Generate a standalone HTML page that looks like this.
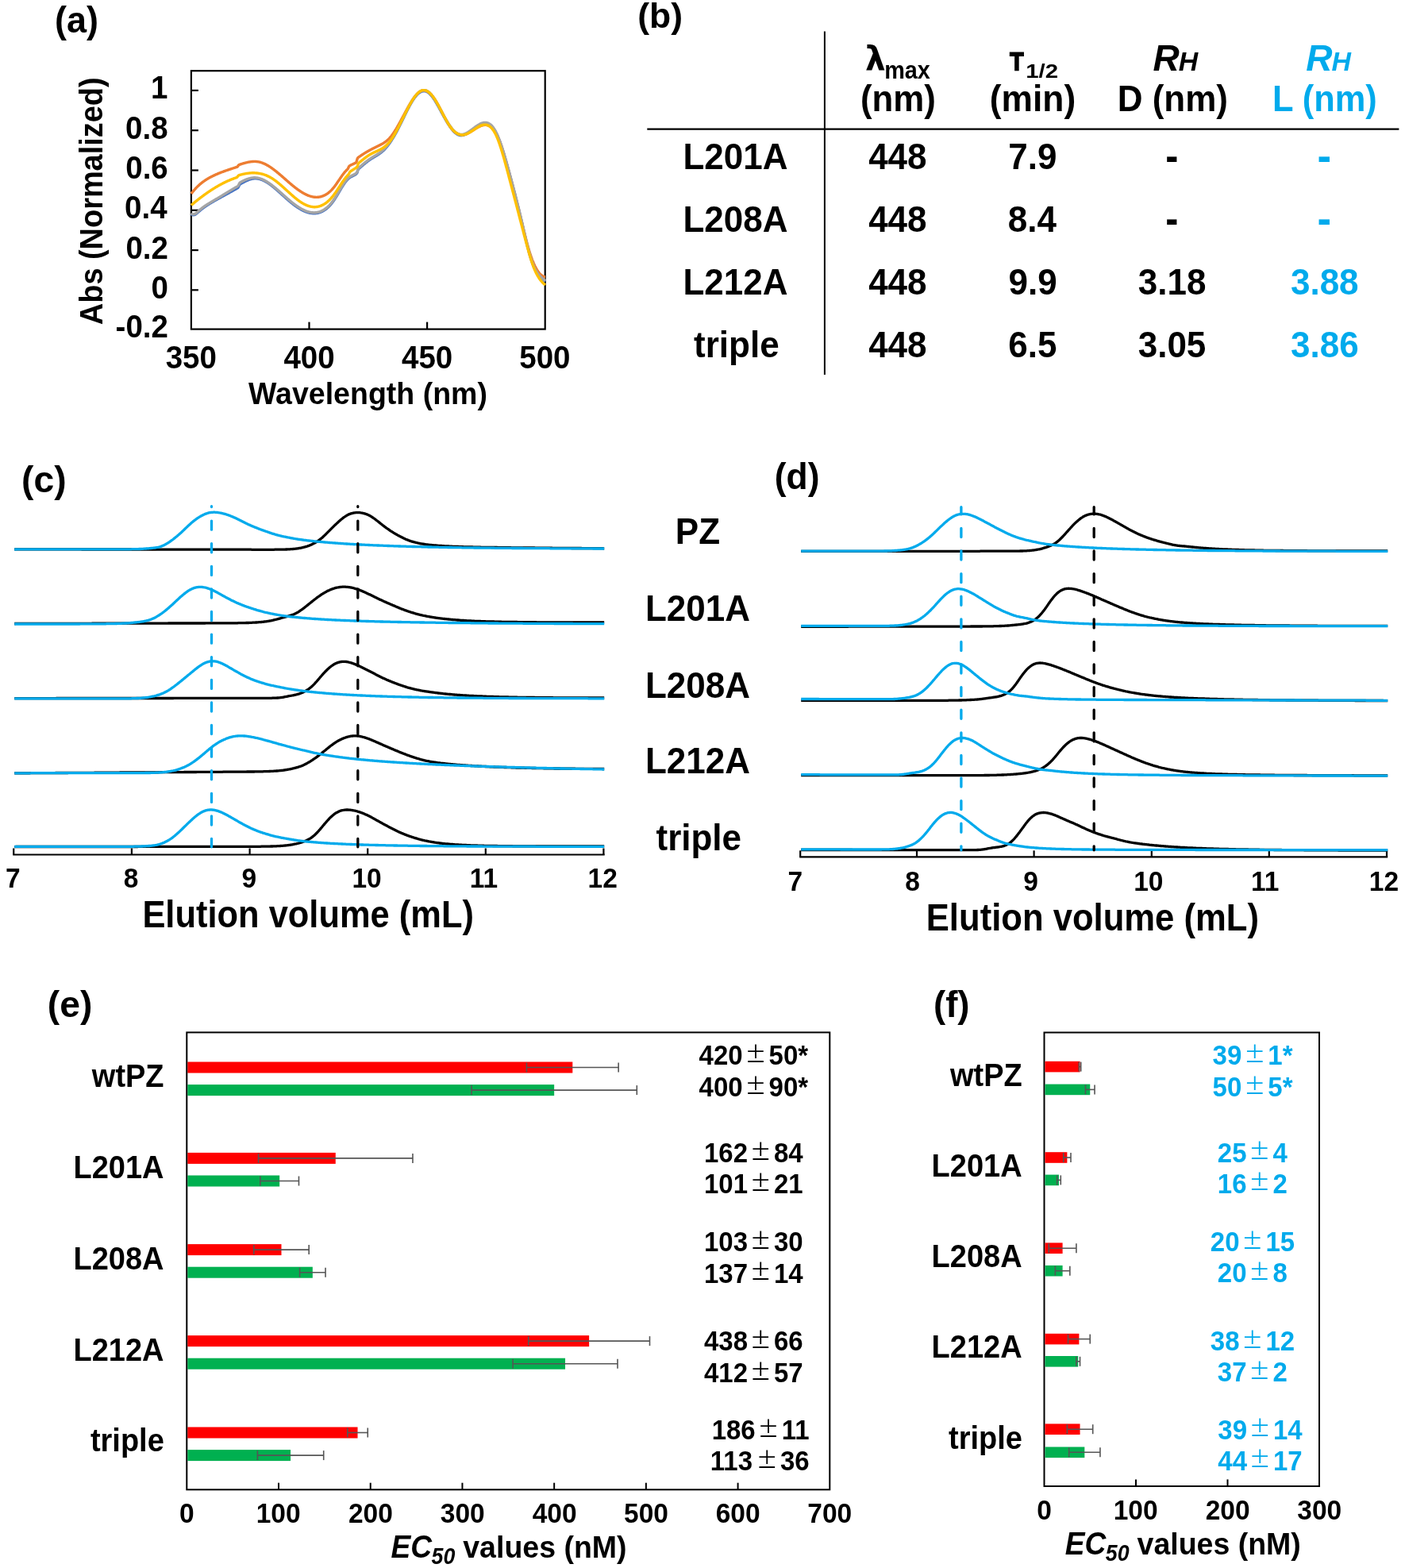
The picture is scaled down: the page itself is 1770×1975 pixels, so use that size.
<!DOCTYPE html>
<html><head><meta charset="utf-8"><title>Figure</title>
<style>html,body{margin:0;padding:0;background:#fff;}svg{display:block}text{font-family:'Liberation Sans', Arial, Helvetica, sans-serif;}</style></head>
<body><svg width="1770" height="1975" viewBox="0 0 1770 1975">
<rect width="1770" height="1975" fill="#fff"/>
<text x="0" y="0" transform="translate(68.96,41.00) scale(1.0129,1.0200)" font-size="44.5" font-weight="bold">(a)</text>
<rect x="240.9" y="89.2" width="445.8" height="325.4" fill="none" stroke="#000" stroke-width="2.2"/>
<line x1="240.90" y1="113.90" x2="249.90" y2="113.90" stroke="#000" stroke-width="2.2"/>
<line x1="240.90" y1="164.20" x2="249.90" y2="164.20" stroke="#000" stroke-width="2.2"/>
<line x1="240.90" y1="214.50" x2="249.90" y2="214.50" stroke="#000" stroke-width="2.2"/>
<line x1="240.90" y1="264.80" x2="249.90" y2="264.80" stroke="#000" stroke-width="2.2"/>
<line x1="240.90" y1="315.10" x2="249.90" y2="315.10" stroke="#000" stroke-width="2.2"/>
<line x1="240.90" y1="365.30" x2="249.90" y2="365.30" stroke="#000" stroke-width="2.2"/>
<line x1="389.50" y1="414.60" x2="389.50" y2="405.60" stroke="#000" stroke-width="2.2"/>
<line x1="538.10" y1="414.60" x2="538.10" y2="405.60" stroke="#000" stroke-width="2.2"/>
<text x="0" y="0" transform="translate(190.06,124.40) scale(1.0000,1.0500)" font-size="38.5" font-weight="bold">1</text>
<text x="0" y="0" transform="translate(158.06,174.70) scale(1.0000,1.0500)" font-size="38.5" font-weight="bold">0.8</text>
<text x="0" y="0" transform="translate(158.27,225.00) scale(1.0000,1.0500)" font-size="38.5" font-weight="bold">0.6</text>
<text x="0" y="0" transform="translate(157.09,275.30) scale(1.0000,1.0500)" font-size="38.5" font-weight="bold">0.4</text>
<text x="0" y="0" transform="translate(158.42,325.60) scale(1.0000,1.0500)" font-size="38.5" font-weight="bold">0.2</text>
<text x="0" y="0" transform="translate(190.57,375.80) scale(1.0000,1.0500)" font-size="38.5" font-weight="bold">0</text>
<text x="0" y="0" transform="translate(145.60,425.10) scale(1.0000,1.0500)" font-size="38.5" font-weight="bold">-0.2</text>
<text x="0" y="0" transform="translate(208.63,464.20) scale(1.0000,1.0500)" font-size="38.5" font-weight="bold">350</text>
<text x="0" y="0" transform="translate(357.38,464.20) scale(1.0000,1.0500)" font-size="38.5" font-weight="bold">400</text>
<text x="0" y="0" transform="translate(505.98,464.20) scale(1.0000,1.0500)" font-size="38.5" font-weight="bold">450</text>
<text x="0" y="0" transform="translate(654.28,464.20) scale(1.0000,1.0500)" font-size="38.5" font-weight="bold">500</text>
<text x="0" y="0" transform="translate(313.06,508.70) scale(1.0011,1.0500)" font-size="37.5" font-weight="bold">Wavelength (nm)</text>
<g transform="translate(129.4,408.2) rotate(-90)">
<text x="0" y="0" transform="scale(0.9979,1.05) translate(-0.95,0)" font-size="38" font-weight="bold">Abs (Normalized)</text>
</g>
<polyline points="240.9,269.5 241.4,270.0 241.9,270.3 242.4,270.6 242.9,270.7 243.4,270.8 243.9,270.8 244.4,270.7 244.9,270.6 245.4,270.4 245.9,270.2 246.4,269.9 246.9,269.5 247.4,269.1 247.9,268.7 248.4,268.3 248.9,267.9 249.4,267.4 249.9,267.0 250.4,266.5 250.9,266.1 251.4,265.7 251.9,265.3 252.4,264.8 252.9,264.4 253.4,264.0 253.9,263.6 254.4,263.2 254.9,262.8 255.4,262.5 255.9,262.1 256.4,261.7 256.9,261.3 257.4,261.0 257.9,260.6 258.4,260.3 258.9,259.9 259.4,259.6 259.9,259.3 260.4,258.9 260.9,258.6 261.4,258.3 261.9,257.9 262.4,257.6 262.9,257.3 263.4,257.0 263.9,256.7 264.4,256.4 264.9,256.1 265.4,255.8 265.9,255.5 266.4,255.2 266.9,254.9 267.4,254.6 267.9,254.3 268.4,254.0 268.9,253.7 269.4,253.4 269.9,253.1 270.4,252.9 270.9,252.6 271.4,252.3 271.9,252.0 272.4,251.7 272.9,251.5 273.4,251.2 273.9,250.9 274.4,250.6 274.9,250.3 275.4,250.1 275.9,249.8 276.4,249.5 276.9,249.2 277.4,249.0 277.9,248.7 278.4,248.4 278.9,248.1 279.4,247.9 279.9,247.6 280.4,247.3 280.9,247.0 281.4,246.8 281.9,246.5 282.4,246.2 282.9,245.9 283.4,245.7 283.9,245.4 284.4,245.1 284.9,244.8 285.4,244.6 285.9,244.3 286.4,244.0 286.9,243.8 287.4,243.5 287.9,243.2 288.4,242.9 288.9,242.7 289.4,242.4 289.9,242.1 290.4,241.8 290.9,241.5 291.4,241.3 291.9,241.0 292.4,240.7 292.9,240.4 293.4,240.2 293.9,239.9 294.4,239.6 294.9,239.3 295.4,239.0 295.9,238.7 296.4,238.5 296.9,238.2 297.4,237.9 297.9,237.6 298.4,237.3 298.9,237.0 299.4,236.7 299.9,236.3 300.4,235.6 300.9,234.6 301.4,233.4 301.9,232.6 302.4,232.1 302.9,231.7 303.4,231.4 303.9,231.1 304.4,230.9 304.9,230.6 305.4,230.3 305.9,230.0 306.4,229.8 306.9,229.5 307.4,229.2 307.9,229.0 308.4,228.7 308.9,228.5 309.4,228.2 309.9,228.0 310.4,227.7 310.9,227.5 311.4,227.3 311.9,227.1 312.4,226.9 312.9,226.7 313.4,226.5 313.9,226.3 314.4,226.2 314.9,226.0 315.4,225.8 315.9,225.7 316.4,225.6 316.9,225.4 317.4,225.3 317.9,225.2 318.4,225.1 318.9,225.1 319.4,225.0 319.9,224.9 320.4,224.9 320.9,224.9 321.4,224.9 321.9,224.9 322.4,224.9 322.9,224.9 323.4,224.9 323.9,225.0 324.4,225.0 324.9,225.1 325.4,225.2 325.9,225.3 326.4,225.4 326.9,225.5 327.4,225.7 327.9,225.8 328.4,226.0 328.9,226.1 329.4,226.3 329.9,226.5 330.4,226.7 330.9,226.9 331.4,227.1 331.9,227.4 332.4,227.6 332.9,227.8 333.4,228.1 333.9,228.4 334.4,228.6 334.9,228.9 335.4,229.2 335.9,229.5 336.4,229.8 336.9,230.1 337.4,230.4 337.9,230.8 338.4,231.1 338.9,231.4 339.4,231.8 339.9,232.1 340.4,232.5 340.9,232.9 341.4,233.2 341.9,233.6 342.4,234.0 342.9,234.4 343.4,234.8 343.9,235.2 344.4,235.6 344.9,236.0 345.4,236.4 345.9,236.8 346.4,237.2 346.9,237.7 347.4,238.1 347.9,238.5 348.4,239.0 348.9,239.4 349.4,239.8 349.9,240.3 350.4,240.7 350.9,241.2 351.4,241.6 351.9,242.1 352.4,242.5 352.9,243.0 353.4,243.4 353.9,243.9 354.4,244.3 354.9,244.8 355.4,245.2 355.9,245.7 356.4,246.1 356.9,246.6 357.4,247.0 357.9,247.5 358.4,247.9 358.9,248.4 359.4,248.8 359.9,249.3 360.4,249.7 360.9,250.2 361.4,250.6 361.9,251.1 362.4,251.5 362.9,251.9 363.4,252.4 363.9,252.8 364.4,253.2 364.9,253.6 365.4,254.1 365.9,254.5 366.4,254.9 366.9,255.3 367.4,255.7 367.9,256.1 368.4,256.5 368.9,256.9 369.4,257.3 369.9,257.7 370.4,258.1 370.9,258.4 371.4,258.8 371.9,259.2 372.4,259.5 372.9,259.9 373.4,260.2 373.9,260.6 374.4,260.9 374.9,261.3 375.4,261.6 375.9,261.9 376.4,262.2 376.9,262.5 377.4,262.8 377.9,263.1 378.4,263.4 378.9,263.7 379.4,264.0 379.9,264.3 380.4,264.5 380.9,264.8 381.4,265.0 381.9,265.3 382.4,265.5 382.9,265.8 383.4,266.0 383.9,266.2 384.4,266.4 384.9,266.6 385.4,266.8 385.9,267.0 386.4,267.2 386.9,267.3 387.4,267.5 387.9,267.6 388.4,267.8 388.9,267.9 389.4,268.0 389.9,268.1 390.4,268.3 390.9,268.3 391.4,268.4 391.9,268.5 392.4,268.6 392.9,268.6 393.4,268.7 393.9,268.7 394.4,268.8 394.9,268.8 395.4,268.8 395.9,268.8 396.4,268.8 396.9,268.7 397.4,268.7 397.9,268.7 398.4,268.6 398.9,268.5 399.4,268.5 399.9,268.4 400.4,268.3 400.9,268.1 401.4,268.0 401.9,267.9 402.4,267.7 402.9,267.6 403.4,267.4 403.9,267.2 404.4,267.0 404.9,266.8 405.4,266.6 405.9,266.3 406.4,266.1 406.9,265.8 407.4,265.5 407.9,265.2 408.4,264.9 408.9,264.6 409.4,264.3 409.9,263.9 410.4,263.6 410.9,263.2 411.4,262.8 411.9,262.4 412.4,261.9 412.9,261.5 413.4,261.0 413.9,260.6 414.4,260.1 414.9,259.5 415.4,259.0 415.9,258.5 416.4,257.9 416.9,257.3 417.4,256.7 417.9,256.1 418.4,255.5 418.9,254.8 419.4,254.1 419.9,253.5 420.4,252.7 420.9,252.0 421.4,251.3 421.9,250.5 422.4,249.7 422.9,248.9 423.4,248.1 423.9,247.3 424.4,246.5 424.9,245.7 425.4,244.8 425.9,244.0 426.4,243.1 426.9,242.3 427.4,241.4 427.9,240.6 428.4,239.8 428.9,238.9 429.4,238.1 429.9,237.2 430.4,236.4 430.9,235.6 431.4,234.8 431.9,234.0 432.4,233.2 432.9,232.5 433.4,231.7 433.9,231.0 434.4,230.3 434.9,229.6 435.4,228.9 435.9,228.3 436.4,227.7 436.9,227.1 437.4,226.5 437.9,226.0 438.4,225.5 438.9,225.0 439.4,224.6 439.9,224.2 440.4,223.8 440.9,223.4 441.4,223.1 441.9,222.8 442.4,222.6 442.9,222.3 443.4,222.1 443.9,221.8 444.4,221.6 444.9,221.4 445.4,221.1 445.9,220.9 446.4,220.6 446.9,220.3 447.4,220.0 447.9,219.7 448.4,219.3 448.9,218.9 449.4,218.4 449.9,217.6 450.4,216.1 450.9,214.3 451.4,213.2 451.9,212.6 452.4,212.1 452.9,211.7 453.4,211.2 453.9,210.8 454.4,210.4 454.9,210.0 455.4,209.5 455.9,209.1 456.4,208.7 456.9,208.2 457.4,207.8 457.9,207.4 458.4,207.0 458.9,206.6 459.4,206.2 459.9,205.7 460.4,205.3 460.9,204.9 461.4,204.5 461.9,204.2 462.4,203.8 462.9,203.4 463.4,203.0 463.9,202.6 464.4,202.3 464.9,201.9 465.4,201.6 465.9,201.2 466.4,200.9 466.9,200.6 467.4,200.2 467.9,199.9 468.4,199.6 468.9,199.3 469.4,199.0 469.9,198.7 470.4,198.4 470.9,198.1 471.4,197.8 471.9,197.5 472.4,197.2 472.9,196.9 473.4,196.6 473.9,196.3 474.4,196.0 474.9,195.7 475.4,195.4 475.9,195.1 476.4,194.7 476.9,194.4 477.4,194.1 477.9,193.7 478.4,193.4 478.9,193.0 479.4,192.6 479.9,192.2 480.4,191.8 480.9,191.4 481.4,191.0 481.9,190.6 482.4,190.1 482.9,189.7 483.4,189.2 483.9,188.7 484.4,188.2 484.9,187.7 485.4,187.1 485.9,186.6 486.4,186.0 486.9,185.4 487.4,184.8 487.9,184.2 488.4,183.6 488.9,182.9 489.4,182.3 489.9,181.6 490.4,180.9 490.9,180.2 491.4,179.5 491.9,178.8 492.4,178.0 492.9,177.3 493.4,176.5 493.9,175.7 494.4,174.9 494.9,174.1 495.4,173.3 495.9,172.5 496.4,171.6 496.9,170.8 497.4,169.9 497.9,169.0 498.4,168.2 498.9,167.3 499.4,166.3 499.9,165.4 500.4,164.5 500.9,163.5 501.4,162.6 501.9,161.6 502.4,160.6 502.9,159.6 503.4,158.6 503.9,157.6 504.4,156.6 504.9,155.6 505.4,154.6 505.9,153.6 506.4,152.5 506.9,151.5 507.4,150.5 507.9,149.4 508.4,148.4 508.9,147.4 509.4,146.3 509.9,145.3 510.4,144.3 510.9,143.3 511.4,142.2 511.9,141.2 512.4,140.2 512.9,139.2 513.4,138.3 513.9,137.3 514.4,136.3 514.9,135.4 515.4,134.4 515.9,133.5 516.4,132.6 516.9,131.7 517.4,130.8 517.9,129.9 518.4,129.1 518.9,128.2 519.4,127.4 519.9,126.6 520.4,125.8 520.9,125.1 521.4,124.4 521.9,123.6 522.4,123.0 522.9,122.3 523.4,121.7 523.9,121.1 524.4,120.5 524.9,119.9 525.4,119.4 525.9,118.9 526.4,118.4 526.9,117.9 527.4,117.5 527.9,117.1 528.4,116.8 528.9,116.4 529.4,116.1 529.9,115.8 530.4,115.6 530.9,115.3 531.4,115.2 531.9,115.0 532.4,114.9 532.9,114.8 533.4,114.7 533.9,114.7 534.4,114.7 534.9,114.7 535.4,114.7 535.9,114.8 536.4,115.0 536.9,115.1 537.4,115.3 537.9,115.6 538.4,115.8 538.9,116.1 539.4,116.5 539.9,116.8 540.4,117.2 540.9,117.7 541.4,118.1 541.9,118.7 542.4,119.2 542.9,119.7 543.4,120.3 543.9,121.0 544.4,121.6 544.9,122.3 545.4,122.9 545.9,123.7 546.4,124.4 546.9,125.1 547.4,125.9 547.9,126.7 548.4,127.5 548.9,128.3 549.4,129.2 549.9,130.0 550.4,130.9 550.9,131.8 551.4,132.6 551.9,133.5 552.4,134.4 552.9,135.3 553.4,136.3 553.9,137.2 554.4,138.1 554.9,139.0 555.4,139.9 555.9,140.9 556.4,141.8 556.9,142.7 557.4,143.6 557.9,144.6 558.4,145.5 558.9,146.4 559.4,147.3 559.9,148.2 560.4,149.0 560.9,149.9 561.4,150.8 561.9,151.6 562.4,152.5 562.9,153.3 563.4,154.2 563.9,155.0 564.4,155.8 564.9,156.6 565.4,157.3 565.9,158.1 566.4,158.8 566.9,159.6 567.4,160.3 567.9,160.9 568.4,161.6 568.9,162.3 569.4,162.9 569.9,163.5 570.4,164.1 570.9,164.7 571.4,165.2 571.9,165.8 572.4,166.3 572.9,166.7 573.4,167.2 573.9,167.6 574.4,168.0 574.9,168.4 575.4,168.7 575.9,169.0 576.4,169.3 576.9,169.6 577.4,169.8 577.9,170.0 578.4,170.2 578.9,170.3 579.4,170.4 579.9,170.5 580.4,170.5 580.9,170.5 581.4,170.5 581.9,170.5 582.4,170.4 582.9,170.4 583.4,170.3 583.9,170.1 584.4,170.0 584.9,169.8 585.4,169.7 585.9,169.5 586.4,169.2 586.9,169.0 587.4,168.8 587.9,168.5 588.4,168.2 588.9,167.9 589.4,167.6 589.9,167.3 590.4,167.0 590.9,166.7 591.4,166.3 591.9,166.0 592.4,165.6 592.9,165.3 593.4,164.9 593.9,164.5 594.4,164.2 594.9,163.8 595.4,163.4 595.9,163.1 596.4,162.7 596.9,162.3 597.4,161.9 597.9,161.6 598.4,161.2 598.9,160.8 599.4,160.5 599.9,160.1 600.4,159.8 600.9,159.4 601.4,159.1 601.9,158.8 602.4,158.5 602.9,158.2 603.4,157.9 603.9,157.6 604.4,157.3 604.9,157.1 605.4,156.8 605.9,156.6 606.4,156.4 606.9,156.2 607.4,156.0 607.9,155.9 608.4,155.7 608.9,155.6 609.4,155.5 609.9,155.5 610.4,155.4 610.9,155.4 611.4,155.4 611.9,155.4 612.4,155.5 612.9,155.5 613.4,155.6 613.9,155.8 614.4,155.9 614.9,156.1 615.4,156.3 615.9,156.6 616.4,156.9 616.9,157.2 617.4,157.5 617.9,157.9 618.4,158.3 618.9,158.8 619.4,159.3 619.9,159.8 620.4,160.4 620.9,161.0 621.4,161.7 621.9,162.3 622.4,163.1 622.9,163.9 623.4,164.7 623.9,165.5 624.4,166.4 624.9,167.4 625.4,168.4 625.9,169.4 626.4,170.5 626.9,171.7 627.4,172.8 627.9,174.1 628.4,175.3 628.9,176.6 629.4,177.9 629.9,179.3 630.4,180.7 630.9,182.1 631.4,183.6 631.9,185.1 632.4,186.6 632.9,188.2 633.4,189.7 633.9,191.3 634.4,193.0 634.9,194.6 635.4,196.3 635.9,198.0 636.4,199.7 636.9,201.4 637.4,203.1 637.9,204.9 638.4,206.7 638.9,208.5 639.4,210.3 639.9,212.1 640.4,213.9 640.9,215.7 641.4,217.5 641.9,219.4 642.4,221.2 642.9,223.0 643.4,224.9 643.9,226.7 644.4,228.6 644.9,230.5 645.4,232.4 645.9,234.2 646.4,236.1 646.9,238.0 647.4,240.0 647.9,241.9 648.4,243.8 648.9,245.7 649.4,247.7 649.9,249.6 650.4,251.6 650.9,253.6 651.4,255.6 651.9,257.6 652.4,259.6 652.9,261.6 653.4,263.6 653.9,265.7 654.4,267.7 654.9,269.8 655.4,271.9 655.9,274.0 656.4,276.1 656.9,278.2 657.4,280.4 657.9,282.5 658.4,284.7 658.9,286.9 659.4,289.1 659.9,291.3 660.4,293.4 660.9,295.6 661.4,297.7 661.9,299.9 662.4,302.0 662.9,304.0 663.4,306.1 663.9,308.1 664.4,310.1 664.9,312.0 665.4,313.9 665.9,315.8 666.4,317.7 666.9,319.5 667.4,321.2 667.9,322.9 668.4,324.6 668.9,326.2 669.4,327.8 669.9,329.3 670.4,330.8 670.9,332.2 671.4,333.5 671.9,334.8 672.4,336.0 672.9,337.2 673.4,338.3 673.9,339.3 674.4,340.3 674.9,341.3 675.4,342.2 675.9,343.0 676.4,343.8 676.9,344.6 677.4,345.3 677.9,346.0 678.4,346.6 678.9,347.2 679.4,347.8 679.9,348.3 680.4,348.9 680.9,349.4 681.4,349.9 681.9,350.3 682.4,350.8 682.9,351.2 683.4,351.6 683.9,352.0 684.4,352.4 684.9,352.9 685.4,353.3 685.9,353.7 686.4,354.1 686.9,354.5 687.0,354.6" fill="none" stroke="#4472C4" stroke-width="3.4" stroke-linejoin="round" stroke-linecap="butt" stroke-linecap="round"/>
<polyline points="240.9,244.0 241.4,243.4 241.9,242.7 242.4,242.1 242.9,241.5 243.4,240.9 243.9,240.3 244.4,239.7 244.9,239.1 245.4,238.6 245.9,238.0 246.4,237.5 246.9,236.9 247.4,236.4 247.9,235.9 248.4,235.4 248.9,234.9 249.4,234.4 249.9,234.0 250.4,233.5 250.9,233.0 251.4,232.6 251.9,232.1 252.4,231.7 252.9,231.3 253.4,230.9 253.9,230.5 254.4,230.1 254.9,229.7 255.4,229.3 255.9,228.9 256.4,228.6 256.9,228.2 257.4,227.9 257.9,227.5 258.4,227.2 258.9,226.8 259.4,226.5 259.9,226.2 260.4,225.9 260.9,225.6 261.4,225.3 261.9,225.0 262.4,224.7 262.9,224.4 263.4,224.1 263.9,223.8 264.4,223.6 264.9,223.3 265.4,223.0 265.9,222.8 266.4,222.5 266.9,222.3 267.4,222.0 267.9,221.8 268.4,221.5 268.9,221.3 269.4,221.1 269.9,220.8 270.4,220.6 270.9,220.4 271.4,220.1 271.9,219.9 272.4,219.7 272.9,219.5 273.4,219.3 273.9,219.1 274.4,218.8 274.9,218.6 275.4,218.4 275.9,218.2 276.4,218.0 276.9,217.8 277.4,217.6 277.9,217.4 278.4,217.2 278.9,217.0 279.4,216.8 279.9,216.7 280.4,216.5 280.9,216.3 281.4,216.1 281.9,215.9 282.4,215.7 282.9,215.6 283.4,215.4 283.9,215.2 284.4,215.0 284.9,214.8 285.4,214.7 285.9,214.5 286.4,214.3 286.9,214.1 287.4,214.0 287.9,213.8 288.4,213.6 288.9,213.5 289.4,213.3 289.9,213.1 290.4,213.0 290.9,212.8 291.4,212.6 291.9,212.5 292.4,212.3 292.9,212.2 293.4,212.0 293.9,211.8 294.4,211.7 294.9,211.5 295.4,211.3 295.9,211.2 296.4,211.0 296.9,210.9 297.4,210.7 297.9,210.5 298.4,210.3 298.9,210.1 299.4,209.7 299.9,209.0 300.4,208.3 300.9,207.8 301.4,207.5 301.9,207.3 302.4,207.1 302.9,206.9 303.4,206.8 303.9,206.6 304.4,206.5 304.9,206.3 305.4,206.2 305.9,206.0 306.4,205.9 306.9,205.7 307.4,205.6 307.9,205.4 308.4,205.3 308.9,205.2 309.4,205.0 309.9,204.9 310.4,204.8 310.9,204.7 311.4,204.5 311.9,204.4 312.4,204.3 312.9,204.2 313.4,204.1 313.9,204.0 314.4,204.0 314.9,203.9 315.4,203.8 315.9,203.7 316.4,203.7 316.9,203.6 317.4,203.6 317.9,203.5 318.4,203.5 318.9,203.5 319.4,203.4 319.9,203.4 320.4,203.4 320.9,203.4 321.4,203.4 321.9,203.4 322.4,203.5 322.9,203.5 323.4,203.6 323.9,203.6 324.4,203.7 324.9,203.7 325.4,203.8 325.9,203.9 326.4,204.0 326.9,204.1 327.4,204.2 327.9,204.4 328.4,204.5 328.9,204.7 329.4,204.8 329.9,205.0 330.4,205.2 330.9,205.4 331.4,205.6 331.9,205.8 332.4,206.0 332.9,206.2 333.4,206.4 333.9,206.7 334.4,206.9 334.9,207.2 335.4,207.4 335.9,207.7 336.4,208.0 336.9,208.3 337.4,208.5 337.9,208.8 338.4,209.1 338.9,209.5 339.4,209.8 339.9,210.1 340.4,210.4 340.9,210.7 341.4,211.1 341.9,211.4 342.4,211.8 342.9,212.1 343.4,212.5 343.9,212.9 344.4,213.2 344.9,213.6 345.4,214.0 345.9,214.4 346.4,214.8 346.9,215.1 347.4,215.5 347.9,215.9 348.4,216.3 348.9,216.7 349.4,217.2 349.9,217.6 350.4,218.0 350.9,218.4 351.4,218.8 351.9,219.2 352.4,219.7 352.9,220.1 353.4,220.5 353.9,220.9 354.4,221.4 354.9,221.8 355.4,222.2 355.9,222.7 356.4,223.1 356.9,223.6 357.4,224.0 357.9,224.4 358.4,224.9 358.9,225.3 359.4,225.7 359.9,226.2 360.4,226.6 360.9,227.1 361.4,227.5 361.9,227.9 362.4,228.4 362.9,228.8 363.4,229.2 363.9,229.7 364.4,230.1 364.9,230.5 365.4,231.0 365.9,231.4 366.4,231.8 366.9,232.2 367.4,232.7 367.9,233.1 368.4,233.5 368.9,233.9 369.4,234.3 369.9,234.7 370.4,235.1 370.9,235.5 371.4,235.9 371.9,236.3 372.4,236.7 372.9,237.1 373.4,237.4 373.9,237.8 374.4,238.2 374.9,238.6 375.4,238.9 375.9,239.3 376.4,239.6 376.9,240.0 377.4,240.3 377.9,240.6 378.4,241.0 378.9,241.3 379.4,241.6 379.9,241.9 380.4,242.2 380.9,242.6 381.4,242.8 381.9,243.1 382.4,243.4 382.9,243.7 383.4,244.0 383.9,244.2 384.4,244.5 384.9,244.7 385.4,245.0 385.9,245.2 386.4,245.5 386.9,245.7 387.4,245.9 387.9,246.1 388.4,246.3 388.9,246.5 389.4,246.7 389.9,246.8 390.4,247.0 390.9,247.2 391.4,247.3 391.9,247.4 392.4,247.6 392.9,247.7 393.4,247.8 393.9,247.9 394.4,248.0 394.9,248.1 395.4,248.2 395.9,248.2 396.4,248.3 396.9,248.3 397.4,248.3 397.9,248.4 398.4,248.4 398.9,248.4 399.4,248.4 399.9,248.3 400.4,248.3 400.9,248.3 401.4,248.2 401.9,248.2 402.4,248.1 402.9,248.0 403.4,247.9 403.9,247.8 404.4,247.6 404.9,247.5 405.4,247.4 405.9,247.2 406.4,247.0 406.9,246.8 407.4,246.6 407.9,246.4 408.4,246.2 408.9,246.0 409.4,245.7 409.9,245.4 410.4,245.2 410.9,244.9 411.4,244.5 411.9,244.2 412.4,243.9 412.9,243.5 413.4,243.2 413.9,242.8 414.4,242.4 414.9,241.9 415.4,241.5 415.9,241.1 416.4,240.6 416.9,240.1 417.4,239.6 417.9,239.1 418.4,238.5 418.9,238.0 419.4,237.4 419.9,236.8 420.4,236.2 420.9,235.6 421.4,234.9 421.9,234.3 422.4,233.6 422.9,232.9 423.4,232.2 423.9,231.5 424.4,230.8 424.9,230.0 425.4,229.3 425.9,228.6 426.4,227.8 426.9,227.1 427.4,226.4 427.9,225.6 428.4,224.9 428.9,224.1 429.4,223.4 429.9,222.7 430.4,222.0 430.9,221.3 431.4,220.6 431.9,219.9 432.4,219.2 432.9,218.6 433.4,217.9 433.9,217.3 434.4,216.7 434.9,216.1 435.4,215.6 435.9,215.0 436.4,214.5 436.9,214.0 437.4,213.5 437.9,213.1 438.4,212.4 438.9,211.3 439.4,210.0 439.9,209.3 440.4,208.9 440.9,208.5 441.4,208.3 441.9,208.0 442.4,207.7 442.9,207.5 443.4,207.3 443.9,207.0 444.4,206.8 444.9,206.6 445.4,206.4 445.9,206.1 446.4,205.9 446.9,205.7 447.4,205.4 447.9,205.2 448.4,204.8 448.9,204.2 449.4,202.9 449.9,200.9 450.4,199.4 450.9,198.7 451.4,198.2 451.9,197.9 452.4,197.5 452.9,197.2 453.4,196.9 453.9,196.5 454.4,196.2 454.9,195.8 455.4,195.5 455.9,195.2 456.4,194.8 456.9,194.5 457.4,194.2 457.9,193.9 458.4,193.5 458.9,193.2 459.4,192.9 459.9,192.6 460.4,192.3 460.9,192.0 461.4,191.7 461.9,191.4 462.4,191.1 462.9,190.8 463.4,190.6 463.9,190.3 464.4,190.0 464.9,189.7 465.4,189.4 465.9,189.2 466.4,188.9 466.9,188.6 467.4,188.4 467.9,188.1 468.4,187.8 468.9,187.6 469.4,187.3 469.9,187.0 470.4,186.8 470.9,186.5 471.4,186.3 471.9,186.0 472.4,185.8 472.9,185.5 473.4,185.3 473.9,185.0 474.4,184.8 474.9,184.5 475.4,184.3 475.9,184.0 476.4,183.8 476.9,183.6 477.4,183.3 477.9,183.1 478.4,182.8 478.9,182.6 479.4,182.3 479.9,182.1 480.4,181.8 480.9,181.5 481.4,181.3 481.9,181.0 482.4,180.7 482.9,180.4 483.4,180.1 483.9,179.8 484.4,179.4 484.9,179.1 485.4,178.7 485.9,178.4 486.4,178.0 486.9,177.6 487.4,177.2 487.9,176.8 488.4,176.3 488.9,175.9 489.4,175.4 489.9,174.9 490.4,174.4 490.9,173.8 491.4,173.3 491.9,172.7 492.4,172.1 492.9,171.5 493.4,170.8 493.9,170.2 494.4,169.5 494.9,168.8 495.4,168.1 495.9,167.3 496.4,166.6 496.9,165.8 497.4,165.0 497.9,164.2 498.4,163.4 498.9,162.6 499.4,161.8 499.9,160.9 500.4,160.1 500.9,159.2 501.4,158.3 501.9,157.5 502.4,156.6 502.9,155.7 503.4,154.8 503.9,153.9 504.4,152.9 504.9,152.0 505.4,151.1 505.9,150.2 506.4,149.2 506.9,148.3 507.4,147.4 507.9,146.4 508.4,145.5 508.9,144.6 509.4,143.6 509.9,142.7 510.4,141.8 510.9,140.8 511.4,139.9 511.9,139.0 512.4,138.1 512.9,137.2 513.4,136.3 513.9,135.4 514.4,134.5 514.9,133.6 515.4,132.7 515.9,131.9 516.4,131.0 516.9,130.2 517.4,129.4 517.9,128.6 518.4,127.8 518.9,127.0 519.4,126.2 519.9,125.5 520.4,124.7 520.9,124.0 521.4,123.3 521.9,122.6 522.4,122.0 522.9,121.3 523.4,120.7 523.9,120.1 524.4,119.5 524.9,119.0 525.4,118.5 525.9,118.0 526.4,117.5 526.9,117.0 527.4,116.6 527.9,116.2 528.4,115.8 528.9,115.5 529.4,115.2 529.9,114.9 530.4,114.6 530.9,114.4 531.4,114.2 531.9,114.1 532.4,114.0 532.9,113.9 533.4,113.8 533.9,113.8 534.4,113.8 534.9,113.9 535.4,113.9 535.9,114.1 536.4,114.2 536.9,114.4 537.4,114.6 537.9,114.8 538.4,115.1 538.9,115.4 539.4,115.7 539.9,116.0 540.4,116.4 540.9,116.8 541.4,117.3 541.9,117.7 542.4,118.2 542.9,118.7 543.4,119.3 543.9,119.8 544.4,120.4 544.9,121.0 545.4,121.7 545.9,122.4 546.4,123.1 546.9,123.8 547.4,124.5 547.9,125.3 548.4,126.1 548.9,126.9 549.4,127.7 549.9,128.5 550.4,129.4 550.9,130.3 551.4,131.2 551.9,132.1 552.4,133.0 552.9,133.9 553.4,134.8 553.9,135.8 554.4,136.7 554.9,137.7 555.4,138.7 555.9,139.6 556.4,140.6 556.9,141.6 557.4,142.5 557.9,143.5 558.4,144.5 558.9,145.4 559.4,146.4 559.9,147.3 560.4,148.3 560.9,149.2 561.4,150.1 561.9,151.0 562.4,151.9 562.9,152.8 563.4,153.7 563.9,154.6 564.4,155.4 564.9,156.2 565.4,157.0 565.9,157.8 566.4,158.6 566.9,159.3 567.4,160.0 567.9,160.7 568.4,161.3 568.9,162.0 569.4,162.6 569.9,163.2 570.4,163.7 570.9,164.2 571.4,164.7 571.9,165.2 572.4,165.7 572.9,166.1 573.4,166.5 573.9,166.9 574.4,167.2 574.9,167.6 575.4,167.9 575.9,168.2 576.4,168.4 576.9,168.7 577.4,168.9 577.9,169.1 578.4,169.3 578.9,169.4 579.4,169.5 579.9,169.6 580.4,169.7 580.9,169.8 581.4,169.8 581.9,169.8 582.4,169.8 582.9,169.8 583.4,169.8 583.9,169.7 584.4,169.6 584.9,169.5 585.4,169.4 585.9,169.3 586.4,169.1 586.9,169.0 587.4,168.8 587.9,168.6 588.4,168.4 588.9,168.2 589.4,167.9 589.9,167.7 590.4,167.4 590.9,167.2 591.4,166.9 591.9,166.6 592.4,166.3 592.9,166.0 593.4,165.7 593.9,165.4 594.4,165.1 594.9,164.8 595.4,164.5 595.9,164.2 596.4,163.8 596.9,163.5 597.4,163.2 597.9,162.9 598.4,162.6 598.9,162.2 599.4,161.9 599.9,161.6 600.4,161.3 600.9,161.0 601.4,160.7 601.9,160.5 602.4,160.2 602.9,159.9 603.4,159.7 603.9,159.4 604.4,159.2 604.9,158.9 605.4,158.7 605.9,158.5 606.4,158.3 606.9,158.2 607.4,158.0 607.9,157.9 608.4,157.7 608.9,157.6 609.4,157.5 609.9,157.5 610.4,157.4 610.9,157.4 611.4,157.4 611.9,157.4 612.4,157.4 612.9,157.5 613.4,157.6 613.9,157.7 614.4,157.8 614.9,158.0 615.4,158.2 615.9,158.4 616.4,158.6 616.9,158.9 617.4,159.2 617.9,159.5 618.4,159.9 618.9,160.3 619.4,160.7 619.9,161.2 620.4,161.7 620.9,162.2 621.4,162.8 621.9,163.4 622.4,164.1 622.9,164.8 623.4,165.5 623.9,166.3 624.4,167.1 624.9,167.9 625.4,168.8 625.9,169.7 626.4,170.7 626.9,171.7 627.4,172.8 627.9,173.9 628.4,175.1 628.9,176.3 629.4,177.6 629.9,178.9 630.4,180.2 630.9,181.6 631.4,183.1 631.9,184.6 632.4,186.1 632.9,187.7 633.4,189.3 633.9,190.9 634.4,192.6 634.9,194.2 635.4,196.0 635.9,197.7 636.4,199.4 636.9,201.2 637.4,203.0 637.9,204.8 638.4,206.5 638.9,208.4 639.4,210.2 639.9,212.0 640.4,213.8 640.9,215.6 641.4,217.5 641.9,219.3 642.4,221.2 642.9,223.1 643.4,224.9 643.9,226.8 644.4,228.7 644.9,230.6 645.4,232.5 645.9,234.4 646.4,236.3 646.9,238.2 647.4,240.1 647.9,242.1 648.4,244.0 648.9,246.0 649.4,247.9 649.9,249.9 650.4,251.8 650.9,253.8 651.4,255.8 651.9,257.8 652.4,259.7 652.9,261.7 653.4,263.7 653.9,265.7 654.4,267.8 654.9,269.8 655.4,271.8 655.9,273.8 656.4,275.9 656.9,277.9 657.4,280.0 657.9,282.0 658.4,284.1 658.9,286.1 659.4,288.2 659.9,290.3 660.4,292.3 660.9,294.3 661.4,296.4 661.9,298.3 662.4,300.3 662.9,302.3 663.4,304.2 663.9,306.1 664.4,308.0 664.9,309.8 665.4,311.6 665.9,313.3 666.4,315.0 666.9,316.7 667.4,318.3 667.9,319.8 668.4,321.3 668.9,322.8 669.4,324.2 669.9,325.6 670.4,327.0 670.9,328.3 671.4,329.5 671.9,330.7 672.4,331.9 672.9,333.0 673.4,334.1 673.9,335.2 674.4,336.2 674.9,337.1 675.4,338.0 675.9,338.9 676.4,339.8 676.9,340.6 677.4,341.3 677.9,342.1 678.4,342.7 678.9,343.4 679.4,344.0 679.9,344.6 680.4,345.1 680.9,345.6 681.4,346.1 681.9,346.5 682.4,346.9 682.9,347.3 683.4,347.6 683.9,347.9 684.4,348.2 684.9,348.4 685.4,348.6 685.9,348.7 686.4,348.9 686.9,349.0 687.0,349.0" fill="none" stroke="#ED7D31" stroke-width="3.4" stroke-linejoin="round" stroke-linecap="butt" stroke-linecap="round"/>
<polyline points="240.9,268.5 241.4,269.0 241.9,269.3 242.4,269.6 242.9,269.8 243.4,269.9 243.9,269.9 244.4,269.8 244.9,269.6 245.4,269.4 245.9,269.2 246.4,268.9 246.9,268.5 247.4,268.2 247.9,267.7 248.4,267.3 248.9,266.9 249.4,266.4 249.9,266.0 250.4,265.5 250.9,265.1 251.4,264.6 251.9,264.2 252.4,263.8 252.9,263.4 253.4,263.0 253.9,262.6 254.4,262.2 254.9,261.8 255.4,261.4 255.9,261.0 256.4,260.7 256.9,260.3 257.4,260.0 257.9,259.6 258.4,259.3 258.9,258.9 259.4,258.6 259.9,258.3 260.4,257.9 260.9,257.6 261.4,257.3 261.9,257.0 262.4,256.7 262.9,256.4 263.4,256.1 263.9,255.8 264.4,255.5 264.9,255.2 265.4,254.9 265.9,254.6 266.4,254.3 266.9,254.0 267.4,253.7 267.9,253.4 268.4,253.1 268.9,252.8 269.4,252.5 269.9,252.2 270.4,251.9 270.9,251.6 271.4,251.3 271.9,251.0 272.4,250.7 272.9,250.5 273.4,250.2 273.9,249.9 274.4,249.6 274.9,249.3 275.4,249.0 275.9,248.7 276.4,248.4 276.9,248.1 277.4,247.8 277.9,247.5 278.4,247.2 278.9,246.9 279.4,246.6 279.9,246.2 280.4,245.9 280.9,245.6 281.4,245.3 281.9,245.0 282.4,244.7 282.9,244.4 283.4,244.1 283.9,243.8 284.4,243.5 284.9,243.2 285.4,242.9 285.9,242.6 286.4,242.3 286.9,242.0 287.4,241.7 287.9,241.4 288.4,241.1 288.9,240.8 289.4,240.5 289.9,240.2 290.4,239.9 290.9,239.6 291.4,239.3 291.9,239.0 292.4,238.7 292.9,238.4 293.4,238.1 293.9,237.8 294.4,237.5 294.9,237.2 295.4,236.9 295.9,236.6 296.4,236.3 296.9,236.0 297.4,235.8 297.9,235.5 298.4,235.2 298.9,234.9 299.4,234.6 299.9,234.1 300.4,233.5 300.9,232.4 301.4,231.3 301.9,230.5 302.4,230.0 302.9,229.7 303.4,229.4 303.9,229.1 304.4,228.8 304.9,228.6 305.4,228.3 305.9,228.1 306.4,227.8 306.9,227.6 307.4,227.3 307.9,227.1 308.4,226.9 308.9,226.7 309.4,226.5 309.9,226.2 310.4,226.0 310.9,225.9 311.4,225.7 311.9,225.5 312.4,225.3 312.9,225.1 313.4,225.0 313.9,224.8 314.4,224.7 314.9,224.6 315.4,224.5 315.9,224.3 316.4,224.2 316.9,224.1 317.4,224.1 317.9,224.0 318.4,223.9 318.9,223.9 319.4,223.8 319.9,223.8 320.4,223.8 320.9,223.8 321.4,223.8 321.9,223.8 322.4,223.9 322.9,223.9 323.4,224.0 323.9,224.0 324.4,224.1 324.9,224.2 325.4,224.3 325.9,224.4 326.4,224.5 326.9,224.7 327.4,224.8 327.9,225.0 328.4,225.2 328.9,225.3 329.4,225.5 329.9,225.7 330.4,225.9 330.9,226.1 331.4,226.4 331.9,226.6 332.4,226.8 332.9,227.1 333.4,227.3 333.9,227.6 334.4,227.9 334.9,228.2 335.4,228.4 335.9,228.7 336.4,229.0 336.9,229.4 337.4,229.7 337.9,230.0 338.4,230.3 338.9,230.7 339.4,231.0 339.9,231.4 340.4,231.7 340.9,232.1 341.4,232.5 341.9,232.8 342.4,233.2 342.9,233.6 343.4,234.0 343.9,234.4 344.4,234.8 344.9,235.2 345.4,235.6 345.9,236.0 346.4,236.4 346.9,236.8 347.4,237.2 347.9,237.6 348.4,238.1 348.9,238.5 349.4,238.9 349.9,239.3 350.4,239.8 350.9,240.2 351.4,240.7 351.9,241.1 352.4,241.5 352.9,242.0 353.4,242.4 353.9,242.9 354.4,243.3 354.9,243.8 355.4,244.2 355.9,244.6 356.4,245.1 356.9,245.5 357.4,246.0 357.9,246.4 358.4,246.9 358.9,247.3 359.4,247.8 359.9,248.2 360.4,248.6 360.9,249.1 361.4,249.5 361.9,250.0 362.4,250.4 362.9,250.8 363.4,251.2 363.9,251.7 364.4,252.1 364.9,252.5 365.4,252.9 365.9,253.3 366.4,253.8 366.9,254.2 367.4,254.6 367.9,255.0 368.4,255.4 368.9,255.8 369.4,256.2 369.9,256.5 370.4,256.9 370.9,257.3 371.4,257.7 371.9,258.0 372.4,258.4 372.9,258.8 373.4,259.1 373.9,259.5 374.4,259.8 374.9,260.1 375.4,260.5 375.9,260.8 376.4,261.1 376.9,261.4 377.4,261.7 377.9,262.0 378.4,262.3 378.9,262.6 379.4,262.9 379.9,263.2 380.4,263.5 380.9,263.7 381.4,264.0 381.9,264.2 382.4,264.5 382.9,264.7 383.4,264.9 383.9,265.2 384.4,265.4 384.9,265.6 385.4,265.8 385.9,266.0 386.4,266.2 386.9,266.3 387.4,266.5 387.9,266.6 388.4,266.8 388.9,266.9 389.4,267.1 389.9,267.2 390.4,267.3 390.9,267.4 391.4,267.5 391.9,267.6 392.4,267.6 392.9,267.7 393.4,267.7 393.9,267.8 394.4,267.8 394.9,267.8 395.4,267.9 395.9,267.9 396.4,267.8 396.9,267.8 397.4,267.8 397.9,267.7 398.4,267.7 398.9,267.6 399.4,267.5 399.9,267.5 400.4,267.3 400.9,267.2 401.4,267.1 401.9,267.0 402.4,266.8 402.9,266.7 403.4,266.5 403.9,266.3 404.4,266.1 404.9,265.9 405.4,265.7 405.9,265.4 406.4,265.2 406.9,264.9 407.4,264.6 407.9,264.3 408.4,264.0 408.9,263.7 409.4,263.3 409.9,263.0 410.4,262.6 410.9,262.2 411.4,261.8 411.9,261.4 412.4,261.0 412.9,260.5 413.4,260.0 413.9,259.6 414.4,259.1 414.9,258.6 415.4,258.0 415.9,257.5 416.4,256.9 416.9,256.3 417.4,255.7 417.9,255.1 418.4,254.4 418.9,253.8 419.4,253.1 419.9,252.4 420.4,251.7 420.9,251.0 421.4,250.2 421.9,249.5 422.4,248.7 422.9,247.9 423.4,247.1 423.9,246.3 424.4,245.4 424.9,244.6 425.4,243.8 425.9,242.9 426.4,242.1 426.9,241.2 427.4,240.4 427.9,239.5 428.4,238.7 428.9,237.9 429.4,237.0 429.9,236.2 430.4,235.4 430.9,234.6 431.4,233.8 431.9,233.0 432.4,232.2 432.9,231.4 433.4,230.7 433.9,230.0 434.4,229.3 434.9,228.6 435.4,227.9 435.9,227.3 436.4,226.7 436.9,226.1 437.4,225.5 437.9,225.0 438.4,224.5 438.9,224.0 439.4,223.6 439.9,223.2 440.4,222.8 440.9,222.5 441.4,222.2 441.9,221.9 442.4,221.6 442.9,221.4 443.4,221.1 443.9,220.9 444.4,220.7 444.9,220.4 445.4,220.2 445.9,219.9 446.4,219.7 446.9,219.4 447.4,219.1 447.9,218.7 448.4,218.4 448.9,217.9 449.4,217.4 449.9,216.6 450.4,215.1 450.9,213.3 451.4,212.2 451.9,211.6 452.4,211.1 452.9,210.6 453.4,210.2 453.9,209.8 454.4,209.3 454.9,208.9 455.4,208.5 455.9,208.1 456.4,207.6 456.9,207.2 457.4,206.8 457.9,206.4 458.4,205.9 458.9,205.5 459.4,205.1 459.9,204.7 460.4,204.3 460.9,203.9 461.4,203.5 461.9,203.1 462.4,202.8 462.9,202.4 463.4,202.0 463.9,201.6 464.4,201.3 464.9,200.9 465.4,200.6 465.9,200.2 466.4,199.9 466.9,199.6 467.4,199.3 467.9,198.9 468.4,198.6 468.9,198.3 469.4,198.0 469.9,197.7 470.4,197.4 470.9,197.1 471.4,196.8 471.9,196.5 472.4,196.2 472.9,195.9 473.4,195.6 473.9,195.3 474.4,195.0 474.9,194.7 475.4,194.4 475.9,194.1 476.4,193.7 476.9,193.4 477.4,193.1 477.9,192.7 478.4,192.4 478.9,192.0 479.4,191.6 479.9,191.2 480.4,190.8 480.9,190.4 481.4,190.0 481.9,189.6 482.4,189.1 482.9,188.7 483.4,188.2 483.9,187.7 484.4,187.2 484.9,186.6 485.4,186.1 485.9,185.6 486.4,185.0 486.9,184.4 487.4,183.8 487.9,183.2 488.4,182.6 488.9,181.9 489.4,181.3 489.9,180.6 490.4,179.9 490.9,179.2 491.4,178.5 491.9,177.8 492.4,177.0 492.9,176.3 493.4,175.5 493.9,174.7 494.4,173.9 494.9,173.1 495.4,172.3 495.9,171.5 496.4,170.6 496.9,169.8 497.4,168.9 497.9,168.0 498.4,167.2 498.9,166.3 499.4,165.3 499.9,164.4 500.4,163.5 500.9,162.5 501.4,161.6 501.9,160.6 502.4,159.6 502.9,158.6 503.4,157.6 503.9,156.6 504.4,155.6 504.9,154.6 505.4,153.6 505.9,152.6 506.4,151.5 506.9,150.5 507.4,149.5 507.9,148.4 508.4,147.4 508.9,146.4 509.4,145.3 509.9,144.3 510.4,143.3 510.9,142.3 511.4,141.2 511.9,140.2 512.4,139.2 512.9,138.2 513.4,137.3 513.9,136.3 514.4,135.3 514.9,134.4 515.4,133.4 515.9,132.5 516.4,131.6 516.9,130.7 517.4,129.8 517.9,128.9 518.4,128.1 518.9,127.2 519.4,126.4 519.9,125.6 520.4,124.8 520.9,124.1 521.4,123.4 521.9,122.6 522.4,122.0 522.9,121.3 523.4,120.7 523.9,120.1 524.4,119.5 524.9,118.9 525.4,118.4 525.9,117.9 526.4,117.4 526.9,116.9 527.4,116.5 527.9,116.1 528.4,115.8 528.9,115.4 529.4,115.1 529.9,114.8 530.4,114.6 530.9,114.3 531.4,114.2 531.9,114.0 532.4,113.9 532.9,113.8 533.4,113.7 533.9,113.7 534.4,113.7 534.9,113.7 535.4,113.7 535.9,113.8 536.4,114.0 536.9,114.1 537.4,114.3 537.9,114.6 538.4,114.8 538.9,115.1 539.4,115.5 539.9,115.8 540.4,116.2 540.9,116.7 541.4,117.1 541.9,117.7 542.4,118.2 542.9,118.7 543.4,119.3 543.9,120.0 544.4,120.6 544.9,121.3 545.4,121.9 545.9,122.7 546.4,123.4 546.9,124.1 547.4,124.9 547.9,125.7 548.4,126.5 548.9,127.3 549.4,128.2 549.9,129.0 550.4,129.9 550.9,130.8 551.4,131.6 551.9,132.5 552.4,133.4 552.9,134.3 553.4,135.3 553.9,136.2 554.4,137.1 554.9,138.0 555.4,138.9 555.9,139.9 556.4,140.8 556.9,141.7 557.4,142.6 557.9,143.6 558.4,144.5 558.9,145.4 559.4,146.3 559.9,147.2 560.4,148.0 560.9,148.9 561.4,149.8 561.9,150.6 562.4,151.5 562.9,152.3 563.4,153.2 563.9,154.0 564.4,154.8 564.9,155.6 565.4,156.3 565.9,157.1 566.4,157.8 566.9,158.6 567.4,159.3 567.9,159.9 568.4,160.6 568.9,161.3 569.4,161.9 569.9,162.5 570.4,163.1 570.9,163.7 571.4,164.2 571.9,164.8 572.4,165.3 572.9,165.7 573.4,166.2 573.9,166.6 574.4,167.0 574.9,167.4 575.4,167.7 575.9,168.0 576.4,168.3 576.9,168.6 577.4,168.8 577.9,169.0 578.4,169.2 578.9,169.3 579.4,169.4 579.9,169.5 580.4,169.5 580.9,169.5 581.4,169.5 581.9,169.5 582.4,169.5 582.9,169.4 583.4,169.3 583.9,169.1 584.4,169.0 584.9,168.8 585.4,168.7 585.9,168.5 586.4,168.2 586.9,168.0 587.4,167.8 587.9,167.5 588.4,167.2 588.9,166.9 589.4,166.6 589.9,166.3 590.4,166.0 590.9,165.7 591.4,165.3 591.9,165.0 592.4,164.6 592.9,164.3 593.4,163.9 593.9,163.5 594.4,163.2 594.9,162.8 595.4,162.4 595.9,162.1 596.4,161.7 596.9,161.3 597.4,160.9 597.9,160.6 598.4,160.2 598.9,159.8 599.4,159.5 599.9,159.1 600.4,158.8 600.9,158.4 601.4,158.1 601.9,157.8 602.4,157.5 602.9,157.2 603.4,156.9 603.9,156.6 604.4,156.3 604.9,156.1 605.4,155.8 605.9,155.6 606.4,155.4 606.9,155.2 607.4,155.0 607.9,154.9 608.4,154.8 608.9,154.6 609.4,154.5 609.9,154.5 610.4,154.4 610.9,154.4 611.4,154.4 611.9,154.4 612.4,154.5 612.9,154.5 613.4,154.6 613.9,154.8 614.4,154.9 614.9,155.1 615.4,155.3 615.9,155.6 616.4,155.9 616.9,156.2 617.4,156.5 617.9,156.9 618.4,157.3 618.9,157.8 619.4,158.3 619.9,158.8 620.4,159.4 620.9,160.0 621.4,160.7 621.9,161.3 622.4,162.1 622.9,162.9 623.4,163.7 623.9,164.5 624.4,165.4 624.9,166.4 625.4,167.4 625.9,168.4 626.4,169.5 626.9,170.7 627.4,171.8 627.9,173.1 628.4,174.3 628.9,175.6 629.4,176.9 629.9,178.3 630.4,179.7 630.9,181.1 631.4,182.6 631.9,184.1 632.4,185.6 632.9,187.2 633.4,188.7 633.9,190.3 634.4,192.0 634.9,193.6 635.4,195.3 635.9,197.0 636.4,198.7 636.9,200.4 637.4,202.1 637.9,203.9 638.4,205.7 638.9,207.5 639.4,209.3 639.9,211.1 640.4,212.9 640.9,214.7 641.4,216.5 641.9,218.4 642.4,220.2 642.9,222.0 643.4,223.9 643.9,225.8 644.4,227.6 644.9,229.5 645.4,231.4 645.9,233.3 646.4,235.2 646.9,237.1 647.4,239.0 647.9,240.9 648.4,242.8 648.9,244.8 649.4,246.7 649.9,248.7 650.4,250.6 650.9,252.6 651.4,254.6 651.9,256.6 652.4,258.6 652.9,260.6 653.4,262.6 653.9,264.7 654.4,266.7 654.9,268.8 655.4,270.9 655.9,272.9 656.4,275.1 656.9,277.2 657.4,279.3 657.9,281.5 658.4,283.7 658.9,285.9 659.4,288.1 659.9,290.3 660.4,292.5 660.9,294.6 661.4,296.8 661.9,298.9 662.4,301.0 662.9,303.1 663.4,305.1 663.9,307.1 664.4,309.1 664.9,311.1 665.4,313.0 665.9,314.9 666.4,316.7 666.9,318.5 667.4,320.3 667.9,322.0 668.4,323.6 668.9,325.3 669.4,326.8 669.9,328.3 670.4,329.8 670.9,331.2 671.4,332.5 671.9,333.8 672.4,335.0 672.9,336.2 673.4,337.3 673.9,338.3 674.4,339.3 674.9,340.3 675.4,341.2 675.9,342.0 676.4,342.8 676.9,343.6 677.4,344.3 677.9,344.9 678.4,345.6 678.9,346.2 679.4,346.8 679.9,347.3 680.4,347.9 680.9,348.4 681.4,348.8 681.9,349.3 682.4,349.8 682.9,350.2 683.4,350.6 683.9,351.0 684.4,351.4 684.9,351.9 685.4,352.3 685.9,352.7 686.4,353.1 686.9,353.5 687.0,353.6" fill="none" stroke="#A5A5A5" stroke-width="3.4" stroke-linejoin="round" stroke-linecap="butt" stroke-linecap="round"/>
<polyline points="240.9,258.5 241.4,258.0 241.9,257.6 242.4,257.2 242.9,256.8 243.4,256.4 243.9,256.0 244.4,255.5 244.9,255.1 245.4,254.7 245.9,254.3 246.4,253.9 246.9,253.5 247.4,253.1 247.9,252.7 248.4,252.3 248.9,251.9 249.4,251.5 249.9,251.1 250.4,250.7 250.9,250.3 251.4,250.0 251.9,249.6 252.4,249.2 252.9,248.8 253.4,248.4 253.9,248.1 254.4,247.7 254.9,247.3 255.4,246.9 255.9,246.6 256.4,246.2 256.9,245.8 257.4,245.5 257.9,245.1 258.4,244.7 258.9,244.4 259.4,244.0 259.9,243.7 260.4,243.3 260.9,243.0 261.4,242.6 261.9,242.3 262.4,241.9 262.9,241.6 263.4,241.3 263.9,240.9 264.4,240.6 264.9,240.3 265.4,239.9 265.9,239.6 266.4,239.3 266.9,239.0 267.4,238.6 267.9,238.3 268.4,238.0 268.9,237.7 269.4,237.4 269.9,237.1 270.4,236.8 270.9,236.5 271.4,236.1 271.9,235.8 272.4,235.5 272.9,235.3 273.4,235.0 273.9,234.7 274.4,234.4 274.9,234.1 275.4,233.8 275.9,233.5 276.4,233.2 276.9,233.0 277.4,232.7 277.9,232.4 278.4,232.2 278.9,231.9 279.4,231.6 279.9,231.4 280.4,231.1 280.9,230.8 281.4,230.6 281.9,230.3 282.4,230.1 282.9,229.8 283.4,229.6 283.9,229.4 284.4,229.1 284.9,228.9 285.4,228.6 285.9,228.4 286.4,228.2 286.9,228.0 287.4,227.7 287.9,227.5 288.4,227.3 288.9,227.1 289.4,226.9 289.9,226.7 290.4,226.5 290.9,226.2 291.4,226.0 291.9,225.8 292.4,225.6 292.9,225.5 293.4,225.3 293.9,225.1 294.4,224.9 294.9,224.7 295.4,224.5 295.9,224.3 296.4,224.2 296.9,224.0 297.4,223.8 297.9,223.6 298.4,223.4 298.9,223.0 299.4,222.3 299.9,221.6 300.4,221.1 300.9,220.8 301.4,220.6 301.9,220.4 302.4,220.3 302.9,220.2 303.4,220.0 303.9,219.9 304.4,219.8 304.9,219.7 305.4,219.5 305.9,219.4 306.4,219.3 306.9,219.2 307.4,219.1 307.9,219.0 308.4,218.9 308.9,218.8 309.4,218.7 309.9,218.6 310.4,218.5 310.9,218.4 311.4,218.4 311.9,218.3 312.4,218.2 312.9,218.2 313.4,218.1 313.9,218.1 314.4,218.0 314.9,218.0 315.4,217.9 315.9,217.9 316.4,217.9 316.9,217.8 317.4,217.8 317.9,217.8 318.4,217.8 318.9,217.8 319.4,217.8 319.9,217.8 320.4,217.8 320.9,217.8 321.4,217.9 321.9,217.9 322.4,217.9 322.9,218.0 323.4,218.0 323.9,218.0 324.4,218.1 324.9,218.2 325.4,218.2 325.9,218.3 326.4,218.4 326.9,218.5 327.4,218.6 327.9,218.7 328.4,218.8 328.9,218.9 329.4,219.0 329.9,219.1 330.4,219.2 330.9,219.4 331.4,219.5 331.9,219.7 332.4,219.8 332.9,220.0 333.4,220.2 333.9,220.3 334.4,220.5 334.9,220.7 335.4,220.9 335.9,221.1 336.4,221.3 336.9,221.6 337.4,221.8 337.9,222.0 338.4,222.3 338.9,222.5 339.4,222.8 339.9,223.1 340.4,223.3 340.9,223.6 341.4,223.9 341.9,224.2 342.4,224.5 342.9,224.8 343.4,225.1 343.9,225.5 344.4,225.8 344.9,226.1 345.4,226.5 345.9,226.9 346.4,227.2 346.9,227.6 347.4,228.0 347.9,228.3 348.4,228.7 348.9,229.1 349.4,229.5 349.9,229.9 350.4,230.3 350.9,230.7 351.4,231.1 351.9,231.6 352.4,232.0 352.9,232.4 353.4,232.8 353.9,233.3 354.4,233.7 354.9,234.1 355.4,234.6 355.9,235.0 356.4,235.5 356.9,235.9 357.4,236.4 357.9,236.8 358.4,237.3 358.9,237.7 359.4,238.2 359.9,238.6 360.4,239.1 360.9,239.6 361.4,240.0 361.9,240.5 362.4,240.9 362.9,241.4 363.4,241.8 363.9,242.3 364.4,242.7 364.9,243.2 365.4,243.6 365.9,244.1 366.4,244.5 366.9,245.0 367.4,245.4 367.9,245.9 368.4,246.3 368.9,246.7 369.4,247.2 369.9,247.6 370.4,248.0 370.9,248.5 371.4,248.9 371.9,249.3 372.4,249.7 372.9,250.1 373.4,250.5 373.9,250.9 374.4,251.3 374.9,251.7 375.4,252.1 375.9,252.4 376.4,252.8 376.9,253.2 377.4,253.5 377.9,253.9 378.4,254.2 378.9,254.5 379.4,254.9 379.9,255.2 380.4,255.5 380.9,255.8 381.4,256.1 381.9,256.4 382.4,256.7 382.9,257.0 383.4,257.2 383.9,257.5 384.4,257.7 384.9,258.0 385.4,258.2 385.9,258.4 386.4,258.6 386.9,258.8 387.4,259.0 387.9,259.2 388.4,259.4 388.9,259.5 389.4,259.7 389.9,259.8 390.4,259.9 390.9,260.1 391.4,260.2 391.9,260.3 392.4,260.4 392.9,260.4 393.4,260.5 393.9,260.6 394.4,260.6 394.9,260.7 395.4,260.7 395.9,260.7 396.4,260.7 396.9,260.7 397.4,260.7 397.9,260.6 398.4,260.6 398.9,260.5 399.4,260.5 399.9,260.4 400.4,260.3 400.9,260.2 401.4,260.1 401.9,260.0 402.4,259.8 402.9,259.7 403.4,259.5 403.9,259.3 404.4,259.1 404.9,258.9 405.4,258.7 405.9,258.5 406.4,258.2 406.9,258.0 407.4,257.7 407.9,257.4 408.4,257.1 408.9,256.8 409.4,256.5 409.9,256.2 410.4,255.8 410.9,255.4 411.4,255.1 411.9,254.7 412.4,254.3 412.9,253.8 413.4,253.4 413.9,252.9 414.4,252.5 414.9,252.0 415.4,251.5 415.9,251.0 416.4,250.4 416.9,249.9 417.4,249.3 417.9,248.8 418.4,248.2 418.9,247.6 419.4,246.9 419.9,246.3 420.4,245.6 420.9,245.0 421.4,244.3 421.9,243.6 422.4,242.9 422.9,242.2 423.4,241.4 423.9,240.7 424.4,239.9 424.9,239.2 425.4,238.4 425.9,237.7 426.4,236.9 426.9,236.1 427.4,235.4 427.9,234.6 428.4,233.8 428.9,233.1 429.4,232.3 429.9,231.5 430.4,230.8 430.9,230.0 431.4,229.3 431.9,228.6 432.4,227.9 432.9,227.2 433.4,226.5 433.9,225.8 434.4,225.1 434.9,224.5 435.4,223.8 435.9,223.2 436.4,222.6 436.9,222.1 437.4,221.5 437.9,221.0 438.4,220.5 438.9,220.0 439.4,219.3 439.9,218.3 440.4,217.2 440.9,216.5 441.4,216.0 441.9,215.6 442.4,215.3 442.9,215.0 443.4,214.7 443.9,214.3 444.4,214.0 444.9,213.7 445.4,213.4 445.9,213.1 446.4,212.8 446.9,212.4 447.4,212.1 447.9,211.7 448.4,211.4 448.9,211.0 449.4,210.6 449.9,210.0 450.4,209.1 450.9,207.5 451.4,206.2 451.9,205.4 452.4,204.9 452.9,204.5 453.4,204.1 453.9,203.7 454.4,203.3 454.9,202.9 455.4,202.5 455.9,202.1 456.4,201.7 456.9,201.3 457.4,200.9 457.9,200.5 458.4,200.1 458.9,199.7 459.4,199.3 459.9,198.9 460.4,198.5 460.9,198.2 461.4,197.8 461.9,197.4 462.4,197.1 462.9,196.7 463.4,196.4 463.9,196.0 464.4,195.7 464.9,195.4 465.4,195.1 465.9,194.8 466.4,194.5 466.9,194.2 467.4,193.9 467.9,193.6 468.4,193.4 468.9,193.1 469.4,192.9 469.9,192.6 470.4,192.4 470.9,192.2 471.4,191.9 471.9,191.7 472.4,191.5 472.9,191.2 473.4,191.0 473.9,190.8 474.4,190.6 474.9,190.3 475.4,190.1 475.9,189.9 476.4,189.6 476.9,189.4 477.4,189.1 477.9,188.9 478.4,188.6 478.9,188.4 479.4,188.1 479.9,187.8 480.4,187.5 480.9,187.2 481.4,186.9 481.9,186.6 482.4,186.3 482.9,186.0 483.4,185.6 483.9,185.3 484.4,184.9 484.9,184.5 485.4,184.1 485.9,183.7 486.4,183.2 486.9,182.8 487.4,182.3 487.9,181.8 488.4,181.3 488.9,180.8 489.4,180.2 489.9,179.7 490.4,179.1 490.9,178.5 491.4,177.8 491.9,177.2 492.4,176.5 492.9,175.8 493.4,175.1 493.9,174.3 494.4,173.6 494.9,172.8 495.4,172.0 495.9,171.2 496.4,170.3 496.9,169.5 497.4,168.6 497.9,167.7 498.4,166.8 498.9,165.9 499.4,165.0 499.9,164.1 500.4,163.1 500.9,162.2 501.4,161.2 501.9,160.3 502.4,159.3 502.9,158.3 503.4,157.3 503.9,156.3 504.4,155.3 504.9,154.3 505.4,153.3 505.9,152.3 506.4,151.3 506.9,150.3 507.4,149.2 507.9,148.2 508.4,147.2 508.9,146.2 509.4,145.2 509.9,144.2 510.4,143.2 510.9,142.2 511.4,141.2 511.9,140.2 512.4,139.2 512.9,138.2 513.4,137.3 513.9,136.3 514.4,135.3 514.9,134.4 515.4,133.5 515.9,132.6 516.4,131.7 516.9,130.8 517.4,129.9 517.9,129.0 518.4,128.2 518.9,127.4 519.4,126.5 519.9,125.8 520.4,125.0 520.9,124.2 521.4,123.5 521.9,122.8 522.4,122.1 522.9,121.4 523.4,120.7 523.9,120.1 524.4,119.5 524.9,118.9 525.4,118.4 525.9,117.8 526.4,117.3 526.9,116.9 527.4,116.4 527.9,116.0 528.4,115.6 528.9,115.3 529.4,115.0 529.9,114.7 530.4,114.4 530.9,114.2 531.4,114.0 531.9,113.8 532.4,113.7 532.9,113.6 533.4,113.6 533.9,113.6 534.4,113.6 534.9,113.7 535.4,113.8 535.9,113.9 536.4,114.0 536.9,114.2 537.4,114.4 537.9,114.7 538.4,115.0 538.9,115.3 539.4,115.6 539.9,116.0 540.4,116.4 540.9,116.8 541.4,117.2 541.9,117.7 542.4,118.2 542.9,118.8 543.4,119.3 543.9,119.9 544.4,120.5 544.9,121.1 545.4,121.8 545.9,122.5 546.4,123.2 546.9,123.9 547.4,124.7 547.9,125.4 548.4,126.2 548.9,127.0 549.4,127.8 549.9,128.7 550.4,129.5 550.9,130.4 551.4,131.3 551.9,132.2 552.4,133.1 552.9,134.0 553.4,135.0 553.9,135.9 554.4,136.8 554.9,137.8 555.4,138.7 555.9,139.7 556.4,140.6 556.9,141.6 557.4,142.6 557.9,143.5 558.4,144.5 558.9,145.4 559.4,146.4 559.9,147.3 560.4,148.2 560.9,149.2 561.4,150.1 561.9,151.0 562.4,151.9 562.9,152.7 563.4,153.6 563.9,154.4 564.4,155.3 564.9,156.1 565.4,156.9 565.9,157.7 566.4,158.4 566.9,159.1 567.4,159.9 567.9,160.5 568.4,161.2 568.9,161.8 569.4,162.4 569.9,163.0 570.4,163.6 570.9,164.1 571.4,164.6 571.9,165.1 572.4,165.6 572.9,166.0 573.4,166.4 573.9,166.8 574.4,167.2 574.9,167.5 575.4,167.9 575.9,168.2 576.4,168.4 576.9,168.7 577.4,168.9 577.9,169.1 578.4,169.3 578.9,169.5 579.4,169.6 579.9,169.7 580.4,169.8 580.9,169.9 581.4,169.9 581.9,170.0 582.4,170.0 582.9,170.0 583.4,169.9 583.9,169.9 584.4,169.8 584.9,169.7 585.4,169.6 585.9,169.4 586.4,169.3 586.9,169.1 587.4,168.9 587.9,168.7 588.4,168.5 588.9,168.3 589.4,168.0 589.9,167.8 590.4,167.5 590.9,167.2 591.4,167.0 591.9,166.7 592.4,166.4 592.9,166.1 593.4,165.7 593.9,165.4 594.4,165.1 594.9,164.8 595.4,164.4 595.9,164.1 596.4,163.8 596.9,163.4 597.4,163.1 597.9,162.8 598.4,162.4 598.9,162.1 599.4,161.8 599.9,161.4 600.4,161.1 600.9,160.8 601.4,160.5 601.9,160.2 602.4,159.9 602.9,159.6 603.4,159.3 603.9,159.1 604.4,158.8 604.9,158.6 605.4,158.3 605.9,158.1 606.4,157.9 606.9,157.8 607.4,157.6 607.9,157.5 608.4,157.3 608.9,157.2 609.4,157.2 609.9,157.1 610.4,157.1 610.9,157.1 611.4,157.1 611.9,157.1 612.4,157.2 612.9,157.3 613.4,157.4 613.9,157.6 614.4,157.8 614.9,158.0 615.4,158.2 615.9,158.5 616.4,158.8 616.9,159.2 617.4,159.6 617.9,160.0 618.4,160.4 618.9,160.9 619.4,161.5 619.9,162.1 620.4,162.7 620.9,163.4 621.4,164.1 621.9,164.8 622.4,165.6 622.9,166.5 623.4,167.3 623.9,168.3 624.4,169.3 624.9,170.3 625.4,171.4 625.9,172.5 626.4,173.7 626.9,174.9 627.4,176.2 627.9,177.5 628.4,178.9 628.9,180.3 629.4,181.7 629.9,183.2 630.4,184.7 630.9,186.3 631.4,187.8 631.9,189.4 632.4,191.1 632.9,192.7 633.4,194.4 633.9,196.1 634.4,197.9 634.9,199.6 635.4,201.4 635.9,203.2 636.4,205.0 636.9,206.8 637.4,208.7 637.9,210.5 638.4,212.4 638.9,214.3 639.4,216.1 639.9,218.0 640.4,219.9 640.9,221.8 641.4,223.7 641.9,225.6 642.4,227.5 642.9,229.4 643.4,231.2 643.9,233.1 644.4,235.0 644.9,236.9 645.4,238.8 645.9,240.7 646.4,242.6 646.9,244.5 647.4,246.4 647.9,248.3 648.4,250.2 648.9,252.1 649.4,254.0 649.9,255.9 650.4,257.8 650.9,259.7 651.4,261.6 651.9,263.6 652.4,265.5 652.9,267.4 653.4,269.3 653.9,271.2 654.4,273.1 654.9,275.1 655.4,277.0 655.9,278.9 656.4,280.8 656.9,282.7 657.4,284.7 657.9,286.6 658.4,288.5 658.9,290.4 659.4,292.4 659.9,294.3 660.4,296.2 660.9,298.1 661.4,300.0 661.9,301.9 662.4,303.8 662.9,305.7 663.4,307.6 663.9,309.5 664.4,311.3 664.9,313.1 665.4,314.9 665.9,316.7 666.4,318.5 666.9,320.2 667.4,321.9 667.9,323.6 668.4,325.3 668.9,326.9 669.4,328.4 669.9,330.0 670.4,331.5 670.9,332.9 671.4,334.3 671.9,335.7 672.4,337.0 672.9,338.2 673.4,339.5 673.9,340.6 674.4,341.7 674.9,342.8 675.4,343.9 675.9,344.8 676.4,345.8 676.9,346.7 677.4,347.6 677.9,348.4 678.4,349.2 678.9,350.0 679.4,350.8 679.9,351.5 680.4,352.2 680.9,352.8 681.4,353.4 681.9,354.0 682.4,354.6 682.9,355.2 683.4,355.7 683.9,356.2 684.4,356.7 684.9,357.2 685.4,357.6 685.9,358.1 686.4,358.5 686.9,358.9 687.0,359.0" fill="none" stroke="#FFC000" stroke-width="3.4" stroke-linejoin="round" stroke-linecap="butt" stroke-linecap="round"/>
<text x="0" y="0" transform="translate(803.18,35.00) scale(1.0116,1.0200)" font-size="44" font-weight="bold">(b)</text>
<line x1="1038.90" y1="39.50" x2="1038.90" y2="472.00" stroke="#000" stroke-width="2"/>
<line x1="815.30" y1="162.60" x2="1762.40" y2="162.60" stroke="#000" stroke-width="2.2"/>
<text x="0" y="0" transform="translate(1090.0,88.8) scale(0.968,1)" font-size="41.84" font-weight="bold" style="font-family:'DejaVu Sans', 'Liberation Sans', sans-serif">λ</text>
<text x="0" y="0" transform="translate(1114.20,98.50) scale(0.9154,1.0000)" font-size="31.5" font-weight="bold">max</text>
<text x="0" y="0" transform="translate(1272.6,87.9) scale(0.856,1)" font-size="42.2" stroke="#000" stroke-width="2.6" stroke-linejoin="miter" style="font-family:'WenQuanYi Zen Hei', 'Liberation Sans', sans-serif">τ</text>
<text x="0" y="0" transform="translate(1292.15,98.30) scale(0.9499,0.7900)" font-size="31" font-weight="bold">1/2</text>
<text x="0" y="0" transform="translate(1452.49,88.80) scale(1.0456,1.0300)" font-size="44" font-style="italic" font-weight="bold">R</text>
<text x="0" y="0" transform="translate(1484.81,88.80) scale(0.9944,1.0000)" font-size="34" font-style="italic" font-weight="bold">H</text>
<text x="0" y="0" transform="translate(1645.29,88.80) scale(1.0456,1.0300)" font-size="44" font-style="italic" font-weight="bold" fill="#00AAEC">R</text>
<text x="0" y="0" transform="translate(1677.61,88.80) scale(0.9944,1.0000)" font-size="34" font-style="italic" font-weight="bold" fill="#00AAEC">H</text>
<text x="0" y="0" transform="translate(1083.91,140.40) scale(0.9976,1.0500)" font-size="44" font-weight="bold">(nm)</text>
<text x="0" y="0" transform="translate(1246.79,140.40) scale(1.0083,1.0500)" font-size="44" font-weight="bold">(min)</text>
<text x="0" y="0" transform="translate(1407.66,140.40) scale(1.0002,1.0500)" font-size="44" font-weight="bold">D (nm)</text>
<text x="0" y="0" transform="translate(1602.89,140.40) scale(0.9878,1.0500)" font-size="44" font-weight="bold" fill="#00AAEC">L (nm)</text>
<text x="0" y="0" transform="translate(860.48,212.90) scale(1.0000,1.0500)" font-size="44" font-weight="bold">L201A</text>
<text x="0" y="0" transform="translate(1094.14,212.90) scale(1.0000,1.0500)" font-size="44" font-weight="bold">448</text>
<text x="0" y="0" transform="translate(1270.29,212.90) scale(1.0000,1.0500)" font-size="44" font-weight="bold">7.9</text>
<text x="0" y="0" transform="translate(1468.16,215.10) scale(0.8651,1.0000)" font-size="56" font-weight="bold">-</text>
<text x="0" y="0" transform="translate(1659.54,215.10) scale(0.9424,1.0000)" font-size="56" font-weight="bold" fill="#00AAEC">-</text>
<text x="0" y="0" transform="translate(860.48,292.20) scale(1.0000,1.0500)" font-size="44" font-weight="bold">L208A</text>
<text x="0" y="0" transform="translate(1094.14,292.20) scale(1.0000,1.0500)" font-size="44" font-weight="bold">448</text>
<text x="0" y="0" transform="translate(1269.84,292.20) scale(1.0000,1.0500)" font-size="44" font-weight="bold">8.4</text>
<text x="0" y="0" transform="translate(1468.16,294.40) scale(0.8651,1.0000)" font-size="56" font-weight="bold">-</text>
<text x="0" y="0" transform="translate(1659.54,294.40) scale(0.9424,1.0000)" font-size="56" font-weight="bold" fill="#00AAEC">-</text>
<text x="0" y="0" transform="translate(860.48,370.60) scale(1.0000,1.0500)" font-size="44" font-weight="bold">L212A</text>
<text x="0" y="0" transform="translate(1094.14,370.60) scale(1.0000,1.0500)" font-size="44" font-weight="bold">448</text>
<text x="0" y="0" transform="translate(1270.47,370.60) scale(1.0000,1.0500)" font-size="44" font-weight="bold">9.9</text>
<text x="0" y="0" transform="translate(1433.75,370.60) scale(1.0000,1.0500)" font-size="44" font-weight="bold">3.18</text>
<text x="0" y="0" transform="translate(1625.95,370.60) scale(1.0000,1.0500)" font-size="44" font-weight="bold" fill="#00AAEC">3.88</text>
<text x="0" y="0" transform="translate(874.10,449.80) scale(1.0000,1.0500)" font-size="44" font-weight="bold">triple</text>
<text x="0" y="0" transform="translate(1094.14,449.80) scale(1.0000,1.0500)" font-size="44" font-weight="bold">448</text>
<text x="0" y="0" transform="translate(1270.22,449.80) scale(1.0000,1.0500)" font-size="44" font-weight="bold">6.5</text>
<text x="0" y="0" transform="translate(1433.69,449.80) scale(1.0000,1.0500)" font-size="44" font-weight="bold">3.05</text>
<text x="0" y="0" transform="translate(1626.07,449.80) scale(1.0000,1.0500)" font-size="44" font-weight="bold" fill="#00AAEC">3.86</text>
<text x="0" y="0" transform="translate(27.09,620.30) scale(1.0410,1.0200)" font-size="44.5" font-weight="bold">(c)</text>
<text x="0" y="0" transform="translate(975.79,616.00) scale(0.9983,1.0200)" font-size="44.5" font-weight="bold">(d)</text>
<line x1="16.20" y1="1076.50" x2="761.70" y2="1076.50" stroke="#000" stroke-width="2.2"/>
<line x1="17.20" y1="1076.50" x2="17.20" y2="1068.50" stroke="#000" stroke-width="2.2"/>
<line x1="165.90" y1="1076.50" x2="165.90" y2="1068.50" stroke="#000" stroke-width="2.2"/>
<line x1="314.60" y1="1076.50" x2="314.60" y2="1068.50" stroke="#000" stroke-width="2.2"/>
<line x1="463.20" y1="1076.50" x2="463.20" y2="1068.50" stroke="#000" stroke-width="2.2"/>
<line x1="611.80" y1="1076.50" x2="611.80" y2="1068.50" stroke="#000" stroke-width="2.2"/>
<line x1="760.40" y1="1076.50" x2="760.40" y2="1068.50" stroke="#000" stroke-width="2.2"/>
<text x="0" y="0" transform="translate(7.10,1117.80) scale(1.0000,1.0500)" font-size="33.5" font-weight="bold">7</text>
<text x="0" y="0" transform="translate(155.77,1117.80) scale(1.0000,1.0500)" font-size="33.5" font-weight="bold">8</text>
<text x="0" y="0" transform="translate(304.53,1117.80) scale(1.0000,1.0500)" font-size="33.5" font-weight="bold">9</text>
<text x="0" y="0" transform="translate(443.40,1117.80) scale(1.0000,1.0500)" font-size="33.5" font-weight="bold">10</text>
<text x="0" y="0" transform="translate(591.78,1117.80) scale(1.0000,1.0500)" font-size="33.5" font-weight="bold">11</text>
<text x="0" y="0" transform="translate(740.58,1117.80) scale(1.0000,1.0500)" font-size="33.5" font-weight="bold">12</text>
<text x="0" y="0" transform="translate(179.39,1167.90) scale(0.9551,1.0500)" font-size="45.5" font-weight="bold">Elution volume (mL)</text>
<polyline points="18.2,691.8 19.2,691.8 20.2,691.8 21.2,691.8 22.2,691.8 23.2,691.8 24.2,691.8 25.2,691.8 26.2,691.8 27.2,691.8 28.2,691.8 29.2,691.8 30.2,691.8 31.2,691.8 32.2,691.9 33.2,691.9 34.2,691.9 35.2,691.9 36.2,691.9 37.2,691.9 38.2,691.9 39.2,691.9 40.2,691.9 41.2,691.9 42.2,691.9 43.2,691.9 44.2,691.9 45.2,691.9 46.2,691.9 47.2,691.9 48.2,691.9 49.2,691.9 50.2,691.9 51.2,691.9 52.2,691.9 53.2,691.9 54.2,691.9 55.2,691.9 56.2,691.9 57.2,691.9 58.2,691.9 59.2,691.9 60.2,691.9 61.2,691.9 62.2,691.9 63.2,691.9 64.2,691.9 65.2,691.9 66.2,691.9 67.2,691.9 68.2,691.9 69.2,691.9 70.2,691.9 71.2,691.9 72.2,691.9 73.2,691.9 74.2,691.9 75.2,691.9 76.2,691.9 77.2,691.9 78.2,691.9 79.2,691.9 80.2,691.9 81.2,691.9 82.2,691.9 83.2,691.9 84.2,691.9 85.2,691.9 86.2,691.9 87.2,691.9 88.2,691.9 89.2,691.9 90.2,691.9 91.2,691.9 92.2,691.9 93.2,691.9 94.2,691.9 95.2,691.9 96.2,691.9 97.2,691.9 98.2,691.9 99.2,691.9 100.2,691.9 101.2,691.9 102.2,691.9 103.2,692.0 104.2,692.0 105.2,692.0 106.2,692.0 107.2,692.0 108.2,692.0 109.2,692.0 110.2,692.0 111.2,692.0 112.2,692.0 113.2,692.0 114.2,692.0 115.2,692.0 116.2,692.0 117.2,692.0 118.2,692.0 119.2,692.0 120.2,692.0 121.2,692.0 122.2,692.0 123.2,692.0 124.2,692.0 125.2,692.0 126.2,692.0 127.2,692.0 128.2,692.0 129.2,692.0 130.2,692.0 131.2,692.0 132.2,692.0 133.2,692.0 134.2,692.0 135.2,692.0 136.2,692.0 137.2,692.0 138.2,692.0 139.2,692.0 140.2,692.0 141.2,692.0 142.2,692.0 143.2,692.0 144.2,692.0 145.2,692.0 146.2,692.0 147.2,692.0 148.2,692.0 149.2,692.0 150.2,692.0 151.2,692.0 152.2,692.0 153.2,692.0 154.2,692.0 155.2,692.0 156.2,692.0 157.2,692.0 158.2,692.0 159.2,692.0 160.2,692.0 161.2,692.0 162.2,692.0 163.2,692.0 164.2,692.0 165.2,692.0 166.2,692.0 167.2,692.0 168.2,692.0 169.2,692.0 170.2,692.0 171.2,692.0 172.2,692.0 173.2,692.0 174.2,692.0 175.2,692.1 176.2,692.1 177.2,692.1 178.2,692.1 179.2,692.1 180.2,692.1 181.2,692.1 182.2,692.1 183.2,692.1 184.2,692.1 185.2,692.1 186.2,692.1 187.2,692.1 188.2,692.1 189.2,692.1 190.2,692.1 191.2,692.1 192.2,692.1 193.2,692.1 194.2,692.1 195.2,692.1 196.2,692.1 197.2,692.1 198.2,692.1 199.2,692.1 200.2,692.1 201.2,692.1 202.2,692.1 203.2,692.1 204.2,692.1 205.2,692.1 206.2,692.1 207.2,692.1 208.2,692.1 209.2,692.1 210.2,692.1 211.2,692.1 212.2,692.1 213.2,692.1 214.2,692.1 215.2,692.1 216.2,692.1 217.2,692.1 218.2,692.1 219.2,692.1 220.2,692.1 221.2,692.1 222.2,692.1 223.2,692.1 224.2,692.1 225.2,692.1 226.2,692.1 227.2,692.1 228.2,692.1 229.2,692.1 230.2,692.1 231.2,692.1 232.2,692.1 233.2,692.1 234.2,692.1 235.2,692.1 236.2,692.1 237.2,692.1 238.2,692.1 239.2,692.1 240.2,692.1 241.2,692.1 242.2,692.1 243.2,692.1 244.2,692.1 245.2,692.1 246.2,692.2 247.2,692.2 248.2,692.2 249.2,692.2 250.2,692.2 251.2,692.2 252.2,692.2 253.2,692.2 254.2,692.2 255.2,692.2 256.2,692.2 257.2,692.2 258.2,692.2 259.2,692.2 260.2,692.2 261.2,692.2 262.2,692.2 263.2,692.2 264.2,692.2 265.2,692.2 266.2,692.2 267.2,692.2 268.2,692.2 269.2,692.2 270.2,692.2 271.2,692.2 272.2,692.2 273.2,692.2 274.2,692.2 275.2,692.2 276.2,692.2 277.2,692.2 278.2,692.2 279.2,692.2 280.2,692.2 281.2,692.2 282.2,692.2 283.2,692.2 284.2,692.2 285.2,692.2 286.2,692.2 287.2,692.2 288.2,692.2 289.2,692.2 290.2,692.2 291.2,692.2 292.2,692.2 293.2,692.2 294.2,692.2 295.2,692.2 296.2,692.2 297.2,692.2 298.2,692.2 299.2,692.2 300.2,692.2 301.2,692.2 302.2,692.2 303.2,692.2 304.2,692.2 305.2,692.2 306.2,692.2 307.2,692.2 308.2,692.2 309.2,692.2 310.2,692.2 311.2,692.2 312.2,692.2 313.2,692.2 314.2,692.2 315.2,692.2 316.2,692.2 317.2,692.3 318.2,692.3 319.2,692.3 320.2,692.3 321.2,692.3 322.2,692.3 323.2,692.3 324.2,692.3 325.2,692.3 326.2,692.3 327.2,692.3 328.2,692.3 329.2,692.3 330.2,692.3 331.2,692.3 332.2,692.3 333.2,692.3 334.2,692.3 335.2,692.3 336.2,692.3 337.2,692.3 338.2,692.3 339.2,692.3 340.2,692.3 341.2,692.3 342.2,692.3 343.2,692.3 344.2,692.3 345.2,692.3 346.2,692.2 347.2,692.2 348.2,692.2 349.2,692.2 350.2,692.2 351.2,692.2 352.2,692.2 353.2,692.2 354.2,692.2 355.2,692.1 356.2,692.1 357.2,692.1 358.2,692.1 359.2,692.1 360.2,692.0 361.2,692.0 362.2,691.9 363.2,691.9 364.2,691.9 365.2,691.8 366.2,691.7 367.2,691.7 368.2,691.6 369.2,691.5 370.2,691.4 371.2,691.3 372.2,691.2 373.2,691.1 374.2,690.9 375.2,690.8 376.2,690.6 377.2,690.4 378.2,690.3 379.2,690.1 380.2,689.9 381.2,689.6 382.2,689.4 383.2,689.1 384.2,688.9 385.2,688.6 386.2,688.3 387.2,688.0 388.2,687.6 389.2,687.3 390.2,686.9 391.2,686.5 392.2,686.0 393.2,685.6 394.2,685.1 395.2,684.6 396.2,684.1 397.2,683.5 398.2,682.9 399.2,682.3 400.2,681.6 401.2,680.9 402.2,680.2 403.2,679.4 404.2,678.6 405.2,677.8 406.2,676.9 407.2,676.0 408.2,675.1 409.2,674.1 410.2,673.2 411.2,672.2 412.2,671.2 413.2,670.2 414.2,669.2 415.2,668.2 416.2,667.2 417.2,666.2 418.2,665.2 419.2,664.2 420.2,663.2 421.2,662.2 422.2,661.2 423.2,660.3 424.2,659.3 425.2,658.4 426.2,657.5 427.2,656.6 428.2,655.7 429.2,654.8 430.2,654.0 431.2,653.2 432.2,652.4 433.2,651.7 434.2,651.0 435.2,650.3 436.2,649.7 437.2,649.1 438.2,648.6 439.2,648.1 440.2,647.6 441.2,647.2 442.2,646.9 443.2,646.6 444.2,646.3 445.2,646.1 446.2,645.9 447.2,645.8 448.2,645.7 449.2,645.6 450.2,645.6 451.2,645.6 452.2,645.7 453.2,645.7 454.2,645.8 455.2,646.0 456.2,646.2 457.2,646.4 458.2,646.6 459.2,646.9 460.2,647.2 461.2,647.5 462.2,647.9 463.2,648.3 464.2,648.7 465.2,649.2 466.2,649.8 467.2,650.3 468.2,651.0 469.2,651.6 470.2,652.3 471.2,653.0 472.2,653.7 473.2,654.5 474.2,655.3 475.2,656.0 476.2,656.8 477.2,657.6 478.2,658.4 479.2,659.2 480.2,660.0 481.2,660.8 482.2,661.6 483.2,662.3 484.2,663.1 485.2,663.8 486.2,664.6 487.2,665.3 488.2,666.0 489.2,666.7 490.2,667.4 491.2,668.1 492.2,668.8 493.2,669.4 494.2,670.0 495.2,670.7 496.2,671.3 497.2,671.9 498.2,672.5 499.2,673.0 500.2,673.6 501.2,674.2 502.2,674.7 503.2,675.2 504.2,675.8 505.2,676.3 506.2,676.8 507.2,677.3 508.2,677.8 509.2,678.3 510.2,678.7 511.2,679.2 512.2,679.6 513.2,680.0 514.2,680.4 515.2,680.8 516.2,681.1 517.2,681.5 518.2,681.8 519.2,682.1 520.2,682.4 521.2,682.7 522.2,683.0 523.2,683.2 524.2,683.5 525.2,683.7 526.2,684.0 527.2,684.2 528.2,684.4 529.2,684.6 530.2,684.8 531.2,684.9 532.2,685.1 533.2,685.2 534.2,685.4 535.2,685.5 536.2,685.7 537.2,685.8 538.2,685.9 539.2,686.1 540.2,686.2 541.2,686.3 542.2,686.4 543.2,686.5 544.2,686.6 545.2,686.7 546.2,686.8 547.2,686.9 548.2,687.0 549.2,687.0 550.2,687.1 551.2,687.2 552.2,687.3 553.2,687.3 554.2,687.4 555.2,687.5 556.2,687.5 557.2,687.6 558.2,687.7 559.2,687.7 560.2,687.8 561.2,687.8 562.2,687.9 563.2,687.9 564.2,688.0 565.2,688.0 566.2,688.1 567.2,688.1 568.2,688.2 569.2,688.2 570.2,688.3 571.2,688.3 572.2,688.3 573.2,688.4 574.2,688.4 575.2,688.5 576.2,688.5 577.2,688.5 578.2,688.6 579.2,688.6 580.2,688.6 581.2,688.7 582.2,688.7 583.2,688.7 584.2,688.8 585.2,688.8 586.2,688.8 587.2,688.8 588.2,688.9 589.2,688.9 590.2,688.9 591.2,688.9 592.2,689.0 593.2,689.0 594.2,689.0 595.2,689.0 596.2,689.1 597.2,689.1 598.2,689.1 599.2,689.1 600.2,689.1 601.2,689.2 602.2,689.2 603.2,689.2 604.2,689.2 605.2,689.2 606.2,689.3 607.2,689.3 608.2,689.3 609.2,689.3 610.2,689.3 611.2,689.3 612.2,689.3 613.2,689.4 614.2,689.4 615.2,689.4 616.2,689.4 617.2,689.4 618.2,689.4 619.2,689.5 620.2,689.5 621.2,689.5 622.2,689.5 623.2,689.5 624.2,689.5 625.2,689.5 626.2,689.5 627.2,689.6 628.2,689.6 629.2,689.6 630.2,689.6 631.2,689.6 632.2,689.6 633.2,689.6 634.2,689.6 635.2,689.7 636.2,689.7 637.2,689.7 638.2,689.7 639.2,689.7 640.2,689.7 641.2,689.7 642.2,689.7 643.2,689.7 644.2,689.8 645.2,689.8 646.2,689.8 647.2,689.8 648.2,689.8 649.2,689.8 650.2,689.8 651.2,689.8 652.2,689.8 653.2,689.9 654.2,689.9 655.2,689.9 656.2,689.9 657.2,689.9 658.2,689.9 659.2,689.9 660.2,689.9 661.2,689.9 662.2,689.9 663.2,690.0 664.2,690.0 665.2,690.0 666.2,690.0 667.2,690.0 668.2,690.0 669.2,690.0 670.2,690.0 671.2,690.0 672.2,690.0 673.2,690.0 674.2,690.1 675.2,690.1 676.2,690.1 677.2,690.1 678.2,690.1 679.2,690.1 680.2,690.1 681.2,690.1 682.2,690.1 683.2,690.1 684.2,690.1 685.2,690.2 686.2,690.2 687.2,690.2 688.2,690.2 689.2,690.2 690.2,690.2 691.2,690.2 692.2,690.2 693.2,690.2 694.2,690.2 695.2,690.2 696.2,690.3 697.2,690.3 698.2,690.3 699.2,690.3 700.2,690.3 701.2,690.3 702.2,690.3 703.2,690.3 704.2,690.3 705.2,690.3 706.2,690.3 707.2,690.3 708.2,690.4 709.2,690.4 710.2,690.4 711.2,690.4 712.2,690.4 713.2,690.4 714.2,690.4 715.2,690.4 716.2,690.4 717.2,690.4 718.2,690.4 719.2,690.4 720.2,690.5 721.2,690.5 722.2,690.5 723.2,690.5 724.2,690.5 725.2,690.5 726.2,690.5 727.2,690.5 728.2,690.5 729.2,690.5 730.2,690.5 731.2,690.5 732.2,690.5 733.2,690.6 734.2,690.6 735.2,690.6 736.2,690.6 737.2,690.6 738.2,690.6 739.2,690.6 740.2,690.6 741.2,690.6 742.2,690.6 743.2,690.6 744.2,690.6 745.2,690.6 746.2,690.7 747.2,690.7 748.2,690.7 749.2,690.7 750.2,690.7 751.2,690.7 752.2,690.7 753.2,690.7 754.2,690.7 755.2,690.7 756.2,690.7 757.2,690.7 758.2,690.7 759.2,690.7 760.2,690.8 761.2,690.8" fill="none" stroke="#000" stroke-width="3.3" stroke-linejoin="round" stroke-linecap="butt"/>
<polyline points="18.2,692.0 19.2,692.0 20.2,692.0 21.2,691.9 22.2,691.9 23.2,691.9 24.2,691.9 25.2,691.9 26.2,691.9 27.2,691.9 28.2,691.9 29.2,691.9 30.2,691.9 31.2,691.9 32.2,691.9 33.2,691.9 34.2,691.9 35.2,691.9 36.2,691.9 37.2,691.9 38.2,691.9 39.2,691.9 40.2,691.9 41.2,691.9 42.2,691.9 43.2,691.9 44.2,691.9 45.2,691.9 46.2,691.9 47.2,691.9 48.2,691.9 49.2,691.9 50.2,691.9 51.2,691.9 52.2,691.9 53.2,691.9 54.2,691.9 55.2,691.9 56.2,691.9 57.2,691.9 58.2,691.9 59.2,691.9 60.2,691.9 61.2,691.9 62.2,691.9 63.2,691.9 64.2,691.9 65.2,691.9 66.2,691.9 67.2,691.9 68.2,691.9 69.2,691.9 70.2,691.9 71.2,691.9 72.2,691.9 73.2,691.9 74.2,691.9 75.2,691.9 76.2,691.9 77.2,691.9 78.2,691.9 79.2,691.9 80.2,691.9 81.2,691.9 82.2,691.9 83.2,691.9 84.2,691.9 85.2,691.9 86.2,691.9 87.2,691.9 88.2,691.9 89.2,691.9 90.2,691.9 91.2,691.9 92.2,691.9 93.2,691.9 94.2,691.9 95.2,691.9 96.2,691.9 97.2,691.9 98.2,691.9 99.2,691.9 100.2,691.9 101.2,691.9 102.2,691.9 103.2,691.9 104.2,691.9 105.2,691.9 106.2,691.9 107.2,691.9 108.2,691.9 109.2,691.9 110.2,691.9 111.2,691.9 112.2,691.9 113.2,691.9 114.2,691.9 115.2,691.9 116.2,691.9 117.2,691.9 118.2,691.9 119.2,691.9 120.2,691.9 121.2,691.9 122.2,691.9 123.2,691.9 124.2,691.9 125.2,691.9 126.2,691.9 127.2,691.9 128.2,691.9 129.2,691.9 130.2,691.9 131.2,691.9 132.2,691.9 133.2,691.9 134.2,691.9 135.2,691.9 136.2,691.9 137.2,691.9 138.2,691.8 139.2,691.8 140.2,691.8 141.2,691.8 142.2,691.8 143.2,691.8 144.2,691.8 145.2,691.8 146.2,691.8 147.2,691.8 148.2,691.8 149.2,691.8 150.2,691.8 151.2,691.8 152.2,691.8 153.2,691.8 154.2,691.8 155.2,691.8 156.2,691.8 157.2,691.8 158.2,691.8 159.2,691.8 160.2,691.8 161.2,691.8 162.2,691.8 163.2,691.8 164.2,691.8 165.2,691.8 166.2,691.7 167.2,691.7 168.2,691.7 169.2,691.7 170.2,691.7 171.2,691.7 172.2,691.6 173.2,691.6 174.2,691.6 175.2,691.5 176.2,691.5 177.2,691.5 178.2,691.4 179.2,691.4 180.2,691.3 181.2,691.2 182.2,691.2 183.2,691.1 184.2,691.0 185.2,690.9 186.2,690.8 187.2,690.8 188.2,690.7 189.2,690.6 190.2,690.5 191.2,690.4 192.2,690.3 193.2,690.2 194.2,690.1 195.2,690.0 196.2,689.9 197.2,689.7 198.2,689.5 199.2,689.3 200.2,689.1 201.2,688.8 202.2,688.5 203.2,688.1 204.2,687.7 205.2,687.3 206.2,686.9 207.2,686.4 208.2,685.8 209.2,685.3 210.2,684.7 211.2,684.1 212.2,683.5 213.2,682.8 214.2,682.1 215.2,681.4 216.2,680.7 217.2,680.0 218.2,679.2 219.2,678.4 220.2,677.6 221.2,676.8 222.2,676.0 223.2,675.2 224.2,674.3 225.2,673.5 226.2,672.6 227.2,671.7 228.2,670.8 229.2,669.8 230.2,668.9 231.2,667.9 232.2,667.0 233.2,666.0 234.2,665.1 235.2,664.1 236.2,663.2 237.2,662.2 238.2,661.3 239.2,660.4 240.2,659.5 241.2,658.6 242.2,657.7 243.2,656.9 244.2,656.1 245.2,655.3 246.2,654.6 247.2,653.8 248.2,653.1 249.2,652.4 250.2,651.8 251.2,651.2 252.2,650.6 253.2,650.0 254.2,649.4 255.2,648.9 256.2,648.4 257.2,648.0 258.2,647.5 259.2,647.1 260.2,646.8 261.2,646.5 262.2,646.2 263.2,645.9 264.2,645.7 265.2,645.6 266.2,645.4 267.2,645.3 268.2,645.3 269.2,645.2 270.2,645.2 271.2,645.3 272.2,645.3 273.2,645.4 274.2,645.5 275.2,645.7 276.2,645.8 277.2,646.0 278.2,646.2 279.2,646.4 280.2,646.6 281.2,646.9 282.2,647.1 283.2,647.4 284.2,647.7 285.2,648.0 286.2,648.3 287.2,648.7 288.2,649.0 289.2,649.4 290.2,649.8 291.2,650.2 292.2,650.6 293.2,651.0 294.2,651.4 295.2,651.9 296.2,652.3 297.2,652.8 298.2,653.3 299.2,653.8 300.2,654.3 301.2,654.8 302.2,655.3 303.2,655.8 304.2,656.3 305.2,656.8 306.2,657.3 307.2,657.8 308.2,658.3 309.2,658.8 310.2,659.3 311.2,659.7 312.2,660.2 313.2,660.7 314.2,661.1 315.2,661.6 316.2,662.0 317.2,662.5 318.2,662.9 319.2,663.3 320.2,663.7 321.2,664.1 322.2,664.5 323.2,664.9 324.2,665.3 325.2,665.7 326.2,666.1 327.2,666.5 328.2,666.8 329.2,667.2 330.2,667.6 331.2,667.9 332.2,668.3 333.2,668.6 334.2,669.0 335.2,669.3 336.2,669.7 337.2,670.0 338.2,670.4 339.2,670.7 340.2,671.1 341.2,671.4 342.2,671.8 343.2,672.1 344.2,672.4 345.2,672.7 346.2,673.0 347.2,673.3 348.2,673.6 349.2,673.9 350.2,674.2 351.2,674.4 352.2,674.7 353.2,674.9 354.2,675.1 355.2,675.4 356.2,675.6 357.2,675.8 358.2,676.0 359.2,676.2 360.2,676.4 361.2,676.6 362.2,676.8 363.2,677.0 364.2,677.2 365.2,677.4 366.2,677.6 367.2,677.8 368.2,677.9 369.2,678.1 370.2,678.3 371.2,678.5 372.2,678.7 373.2,678.8 374.2,679.0 375.2,679.1 376.2,679.3 377.2,679.4 378.2,679.6 379.2,679.7 380.2,679.9 381.2,680.0 382.2,680.1 383.2,680.3 384.2,680.4 385.2,680.5 386.2,680.6 387.2,680.8 388.2,680.9 389.2,681.0 390.2,681.1 391.2,681.2 392.2,681.3 393.2,681.4 394.2,681.5 395.2,681.7 396.2,681.8 397.2,681.9 398.2,682.0 399.2,682.1 400.2,682.2 401.2,682.3 402.2,682.3 403.2,682.4 404.2,682.5 405.2,682.6 406.2,682.7 407.2,682.8 408.2,682.9 409.2,683.0 410.2,683.1 411.2,683.2 412.2,683.2 413.2,683.3 414.2,683.4 415.2,683.5 416.2,683.6 417.2,683.6 418.2,683.7 419.2,683.8 420.2,683.9 421.2,683.9 422.2,684.0 423.2,684.1 424.2,684.2 425.2,684.2 426.2,684.3 427.2,684.4 428.2,684.4 429.2,684.5 430.2,684.6 431.2,684.6 432.2,684.7 433.2,684.8 434.2,684.8 435.2,684.9 436.2,685.0 437.2,685.0 438.2,685.1 439.2,685.2 440.2,685.2 441.2,685.3 442.2,685.3 443.2,685.4 444.2,685.4 445.2,685.5 446.2,685.6 447.2,685.6 448.2,685.7 449.2,685.7 450.2,685.8 451.2,685.8 452.2,685.9 453.2,685.9 454.2,686.0 455.2,686.0 456.2,686.1 457.2,686.1 458.2,686.2 459.2,686.2 460.2,686.3 461.2,686.3 462.2,686.4 463.2,686.4 464.2,686.5 465.2,686.5 466.2,686.6 467.2,686.6 468.2,686.7 469.2,686.7 470.2,686.8 471.2,686.8 472.2,686.8 473.2,686.9 474.2,686.9 475.2,687.0 476.2,687.0 477.2,687.0 478.2,687.1 479.2,687.1 480.2,687.2 481.2,687.2 482.2,687.2 483.2,687.3 484.2,687.3 485.2,687.4 486.2,687.4 487.2,687.4 488.2,687.5 489.2,687.5 490.2,687.5 491.2,687.6 492.2,687.6 493.2,687.7 494.2,687.7 495.2,687.7 496.2,687.8 497.2,687.8 498.2,687.8 499.2,687.9 500.2,687.9 501.2,687.9 502.2,688.0 503.2,688.0 504.2,688.0 505.2,688.1 506.2,688.1 507.2,688.1 508.2,688.1 509.2,688.2 510.2,688.2 511.2,688.2 512.2,688.3 513.2,688.3 514.2,688.3 515.2,688.3 516.2,688.4 517.2,688.4 518.2,688.4 519.2,688.5 520.2,688.5 521.2,688.5 522.2,688.5 523.2,688.6 524.2,688.6 525.2,688.6 526.2,688.6 527.2,688.7 528.2,688.7 529.2,688.7 530.2,688.7 531.2,688.8 532.2,688.8 533.2,688.8 534.2,688.8 535.2,688.9 536.2,688.9 537.2,688.9 538.2,688.9 539.2,689.0 540.2,689.0 541.2,689.0 542.2,689.0 543.2,689.0 544.2,689.1 545.2,689.1 546.2,689.1 547.2,689.1 548.2,689.2 549.2,689.2 550.2,689.2 551.2,689.2 552.2,689.2 553.2,689.3 554.2,689.3 555.2,689.3 556.2,689.3 557.2,689.3 558.2,689.3 559.2,689.4 560.2,689.4 561.2,689.4 562.2,689.4 563.2,689.4 564.2,689.5 565.2,689.5 566.2,689.5 567.2,689.5 568.2,689.5 569.2,689.5 570.2,689.6 571.2,689.6 572.2,689.6 573.2,689.6 574.2,689.6 575.2,689.6 576.2,689.7 577.2,689.7 578.2,689.7 579.2,689.7 580.2,689.7 581.2,689.7 582.2,689.8 583.2,689.8 584.2,689.8 585.2,689.8 586.2,689.8 587.2,689.8 588.2,689.8 589.2,689.9 590.2,689.9 591.2,689.9 592.2,689.9 593.2,689.9 594.2,689.9 595.2,689.9 596.2,689.9 597.2,690.0 598.2,690.0 599.2,690.0 600.2,690.0 601.2,690.0 602.2,690.0 603.2,690.0 604.2,690.0 605.2,690.1 606.2,690.1 607.2,690.1 608.2,690.1 609.2,690.1 610.2,690.1 611.2,690.1 612.2,690.1 613.2,690.1 614.2,690.2 615.2,690.2 616.2,690.2 617.2,690.2 618.2,690.2 619.2,690.2 620.2,690.2 621.2,690.2 622.2,690.2 623.2,690.3 624.2,690.3 625.2,690.3 626.2,690.3 627.2,690.3 628.2,690.3 629.2,690.3 630.2,690.3 631.2,690.3 632.2,690.3 633.2,690.3 634.2,690.4 635.2,690.4 636.2,690.4 637.2,690.4 638.2,690.4 639.2,690.4 640.2,690.4 641.2,690.4 642.2,690.4 643.2,690.4 644.2,690.4 645.2,690.5 646.2,690.5 647.2,690.5 648.2,690.5 649.2,690.5 650.2,690.5 651.2,690.5 652.2,690.5 653.2,690.5 654.2,690.5 655.2,690.5 656.2,690.5 657.2,690.5 658.2,690.5 659.2,690.6 660.2,690.6 661.2,690.6 662.2,690.6 663.2,690.6 664.2,690.6 665.2,690.6 666.2,690.6 667.2,690.6 668.2,690.6 669.2,690.6 670.2,690.6 671.2,690.6 672.2,690.6 673.2,690.6 674.2,690.7 675.2,690.7 676.2,690.7 677.2,690.7 678.2,690.7 679.2,690.7 680.2,690.7 681.2,690.7 682.2,690.7 683.2,690.7 684.2,690.7 685.2,690.7 686.2,690.7 687.2,690.7 688.2,690.7 689.2,690.7 690.2,690.7 691.2,690.7 692.2,690.7 693.2,690.8 694.2,690.8 695.2,690.8 696.2,690.8 697.2,690.8 698.2,690.8 699.2,690.8 700.2,690.8 701.2,690.8 702.2,690.8 703.2,690.8 704.2,690.8 705.2,690.8 706.2,690.8 707.2,690.8 708.2,690.8 709.2,690.8 710.2,690.8 711.2,690.8 712.2,690.8 713.2,690.8 714.2,690.8 715.2,690.8 716.2,690.9 717.2,690.9 718.2,690.9 719.2,690.9 720.2,690.9 721.2,690.9 722.2,690.9 723.2,690.9 724.2,690.9 725.2,690.9 726.2,690.9 727.2,690.9 728.2,690.9 729.2,690.9 730.2,690.9 731.2,690.9 732.2,690.9 733.2,690.9 734.2,690.9 735.2,690.9 736.2,690.9 737.2,690.9 738.2,690.9 739.2,690.9 740.2,690.9 741.2,690.9 742.2,690.9 743.2,690.9 744.2,690.9 745.2,690.9 746.2,690.9 747.2,691.0 748.2,691.0 749.2,691.0 750.2,691.0 751.2,691.0 752.2,691.0 753.2,691.0 754.2,691.0 755.2,691.0 756.2,691.0 757.2,691.0 758.2,691.0 759.2,691.0 760.2,691.0 761.2,691.0" fill="none" stroke="#00AAEC" stroke-width="3.3" stroke-linejoin="round" stroke-linecap="butt"/>
<polyline points="18.2,785.5 19.2,785.5 20.2,785.4 21.2,785.4 22.2,785.4 23.2,785.4 24.2,785.4 25.2,785.4 26.2,785.4 27.2,785.4 28.2,785.4 29.2,785.4 30.2,785.4 31.2,785.4 32.2,785.4 33.2,785.4 34.2,785.4 35.2,785.4 36.2,785.4 37.2,785.4 38.2,785.4 39.2,785.4 40.2,785.4 41.2,785.4 42.2,785.4 43.2,785.4 44.2,785.4 45.2,785.4 46.2,785.4 47.2,785.4 48.2,785.4 49.2,785.4 50.2,785.4 51.2,785.4 52.2,785.4 53.2,785.4 54.2,785.4 55.2,785.4 56.2,785.4 57.2,785.4 58.2,785.4 59.2,785.4 60.2,785.4 61.2,785.4 62.2,785.4 63.2,785.4 64.2,785.4 65.2,785.4 66.2,785.4 67.2,785.4 68.2,785.3 69.2,785.3 70.2,785.3 71.2,785.3 72.2,785.3 73.2,785.3 74.2,785.3 75.2,785.3 76.2,785.3 77.2,785.3 78.2,785.3 79.2,785.3 80.2,785.3 81.2,785.3 82.2,785.3 83.2,785.3 84.2,785.3 85.2,785.3 86.2,785.3 87.2,785.3 88.2,785.3 89.2,785.3 90.2,785.3 91.2,785.3 92.2,785.3 93.2,785.3 94.2,785.3 95.2,785.3 96.2,785.3 97.2,785.3 98.2,785.3 99.2,785.3 100.2,785.3 101.2,785.3 102.2,785.3 103.2,785.3 104.2,785.3 105.2,785.3 106.2,785.3 107.2,785.3 108.2,785.3 109.2,785.3 110.2,785.3 111.2,785.3 112.2,785.3 113.2,785.3 114.2,785.3 115.2,785.3 116.2,785.2 117.2,785.2 118.2,785.2 119.2,785.2 120.2,785.2 121.2,785.2 122.2,785.2 123.2,785.2 124.2,785.2 125.2,785.2 126.2,785.2 127.2,785.2 128.2,785.2 129.2,785.2 130.2,785.2 131.2,785.2 132.2,785.2 133.2,785.2 134.2,785.2 135.2,785.2 136.2,785.2 137.2,785.2 138.2,785.2 139.2,785.2 140.2,785.2 141.2,785.2 142.2,785.2 143.2,785.2 144.2,785.2 145.2,785.2 146.2,785.2 147.2,785.2 148.2,785.2 149.2,785.2 150.2,785.2 151.2,785.2 152.2,785.2 153.2,785.2 154.2,785.2 155.2,785.2 156.2,785.2 157.2,785.2 158.2,785.2 159.2,785.2 160.2,785.2 161.2,785.2 162.2,785.2 163.2,785.2 164.2,785.1 165.2,785.1 166.2,785.1 167.2,785.1 168.2,785.1 169.2,785.1 170.2,785.1 171.2,785.1 172.2,785.1 173.2,785.1 174.2,785.1 175.2,785.1 176.2,785.1 177.2,785.1 178.2,785.1 179.2,785.1 180.2,785.1 181.2,785.1 182.2,785.1 183.2,785.1 184.2,785.1 185.2,785.1 186.2,785.1 187.2,785.1 188.2,785.1 189.2,785.1 190.2,785.1 191.2,785.1 192.2,785.1 193.2,785.1 194.2,785.1 195.2,785.1 196.2,785.1 197.2,785.1 198.2,785.1 199.2,785.1 200.2,785.1 201.2,785.1 202.2,785.1 203.2,785.1 204.2,785.1 205.2,785.1 206.2,785.1 207.2,785.1 208.2,785.1 209.2,785.1 210.2,785.1 211.2,785.1 212.2,785.0 213.2,785.0 214.2,785.0 215.2,785.0 216.2,785.0 217.2,785.0 218.2,785.0 219.2,785.0 220.2,785.0 221.2,785.0 222.2,785.0 223.2,785.0 224.2,785.0 225.2,785.0 226.2,785.0 227.2,785.0 228.2,785.0 229.2,785.0 230.2,785.0 231.2,785.0 232.2,785.0 233.2,785.0 234.2,785.0 235.2,785.0 236.2,785.0 237.2,785.0 238.2,785.0 239.2,785.0 240.2,785.0 241.2,785.0 242.2,785.0 243.2,785.0 244.2,785.0 245.2,785.0 246.2,785.0 247.2,785.0 248.2,785.0 249.2,785.0 250.2,785.0 251.2,785.0 252.2,785.0 253.2,785.0 254.2,785.0 255.2,785.0 256.2,785.0 257.2,785.0 258.2,785.0 259.2,784.9 260.2,784.9 261.2,784.9 262.2,784.9 263.2,784.9 264.2,784.9 265.2,784.9 266.2,784.9 267.2,784.9 268.2,784.9 269.2,784.9 270.2,784.9 271.2,784.9 272.2,784.9 273.2,784.9 274.2,784.9 275.2,784.9 276.2,784.9 277.2,784.9 278.2,784.9 279.2,784.9 280.2,784.9 281.2,784.9 282.2,784.9 283.2,784.9 284.2,784.9 285.2,784.9 286.2,784.9 287.2,784.9 288.2,784.9 289.2,784.8 290.2,784.8 291.2,784.8 292.2,784.8 293.2,784.8 294.2,784.8 295.2,784.8 296.2,784.8 297.2,784.8 298.2,784.8 299.2,784.8 300.2,784.7 301.2,784.7 302.2,784.7 303.2,784.7 304.2,784.7 305.2,784.7 306.2,784.6 307.2,784.6 308.2,784.6 309.2,784.6 310.2,784.5 311.2,784.5 312.2,784.5 313.2,784.5 314.2,784.4 315.2,784.4 316.2,784.3 317.2,784.3 318.2,784.2 319.2,784.2 320.2,784.1 321.2,784.1 322.2,784.0 323.2,784.0 324.2,783.9 325.2,783.8 326.2,783.7 327.2,783.7 328.2,783.6 329.2,783.5 330.2,783.4 331.2,783.3 332.2,783.1 333.2,783.0 334.2,782.9 335.2,782.8 336.2,782.6 337.2,782.5 338.2,782.3 339.2,782.1 340.2,782.0 341.2,781.8 342.2,781.6 343.2,781.4 344.2,781.2 345.2,780.9 346.2,780.7 347.2,780.5 348.2,780.2 349.2,780.0 350.2,779.7 351.2,779.4 352.2,779.1 353.2,778.8 354.2,778.5 355.2,778.2 356.2,778.0 357.2,777.7 358.2,777.4 359.2,777.1 360.2,776.8 361.2,776.6 362.2,776.3 363.2,776.0 364.2,775.7 365.2,775.4 366.2,775.1 367.2,774.8 368.2,774.4 369.2,774.1 370.2,773.7 371.2,773.2 372.2,772.8 373.2,772.3 374.2,771.7 375.2,771.2 376.2,770.6 377.2,769.9 378.2,769.2 379.2,768.5 380.2,767.8 381.2,767.1 382.2,766.3 383.2,765.6 384.2,764.8 385.2,764.0 386.2,763.2 387.2,762.4 388.2,761.6 389.2,760.8 390.2,760.0 391.2,759.2 392.2,758.4 393.2,757.6 394.2,756.8 395.2,756.0 396.2,755.2 397.2,754.5 398.2,753.7 399.2,752.9 400.2,752.2 401.2,751.5 402.2,750.8 403.2,750.1 404.2,749.4 405.2,748.7 406.2,748.1 407.2,747.5 408.2,746.9 409.2,746.3 410.2,745.7 411.2,745.2 412.2,744.6 413.2,744.1 414.2,743.7 415.2,743.2 416.2,742.8 417.2,742.4 418.2,742.0 419.2,741.6 420.2,741.3 421.2,741.0 422.2,740.7 423.2,740.4 424.2,740.2 425.2,740.0 426.2,739.8 427.2,739.6 428.2,739.5 429.2,739.4 430.2,739.3 431.2,739.2 432.2,739.2 433.2,739.2 434.2,739.2 435.2,739.2 436.2,739.3 437.2,739.3 438.2,739.4 439.2,739.6 440.2,739.7 441.2,739.9 442.2,740.0 443.2,740.2 444.2,740.5 445.2,740.7 446.2,741.0 447.2,741.3 448.2,741.6 449.2,741.9 450.2,742.2 451.2,742.5 452.2,742.9 453.2,743.3 454.2,743.7 455.2,744.1 456.2,744.5 457.2,744.9 458.2,745.4 459.2,745.8 460.2,746.3 461.2,746.7 462.2,747.2 463.2,747.7 464.2,748.2 465.2,748.6 466.2,749.1 467.2,749.6 468.2,750.1 469.2,750.6 470.2,751.1 471.2,751.6 472.2,752.0 473.2,752.5 474.2,753.0 475.2,753.5 476.2,754.0 477.2,754.4 478.2,754.9 479.2,755.4 480.2,755.8 481.2,756.3 482.2,756.8 483.2,757.2 484.2,757.7 485.2,758.1 486.2,758.6 487.2,759.0 488.2,759.5 489.2,759.9 490.2,760.3 491.2,760.8 492.2,761.2 493.2,761.6 494.2,762.1 495.2,762.5 496.2,762.9 497.2,763.3 498.2,763.8 499.2,764.2 500.2,764.6 501.2,765.0 502.2,765.4 503.2,765.9 504.2,766.3 505.2,766.7 506.2,767.1 507.2,767.4 508.2,767.8 509.2,768.2 510.2,768.6 511.2,768.9 512.2,769.3 513.2,769.7 514.2,770.0 515.2,770.3 516.2,770.7 517.2,771.0 518.2,771.3 519.2,771.6 520.2,771.9 521.2,772.2 522.2,772.5 523.2,772.8 524.2,773.1 525.2,773.3 526.2,773.6 527.2,773.9 528.2,774.1 529.2,774.4 530.2,774.6 531.2,774.8 532.2,775.0 533.2,775.3 534.2,775.5 535.2,775.7 536.2,775.9 537.2,776.1 538.2,776.3 539.2,776.5 540.2,776.7 541.2,776.9 542.2,777.0 543.2,777.2 544.2,777.4 545.2,777.5 546.2,777.7 547.2,777.9 548.2,778.0 549.2,778.1 550.2,778.3 551.2,778.4 552.2,778.6 553.2,778.7 554.2,778.8 555.2,778.9 556.2,779.1 557.2,779.2 558.2,779.3 559.2,779.4 560.2,779.5 561.2,779.6 562.2,779.7 563.2,779.8 564.2,779.9 565.2,780.0 566.2,780.1 567.2,780.2 568.2,780.3 569.2,780.4 570.2,780.5 571.2,780.6 572.2,780.7 573.2,780.7 574.2,780.8 575.2,780.9 576.2,781.0 577.2,781.0 578.2,781.1 579.2,781.2 580.2,781.3 581.2,781.3 582.2,781.4 583.2,781.5 584.2,781.5 585.2,781.6 586.2,781.6 587.2,781.7 588.2,781.8 589.2,781.8 590.2,781.9 591.2,781.9 592.2,782.0 593.2,782.0 594.2,782.1 595.2,782.1 596.2,782.2 597.2,782.2 598.2,782.3 599.2,782.3 600.2,782.3 601.2,782.4 602.2,782.4 603.2,782.5 604.2,782.5 605.2,782.5 606.2,782.6 607.2,782.6 608.2,782.6 609.2,782.7 610.2,782.7 611.2,782.7 612.2,782.8 613.2,782.8 614.2,782.8 615.2,782.9 616.2,782.9 617.2,782.9 618.2,782.9 619.2,783.0 620.2,783.0 621.2,783.0 622.2,783.0 623.2,783.1 624.2,783.1 625.2,783.1 626.2,783.1 627.2,783.2 628.2,783.2 629.2,783.2 630.2,783.2 631.2,783.2 632.2,783.3 633.2,783.3 634.2,783.3 635.2,783.3 636.2,783.3 637.2,783.4 638.2,783.4 639.2,783.4 640.2,783.4 641.2,783.4 642.2,783.4 643.2,783.4 644.2,783.5 645.2,783.5 646.2,783.5 647.2,783.5 648.2,783.5 649.2,783.5 650.2,783.5 651.2,783.5 652.2,783.6 653.2,783.6 654.2,783.6 655.2,783.6 656.2,783.6 657.2,783.6 658.2,783.6 659.2,783.6 660.2,783.6 661.2,783.6 662.2,783.7 663.2,783.7 664.2,783.7 665.2,783.7 666.2,783.7 667.2,783.7 668.2,783.7 669.2,783.7 670.2,783.7 671.2,783.7 672.2,783.7 673.2,783.7 674.2,783.7 675.2,783.7 676.2,783.8 677.2,783.8 678.2,783.8 679.2,783.8 680.2,783.8 681.2,783.8 682.2,783.8 683.2,783.8 684.2,783.8 685.2,783.8 686.2,783.8 687.2,783.8 688.2,783.8 689.2,783.8 690.2,783.8 691.2,783.8 692.2,783.8 693.2,783.8 694.2,783.8 695.2,783.8 696.2,783.8 697.2,783.8 698.2,783.8 699.2,783.8 700.2,783.8 701.2,783.8 702.2,783.8 703.2,783.9 704.2,783.9 705.2,783.9 706.2,783.9 707.2,783.9 708.2,783.9 709.2,783.9 710.2,783.9 711.2,783.9 712.2,783.9 713.2,783.9 714.2,783.9 715.2,783.9 716.2,783.9 717.2,783.9 718.2,783.9 719.2,783.9 720.2,783.9 721.2,783.9 722.2,783.9 723.2,783.9 724.2,783.9 725.2,783.9 726.2,783.9 727.2,783.9 728.2,783.9 729.2,783.9 730.2,783.9 731.2,783.9 732.2,783.9 733.2,783.9 734.2,783.9 735.2,783.9 736.2,783.9 737.2,783.9 738.2,783.9 739.2,783.9 740.2,783.9 741.2,783.9 742.2,783.9 743.2,783.9 744.2,783.9 745.2,783.9 746.2,783.9 747.2,783.9 748.2,783.9 749.2,783.9 750.2,783.9 751.2,783.9 752.2,783.9 753.2,783.9 754.2,783.9 755.2,783.9 756.2,783.9 757.2,783.9 758.2,783.9 759.2,783.9 760.2,783.9 761.2,783.9" fill="none" stroke="#000" stroke-width="3.3" stroke-linejoin="round" stroke-linecap="butt"/>
<polyline points="18.2,786.0 19.2,786.0 20.2,786.0 21.2,786.0 22.2,786.0 23.2,786.0 24.2,786.0 25.2,786.0 26.2,786.0 27.2,786.0 28.2,786.0 29.2,786.0 30.2,786.0 31.2,786.0 32.2,786.0 33.2,786.0 34.2,786.0 35.2,786.0 36.2,786.0 37.2,786.0 38.2,786.0 39.2,786.0 40.2,786.0 41.2,786.0 42.2,786.0 43.2,786.0 44.2,786.0 45.2,786.0 46.2,786.0 47.2,786.0 48.2,786.0 49.2,786.0 50.2,786.0 51.2,786.0 52.2,786.0 53.2,786.0 54.2,786.0 55.2,786.0 56.2,786.0 57.2,786.0 58.2,786.0 59.2,786.0 60.2,786.0 61.2,786.0 62.2,786.0 63.2,786.0 64.2,786.0 65.2,786.0 66.2,786.0 67.2,786.0 68.2,786.0 69.2,786.0 70.2,786.0 71.2,786.0 72.2,786.0 73.2,786.0 74.2,786.0 75.2,786.0 76.2,786.0 77.2,786.0 78.2,786.0 79.2,786.0 80.2,786.0 81.2,786.0 82.2,786.0 83.2,786.0 84.2,786.0 85.2,786.0 86.2,786.0 87.2,786.0 88.2,786.0 89.2,786.0 90.2,786.0 91.2,786.0 92.2,786.0 93.2,786.0 94.2,786.0 95.2,786.0 96.2,786.0 97.2,786.0 98.2,786.0 99.2,786.0 100.2,786.0 101.2,785.9 102.2,785.9 103.2,785.9 104.2,785.9 105.2,785.9 106.2,785.9 107.2,785.9 108.2,785.9 109.2,785.9 110.2,785.9 111.2,785.9 112.2,785.9 113.2,785.9 114.2,785.9 115.2,785.9 116.2,785.9 117.2,785.9 118.2,785.9 119.2,785.9 120.2,785.9 121.2,785.9 122.2,785.9 123.2,785.9 124.2,785.9 125.2,785.8 126.2,785.8 127.2,785.8 128.2,785.8 129.2,785.8 130.2,785.8 131.2,785.8 132.2,785.8 133.2,785.8 134.2,785.7 135.2,785.7 136.2,785.7 137.2,785.7 138.2,785.7 139.2,785.7 140.2,785.6 141.2,785.6 142.2,785.6 143.2,785.6 144.2,785.6 145.2,785.5 146.2,785.5 147.2,785.5 148.2,785.4 149.2,785.4 150.2,785.4 151.2,785.3 152.2,785.3 153.2,785.3 154.2,785.2 155.2,785.2 156.2,785.1 157.2,785.1 158.2,785.0 159.2,785.0 160.2,784.9 161.2,784.8 162.2,784.8 163.2,784.7 164.2,784.6 165.2,784.5 166.2,784.4 167.2,784.3 168.2,784.2 169.2,784.1 170.2,784.0 171.2,783.9 172.2,783.8 173.2,783.7 174.2,783.6 175.2,783.5 176.2,783.3 177.2,783.2 178.2,783.1 179.2,782.9 180.2,782.8 181.2,782.6 182.2,782.4 183.2,782.2 184.2,782.0 185.2,781.7 186.2,781.5 187.2,781.2 188.2,780.9 189.2,780.5 190.2,780.2 191.2,779.8 192.2,779.3 193.2,778.9 194.2,778.4 195.2,777.9 196.2,777.4 197.2,776.8 198.2,776.2 199.2,775.6 200.2,775.0 201.2,774.4 202.2,773.7 203.2,773.0 204.2,772.3 205.2,771.5 206.2,770.8 207.2,770.0 208.2,769.2 209.2,768.4 210.2,767.6 211.2,766.7 212.2,765.9 213.2,765.0 214.2,764.1 215.2,763.2 216.2,762.3 217.2,761.4 218.2,760.5 219.2,759.6 220.2,758.6 221.2,757.7 222.2,756.7 223.2,755.8 224.2,754.9 225.2,753.9 226.2,753.0 227.2,752.1 228.2,751.2 229.2,750.4 230.2,749.5 231.2,748.7 232.2,747.9 233.2,747.1 234.2,746.3 235.2,745.6 236.2,744.9 237.2,744.2 238.2,743.6 239.2,743.0 240.2,742.5 241.2,742.0 242.2,741.5 243.2,741.1 244.2,740.7 245.2,740.4 246.2,740.1 247.2,739.9 248.2,739.7 249.2,739.6 250.2,739.4 251.2,739.4 252.2,739.4 253.2,739.4 254.2,739.4 255.2,739.5 256.2,739.7 257.2,739.8 258.2,740.0 259.2,740.2 260.2,740.5 261.2,740.8 262.2,741.1 263.2,741.5 264.2,741.8 265.2,742.2 266.2,742.6 267.2,743.1 268.2,743.5 269.2,744.0 270.2,744.5 271.2,745.0 272.2,745.6 273.2,746.1 274.2,746.6 275.2,747.2 276.2,747.7 277.2,748.3 278.2,748.8 279.2,749.4 280.2,750.0 281.2,750.5 282.2,751.1 283.2,751.6 284.2,752.2 285.2,752.7 286.2,753.2 287.2,753.8 288.2,754.3 289.2,754.8 290.2,755.3 291.2,755.9 292.2,756.4 293.2,756.8 294.2,757.3 295.2,757.8 296.2,758.3 297.2,758.7 298.2,759.2 299.2,759.6 300.2,760.1 301.2,760.5 302.2,760.9 303.2,761.3 304.2,761.7 305.2,762.1 306.2,762.5 307.2,762.9 308.2,763.3 309.2,763.6 310.2,764.0 311.2,764.3 312.2,764.7 313.2,765.0 314.2,765.4 315.2,765.7 316.2,766.0 317.2,766.4 318.2,766.7 319.2,767.0 320.2,767.3 321.2,767.6 322.2,767.9 323.2,768.3 324.2,768.6 325.2,768.8 326.2,769.1 327.2,769.4 328.2,769.7 329.2,770.0 330.2,770.2 331.2,770.5 332.2,770.8 333.2,771.0 334.2,771.3 335.2,771.5 336.2,771.7 337.2,772.0 338.2,772.2 339.2,772.4 340.2,772.6 341.2,772.8 342.2,773.0 343.2,773.2 344.2,773.4 345.2,773.6 346.2,773.8 347.2,774.0 348.2,774.1 349.2,774.3 350.2,774.5 351.2,774.7 352.2,774.8 353.2,775.0 354.2,775.2 355.2,775.3 356.2,775.5 357.2,775.6 358.2,775.8 359.2,775.9 360.2,776.0 361.2,776.2 362.2,776.3 363.2,776.4 364.2,776.5 365.2,776.6 366.2,776.8 367.2,776.9 368.2,777.0 369.2,777.1 370.2,777.2 371.2,777.3 372.2,777.4 373.2,777.5 374.2,777.6 375.2,777.7 376.2,777.8 377.2,777.9 378.2,778.0 379.2,778.1 380.2,778.2 381.2,778.3 382.2,778.4 383.2,778.5 384.2,778.5 385.2,778.6 386.2,778.7 387.2,778.8 388.2,778.9 389.2,778.9 390.2,779.0 391.2,779.1 392.2,779.2 393.2,779.3 394.2,779.3 395.2,779.4 396.2,779.5 397.2,779.5 398.2,779.6 399.2,779.7 400.2,779.7 401.2,779.8 402.2,779.9 403.2,779.9 404.2,780.0 405.2,780.1 406.2,780.1 407.2,780.2 408.2,780.2 409.2,780.3 410.2,780.3 411.2,780.4 412.2,780.5 413.2,780.5 414.2,780.6 415.2,780.6 416.2,780.7 417.2,780.7 418.2,780.8 419.2,780.8 420.2,780.9 421.2,780.9 422.2,781.0 423.2,781.0 424.2,781.1 425.2,781.1 426.2,781.2 427.2,781.2 428.2,781.2 429.2,781.3 430.2,781.3 431.2,781.4 432.2,781.4 433.2,781.5 434.2,781.5 435.2,781.5 436.2,781.6 437.2,781.6 438.2,781.7 439.2,781.7 440.2,781.7 441.2,781.8 442.2,781.8 443.2,781.9 444.2,781.9 445.2,781.9 446.2,782.0 447.2,782.0 448.2,782.0 449.2,782.1 450.2,782.1 451.2,782.1 452.2,782.2 453.2,782.2 454.2,782.2 455.2,782.3 456.2,782.3 457.2,782.3 458.2,782.4 459.2,782.4 460.2,782.4 461.2,782.5 462.2,782.5 463.2,782.5 464.2,782.5 465.2,782.6 466.2,782.6 467.2,782.6 468.2,782.7 469.2,782.7 470.2,782.7 471.2,782.7 472.2,782.8 473.2,782.8 474.2,782.8 475.2,782.9 476.2,782.9 477.2,782.9 478.2,782.9 479.2,783.0 480.2,783.0 481.2,783.0 482.2,783.0 483.2,783.1 484.2,783.1 485.2,783.1 486.2,783.1 487.2,783.1 488.2,783.2 489.2,783.2 490.2,783.2 491.2,783.2 492.2,783.3 493.2,783.3 494.2,783.3 495.2,783.3 496.2,783.3 497.2,783.4 498.2,783.4 499.2,783.4 500.2,783.4 501.2,783.5 502.2,783.5 503.2,783.5 504.2,783.5 505.2,783.5 506.2,783.6 507.2,783.6 508.2,783.6 509.2,783.6 510.2,783.6 511.2,783.6 512.2,783.7 513.2,783.7 514.2,783.7 515.2,783.7 516.2,783.7 517.2,783.8 518.2,783.8 519.2,783.8 520.2,783.8 521.2,783.8 522.2,783.8 523.2,783.9 524.2,783.9 525.2,783.9 526.2,783.9 527.2,783.9 528.2,783.9 529.2,784.0 530.2,784.0 531.2,784.0 532.2,784.0 533.2,784.0 534.2,784.0 535.2,784.1 536.2,784.1 537.2,784.1 538.2,784.1 539.2,784.1 540.2,784.1 541.2,784.1 542.2,784.2 543.2,784.2 544.2,784.2 545.2,784.2 546.2,784.2 547.2,784.2 548.2,784.2 549.2,784.3 550.2,784.3 551.2,784.3 552.2,784.3 553.2,784.3 554.2,784.3 555.2,784.3 556.2,784.3 557.2,784.4 558.2,784.4 559.2,784.4 560.2,784.4 561.2,784.4 562.2,784.4 563.2,784.4 564.2,784.4 565.2,784.5 566.2,784.5 567.2,784.5 568.2,784.5 569.2,784.5 570.2,784.5 571.2,784.5 572.2,784.5 573.2,784.5 574.2,784.6 575.2,784.6 576.2,784.6 577.2,784.6 578.2,784.6 579.2,784.6 580.2,784.6 581.2,784.6 582.2,784.6 583.2,784.7 584.2,784.7 585.2,784.7 586.2,784.7 587.2,784.7 588.2,784.7 589.2,784.7 590.2,784.7 591.2,784.7 592.2,784.7 593.2,784.8 594.2,784.8 595.2,784.8 596.2,784.8 597.2,784.8 598.2,784.8 599.2,784.8 600.2,784.8 601.2,784.8 602.2,784.8 603.2,784.8 604.2,784.9 605.2,784.9 606.2,784.9 607.2,784.9 608.2,784.9 609.2,784.9 610.2,784.9 611.2,784.9 612.2,784.9 613.2,784.9 614.2,784.9 615.2,785.0 616.2,785.0 617.2,785.0 618.2,785.0 619.2,785.0 620.2,785.0 621.2,785.0 622.2,785.0 623.2,785.0 624.2,785.0 625.2,785.0 626.2,785.0 627.2,785.0 628.2,785.1 629.2,785.1 630.2,785.1 631.2,785.1 632.2,785.1 633.2,785.1 634.2,785.1 635.2,785.1 636.2,785.1 637.2,785.1 638.2,785.1 639.2,785.1 640.2,785.1 641.2,785.1 642.2,785.1 643.2,785.2 644.2,785.2 645.2,785.2 646.2,785.2 647.2,785.2 648.2,785.2 649.2,785.2 650.2,785.2 651.2,785.2 652.2,785.2 653.2,785.2 654.2,785.2 655.2,785.2 656.2,785.2 657.2,785.2 658.2,785.2 659.2,785.3 660.2,785.3 661.2,785.3 662.2,785.3 663.2,785.3 664.2,785.3 665.2,785.3 666.2,785.3 667.2,785.3 668.2,785.3 669.2,785.3 670.2,785.3 671.2,785.3 672.2,785.3 673.2,785.3 674.2,785.3 675.2,785.3 676.2,785.3 677.2,785.4 678.2,785.4 679.2,785.4 680.2,785.4 681.2,785.4 682.2,785.4 683.2,785.4 684.2,785.4 685.2,785.4 686.2,785.4 687.2,785.4 688.2,785.4 689.2,785.4 690.2,785.4 691.2,785.4 692.2,785.4 693.2,785.4 694.2,785.4 695.2,785.4 696.2,785.4 697.2,785.4 698.2,785.5 699.2,785.5 700.2,785.5 701.2,785.5 702.2,785.5 703.2,785.5 704.2,785.5 705.2,785.5 706.2,785.5 707.2,785.5 708.2,785.5 709.2,785.5 710.2,785.5 711.2,785.5 712.2,785.5 713.2,785.5 714.2,785.5 715.2,785.5 716.2,785.5 717.2,785.5 718.2,785.5 719.2,785.5 720.2,785.5 721.2,785.5 722.2,785.6 723.2,785.6 724.2,785.6 725.2,785.6 726.2,785.6 727.2,785.6 728.2,785.6 729.2,785.6 730.2,785.6 731.2,785.6 732.2,785.6 733.2,785.6 734.2,785.6 735.2,785.6 736.2,785.6 737.2,785.6 738.2,785.6 739.2,785.6 740.2,785.6 741.2,785.6 742.2,785.6 743.2,785.6 744.2,785.6 745.2,785.6 746.2,785.6 747.2,785.6 748.2,785.6 749.2,785.6 750.2,785.6 751.2,785.6 752.2,785.6 753.2,785.7 754.2,785.7 755.2,785.7 756.2,785.7 757.2,785.7 758.2,785.7 759.2,785.7 760.2,785.7 761.2,785.7" fill="none" stroke="#00AAEC" stroke-width="3.3" stroke-linejoin="round" stroke-linecap="butt"/>
<polyline points="18.2,879.6 19.2,879.6 20.2,879.6 21.2,879.6 22.2,879.6 23.2,879.6 24.2,879.6 25.2,879.6 26.2,879.6 27.2,879.6 28.2,879.6 29.2,879.6 30.2,879.6 31.2,879.6 32.2,879.6 33.2,879.6 34.2,879.6 35.2,879.6 36.2,879.6 37.2,879.6 38.2,879.6 39.2,879.6 40.2,879.6 41.2,879.6 42.2,879.6 43.2,879.6 44.2,879.6 45.2,879.6 46.2,879.6 47.2,879.6 48.2,879.6 49.2,879.6 50.2,879.6 51.2,879.6 52.2,879.6 53.2,879.6 54.2,879.6 55.2,879.6 56.2,879.6 57.2,879.6 58.2,879.6 59.2,879.6 60.2,879.6 61.2,879.6 62.2,879.6 63.2,879.6 64.2,879.6 65.2,879.6 66.2,879.6 67.2,879.6 68.2,879.6 69.2,879.6 70.2,879.6 71.2,879.5 72.2,879.5 73.2,879.5 74.2,879.5 75.2,879.5 76.2,879.5 77.2,879.5 78.2,879.5 79.2,879.5 80.2,879.5 81.2,879.5 82.2,879.5 83.2,879.5 84.2,879.5 85.2,879.5 86.2,879.5 87.2,879.5 88.2,879.5 89.2,879.5 90.2,879.5 91.2,879.5 92.2,879.5 93.2,879.5 94.2,879.5 95.2,879.5 96.2,879.5 97.2,879.5 98.2,879.5 99.2,879.5 100.2,879.5 101.2,879.5 102.2,879.5 103.2,879.5 104.2,879.5 105.2,879.5 106.2,879.5 107.2,879.5 108.2,879.5 109.2,879.5 110.2,879.5 111.2,879.5 112.2,879.5 113.2,879.5 114.2,879.5 115.2,879.5 116.2,879.5 117.2,879.5 118.2,879.5 119.2,879.5 120.2,879.5 121.2,879.5 122.2,879.5 123.2,879.5 124.2,879.5 125.2,879.5 126.2,879.5 127.2,879.5 128.2,879.5 129.2,879.5 130.2,879.5 131.2,879.5 132.2,879.5 133.2,879.5 134.2,879.5 135.2,879.5 136.2,879.5 137.2,879.5 138.2,879.5 139.2,879.5 140.2,879.5 141.2,879.5 142.2,879.5 143.2,879.5 144.2,879.5 145.2,879.5 146.2,879.5 147.2,879.5 148.2,879.5 149.2,879.5 150.2,879.5 151.2,879.5 152.2,879.5 153.2,879.5 154.2,879.5 155.2,879.5 156.2,879.5 157.2,879.5 158.2,879.5 159.2,879.5 160.2,879.5 161.2,879.5 162.2,879.5 163.2,879.5 164.2,879.5 165.2,879.5 166.2,879.5 167.2,879.5 168.2,879.5 169.2,879.5 170.2,879.5 171.2,879.5 172.2,879.5 173.2,879.5 174.2,879.5 175.2,879.5 176.2,879.5 177.2,879.5 178.2,879.5 179.2,879.5 180.2,879.5 181.2,879.5 182.2,879.5 183.2,879.5 184.2,879.5 185.2,879.5 186.2,879.5 187.2,879.5 188.2,879.5 189.2,879.5 190.2,879.5 191.2,879.5 192.2,879.5 193.2,879.5 194.2,879.5 195.2,879.5 196.2,879.5 197.2,879.5 198.2,879.5 199.2,879.5 200.2,879.5 201.2,879.5 202.2,879.5 203.2,879.5 204.2,879.5 205.2,879.5 206.2,879.5 207.2,879.5 208.2,879.5 209.2,879.5 210.2,879.5 211.2,879.5 212.2,879.5 213.2,879.5 214.2,879.5 215.2,879.5 216.2,879.5 217.2,879.5 218.2,879.5 219.2,879.4 220.2,879.4 221.2,879.4 222.2,879.4 223.2,879.4 224.2,879.4 225.2,879.4 226.2,879.4 227.2,879.4 228.2,879.4 229.2,879.4 230.2,879.4 231.2,879.4 232.2,879.4 233.2,879.4 234.2,879.4 235.2,879.4 236.2,879.4 237.2,879.4 238.2,879.4 239.2,879.4 240.2,879.4 241.2,879.4 242.2,879.4 243.2,879.4 244.2,879.4 245.2,879.4 246.2,879.4 247.2,879.4 248.2,879.4 249.2,879.4 250.2,879.4 251.2,879.4 252.2,879.4 253.2,879.4 254.2,879.4 255.2,879.4 256.2,879.4 257.2,879.4 258.2,879.4 259.2,879.4 260.2,879.4 261.2,879.4 262.2,879.4 263.2,879.4 264.2,879.4 265.2,879.4 266.2,879.4 267.2,879.4 268.2,879.4 269.2,879.4 270.2,879.4 271.2,879.4 272.2,879.4 273.2,879.4 274.2,879.4 275.2,879.4 276.2,879.4 277.2,879.4 278.2,879.4 279.2,879.4 280.2,879.4 281.2,879.4 282.2,879.4 283.2,879.4 284.2,879.4 285.2,879.4 286.2,879.4 287.2,879.4 288.2,879.4 289.2,879.4 290.2,879.4 291.2,879.4 292.2,879.4 293.2,879.4 294.2,879.4 295.2,879.4 296.2,879.4 297.2,879.4 298.2,879.4 299.2,879.4 300.2,879.4 301.2,879.4 302.2,879.4 303.2,879.4 304.2,879.4 305.2,879.4 306.2,879.4 307.2,879.4 308.2,879.4 309.2,879.4 310.2,879.4 311.2,879.4 312.2,879.4 313.2,879.4 314.2,879.4 315.2,879.4 316.2,879.4 317.2,879.4 318.2,879.4 319.2,879.4 320.2,879.4 321.2,879.4 322.2,879.4 323.2,879.4 324.2,879.4 325.2,879.4 326.2,879.4 327.2,879.4 328.2,879.4 329.2,879.4 330.2,879.4 331.2,879.4 332.2,879.3 333.2,879.3 334.2,879.3 335.2,879.3 336.2,879.3 337.2,879.3 338.2,879.3 339.2,879.3 340.2,879.3 341.2,879.3 342.2,879.3 343.2,879.2 344.2,879.2 345.2,879.2 346.2,879.2 347.2,879.1 348.2,879.1 349.2,879.0 350.2,879.0 351.2,878.9 352.2,878.8 353.2,878.7 354.2,878.6 355.2,878.4 356.2,878.3 357.2,878.1 358.2,877.9 359.2,877.7 360.2,877.5 361.2,877.3 362.2,877.1 363.2,876.9 364.2,876.7 365.2,876.5 366.2,876.3 367.2,876.2 368.2,876.0 369.2,875.8 370.2,875.6 371.2,875.4 372.2,875.2 373.2,875.0 374.2,874.7 375.2,874.4 376.2,874.1 377.2,873.8 378.2,873.4 379.2,873.0 380.2,872.6 381.2,872.2 382.2,871.7 383.2,871.2 384.2,870.7 385.2,870.1 386.2,869.5 387.2,868.9 388.2,868.3 389.2,867.6 390.2,866.8 391.2,866.0 392.2,865.2 393.2,864.3 394.2,863.3 395.2,862.3 396.2,861.3 397.2,860.2 398.2,859.1 399.2,858.0 400.2,856.8 401.2,855.7 402.2,854.5 403.2,853.3 404.2,852.1 405.2,851.0 406.2,849.8 407.2,848.7 408.2,847.6 409.2,846.5 410.2,845.5 411.2,844.5 412.2,843.5 413.2,842.6 414.2,841.7 415.2,840.8 416.2,840.0 417.2,839.2 418.2,838.5 419.2,837.8 420.2,837.1 421.2,836.5 422.2,836.0 423.2,835.5 424.2,835.1 425.2,834.7 426.2,834.4 427.2,834.1 428.2,833.8 429.2,833.6 430.2,833.5 431.2,833.4 432.2,833.3 433.2,833.3 434.2,833.3 435.2,833.4 436.2,833.5 437.2,833.6 438.2,833.8 439.2,834.0 440.2,834.3 441.2,834.5 442.2,834.8 443.2,835.1 444.2,835.5 445.2,835.9 446.2,836.2 447.2,836.6 448.2,837.1 449.2,837.5 450.2,837.9 451.2,838.4 452.2,838.8 453.2,839.3 454.2,839.7 455.2,840.2 456.2,840.7 457.2,841.2 458.2,841.7 459.2,842.2 460.2,842.7 461.2,843.2 462.2,843.7 463.2,844.2 464.2,844.7 465.2,845.2 466.2,845.7 467.2,846.2 468.2,846.7 469.2,847.3 470.2,847.8 471.2,848.3 472.2,848.8 473.2,849.4 474.2,849.9 475.2,850.4 476.2,850.9 477.2,851.4 478.2,851.9 479.2,852.4 480.2,852.9 481.2,853.4 482.2,853.9 483.2,854.4 484.2,854.8 485.2,855.3 486.2,855.7 487.2,856.2 488.2,856.6 489.2,857.1 490.2,857.5 491.2,857.9 492.2,858.3 493.2,858.7 494.2,859.1 495.2,859.5 496.2,859.9 497.2,860.3 498.2,860.7 499.2,861.0 500.2,861.4 501.2,861.8 502.2,862.1 503.2,862.5 504.2,862.8 505.2,863.2 506.2,863.5 507.2,863.9 508.2,864.2 509.2,864.5 510.2,864.8 511.2,865.1 512.2,865.5 513.2,865.8 514.2,866.1 515.2,866.3 516.2,866.6 517.2,866.9 518.2,867.2 519.2,867.4 520.2,867.7 521.2,867.9 522.2,868.2 523.2,868.4 524.2,868.6 525.2,868.8 526.2,869.0 527.2,869.2 528.2,869.4 529.2,869.6 530.2,869.8 531.2,870.0 532.2,870.2 533.2,870.3 534.2,870.5 535.2,870.6 536.2,870.8 537.2,870.9 538.2,871.1 539.2,871.2 540.2,871.4 541.2,871.5 542.2,871.7 543.2,871.8 544.2,871.9 545.2,872.1 546.2,872.2 547.2,872.3 548.2,872.5 549.2,872.6 550.2,872.7 551.2,872.9 552.2,873.0 553.2,873.1 554.2,873.2 555.2,873.3 556.2,873.4 557.2,873.5 558.2,873.7 559.2,873.8 560.2,873.9 561.2,874.0 562.2,874.1 563.2,874.2 564.2,874.3 565.2,874.4 566.2,874.5 567.2,874.5 568.2,874.6 569.2,874.7 570.2,874.8 571.2,874.9 572.2,875.0 573.2,875.1 574.2,875.1 575.2,875.2 576.2,875.3 577.2,875.4 578.2,875.4 579.2,875.5 580.2,875.6 581.2,875.6 582.2,875.7 583.2,875.8 584.2,875.8 585.2,875.9 586.2,876.0 587.2,876.0 588.2,876.1 589.2,876.2 590.2,876.2 591.2,876.3 592.2,876.3 593.2,876.4 594.2,876.4 595.2,876.5 596.2,876.5 597.2,876.6 598.2,876.6 599.2,876.7 600.2,876.7 601.2,876.8 602.2,876.8 603.2,876.9 604.2,876.9 605.2,877.0 606.2,877.0 607.2,877.0 608.2,877.1 609.2,877.1 610.2,877.2 611.2,877.2 612.2,877.2 613.2,877.3 614.2,877.3 615.2,877.3 616.2,877.4 617.2,877.4 618.2,877.4 619.2,877.5 620.2,877.5 621.2,877.5 622.2,877.6 623.2,877.6 624.2,877.6 625.2,877.7 626.2,877.7 627.2,877.7 628.2,877.7 629.2,877.8 630.2,877.8 631.2,877.8 632.2,877.8 633.2,877.9 634.2,877.9 635.2,877.9 636.2,877.9 637.2,878.0 638.2,878.0 639.2,878.0 640.2,878.0 641.2,878.1 642.2,878.1 643.2,878.1 644.2,878.1 645.2,878.1 646.2,878.2 647.2,878.2 648.2,878.2 649.2,878.2 650.2,878.2 651.2,878.2 652.2,878.3 653.2,878.3 654.2,878.3 655.2,878.3 656.2,878.3 657.2,878.3 658.2,878.4 659.2,878.4 660.2,878.4 661.2,878.4 662.2,878.4 663.2,878.4 664.2,878.4 665.2,878.5 666.2,878.5 667.2,878.5 668.2,878.5 669.2,878.5 670.2,878.5 671.2,878.5 672.2,878.5 673.2,878.5 674.2,878.6 675.2,878.6 676.2,878.6 677.2,878.6 678.2,878.6 679.2,878.6 680.2,878.6 681.2,878.6 682.2,878.6 683.2,878.6 684.2,878.7 685.2,878.7 686.2,878.7 687.2,878.7 688.2,878.7 689.2,878.7 690.2,878.7 691.2,878.7 692.2,878.7 693.2,878.7 694.2,878.7 695.2,878.7 696.2,878.7 697.2,878.8 698.2,878.8 699.2,878.8 700.2,878.8 701.2,878.8 702.2,878.8 703.2,878.8 704.2,878.8 705.2,878.8 706.2,878.8 707.2,878.8 708.2,878.8 709.2,878.8 710.2,878.8 711.2,878.8 712.2,878.8 713.2,878.8 714.2,878.8 715.2,878.9 716.2,878.9 717.2,878.9 718.2,878.9 719.2,878.9 720.2,878.9 721.2,878.9 722.2,878.9 723.2,878.9 724.2,878.9 725.2,878.9 726.2,878.9 727.2,878.9 728.2,878.9 729.2,878.9 730.2,878.9 731.2,878.9 732.2,878.9 733.2,878.9 734.2,878.9 735.2,878.9 736.2,878.9 737.2,878.9 738.2,878.9 739.2,878.9 740.2,878.9 741.2,878.9 742.2,878.9 743.2,878.9 744.2,878.9 745.2,878.9 746.2,879.0 747.2,879.0 748.2,879.0 749.2,879.0 750.2,879.0 751.2,879.0 752.2,879.0 753.2,879.0 754.2,879.0 755.2,879.0 756.2,879.0 757.2,879.0 758.2,879.0 759.2,879.0 760.2,879.0 761.2,879.0" fill="none" stroke="#000" stroke-width="3.3" stroke-linejoin="round" stroke-linecap="butt"/>
<polyline points="18.2,879.9 19.2,879.9 20.2,879.9 21.2,879.9 22.2,879.9 23.2,879.9 24.2,879.9 25.2,879.9 26.2,879.9 27.2,879.9 28.2,879.9 29.2,879.9 30.2,879.9 31.2,879.9 32.2,879.9 33.2,879.9 34.2,879.9 35.2,879.9 36.2,879.9 37.2,879.9 38.2,879.9 39.2,879.9 40.2,879.9 41.2,879.9 42.2,879.9 43.2,879.9 44.2,879.9 45.2,879.9 46.2,879.9 47.2,879.9 48.2,879.9 49.2,879.9 50.2,879.9 51.2,879.9 52.2,879.9 53.2,879.9 54.2,879.9 55.2,879.9 56.2,879.9 57.2,879.9 58.2,879.9 59.2,879.9 60.2,879.9 61.2,879.9 62.2,879.9 63.2,879.9 64.2,879.9 65.2,879.9 66.2,879.9 67.2,879.9 68.2,879.9 69.2,879.9 70.2,879.9 71.2,879.9 72.2,879.9 73.2,879.9 74.2,879.9 75.2,879.9 76.2,879.9 77.2,879.9 78.2,879.9 79.2,879.9 80.2,879.9 81.2,879.9 82.2,879.9 83.2,879.9 84.2,879.9 85.2,879.9 86.2,879.9 87.2,879.9 88.2,879.9 89.2,879.9 90.2,879.9 91.2,879.9 92.2,879.9 93.2,879.9 94.2,879.9 95.2,879.9 96.2,879.9 97.2,879.9 98.2,879.9 99.2,879.9 100.2,879.9 101.2,879.9 102.2,879.9 103.2,879.9 104.2,879.9 105.2,879.9 106.2,879.9 107.2,879.9 108.2,879.9 109.2,879.9 110.2,879.9 111.2,879.9 112.2,879.9 113.2,879.9 114.2,879.9 115.2,879.9 116.2,879.9 117.2,879.9 118.2,879.9 119.2,879.9 120.2,879.9 121.2,879.9 122.2,879.9 123.2,879.9 124.2,879.9 125.2,879.9 126.2,879.9 127.2,879.9 128.2,879.9 129.2,879.9 130.2,879.9 131.2,879.9 132.2,879.9 133.2,879.9 134.2,879.9 135.2,879.9 136.2,879.9 137.2,879.9 138.2,879.9 139.2,879.9 140.2,879.9 141.2,879.9 142.2,879.9 143.2,879.9 144.2,879.9 145.2,879.9 146.2,879.9 147.2,879.9 148.2,879.9 149.2,879.9 150.2,879.9 151.2,879.9 152.2,879.9 153.2,879.9 154.2,879.9 155.2,879.9 156.2,879.9 157.2,879.9 158.2,879.8 159.2,879.8 160.2,879.8 161.2,879.8 162.2,879.8 163.2,879.8 164.2,879.8 165.2,879.8 166.2,879.7 167.2,879.7 168.2,879.7 169.2,879.7 170.2,879.6 171.2,879.6 172.2,879.5 173.2,879.5 174.2,879.5 175.2,879.4 176.2,879.3 177.2,879.3 178.2,879.2 179.2,879.1 180.2,879.0 181.2,878.9 182.2,878.8 183.2,878.7 184.2,878.6 185.2,878.5 186.2,878.3 187.2,878.2 188.2,878.0 189.2,877.8 190.2,877.6 191.2,877.4 192.2,877.2 193.2,877.0 194.2,876.8 195.2,876.5 196.2,876.3 197.2,876.0 198.2,875.7 199.2,875.4 200.2,875.1 201.2,874.8 202.2,874.4 203.2,874.0 204.2,873.6 205.2,873.2 206.2,872.8 207.2,872.3 208.2,871.8 209.2,871.3 210.2,870.7 211.2,870.2 212.2,869.6 213.2,868.9 214.2,868.3 215.2,867.6 216.2,866.9 217.2,866.2 218.2,865.5 219.2,864.8 220.2,864.0 221.2,863.2 222.2,862.5 223.2,861.7 224.2,860.9 225.2,860.1 226.2,859.3 227.2,858.5 228.2,857.7 229.2,856.9 230.2,856.1 231.2,855.2 232.2,854.4 233.2,853.6 234.2,852.8 235.2,852.0 236.2,851.1 237.2,850.3 238.2,849.5 239.2,848.7 240.2,847.8 241.2,847.0 242.2,846.2 243.2,845.4 244.2,844.6 245.2,843.7 246.2,842.9 247.2,842.2 248.2,841.4 249.2,840.6 250.2,839.9 251.2,839.2 252.2,838.5 253.2,837.9 254.2,837.2 255.2,836.6 256.2,836.1 257.2,835.6 258.2,835.1 259.2,834.6 260.2,834.2 261.2,833.9 262.2,833.6 263.2,833.3 264.2,833.1 265.2,832.9 266.2,832.8 267.2,832.8 268.2,832.8 269.2,832.8 270.2,832.9 271.2,833.0 272.2,833.2 273.2,833.4 274.2,833.7 275.2,834.0 276.2,834.3 277.2,834.7 278.2,835.1 279.2,835.5 280.2,836.0 281.2,836.5 282.2,837.0 283.2,837.5 284.2,838.0 285.2,838.6 286.2,839.1 287.2,839.7 288.2,840.3 289.2,840.9 290.2,841.4 291.2,842.0 292.2,842.6 293.2,843.2 294.2,843.8 295.2,844.4 296.2,844.9 297.2,845.5 298.2,846.1 299.2,846.6 300.2,847.2 301.2,847.8 302.2,848.3 303.2,848.9 304.2,849.4 305.2,849.9 306.2,850.4 307.2,851.0 308.2,851.5 309.2,852.0 310.2,852.4 311.2,852.9 312.2,853.4 313.2,853.8 314.2,854.3 315.2,854.7 316.2,855.2 317.2,855.6 318.2,856.0 319.2,856.4 320.2,856.8 321.2,857.1 322.2,857.5 323.2,857.9 324.2,858.2 325.2,858.5 326.2,858.9 327.2,859.2 328.2,859.5 329.2,859.8 330.2,860.1 331.2,860.4 332.2,860.7 333.2,861.0 334.2,861.3 335.2,861.6 336.2,861.8 337.2,862.1 338.2,862.3 339.2,862.6 340.2,862.8 341.2,863.1 342.2,863.3 343.2,863.5 344.2,863.7 345.2,864.0 346.2,864.2 347.2,864.4 348.2,864.6 349.2,864.8 350.2,865.0 351.2,865.2 352.2,865.4 353.2,865.6 354.2,865.8 355.2,866.0 356.2,866.2 357.2,866.4 358.2,866.6 359.2,866.8 360.2,867.0 361.2,867.2 362.2,867.3 363.2,867.5 364.2,867.7 365.2,867.8 366.2,868.0 367.2,868.1 368.2,868.3 369.2,868.4 370.2,868.6 371.2,868.8 372.2,868.9 373.2,869.1 374.2,869.2 375.2,869.4 376.2,869.5 377.2,869.7 378.2,869.8 379.2,869.9 380.2,870.1 381.2,870.2 382.2,870.3 383.2,870.5 384.2,870.6 385.2,870.7 386.2,870.8 387.2,870.9 388.2,871.0 389.2,871.2 390.2,871.3 391.2,871.4 392.2,871.5 393.2,871.6 394.2,871.7 395.2,871.8 396.2,871.9 397.2,872.0 398.2,872.1 399.2,872.2 400.2,872.3 401.2,872.4 402.2,872.5 403.2,872.6 404.2,872.7 405.2,872.7 406.2,872.8 407.2,872.9 408.2,873.0 409.2,873.1 410.2,873.2 411.2,873.3 412.2,873.3 413.2,873.4 414.2,873.5 415.2,873.6 416.2,873.7 417.2,873.7 418.2,873.8 419.2,873.9 420.2,874.0 421.2,874.0 422.2,874.1 423.2,874.2 424.2,874.2 425.2,874.3 426.2,874.4 427.2,874.4 428.2,874.5 429.2,874.6 430.2,874.6 431.2,874.7 432.2,874.8 433.2,874.8 434.2,874.9 435.2,874.9 436.2,875.0 437.2,875.1 438.2,875.1 439.2,875.2 440.2,875.2 441.2,875.3 442.2,875.3 443.2,875.4 444.2,875.5 445.2,875.5 446.2,875.6 447.2,875.6 448.2,875.7 449.2,875.7 450.2,875.8 451.2,875.8 452.2,875.9 453.2,875.9 454.2,876.0 455.2,876.0 456.2,876.0 457.2,876.1 458.2,876.1 459.2,876.2 460.2,876.2 461.2,876.3 462.2,876.3 463.2,876.4 464.2,876.4 465.2,876.4 466.2,876.5 467.2,876.5 468.2,876.6 469.2,876.6 470.2,876.6 471.2,876.7 472.2,876.7 473.2,876.8 474.2,876.8 475.2,876.8 476.2,876.9 477.2,876.9 478.2,876.9 479.2,877.0 480.2,877.0 481.2,877.0 482.2,877.1 483.2,877.1 484.2,877.1 485.2,877.2 486.2,877.2 487.2,877.2 488.2,877.3 489.2,877.3 490.2,877.3 491.2,877.4 492.2,877.4 493.2,877.4 494.2,877.4 495.2,877.5 496.2,877.5 497.2,877.5 498.2,877.6 499.2,877.6 500.2,877.6 501.2,877.6 502.2,877.7 503.2,877.7 504.2,877.7 505.2,877.7 506.2,877.8 507.2,877.8 508.2,877.8 509.2,877.8 510.2,877.9 511.2,877.9 512.2,877.9 513.2,877.9 514.2,878.0 515.2,878.0 516.2,878.0 517.2,878.0 518.2,878.0 519.2,878.1 520.2,878.1 521.2,878.1 522.2,878.1 523.2,878.2 524.2,878.2 525.2,878.2 526.2,878.2 527.2,878.2 528.2,878.3 529.2,878.3 530.2,878.3 531.2,878.3 532.2,878.3 533.2,878.3 534.2,878.4 535.2,878.4 536.2,878.4 537.2,878.4 538.2,878.4 539.2,878.5 540.2,878.5 541.2,878.5 542.2,878.5 543.2,878.5 544.2,878.5 545.2,878.5 546.2,878.6 547.2,878.6 548.2,878.6 549.2,878.6 550.2,878.6 551.2,878.6 552.2,878.7 553.2,878.7 554.2,878.7 555.2,878.7 556.2,878.7 557.2,878.7 558.2,878.7 559.2,878.8 560.2,878.8 561.2,878.8 562.2,878.8 563.2,878.8 564.2,878.8 565.2,878.8 566.2,878.8 567.2,878.9 568.2,878.9 569.2,878.9 570.2,878.9 571.2,878.9 572.2,878.9 573.2,878.9 574.2,878.9 575.2,878.9 576.2,879.0 577.2,879.0 578.2,879.0 579.2,879.0 580.2,879.0 581.2,879.0 582.2,879.0 583.2,879.0 584.2,879.0 585.2,879.1 586.2,879.1 587.2,879.1 588.2,879.1 589.2,879.1 590.2,879.1 591.2,879.1 592.2,879.1 593.2,879.1 594.2,879.1 595.2,879.1 596.2,879.2 597.2,879.2 598.2,879.2 599.2,879.2 600.2,879.2 601.2,879.2 602.2,879.2 603.2,879.2 604.2,879.2 605.2,879.2 606.2,879.2 607.2,879.2 608.2,879.2 609.2,879.3 610.2,879.3 611.2,879.3 612.2,879.3 613.2,879.3 614.2,879.3 615.2,879.3 616.2,879.3 617.2,879.3 618.2,879.3 619.2,879.3 620.2,879.3 621.2,879.3 622.2,879.3 623.2,879.4 624.2,879.4 625.2,879.4 626.2,879.4 627.2,879.4 628.2,879.4 629.2,879.4 630.2,879.4 631.2,879.4 632.2,879.4 633.2,879.4 634.2,879.4 635.2,879.4 636.2,879.4 637.2,879.4 638.2,879.4 639.2,879.4 640.2,879.4 641.2,879.5 642.2,879.5 643.2,879.5 644.2,879.5 645.2,879.5 646.2,879.5 647.2,879.5 648.2,879.5 649.2,879.5 650.2,879.5 651.2,879.5 652.2,879.5 653.2,879.5 654.2,879.5 655.2,879.5 656.2,879.5 657.2,879.5 658.2,879.5 659.2,879.5 660.2,879.5 661.2,879.5 662.2,879.5 663.2,879.6 664.2,879.6 665.2,879.6 666.2,879.6 667.2,879.6 668.2,879.6 669.2,879.6 670.2,879.6 671.2,879.6 672.2,879.6 673.2,879.6 674.2,879.6 675.2,879.6 676.2,879.6 677.2,879.6 678.2,879.6 679.2,879.6 680.2,879.6 681.2,879.6 682.2,879.6 683.2,879.6 684.2,879.6 685.2,879.6 686.2,879.6 687.2,879.6 688.2,879.6 689.2,879.6 690.2,879.6 691.2,879.6 692.2,879.6 693.2,879.7 694.2,879.7 695.2,879.7 696.2,879.7 697.2,879.7 698.2,879.7 699.2,879.7 700.2,879.7 701.2,879.7 702.2,879.7 703.2,879.7 704.2,879.7 705.2,879.7 706.2,879.7 707.2,879.7 708.2,879.7 709.2,879.7 710.2,879.7 711.2,879.7 712.2,879.7 713.2,879.7 714.2,879.7 715.2,879.7 716.2,879.7 717.2,879.7 718.2,879.7 719.2,879.7 720.2,879.7 721.2,879.7 722.2,879.7 723.2,879.7 724.2,879.7 725.2,879.7 726.2,879.7 727.2,879.7 728.2,879.7 729.2,879.7 730.2,879.7 731.2,879.7 732.2,879.7 733.2,879.7 734.2,879.7 735.2,879.7 736.2,879.7 737.2,879.7 738.2,879.7 739.2,879.7 740.2,879.7 741.2,879.8 742.2,879.8 743.2,879.8 744.2,879.8 745.2,879.8 746.2,879.8 747.2,879.8 748.2,879.8 749.2,879.8 750.2,879.8 751.2,879.8 752.2,879.8 753.2,879.8 754.2,879.8 755.2,879.8 756.2,879.8 757.2,879.8 758.2,879.8 759.2,879.8 760.2,879.8 761.2,879.8" fill="none" stroke="#00AAEC" stroke-width="3.3" stroke-linejoin="round" stroke-linecap="butt"/>
<polyline points="18.2,973.9 19.2,973.9 20.2,973.9 21.2,973.8 22.2,973.8 23.2,973.8 24.2,973.8 25.2,973.8 26.2,973.8 27.2,973.8 28.2,973.8 29.2,973.8 30.2,973.8 31.2,973.8 32.2,973.8 33.2,973.8 34.2,973.8 35.2,973.8 36.2,973.8 37.2,973.8 38.2,973.7 39.2,973.7 40.2,973.7 41.2,973.7 42.2,973.7 43.2,973.7 44.2,973.7 45.2,973.7 46.2,973.7 47.2,973.7 48.2,973.7 49.2,973.7 50.2,973.7 51.2,973.7 52.2,973.7 53.2,973.7 54.2,973.6 55.2,973.6 56.2,973.6 57.2,973.6 58.2,973.6 59.2,973.6 60.2,973.6 61.2,973.6 62.2,973.6 63.2,973.6 64.2,973.6 65.2,973.6 66.2,973.6 67.2,973.6 68.2,973.6 69.2,973.6 70.2,973.5 71.2,973.5 72.2,973.5 73.2,973.5 74.2,973.5 75.2,973.5 76.2,973.5 77.2,973.5 78.2,973.5 79.2,973.5 80.2,973.5 81.2,973.5 82.2,973.5 83.2,973.5 84.2,973.5 85.2,973.5 86.2,973.4 87.2,973.4 88.2,973.4 89.2,973.4 90.2,973.4 91.2,973.4 92.2,973.4 93.2,973.4 94.2,973.4 95.2,973.4 96.2,973.4 97.2,973.4 98.2,973.4 99.2,973.4 100.2,973.4 101.2,973.4 102.2,973.3 103.2,973.3 104.2,973.3 105.2,973.3 106.2,973.3 107.2,973.3 108.2,973.3 109.2,973.3 110.2,973.3 111.2,973.3 112.2,973.3 113.2,973.3 114.2,973.3 115.2,973.3 116.2,973.3 117.2,973.3 118.2,973.3 119.2,973.2 120.2,973.2 121.2,973.2 122.2,973.2 123.2,973.2 124.2,973.2 125.2,973.2 126.2,973.2 127.2,973.2 128.2,973.2 129.2,973.2 130.2,973.2 131.2,973.2 132.2,973.2 133.2,973.2 134.2,973.2 135.2,973.1 136.2,973.1 137.2,973.1 138.2,973.1 139.2,973.1 140.2,973.1 141.2,973.1 142.2,973.1 143.2,973.1 144.2,973.1 145.2,973.1 146.2,973.1 147.2,973.1 148.2,973.1 149.2,973.1 150.2,973.1 151.2,973.0 152.2,973.0 153.2,973.0 154.2,973.0 155.2,973.0 156.2,973.0 157.2,973.0 158.2,973.0 159.2,973.0 160.2,973.0 161.2,973.0 162.2,973.0 163.2,973.0 164.2,973.0 165.2,973.0 166.2,973.0 167.2,972.9 168.2,972.9 169.2,972.9 170.2,972.9 171.2,972.9 172.2,972.9 173.2,972.9 174.2,972.9 175.2,972.9 176.2,972.9 177.2,972.9 178.2,972.9 179.2,972.9 180.2,972.9 181.2,972.9 182.2,972.9 183.2,972.8 184.2,972.8 185.2,972.8 186.2,972.8 187.2,972.8 188.2,972.8 189.2,972.8 190.2,972.8 191.2,972.8 192.2,972.8 193.2,972.8 194.2,972.8 195.2,972.8 196.2,972.8 197.2,972.8 198.2,972.8 199.2,972.8 200.2,972.7 201.2,972.7 202.2,972.7 203.2,972.7 204.2,972.7 205.2,972.7 206.2,972.7 207.2,972.7 208.2,972.7 209.2,972.7 210.2,972.7 211.2,972.7 212.2,972.7 213.2,972.7 214.2,972.7 215.2,972.7 216.2,972.6 217.2,972.6 218.2,972.6 219.2,972.6 220.2,972.6 221.2,972.6 222.2,972.6 223.2,972.6 224.2,972.6 225.2,972.6 226.2,972.6 227.2,972.6 228.2,972.6 229.2,972.6 230.2,972.6 231.2,972.6 232.2,972.5 233.2,972.5 234.2,972.5 235.2,972.5 236.2,972.5 237.2,972.5 238.2,972.5 239.2,972.5 240.2,972.5 241.2,972.5 242.2,972.5 243.2,972.5 244.2,972.5 245.2,972.5 246.2,972.5 247.2,972.5 248.2,972.4 249.2,972.4 250.2,972.4 251.2,972.4 252.2,972.4 253.2,972.4 254.2,972.4 255.2,972.4 256.2,972.4 257.2,972.4 258.2,972.4 259.2,972.4 260.2,972.4 261.2,972.4 262.2,972.4 263.2,972.4 264.2,972.4 265.2,972.3 266.2,972.3 267.2,972.3 268.2,972.3 269.2,972.3 270.2,972.3 271.2,972.3 272.2,972.3 273.2,972.3 274.2,972.3 275.2,972.3 276.2,972.3 277.2,972.3 278.2,972.3 279.2,972.3 280.2,972.3 281.2,972.2 282.2,972.2 283.2,972.2 284.2,972.2 285.2,972.2 286.2,972.2 287.2,972.2 288.2,972.2 289.2,972.2 290.2,972.2 291.2,972.2 292.2,972.2 293.2,972.2 294.2,972.2 295.2,972.2 296.2,972.2 297.2,972.1 298.2,972.1 299.2,972.1 300.2,972.1 301.2,972.1 302.2,972.1 303.2,972.1 304.2,972.1 305.2,972.1 306.2,972.1 307.2,972.1 308.2,972.1 309.2,972.1 310.2,972.1 311.2,972.0 312.2,972.0 313.2,972.0 314.2,972.0 315.2,972.0 316.2,972.0 317.2,972.0 318.2,972.0 319.2,972.0 320.2,972.0 321.2,971.9 322.2,971.9 323.2,971.9 324.2,971.9 325.2,971.9 326.2,971.9 327.2,971.9 328.2,971.8 329.2,971.8 330.2,971.8 331.2,971.8 332.2,971.7 333.2,971.7 334.2,971.7 335.2,971.7 336.2,971.6 337.2,971.6 338.2,971.6 339.2,971.5 340.2,971.5 341.2,971.4 342.2,971.4 343.2,971.3 344.2,971.3 345.2,971.2 346.2,971.2 347.2,971.1 348.2,971.0 349.2,971.0 350.2,970.9 351.2,970.8 352.2,970.7 353.2,970.6 354.2,970.5 355.2,970.4 356.2,970.3 357.2,970.1 358.2,970.0 359.2,969.9 360.2,969.7 361.2,969.5 362.2,969.4 363.2,969.2 364.2,969.0 365.2,968.8 366.2,968.6 367.2,968.4 368.2,968.2 369.2,967.9 370.2,967.7 371.2,967.4 372.2,967.2 373.2,966.9 374.2,966.6 375.2,966.3 376.2,966.0 377.2,965.7 378.2,965.3 379.2,965.0 380.2,964.6 381.2,964.2 382.2,963.7 383.2,963.3 384.2,962.8 385.2,962.3 386.2,961.8 387.2,961.2 388.2,960.6 389.2,960.1 390.2,959.5 391.2,958.8 392.2,958.2 393.2,957.6 394.2,956.9 395.2,956.2 396.2,955.5 397.2,954.8 398.2,954.1 399.2,953.4 400.2,952.6 401.2,951.8 402.2,951.1 403.2,950.3 404.2,949.5 405.2,948.7 406.2,947.9 407.2,947.1 408.2,946.3 409.2,945.5 410.2,944.7 411.2,943.8 412.2,943.0 413.2,942.2 414.2,941.4 415.2,940.6 416.2,939.8 417.2,939.0 418.2,938.3 419.2,937.6 420.2,936.8 421.2,936.1 422.2,935.5 423.2,934.8 424.2,934.2 425.2,933.6 426.2,933.0 427.2,932.5 428.2,932.0 429.2,931.5 430.2,931.0 431.2,930.5 432.2,930.1 433.2,929.7 434.2,929.3 435.2,929.0 436.2,928.6 437.2,928.3 438.2,928.0 439.2,927.8 440.2,927.6 441.2,927.4 442.2,927.2 443.2,927.1 444.2,927.0 445.2,926.9 446.2,926.9 447.2,926.8 448.2,926.9 449.2,926.9 450.2,927.0 451.2,927.1 452.2,927.2 453.2,927.4 454.2,927.6 455.2,927.8 456.2,928.0 457.2,928.3 458.2,928.5 459.2,928.8 460.2,929.1 461.2,929.5 462.2,929.8 463.2,930.2 464.2,930.5 465.2,930.9 466.2,931.3 467.2,931.7 468.2,932.1 469.2,932.5 470.2,933.0 471.2,933.4 472.2,933.8 473.2,934.2 474.2,934.7 475.2,935.1 476.2,935.6 477.2,936.0 478.2,936.4 479.2,936.9 480.2,937.3 481.2,937.8 482.2,938.2 483.2,938.7 484.2,939.1 485.2,939.5 486.2,940.0 487.2,940.4 488.2,940.8 489.2,941.3 490.2,941.7 491.2,942.1 492.2,942.6 493.2,943.0 494.2,943.4 495.2,943.8 496.2,944.3 497.2,944.7 498.2,945.1 499.2,945.5 500.2,945.9 501.2,946.3 502.2,946.8 503.2,947.2 504.2,947.6 505.2,948.0 506.2,948.4 507.2,948.8 508.2,949.2 509.2,949.5 510.2,949.9 511.2,950.3 512.2,950.7 513.2,951.1 514.2,951.4 515.2,951.8 516.2,952.2 517.2,952.5 518.2,952.9 519.2,953.2 520.2,953.5 521.2,953.9 522.2,954.2 523.2,954.5 524.2,954.8 525.2,955.2 526.2,955.5 527.2,955.7 528.2,956.0 529.2,956.3 530.2,956.6 531.2,956.8 532.2,957.1 533.2,957.3 534.2,957.6 535.2,957.8 536.2,958.1 537.2,958.3 538.2,958.5 539.2,958.7 540.2,958.9 541.2,959.1 542.2,959.3 543.2,959.5 544.2,959.6 545.2,959.8 546.2,959.9 547.2,960.1 548.2,960.2 549.2,960.4 550.2,960.5 551.2,960.7 552.2,960.8 553.2,960.9 554.2,961.0 555.2,961.2 556.2,961.3 557.2,961.4 558.2,961.5 559.2,961.6 560.2,961.7 561.2,961.8 562.2,962.0 563.2,962.1 564.2,962.2 565.2,962.3 566.2,962.4 567.2,962.5 568.2,962.6 569.2,962.6 570.2,962.7 571.2,962.8 572.2,962.9 573.2,963.0 574.2,963.1 575.2,963.2 576.2,963.3 577.2,963.3 578.2,963.4 579.2,963.5 580.2,963.6 581.2,963.6 582.2,963.7 583.2,963.8 584.2,963.9 585.2,963.9 586.2,964.0 587.2,964.1 588.2,964.1 589.2,964.2 590.2,964.3 591.2,964.3 592.2,964.4 593.2,964.5 594.2,964.5 595.2,964.6 596.2,964.7 597.2,964.7 598.2,964.8 599.2,964.8 600.2,964.9 601.2,964.9 602.2,965.0 603.2,965.1 604.2,965.1 605.2,965.2 606.2,965.2 607.2,965.3 608.2,965.3 609.2,965.4 610.2,965.4 611.2,965.5 612.2,965.5 613.2,965.6 614.2,965.6 615.2,965.7 616.2,965.7 617.2,965.8 618.2,965.8 619.2,965.8 620.2,965.9 621.2,965.9 622.2,966.0 623.2,966.0 624.2,966.1 625.2,966.1 626.2,966.1 627.2,966.2 628.2,966.2 629.2,966.3 630.2,966.3 631.2,966.3 632.2,966.4 633.2,966.4 634.2,966.4 635.2,966.5 636.2,966.5 637.2,966.5 638.2,966.6 639.2,966.6 640.2,966.7 641.2,966.7 642.2,966.7 643.2,966.7 644.2,966.8 645.2,966.8 646.2,966.8 647.2,966.9 648.2,966.9 649.2,966.9 650.2,967.0 651.2,967.0 652.2,967.0 653.2,967.0 654.2,967.1 655.2,967.1 656.2,967.1 657.2,967.2 658.2,967.2 659.2,967.2 660.2,967.2 661.2,967.3 662.2,967.3 663.2,967.3 664.2,967.3 665.2,967.4 666.2,967.4 667.2,967.4 668.2,967.4 669.2,967.4 670.2,967.5 671.2,967.5 672.2,967.5 673.2,967.5 674.2,967.5 675.2,967.6 676.2,967.6 677.2,967.6 678.2,967.6 679.2,967.6 680.2,967.7 681.2,967.7 682.2,967.7 683.2,967.7 684.2,967.7 685.2,967.8 686.2,967.8 687.2,967.8 688.2,967.8 689.2,967.8 690.2,967.8 691.2,967.9 692.2,967.9 693.2,967.9 694.2,967.9 695.2,967.9 696.2,967.9 697.2,967.9 698.2,968.0 699.2,968.0 700.2,968.0 701.2,968.0 702.2,968.0 703.2,968.0 704.2,968.0 705.2,968.0 706.2,968.1 707.2,968.1 708.2,968.1 709.2,968.1 710.2,968.1 711.2,968.1 712.2,968.1 713.2,968.1 714.2,968.1 715.2,968.2 716.2,968.2 717.2,968.2 718.2,968.2 719.2,968.2 720.2,968.2 721.2,968.2 722.2,968.2 723.2,968.2 724.2,968.2 725.2,968.3 726.2,968.3 727.2,968.3 728.2,968.3 729.2,968.3 730.2,968.3 731.2,968.3 732.2,968.3 733.2,968.3 734.2,968.3 735.2,968.3 736.2,968.3 737.2,968.3 738.2,968.3 739.2,968.4 740.2,968.4 741.2,968.4 742.2,968.4 743.2,968.4 744.2,968.4 745.2,968.4 746.2,968.4 747.2,968.4 748.2,968.4 749.2,968.4 750.2,968.4 751.2,968.4 752.2,968.4 753.2,968.4 754.2,968.4 755.2,968.4 756.2,968.4 757.2,968.4 758.2,968.4 759.2,968.5 760.2,968.5 761.2,968.5" fill="none" stroke="#000" stroke-width="3.3" stroke-linejoin="round" stroke-linecap="butt"/>
<polyline points="18.2,973.8 19.2,973.8 20.2,973.8 21.2,973.8 22.2,973.8 23.2,973.8 24.2,973.8 25.2,973.8 26.2,973.8 27.2,973.8 28.2,973.8 29.2,973.8 30.2,973.8 31.2,973.8 32.2,973.8 33.2,973.8 34.2,973.8 35.2,973.8 36.2,973.8 37.2,973.8 38.2,973.8 39.2,973.7 40.2,973.7 41.2,973.7 42.2,973.7 43.2,973.7 44.2,973.7 45.2,973.7 46.2,973.7 47.2,973.7 48.2,973.7 49.2,973.7 50.2,973.7 51.2,973.7 52.2,973.7 53.2,973.7 54.2,973.7 55.2,973.7 56.2,973.7 57.2,973.7 58.2,973.7 59.2,973.7 60.2,973.7 61.2,973.7 62.2,973.7 63.2,973.7 64.2,973.7 65.2,973.7 66.2,973.7 67.2,973.7 68.2,973.7 69.2,973.7 70.2,973.7 71.2,973.7 72.2,973.7 73.2,973.7 74.2,973.7 75.2,973.7 76.2,973.7 77.2,973.7 78.2,973.7 79.2,973.7 80.2,973.7 81.2,973.7 82.2,973.7 83.2,973.7 84.2,973.7 85.2,973.7 86.2,973.7 87.2,973.7 88.2,973.7 89.2,973.7 90.2,973.7 91.2,973.7 92.2,973.7 93.2,973.7 94.2,973.7 95.2,973.7 96.2,973.7 97.2,973.7 98.2,973.7 99.2,973.7 100.2,973.7 101.2,973.7 102.2,973.7 103.2,973.7 104.2,973.7 105.2,973.7 106.2,973.7 107.2,973.7 108.2,973.7 109.2,973.7 110.2,973.7 111.2,973.7 112.2,973.7 113.2,973.7 114.2,973.7 115.2,973.7 116.2,973.7 117.2,973.7 118.2,973.7 119.2,973.7 120.2,973.7 121.2,973.7 122.2,973.7 123.2,973.7 124.2,973.7 125.2,973.7 126.2,973.7 127.2,973.7 128.2,973.7 129.2,973.7 130.2,973.7 131.2,973.7 132.2,973.7 133.2,973.7 134.2,973.7 135.2,973.7 136.2,973.7 137.2,973.7 138.2,973.7 139.2,973.7 140.2,973.7 141.2,973.7 142.2,973.7 143.2,973.7 144.2,973.7 145.2,973.7 146.2,973.7 147.2,973.7 148.2,973.7 149.2,973.7 150.2,973.7 151.2,973.7 152.2,973.7 153.2,973.7 154.2,973.7 155.2,973.7 156.2,973.7 157.2,973.7 158.2,973.7 159.2,973.7 160.2,973.6 161.2,973.6 162.2,973.6 163.2,973.6 164.2,973.6 165.2,973.6 166.2,973.6 167.2,973.6 168.2,973.6 169.2,973.6 170.2,973.6 171.2,973.6 172.2,973.6 173.2,973.6 174.2,973.6 175.2,973.6 176.2,973.6 177.2,973.6 178.2,973.6 179.2,973.6 180.2,973.6 181.2,973.6 182.2,973.6 183.2,973.5 184.2,973.5 185.2,973.5 186.2,973.5 187.2,973.5 188.2,973.5 189.2,973.5 190.2,973.4 191.2,973.4 192.2,973.4 193.2,973.3 194.2,973.3 195.2,973.3 196.2,973.2 197.2,973.2 198.2,973.2 199.2,973.1 200.2,973.0 201.2,973.0 202.2,972.9 203.2,972.8 204.2,972.8 205.2,972.7 206.2,972.6 207.2,972.5 208.2,972.4 209.2,972.3 210.2,972.1 211.2,972.0 212.2,971.9 213.2,971.7 214.2,971.6 215.2,971.4 216.2,971.2 217.2,971.0 218.2,970.8 219.2,970.5 220.2,970.3 221.2,970.1 222.2,969.8 223.2,969.5 224.2,969.2 225.2,968.9 226.2,968.5 227.2,968.2 228.2,967.8 229.2,967.4 230.2,967.0 231.2,966.6 232.2,966.2 233.2,965.7 234.2,965.3 235.2,964.8 236.2,964.2 237.2,963.7 238.2,963.2 239.2,962.6 240.2,962.0 241.2,961.3 242.2,960.7 243.2,960.0 244.2,959.3 245.2,958.6 246.2,957.9 247.2,957.2 248.2,956.4 249.2,955.6 250.2,954.8 251.2,954.1 252.2,953.2 253.2,952.4 254.2,951.6 255.2,950.7 256.2,949.9 257.2,949.1 258.2,948.2 259.2,947.3 260.2,946.5 261.2,945.6 262.2,944.8 263.2,943.9 264.2,943.1 265.2,942.3 266.2,941.5 267.2,940.7 268.2,939.9 269.2,939.2 270.2,938.5 271.2,937.8 272.2,937.1 273.2,936.5 274.2,935.8 275.2,935.2 276.2,934.6 277.2,934.1 278.2,933.6 279.2,933.0 280.2,932.5 281.2,932.1 282.2,931.6 283.2,931.2 284.2,930.7 285.2,930.3 286.2,929.9 287.2,929.6 288.2,929.2 289.2,928.9 290.2,928.6 291.2,928.3 292.2,928.1 293.2,927.9 294.2,927.7 295.2,927.5 296.2,927.3 297.2,927.2 298.2,927.1 299.2,927.0 300.2,926.9 301.2,926.9 302.2,926.8 303.2,926.8 304.2,926.8 305.2,926.9 306.2,926.9 307.2,927.0 308.2,927.0 309.2,927.1 310.2,927.2 311.2,927.3 312.2,927.5 313.2,927.6 314.2,927.8 315.2,927.9 316.2,928.1 317.2,928.3 318.2,928.5 319.2,928.7 320.2,928.9 321.2,929.1 322.2,929.3 323.2,929.5 324.2,929.7 325.2,930.0 326.2,930.2 327.2,930.5 328.2,930.7 329.2,931.0 330.2,931.2 331.2,931.5 332.2,931.8 333.2,932.0 334.2,932.3 335.2,932.6 336.2,932.8 337.2,933.1 338.2,933.4 339.2,933.7 340.2,934.0 341.2,934.2 342.2,934.5 343.2,934.8 344.2,935.1 345.2,935.4 346.2,935.7 347.2,935.9 348.2,936.2 349.2,936.5 350.2,936.8 351.2,937.1 352.2,937.4 353.2,937.6 354.2,937.9 355.2,938.2 356.2,938.5 357.2,938.7 358.2,939.0 359.2,939.2 360.2,939.5 361.2,939.8 362.2,940.0 363.2,940.3 364.2,940.5 365.2,940.8 366.2,941.1 367.2,941.3 368.2,941.6 369.2,941.8 370.2,942.1 371.2,942.3 372.2,942.6 373.2,942.8 374.2,943.0 375.2,943.3 376.2,943.5 377.2,943.8 378.2,944.0 379.2,944.3 380.2,944.5 381.2,944.8 382.2,945.0 383.2,945.2 384.2,945.5 385.2,945.7 386.2,946.0 387.2,946.2 388.2,946.4 389.2,946.7 390.2,946.9 391.2,947.1 392.2,947.4 393.2,947.6 394.2,947.8 395.2,948.1 396.2,948.3 397.2,948.5 398.2,948.7 399.2,948.9 400.2,949.1 401.2,949.3 402.2,949.5 403.2,949.7 404.2,949.9 405.2,950.1 406.2,950.3 407.2,950.5 408.2,950.6 409.2,950.8 410.2,951.0 411.2,951.1 412.2,951.3 413.2,951.4 414.2,951.6 415.2,951.8 416.2,951.9 417.2,952.1 418.2,952.2 419.2,952.4 420.2,952.5 421.2,952.7 422.2,952.8 423.2,953.0 424.2,953.1 425.2,953.2 426.2,953.4 427.2,953.5 428.2,953.7 429.2,953.8 430.2,953.9 431.2,954.0 432.2,954.2 433.2,954.3 434.2,954.4 435.2,954.6 436.2,954.7 437.2,954.8 438.2,954.9 439.2,955.0 440.2,955.2 441.2,955.3 442.2,955.4 443.2,955.5 444.2,955.6 445.2,955.7 446.2,955.8 447.2,955.9 448.2,956.0 449.2,956.1 450.2,956.3 451.2,956.4 452.2,956.5 453.2,956.6 454.2,956.7 455.2,956.8 456.2,956.9 457.2,956.9 458.2,957.0 459.2,957.1 460.2,957.2 461.2,957.3 462.2,957.4 463.2,957.5 464.2,957.6 465.2,957.7 466.2,957.8 467.2,957.9 468.2,957.9 469.2,958.0 470.2,958.1 471.2,958.2 472.2,958.3 473.2,958.4 474.2,958.4 475.2,958.5 476.2,958.6 477.2,958.7 478.2,958.8 479.2,958.8 480.2,958.9 481.2,959.0 482.2,959.1 483.2,959.1 484.2,959.2 485.2,959.3 486.2,959.4 487.2,959.4 488.2,959.5 489.2,959.6 490.2,959.6 491.2,959.7 492.2,959.8 493.2,959.8 494.2,959.9 495.2,960.0 496.2,960.0 497.2,960.1 498.2,960.2 499.2,960.2 500.2,960.3 501.2,960.4 502.2,960.4 503.2,960.5 504.2,960.6 505.2,960.6 506.2,960.7 507.2,960.7 508.2,960.8 509.2,960.9 510.2,960.9 511.2,961.0 512.2,961.0 513.2,961.1 514.2,961.2 515.2,961.2 516.2,961.3 517.2,961.3 518.2,961.4 519.2,961.4 520.2,961.5 521.2,961.6 522.2,961.6 523.2,961.7 524.2,961.7 525.2,961.8 526.2,961.8 527.2,961.9 528.2,961.9 529.2,962.0 530.2,962.0 531.2,962.1 532.2,962.1 533.2,962.2 534.2,962.2 535.2,962.3 536.2,962.3 537.2,962.4 538.2,962.4 539.2,962.5 540.2,962.5 541.2,962.6 542.2,962.6 543.2,962.7 544.2,962.7 545.2,962.8 546.2,962.8 547.2,962.9 548.2,962.9 549.2,963.0 550.2,963.0 551.2,963.1 552.2,963.1 553.2,963.2 554.2,963.2 555.2,963.2 556.2,963.3 557.2,963.3 558.2,963.4 559.2,963.4 560.2,963.5 561.2,963.5 562.2,963.6 563.2,963.6 564.2,963.6 565.2,963.7 566.2,963.7 567.2,963.8 568.2,963.8 569.2,963.8 570.2,963.9 571.2,963.9 572.2,964.0 573.2,964.0 574.2,964.0 575.2,964.1 576.2,964.1 577.2,964.2 578.2,964.2 579.2,964.2 580.2,964.3 581.2,964.3 582.2,964.4 583.2,964.4 584.2,964.4 585.2,964.5 586.2,964.5 587.2,964.6 588.2,964.6 589.2,964.6 590.2,964.7 591.2,964.7 592.2,964.7 593.2,964.8 594.2,964.8 595.2,964.8 596.2,964.9 597.2,964.9 598.2,965.0 599.2,965.0 600.2,965.0 601.2,965.1 602.2,965.1 603.2,965.1 604.2,965.2 605.2,965.2 606.2,965.2 607.2,965.3 608.2,965.3 609.2,965.3 610.2,965.4 611.2,965.4 612.2,965.4 613.2,965.5 614.2,965.5 615.2,965.5 616.2,965.6 617.2,965.6 618.2,965.6 619.2,965.7 620.2,965.7 621.2,965.7 622.2,965.8 623.2,965.8 624.2,965.8 625.2,965.8 626.2,965.9 627.2,965.9 628.2,965.9 629.2,966.0 630.2,966.0 631.2,966.0 632.2,966.1 633.2,966.1 634.2,966.1 635.2,966.2 636.2,966.2 637.2,966.2 638.2,966.2 639.2,966.3 640.2,966.3 641.2,966.3 642.2,966.4 643.2,966.4 644.2,966.4 645.2,966.4 646.2,966.5 647.2,966.5 648.2,966.5 649.2,966.6 650.2,966.6 651.2,966.6 652.2,966.6 653.2,966.7 654.2,966.7 655.2,966.7 656.2,966.7 657.2,966.8 658.2,966.8 659.2,966.8 660.2,966.9 661.2,966.9 662.2,966.9 663.2,966.9 664.2,967.0 665.2,967.0 666.2,967.0 667.2,967.0 668.2,967.1 669.2,967.1 670.2,967.1 671.2,967.1 672.2,967.2 673.2,967.2 674.2,967.2 675.2,967.2 676.2,967.3 677.2,967.3 678.2,967.3 679.2,967.3 680.2,967.4 681.2,967.4 682.2,967.4 683.2,967.4 684.2,967.5 685.2,967.5 686.2,967.5 687.2,967.5 688.2,967.5 689.2,967.6 690.2,967.6 691.2,967.6 692.2,967.6 693.2,967.7 694.2,967.7 695.2,967.7 696.2,967.7 697.2,967.8 698.2,967.8 699.2,967.8 700.2,967.8 701.2,967.8 702.2,967.9 703.2,967.9 704.2,967.9 705.2,967.9 706.2,968.0 707.2,968.0 708.2,968.0 709.2,968.0 710.2,968.0 711.2,968.1 712.2,968.1 713.2,968.1 714.2,968.1 715.2,968.1 716.2,968.2 717.2,968.2 718.2,968.2 719.2,968.2 720.2,968.2 721.2,968.3 722.2,968.3 723.2,968.3 724.2,968.3 725.2,968.3 726.2,968.4 727.2,968.4 728.2,968.4 729.2,968.4 730.2,968.4 731.2,968.5 732.2,968.5 733.2,968.5 734.2,968.5 735.2,968.5 736.2,968.6 737.2,968.6 738.2,968.6 739.2,968.6 740.2,968.6 741.2,968.6 742.2,968.7 743.2,968.7 744.2,968.7 745.2,968.7 746.2,968.7 747.2,968.8 748.2,968.8 749.2,968.8 750.2,968.8 751.2,968.8 752.2,968.8 753.2,968.9 754.2,968.9 755.2,968.9 756.2,968.9 757.2,968.9 758.2,968.9 759.2,969.0 760.2,969.0 761.2,969.0" fill="none" stroke="#00AAEC" stroke-width="3.3" stroke-linejoin="round" stroke-linecap="butt"/>
<polyline points="18.2,1066.6 19.2,1066.6 20.2,1066.5 21.2,1066.5 22.2,1066.5 23.2,1066.5 24.2,1066.5 25.2,1066.5 26.2,1066.5 27.2,1066.5 28.2,1066.5 29.2,1066.5 30.2,1066.5 31.2,1066.5 32.2,1066.5 33.2,1066.5 34.2,1066.5 35.2,1066.5 36.2,1066.5 37.2,1066.5 38.2,1066.5 39.2,1066.5 40.2,1066.5 41.2,1066.5 42.2,1066.5 43.2,1066.5 44.2,1066.5 45.2,1066.5 46.2,1066.5 47.2,1066.5 48.2,1066.5 49.2,1066.5 50.2,1066.5 51.2,1066.5 52.2,1066.5 53.2,1066.5 54.2,1066.5 55.2,1066.5 56.2,1066.5 57.2,1066.5 58.2,1066.5 59.2,1066.5 60.2,1066.5 61.2,1066.5 62.2,1066.5 63.2,1066.5 64.2,1066.5 65.2,1066.5 66.2,1066.5 67.2,1066.5 68.2,1066.5 69.2,1066.5 70.2,1066.5 71.2,1066.5 72.2,1066.5 73.2,1066.5 74.2,1066.5 75.2,1066.5 76.2,1066.5 77.2,1066.5 78.2,1066.5 79.2,1066.5 80.2,1066.5 81.2,1066.5 82.2,1066.5 83.2,1066.5 84.2,1066.5 85.2,1066.5 86.2,1066.5 87.2,1066.5 88.2,1066.5 89.2,1066.5 90.2,1066.5 91.2,1066.5 92.2,1066.5 93.2,1066.5 94.2,1066.5 95.2,1066.5 96.2,1066.5 97.2,1066.5 98.2,1066.5 99.2,1066.5 100.2,1066.5 101.2,1066.5 102.2,1066.5 103.2,1066.5 104.2,1066.5 105.2,1066.5 106.2,1066.5 107.2,1066.5 108.2,1066.5 109.2,1066.5 110.2,1066.5 111.2,1066.5 112.2,1066.5 113.2,1066.5 114.2,1066.5 115.2,1066.5 116.2,1066.5 117.2,1066.5 118.2,1066.5 119.2,1066.5 120.2,1066.5 121.2,1066.5 122.2,1066.5 123.2,1066.5 124.2,1066.5 125.2,1066.5 126.2,1066.5 127.2,1066.5 128.2,1066.5 129.2,1066.5 130.2,1066.5 131.2,1066.5 132.2,1066.5 133.2,1066.5 134.2,1066.5 135.2,1066.5 136.2,1066.5 137.2,1066.5 138.2,1066.5 139.2,1066.5 140.2,1066.5 141.2,1066.5 142.2,1066.5 143.2,1066.5 144.2,1066.5 145.2,1066.5 146.2,1066.5 147.2,1066.5 148.2,1066.5 149.2,1066.5 150.2,1066.5 151.2,1066.5 152.2,1066.5 153.2,1066.5 154.2,1066.5 155.2,1066.5 156.2,1066.5 157.2,1066.5 158.2,1066.5 159.2,1066.5 160.2,1066.5 161.2,1066.5 162.2,1066.5 163.2,1066.5 164.2,1066.5 165.2,1066.5 166.2,1066.5 167.2,1066.5 168.2,1066.5 169.2,1066.5 170.2,1066.5 171.2,1066.5 172.2,1066.5 173.2,1066.5 174.2,1066.4 175.2,1066.4 176.2,1066.4 177.2,1066.4 178.2,1066.4 179.2,1066.4 180.2,1066.4 181.2,1066.4 182.2,1066.4 183.2,1066.4 184.2,1066.4 185.2,1066.4 186.2,1066.4 187.2,1066.4 188.2,1066.4 189.2,1066.4 190.2,1066.4 191.2,1066.4 192.2,1066.4 193.2,1066.4 194.2,1066.4 195.2,1066.4 196.2,1066.4 197.2,1066.4 198.2,1066.4 199.2,1066.4 200.2,1066.4 201.2,1066.4 202.2,1066.4 203.2,1066.4 204.2,1066.4 205.2,1066.4 206.2,1066.4 207.2,1066.4 208.2,1066.4 209.2,1066.4 210.2,1066.4 211.2,1066.4 212.2,1066.4 213.2,1066.4 214.2,1066.4 215.2,1066.4 216.2,1066.4 217.2,1066.4 218.2,1066.4 219.2,1066.4 220.2,1066.4 221.2,1066.4 222.2,1066.4 223.2,1066.4 224.2,1066.4 225.2,1066.4 226.2,1066.4 227.2,1066.4 228.2,1066.4 229.2,1066.4 230.2,1066.4 231.2,1066.4 232.2,1066.4 233.2,1066.4 234.2,1066.4 235.2,1066.4 236.2,1066.4 237.2,1066.4 238.2,1066.4 239.2,1066.4 240.2,1066.4 241.2,1066.4 242.2,1066.4 243.2,1066.4 244.2,1066.4 245.2,1066.4 246.2,1066.4 247.2,1066.4 248.2,1066.4 249.2,1066.4 250.2,1066.4 251.2,1066.4 252.2,1066.4 253.2,1066.4 254.2,1066.4 255.2,1066.4 256.2,1066.4 257.2,1066.4 258.2,1066.4 259.2,1066.4 260.2,1066.4 261.2,1066.4 262.2,1066.4 263.2,1066.4 264.2,1066.4 265.2,1066.4 266.2,1066.4 267.2,1066.4 268.2,1066.4 269.2,1066.4 270.2,1066.4 271.2,1066.4 272.2,1066.4 273.2,1066.4 274.2,1066.4 275.2,1066.4 276.2,1066.4 277.2,1066.4 278.2,1066.4 279.2,1066.4 280.2,1066.4 281.2,1066.4 282.2,1066.4 283.2,1066.4 284.2,1066.4 285.2,1066.4 286.2,1066.4 287.2,1066.4 288.2,1066.4 289.2,1066.4 290.2,1066.4 291.2,1066.4 292.2,1066.4 293.2,1066.4 294.2,1066.4 295.2,1066.4 296.2,1066.4 297.2,1066.4 298.2,1066.4 299.2,1066.4 300.2,1066.4 301.2,1066.4 302.2,1066.4 303.2,1066.4 304.2,1066.4 305.2,1066.4 306.2,1066.4 307.2,1066.4 308.2,1066.4 309.2,1066.3 310.2,1066.3 311.2,1066.3 312.2,1066.3 313.2,1066.3 314.2,1066.3 315.2,1066.3 316.2,1066.3 317.2,1066.3 318.2,1066.3 319.2,1066.3 320.2,1066.3 321.2,1066.3 322.2,1066.3 323.2,1066.3 324.2,1066.3 325.2,1066.3 326.2,1066.3 327.2,1066.3 328.2,1066.3 329.2,1066.2 330.2,1066.2 331.2,1066.2 332.2,1066.2 333.2,1066.2 334.2,1066.2 335.2,1066.2 336.2,1066.1 337.2,1066.1 338.2,1066.1 339.2,1066.1 340.2,1066.1 341.2,1066.0 342.2,1066.0 343.2,1066.0 344.2,1065.9 345.2,1065.9 346.2,1065.9 347.2,1065.8 348.2,1065.8 349.2,1065.7 350.2,1065.7 351.2,1065.6 352.2,1065.6 353.2,1065.5 354.2,1065.4 355.2,1065.4 356.2,1065.3 357.2,1065.2 358.2,1065.1 359.2,1065.0 360.2,1064.9 361.2,1064.8 362.2,1064.7 363.2,1064.6 364.2,1064.4 365.2,1064.3 366.2,1064.1 367.2,1064.0 368.2,1063.8 369.2,1063.6 370.2,1063.4 371.2,1063.2 372.2,1063.0 373.2,1062.8 374.2,1062.5 375.2,1062.3 376.2,1062.0 377.2,1061.8 378.2,1061.5 379.2,1061.2 380.2,1060.9 381.2,1060.5 382.2,1060.2 383.2,1059.8 384.2,1059.4 385.2,1059.0 386.2,1058.5 387.2,1058.0 388.2,1057.5 389.2,1057.0 390.2,1056.4 391.2,1055.8 392.2,1055.1 393.2,1054.4 394.2,1053.6 395.2,1052.8 396.2,1051.9 397.2,1051.0 398.2,1050.0 399.2,1049.0 400.2,1048.0 401.2,1046.9 402.2,1045.7 403.2,1044.6 404.2,1043.4 405.2,1042.2 406.2,1041.0 407.2,1039.8 408.2,1038.6 409.2,1037.4 410.2,1036.3 411.2,1035.1 412.2,1034.0 413.2,1032.9 414.2,1031.8 415.2,1030.7 416.2,1029.7 417.2,1028.8 418.2,1027.9 419.2,1027.0 420.2,1026.2 421.2,1025.4 422.2,1024.7 423.2,1024.0 424.2,1023.4 425.2,1022.9 426.2,1022.4 427.2,1021.9 428.2,1021.5 429.2,1021.2 430.2,1020.9 431.2,1020.7 432.2,1020.5 433.2,1020.3 434.2,1020.2 435.2,1020.1 436.2,1020.0 437.2,1020.0 438.2,1020.0 439.2,1020.1 440.2,1020.1 441.2,1020.2 442.2,1020.3 443.2,1020.5 444.2,1020.6 445.2,1020.8 446.2,1021.0 447.2,1021.2 448.2,1021.5 449.2,1021.7 450.2,1022.0 451.2,1022.3 452.2,1022.6 453.2,1022.9 454.2,1023.3 455.2,1023.6 456.2,1024.0 457.2,1024.4 458.2,1024.8 459.2,1025.2 460.2,1025.7 461.2,1026.1 462.2,1026.6 463.2,1027.1 464.2,1027.6 465.2,1028.1 466.2,1028.6 467.2,1029.1 468.2,1029.6 469.2,1030.2 470.2,1030.7 471.2,1031.3 472.2,1031.8 473.2,1032.4 474.2,1033.0 475.2,1033.5 476.2,1034.1 477.2,1034.6 478.2,1035.2 479.2,1035.7 480.2,1036.3 481.2,1036.8 482.2,1037.4 483.2,1037.9 484.2,1038.5 485.2,1039.0 486.2,1039.6 487.2,1040.1 488.2,1040.6 489.2,1041.2 490.2,1041.7 491.2,1042.2 492.2,1042.8 493.2,1043.3 494.2,1043.8 495.2,1044.3 496.2,1044.8 497.2,1045.3 498.2,1045.8 499.2,1046.3 500.2,1046.8 501.2,1047.2 502.2,1047.7 503.2,1048.2 504.2,1048.6 505.2,1049.1 506.2,1049.5 507.2,1049.9 508.2,1050.3 509.2,1050.7 510.2,1051.1 511.2,1051.5 512.2,1051.9 513.2,1052.3 514.2,1052.6 515.2,1053.0 516.2,1053.4 517.2,1053.7 518.2,1054.0 519.2,1054.4 520.2,1054.7 521.2,1055.0 522.2,1055.3 523.2,1055.6 524.2,1055.9 525.2,1056.2 526.2,1056.5 527.2,1056.8 528.2,1057.0 529.2,1057.3 530.2,1057.6 531.2,1057.8 532.2,1058.1 533.2,1058.3 534.2,1058.5 535.2,1058.8 536.2,1059.0 537.2,1059.2 538.2,1059.4 539.2,1059.6 540.2,1059.8 541.2,1060.0 542.2,1060.2 543.2,1060.4 544.2,1060.5 545.2,1060.7 546.2,1060.9 547.2,1061.0 548.2,1061.2 549.2,1061.3 550.2,1061.5 551.2,1061.6 552.2,1061.7 553.2,1061.9 554.2,1062.0 555.2,1062.1 556.2,1062.2 557.2,1062.3 558.2,1062.5 559.2,1062.6 560.2,1062.7 561.2,1062.8 562.2,1062.9 563.2,1063.0 564.2,1063.0 565.2,1063.1 566.2,1063.2 567.2,1063.3 568.2,1063.4 569.2,1063.5 570.2,1063.5 571.2,1063.6 572.2,1063.7 573.2,1063.8 574.2,1063.8 575.2,1063.9 576.2,1063.9 577.2,1064.0 578.2,1064.1 579.2,1064.1 580.2,1064.2 581.2,1064.2 582.2,1064.3 583.2,1064.3 584.2,1064.4 585.2,1064.4 586.2,1064.5 587.2,1064.5 588.2,1064.6 589.2,1064.6 590.2,1064.6 591.2,1064.7 592.2,1064.7 593.2,1064.8 594.2,1064.8 595.2,1064.8 596.2,1064.9 597.2,1064.9 598.2,1064.9 599.2,1065.0 600.2,1065.0 601.2,1065.0 602.2,1065.1 603.2,1065.1 604.2,1065.1 605.2,1065.1 606.2,1065.2 607.2,1065.2 608.2,1065.2 609.2,1065.2 610.2,1065.3 611.2,1065.3 612.2,1065.3 613.2,1065.3 614.2,1065.3 615.2,1065.4 616.2,1065.4 617.2,1065.4 618.2,1065.4 619.2,1065.4 620.2,1065.4 621.2,1065.5 622.2,1065.5 623.2,1065.5 624.2,1065.5 625.2,1065.5 626.2,1065.5 627.2,1065.6 628.2,1065.6 629.2,1065.6 630.2,1065.6 631.2,1065.6 632.2,1065.6 633.2,1065.6 634.2,1065.6 635.2,1065.7 636.2,1065.7 637.2,1065.7 638.2,1065.7 639.2,1065.7 640.2,1065.7 641.2,1065.7 642.2,1065.7 643.2,1065.7 644.2,1065.7 645.2,1065.7 646.2,1065.8 647.2,1065.8 648.2,1065.8 649.2,1065.8 650.2,1065.8 651.2,1065.8 652.2,1065.8 653.2,1065.8 654.2,1065.8 655.2,1065.8 656.2,1065.8 657.2,1065.8 658.2,1065.8 659.2,1065.8 660.2,1065.9 661.2,1065.9 662.2,1065.9 663.2,1065.9 664.2,1065.9 665.2,1065.9 666.2,1065.9 667.2,1065.9 668.2,1065.9 669.2,1065.9 670.2,1065.9 671.2,1065.9 672.2,1065.9 673.2,1065.9 674.2,1065.9 675.2,1065.9 676.2,1065.9 677.2,1065.9 678.2,1065.9 679.2,1065.9 680.2,1065.9 681.2,1065.9 682.2,1065.9 683.2,1065.9 684.2,1065.9 685.2,1066.0 686.2,1066.0 687.2,1066.0 688.2,1066.0 689.2,1066.0 690.2,1066.0 691.2,1066.0 692.2,1066.0 693.2,1066.0 694.2,1066.0 695.2,1066.0 696.2,1066.0 697.2,1066.0 698.2,1066.0 699.2,1066.0 700.2,1066.0 701.2,1066.0 702.2,1066.0 703.2,1066.0 704.2,1066.0 705.2,1066.0 706.2,1066.0 707.2,1066.0 708.2,1066.0 709.2,1066.0 710.2,1066.0 711.2,1066.0 712.2,1066.0 713.2,1066.0 714.2,1066.0 715.2,1066.0 716.2,1066.0 717.2,1066.0 718.2,1066.0 719.2,1066.0 720.2,1066.0 721.2,1066.0 722.2,1066.0 723.2,1066.0 724.2,1066.0 725.2,1066.0 726.2,1066.0 727.2,1066.0 728.2,1066.0 729.2,1066.0 730.2,1066.0 731.2,1066.0 732.2,1066.0 733.2,1066.0 734.2,1066.0 735.2,1066.0 736.2,1066.0 737.2,1066.0 738.2,1066.0 739.2,1066.0 740.2,1066.0 741.2,1066.0 742.2,1066.0 743.2,1066.0 744.2,1066.0 745.2,1066.0 746.2,1066.0 747.2,1066.0 748.2,1066.0 749.2,1066.0 750.2,1066.0 751.2,1066.0 752.2,1066.0 753.2,1066.0 754.2,1066.0 755.2,1066.0 756.2,1066.0 757.2,1066.0 758.2,1066.0 759.2,1066.0 760.2,1066.0 761.2,1066.0" fill="none" stroke="#000" stroke-width="3.3" stroke-linejoin="round" stroke-linecap="butt"/>
<polyline points="18.2,1066.3 19.2,1066.3 20.2,1066.3 21.2,1066.3 22.2,1066.3 23.2,1066.3 24.2,1066.3 25.2,1066.3 26.2,1066.3 27.2,1066.3 28.2,1066.3 29.2,1066.3 30.2,1066.3 31.2,1066.3 32.2,1066.3 33.2,1066.3 34.2,1066.3 35.2,1066.3 36.2,1066.3 37.2,1066.3 38.2,1066.3 39.2,1066.3 40.2,1066.3 41.2,1066.3 42.2,1066.3 43.2,1066.3 44.2,1066.3 45.2,1066.3 46.2,1066.3 47.2,1066.3 48.2,1066.3 49.2,1066.3 50.2,1066.3 51.2,1066.3 52.2,1066.3 53.2,1066.3 54.2,1066.3 55.2,1066.3 56.2,1066.3 57.2,1066.3 58.2,1066.3 59.2,1066.3 60.2,1066.3 61.2,1066.3 62.2,1066.3 63.2,1066.3 64.2,1066.3 65.2,1066.3 66.2,1066.3 67.2,1066.3 68.2,1066.3 69.2,1066.3 70.2,1066.3 71.2,1066.3 72.2,1066.3 73.2,1066.3 74.2,1066.3 75.2,1066.3 76.2,1066.3 77.2,1066.3 78.2,1066.3 79.2,1066.3 80.2,1066.3 81.2,1066.3 82.2,1066.3 83.2,1066.3 84.2,1066.3 85.2,1066.3 86.2,1066.3 87.2,1066.3 88.2,1066.3 89.2,1066.3 90.2,1066.3 91.2,1066.3 92.2,1066.3 93.2,1066.3 94.2,1066.3 95.2,1066.3 96.2,1066.3 97.2,1066.3 98.2,1066.3 99.2,1066.3 100.2,1066.3 101.2,1066.3 102.2,1066.3 103.2,1066.3 104.2,1066.3 105.2,1066.3 106.2,1066.3 107.2,1066.3 108.2,1066.3 109.2,1066.3 110.2,1066.3 111.2,1066.3 112.2,1066.3 113.2,1066.3 114.2,1066.3 115.2,1066.3 116.2,1066.3 117.2,1066.3 118.2,1066.3 119.2,1066.3 120.2,1066.3 121.2,1066.3 122.2,1066.3 123.2,1066.3 124.2,1066.3 125.2,1066.3 126.2,1066.3 127.2,1066.3 128.2,1066.3 129.2,1066.3 130.2,1066.3 131.2,1066.3 132.2,1066.3 133.2,1066.3 134.2,1066.3 135.2,1066.3 136.2,1066.3 137.2,1066.3 138.2,1066.3 139.2,1066.3 140.2,1066.3 141.2,1066.3 142.2,1066.3 143.2,1066.3 144.2,1066.3 145.2,1066.3 146.2,1066.3 147.2,1066.3 148.2,1066.3 149.2,1066.3 150.2,1066.3 151.2,1066.3 152.2,1066.3 153.2,1066.3 154.2,1066.3 155.2,1066.3 156.2,1066.3 157.2,1066.3 158.2,1066.3 159.2,1066.3 160.2,1066.3 161.2,1066.3 162.2,1066.3 163.2,1066.3 164.2,1066.3 165.2,1066.3 166.2,1066.3 167.2,1066.3 168.2,1066.3 169.2,1066.2 170.2,1066.2 171.2,1066.2 172.2,1066.2 173.2,1066.2 174.2,1066.1 175.2,1066.1 176.2,1066.1 177.2,1066.1 178.2,1066.0 179.2,1066.0 180.2,1065.9 181.2,1065.9 182.2,1065.8 183.2,1065.8 184.2,1065.7 185.2,1065.7 186.2,1065.6 187.2,1065.5 188.2,1065.5 189.2,1065.4 190.2,1065.3 191.2,1065.2 192.2,1065.1 193.2,1064.9 194.2,1064.8 195.2,1064.7 196.2,1064.5 197.2,1064.3 198.2,1064.1 199.2,1063.8 200.2,1063.6 201.2,1063.3 202.2,1063.0 203.2,1062.7 204.2,1062.3 205.2,1061.9 206.2,1061.5 207.2,1061.1 208.2,1060.6 209.2,1060.1 210.2,1059.6 211.2,1059.0 212.2,1058.4 213.2,1057.8 214.2,1057.2 215.2,1056.5 216.2,1055.8 217.2,1055.1 218.2,1054.3 219.2,1053.5 220.2,1052.7 221.2,1051.8 222.2,1051.0 223.2,1050.1 224.2,1049.2 225.2,1048.3 226.2,1047.3 227.2,1046.4 228.2,1045.4 229.2,1044.5 230.2,1043.5 231.2,1042.5 232.2,1041.5 233.2,1040.6 234.2,1039.6 235.2,1038.6 236.2,1037.6 237.2,1036.7 238.2,1035.7 239.2,1034.8 240.2,1033.8 241.2,1032.9 242.2,1032.0 243.2,1031.1 244.2,1030.2 245.2,1029.3 246.2,1028.5 247.2,1027.7 248.2,1026.9 249.2,1026.2 250.2,1025.4 251.2,1024.8 252.2,1024.1 253.2,1023.5 254.2,1023.0 255.2,1022.4 256.2,1022.0 257.2,1021.6 258.2,1021.2 259.2,1020.9 260.2,1020.6 261.2,1020.4 262.2,1020.2 263.2,1020.1 264.2,1020.0 265.2,1019.9 266.2,1019.9 267.2,1020.0 268.2,1020.1 269.2,1020.2 270.2,1020.4 271.2,1020.6 272.2,1020.8 273.2,1021.1 274.2,1021.4 275.2,1021.7 276.2,1022.1 277.2,1022.5 278.2,1022.9 279.2,1023.3 280.2,1023.7 281.2,1024.2 282.2,1024.7 283.2,1025.2 284.2,1025.7 285.2,1026.2 286.2,1026.8 287.2,1027.3 288.2,1027.9 289.2,1028.4 290.2,1029.0 291.2,1029.6 292.2,1030.2 293.2,1030.7 294.2,1031.3 295.2,1031.9 296.2,1032.5 297.2,1033.1 298.2,1033.6 299.2,1034.2 300.2,1034.8 301.2,1035.4 302.2,1035.9 303.2,1036.5 304.2,1037.1 305.2,1037.6 306.2,1038.2 307.2,1038.7 308.2,1039.2 309.2,1039.8 310.2,1040.3 311.2,1040.8 312.2,1041.3 313.2,1041.8 314.2,1042.3 315.2,1042.8 316.2,1043.2 317.2,1043.7 318.2,1044.1 319.2,1044.6 320.2,1045.0 321.2,1045.4 322.2,1045.8 323.2,1046.2 324.2,1046.6 325.2,1047.0 326.2,1047.3 327.2,1047.7 328.2,1048.1 329.2,1048.4 330.2,1048.7 331.2,1049.1 332.2,1049.4 333.2,1049.7 334.2,1050.0 335.2,1050.3 336.2,1050.6 337.2,1050.9 338.2,1051.2 339.2,1051.5 340.2,1051.8 341.2,1052.1 342.2,1052.3 343.2,1052.6 344.2,1052.8 345.2,1053.1 346.2,1053.3 347.2,1053.6 348.2,1053.8 349.2,1054.0 350.2,1054.2 351.2,1054.5 352.2,1054.7 353.2,1054.9 354.2,1055.1 355.2,1055.3 356.2,1055.4 357.2,1055.6 358.2,1055.8 359.2,1056.0 360.2,1056.2 361.2,1056.4 362.2,1056.5 363.2,1056.7 364.2,1056.9 365.2,1057.1 366.2,1057.2 367.2,1057.4 368.2,1057.6 369.2,1057.7 370.2,1057.9 371.2,1058.1 372.2,1058.2 373.2,1058.4 374.2,1058.5 375.2,1058.7 376.2,1058.8 377.2,1058.9 378.2,1059.1 379.2,1059.2 380.2,1059.3 381.2,1059.4 382.2,1059.5 383.2,1059.7 384.2,1059.8 385.2,1059.9 386.2,1060.0 387.2,1060.1 388.2,1060.2 389.2,1060.3 390.2,1060.3 391.2,1060.4 392.2,1060.5 393.2,1060.6 394.2,1060.7 395.2,1060.8 396.2,1060.9 397.2,1060.9 398.2,1061.0 399.2,1061.1 400.2,1061.2 401.2,1061.3 402.2,1061.3 403.2,1061.4 404.2,1061.5 405.2,1061.6 406.2,1061.6 407.2,1061.7 408.2,1061.8 409.2,1061.8 410.2,1061.9 411.2,1062.0 412.2,1062.0 413.2,1062.1 414.2,1062.1 415.2,1062.2 416.2,1062.3 417.2,1062.3 418.2,1062.4 419.2,1062.4 420.2,1062.5 421.2,1062.5 422.2,1062.6 423.2,1062.6 424.2,1062.7 425.2,1062.7 426.2,1062.8 427.2,1062.8 428.2,1062.9 429.2,1062.9 430.2,1063.0 431.2,1063.0 432.2,1063.1 433.2,1063.1 434.2,1063.2 435.2,1063.2 436.2,1063.3 437.2,1063.3 438.2,1063.3 439.2,1063.4 440.2,1063.4 441.2,1063.5 442.2,1063.5 443.2,1063.5 444.2,1063.6 445.2,1063.6 446.2,1063.7 447.2,1063.7 448.2,1063.7 449.2,1063.8 450.2,1063.8 451.2,1063.8 452.2,1063.9 453.2,1063.9 454.2,1063.9 455.2,1064.0 456.2,1064.0 457.2,1064.0 458.2,1064.1 459.2,1064.1 460.2,1064.1 461.2,1064.1 462.2,1064.2 463.2,1064.2 464.2,1064.2 465.2,1064.3 466.2,1064.3 467.2,1064.3 468.2,1064.3 469.2,1064.4 470.2,1064.4 471.2,1064.4 472.2,1064.4 473.2,1064.5 474.2,1064.5 475.2,1064.5 476.2,1064.5 477.2,1064.6 478.2,1064.6 479.2,1064.6 480.2,1064.6 481.2,1064.7 482.2,1064.7 483.2,1064.7 484.2,1064.7 485.2,1064.7 486.2,1064.8 487.2,1064.8 488.2,1064.8 489.2,1064.8 490.2,1064.9 491.2,1064.9 492.2,1064.9 493.2,1064.9 494.2,1064.9 495.2,1064.9 496.2,1065.0 497.2,1065.0 498.2,1065.0 499.2,1065.0 500.2,1065.0 501.2,1065.1 502.2,1065.1 503.2,1065.1 504.2,1065.1 505.2,1065.1 506.2,1065.1 507.2,1065.2 508.2,1065.2 509.2,1065.2 510.2,1065.2 511.2,1065.2 512.2,1065.2 513.2,1065.2 514.2,1065.3 515.2,1065.3 516.2,1065.3 517.2,1065.3 518.2,1065.3 519.2,1065.3 520.2,1065.3 521.2,1065.4 522.2,1065.4 523.2,1065.4 524.2,1065.4 525.2,1065.4 526.2,1065.4 527.2,1065.4 528.2,1065.4 529.2,1065.5 530.2,1065.5 531.2,1065.5 532.2,1065.5 533.2,1065.5 534.2,1065.5 535.2,1065.5 536.2,1065.5 537.2,1065.5 538.2,1065.6 539.2,1065.6 540.2,1065.6 541.2,1065.6 542.2,1065.6 543.2,1065.6 544.2,1065.6 545.2,1065.6 546.2,1065.6 547.2,1065.6 548.2,1065.7 549.2,1065.7 550.2,1065.7 551.2,1065.7 552.2,1065.7 553.2,1065.7 554.2,1065.7 555.2,1065.7 556.2,1065.7 557.2,1065.7 558.2,1065.7 559.2,1065.8 560.2,1065.8 561.2,1065.8 562.2,1065.8 563.2,1065.8 564.2,1065.8 565.2,1065.8 566.2,1065.8 567.2,1065.8 568.2,1065.8 569.2,1065.8 570.2,1065.8 571.2,1065.8 572.2,1065.9 573.2,1065.9 574.2,1065.9 575.2,1065.9 576.2,1065.9 577.2,1065.9 578.2,1065.9 579.2,1065.9 580.2,1065.9 581.2,1065.9 582.2,1065.9 583.2,1065.9 584.2,1065.9 585.2,1065.9 586.2,1065.9 587.2,1065.9 588.2,1066.0 589.2,1066.0 590.2,1066.0 591.2,1066.0 592.2,1066.0 593.2,1066.0 594.2,1066.0 595.2,1066.0 596.2,1066.0 597.2,1066.0 598.2,1066.0 599.2,1066.0 600.2,1066.0 601.2,1066.0 602.2,1066.0 603.2,1066.0 604.2,1066.0 605.2,1066.0 606.2,1066.0 607.2,1066.0 608.2,1066.1 609.2,1066.1 610.2,1066.1 611.2,1066.1 612.2,1066.1 613.2,1066.1 614.2,1066.1 615.2,1066.1 616.2,1066.1 617.2,1066.1 618.2,1066.1 619.2,1066.1 620.2,1066.1 621.2,1066.1 622.2,1066.1 623.2,1066.1 624.2,1066.1 625.2,1066.1 626.2,1066.1 627.2,1066.1 628.2,1066.1 629.2,1066.1 630.2,1066.1 631.2,1066.1 632.2,1066.1 633.2,1066.1 634.2,1066.1 635.2,1066.2 636.2,1066.2 637.2,1066.2 638.2,1066.2 639.2,1066.2 640.2,1066.2 641.2,1066.2 642.2,1066.2 643.2,1066.2 644.2,1066.2 645.2,1066.2 646.2,1066.2 647.2,1066.2 648.2,1066.2 649.2,1066.2 650.2,1066.2 651.2,1066.2 652.2,1066.2 653.2,1066.2 654.2,1066.2 655.2,1066.2 656.2,1066.2 657.2,1066.2 658.2,1066.2 659.2,1066.2 660.2,1066.2 661.2,1066.2 662.2,1066.2 663.2,1066.2 664.2,1066.2 665.2,1066.2 666.2,1066.2 667.2,1066.2 668.2,1066.2 669.2,1066.2 670.2,1066.2 671.2,1066.2 672.2,1066.2 673.2,1066.2 674.2,1066.2 675.2,1066.3 676.2,1066.3 677.2,1066.3 678.2,1066.3 679.2,1066.3 680.2,1066.3 681.2,1066.3 682.2,1066.3 683.2,1066.3 684.2,1066.3 685.2,1066.3 686.2,1066.3 687.2,1066.3 688.2,1066.3 689.2,1066.3 690.2,1066.3 691.2,1066.3 692.2,1066.3 693.2,1066.3 694.2,1066.3 695.2,1066.3 696.2,1066.3 697.2,1066.3 698.2,1066.3 699.2,1066.3 700.2,1066.3 701.2,1066.3 702.2,1066.3 703.2,1066.3 704.2,1066.3 705.2,1066.3 706.2,1066.3 707.2,1066.3 708.2,1066.3 709.2,1066.3 710.2,1066.3 711.2,1066.3 712.2,1066.3 713.2,1066.3 714.2,1066.3 715.2,1066.3 716.2,1066.3 717.2,1066.3 718.2,1066.3 719.2,1066.3 720.2,1066.3 721.2,1066.3 722.2,1066.3 723.2,1066.3 724.2,1066.3 725.2,1066.3 726.2,1066.3 727.2,1066.3 728.2,1066.3 729.2,1066.3 730.2,1066.3 731.2,1066.3 732.2,1066.3 733.2,1066.3 734.2,1066.3 735.2,1066.3 736.2,1066.3 737.2,1066.3 738.2,1066.3 739.2,1066.3 740.2,1066.3 741.2,1066.3 742.2,1066.3 743.2,1066.3 744.2,1066.3 745.2,1066.3 746.2,1066.3 747.2,1066.3 748.2,1066.3 749.2,1066.3 750.2,1066.3 751.2,1066.3 752.2,1066.3 753.2,1066.4 754.2,1066.4 755.2,1066.4 756.2,1066.4 757.2,1066.4 758.2,1066.4 759.2,1066.4 760.2,1066.4 761.2,1066.4" fill="none" stroke="#00AAEC" stroke-width="3.3" stroke-linejoin="round" stroke-linecap="butt"/>
<line x1="266.50" y1="637.70" x2="266.50" y2="1066.80" stroke="#00AAEC" stroke-width="3.3" stroke-dasharray="11.1 17.5" stroke-dashoffset="10.2" stroke-linecap="round"/>
<line x1="450.80" y1="637.70" x2="450.80" y2="1066.80" stroke="#000" stroke-width="3.3" stroke-dasharray="11.1 17.5" stroke-dashoffset="10.2" stroke-linecap="round"/>
<line x1="1007.20" y1="1079.30" x2="1748.20" y2="1079.30" stroke="#000" stroke-width="2.2"/>
<line x1="1008.20" y1="1079.30" x2="1008.20" y2="1071.30" stroke="#000" stroke-width="2.2"/>
<line x1="1155.00" y1="1079.30" x2="1155.00" y2="1071.30" stroke="#000" stroke-width="2.2"/>
<line x1="1302.60" y1="1079.30" x2="1302.60" y2="1071.30" stroke="#000" stroke-width="2.2"/>
<line x1="1450.80" y1="1079.30" x2="1450.80" y2="1071.30" stroke="#000" stroke-width="2.2"/>
<line x1="1598.80" y1="1079.30" x2="1598.80" y2="1071.30" stroke="#000" stroke-width="2.2"/>
<line x1="1747.00" y1="1079.30" x2="1747.00" y2="1071.30" stroke="#000" stroke-width="2.2"/>
<text x="0" y="0" transform="translate(992.60,1122.30) scale(1.0000,1.0500)" font-size="33.5" font-weight="bold">7</text>
<text x="0" y="0" transform="translate(1140.37,1122.30) scale(1.0000,1.0500)" font-size="33.5" font-weight="bold">8</text>
<text x="0" y="0" transform="translate(1289.33,1122.30) scale(1.0000,1.0500)" font-size="33.5" font-weight="bold">9</text>
<text x="0" y="0" transform="translate(1428.20,1122.30) scale(1.0000,1.0500)" font-size="33.5" font-weight="bold">10</text>
<text x="0" y="0" transform="translate(1575.98,1122.30) scale(1.0000,1.0500)" font-size="33.5" font-weight="bold">11</text>
<text x="0" y="0" transform="translate(1724.78,1122.30) scale(1.0000,1.0500)" font-size="33.5" font-weight="bold">12</text>
<text x="0" y="0" transform="translate(1166.78,1171.60) scale(0.9588,1.0500)" font-size="45.5" font-weight="bold">Elution volume (mL)</text>
<polyline points="1009.2,694.4 1010.2,694.4 1011.2,694.4 1012.2,694.4 1013.2,694.4 1014.2,694.4 1015.2,694.4 1016.2,694.4 1017.2,694.4 1018.2,694.4 1019.2,694.4 1020.2,694.4 1021.2,694.4 1022.2,694.4 1023.2,694.4 1024.2,694.4 1025.2,694.4 1026.2,694.4 1027.2,694.4 1028.2,694.4 1029.2,694.4 1030.2,694.4 1031.2,694.4 1032.2,694.4 1033.2,694.4 1034.2,694.4 1035.2,694.4 1036.2,694.4 1037.2,694.4 1038.2,694.4 1039.2,694.4 1040.2,694.4 1041.2,694.4 1042.2,694.4 1043.2,694.4 1044.2,694.4 1045.2,694.4 1046.2,694.4 1047.2,694.4 1048.2,694.4 1049.2,694.4 1050.2,694.4 1051.2,694.4 1052.2,694.4 1053.2,694.4 1054.2,694.4 1055.2,694.4 1056.2,694.4 1057.2,694.4 1058.2,694.4 1059.2,694.4 1060.2,694.4 1061.2,694.4 1062.2,694.4 1063.2,694.4 1064.2,694.4 1065.2,694.4 1066.2,694.4 1067.2,694.4 1068.2,694.4 1069.2,694.4 1070.2,694.4 1071.2,694.4 1072.2,694.4 1073.2,694.3 1074.2,694.3 1075.2,694.3 1076.2,694.3 1077.2,694.3 1078.2,694.3 1079.2,694.3 1080.2,694.3 1081.2,694.3 1082.2,694.3 1083.2,694.3 1084.2,694.3 1085.2,694.3 1086.2,694.3 1087.2,694.3 1088.2,694.3 1089.2,694.3 1090.2,694.3 1091.2,694.3 1092.2,694.3 1093.2,694.3 1094.2,694.3 1095.2,694.3 1096.2,694.3 1097.2,694.3 1098.2,694.3 1099.2,694.3 1100.2,694.3 1101.2,694.3 1102.2,694.3 1103.2,694.3 1104.2,694.3 1105.2,694.3 1106.2,694.3 1107.2,694.3 1108.2,694.3 1109.2,694.3 1110.2,694.3 1111.2,694.3 1112.2,694.3 1113.2,694.3 1114.2,694.3 1115.2,694.3 1116.2,694.3 1117.2,694.3 1118.2,694.3 1119.2,694.3 1120.2,694.3 1121.2,694.3 1122.2,694.3 1123.2,694.3 1124.2,694.3 1125.2,694.3 1126.2,694.3 1127.2,694.3 1128.2,694.3 1129.2,694.3 1130.2,694.3 1131.2,694.3 1132.2,694.3 1133.2,694.3 1134.2,694.3 1135.2,694.3 1136.2,694.3 1137.2,694.3 1138.2,694.3 1139.2,694.3 1140.2,694.3 1141.2,694.3 1142.2,694.3 1143.2,694.3 1144.2,694.3 1145.2,694.3 1146.2,694.3 1147.2,694.3 1148.2,694.3 1149.2,694.3 1150.2,694.3 1151.2,694.3 1152.2,694.3 1153.2,694.3 1154.2,694.3 1155.2,694.3 1156.2,694.3 1157.2,694.3 1158.2,694.3 1159.2,694.3 1160.2,694.3 1161.2,694.3 1162.2,694.3 1163.2,694.3 1164.2,694.3 1165.2,694.3 1166.2,694.3 1167.2,694.3 1168.2,694.3 1169.2,694.3 1170.2,694.3 1171.2,694.3 1172.2,694.3 1173.2,694.3 1174.2,694.3 1175.2,694.3 1176.2,694.3 1177.2,694.3 1178.2,694.3 1179.2,694.3 1180.2,694.3 1181.2,694.3 1182.2,694.3 1183.2,694.3 1184.2,694.3 1185.2,694.3 1186.2,694.3 1187.2,694.3 1188.2,694.3 1189.2,694.3 1190.2,694.3 1191.2,694.3 1192.2,694.3 1193.2,694.3 1194.2,694.3 1195.2,694.3 1196.2,694.3 1197.2,694.3 1198.2,694.3 1199.2,694.3 1200.2,694.3 1201.2,694.3 1202.2,694.3 1203.2,694.3 1204.2,694.3 1205.2,694.3 1206.2,694.3 1207.2,694.3 1208.2,694.3 1209.2,694.3 1210.2,694.3 1211.2,694.3 1212.2,694.3 1213.2,694.3 1214.2,694.3 1215.2,694.3 1216.2,694.3 1217.2,694.3 1218.2,694.3 1219.2,694.3 1220.2,694.3 1221.2,694.3 1222.2,694.3 1223.2,694.3 1224.2,694.3 1225.2,694.3 1226.2,694.3 1227.2,694.3 1228.2,694.3 1229.2,694.3 1230.2,694.3 1231.2,694.3 1232.2,694.3 1233.2,694.3 1234.2,694.3 1235.2,694.2 1236.2,694.2 1237.2,694.2 1238.2,694.2 1239.2,694.2 1240.2,694.2 1241.2,694.2 1242.2,694.2 1243.2,694.2 1244.2,694.2 1245.2,694.2 1246.2,694.2 1247.2,694.2 1248.2,694.2 1249.2,694.2 1250.2,694.2 1251.2,694.2 1252.2,694.2 1253.2,694.2 1254.2,694.2 1255.2,694.2 1256.2,694.2 1257.2,694.2 1258.2,694.2 1259.2,694.2 1260.2,694.2 1261.2,694.2 1262.2,694.2 1263.2,694.2 1264.2,694.2 1265.2,694.2 1266.2,694.2 1267.2,694.2 1268.2,694.2 1269.2,694.2 1270.2,694.2 1271.2,694.2 1272.2,694.2 1273.2,694.2 1274.2,694.2 1275.2,694.2 1276.2,694.2 1277.2,694.2 1278.2,694.2 1279.2,694.1 1280.2,694.1 1281.2,694.1 1282.2,694.1 1283.2,694.1 1284.2,694.1 1285.2,694.0 1286.2,694.0 1287.2,694.0 1288.2,694.0 1289.2,693.9 1290.2,693.9 1291.2,693.9 1292.2,693.8 1293.2,693.8 1294.2,693.7 1295.2,693.6 1296.2,693.6 1297.2,693.5 1298.2,693.4 1299.2,693.3 1300.2,693.2 1301.2,693.1 1302.2,693.0 1303.2,692.8 1304.2,692.7 1305.2,692.5 1306.2,692.4 1307.2,692.2 1308.2,692.0 1309.2,691.8 1310.2,691.6 1311.2,691.3 1312.2,691.1 1313.2,690.8 1314.2,690.5 1315.2,690.2 1316.2,689.9 1317.2,689.6 1318.2,689.3 1319.2,688.9 1320.2,688.6 1321.2,688.2 1322.2,687.8 1323.2,687.4 1324.2,687.0 1325.2,686.5 1326.2,686.0 1327.2,685.5 1328.2,684.9 1329.2,684.3 1330.2,683.6 1331.2,682.9 1332.2,682.1 1333.2,681.3 1334.2,680.4 1335.2,679.5 1336.2,678.5 1337.2,677.5 1338.2,676.5 1339.2,675.5 1340.2,674.4 1341.2,673.3 1342.2,672.2 1343.2,671.0 1344.2,669.9 1345.2,668.8 1346.2,667.7 1347.2,666.6 1348.2,665.5 1349.2,664.4 1350.2,663.3 1351.2,662.2 1352.2,661.2 1353.2,660.2 1354.2,659.2 1355.2,658.2 1356.2,657.3 1357.2,656.4 1358.2,655.5 1359.2,654.7 1360.2,653.9 1361.2,653.1 1362.2,652.4 1363.2,651.8 1364.2,651.1 1365.2,650.6 1366.2,650.0 1367.2,649.5 1368.2,649.1 1369.2,648.7 1370.2,648.4 1371.2,648.0 1372.2,647.8 1373.2,647.6 1374.2,647.4 1375.2,647.3 1376.2,647.2 1377.2,647.1 1378.2,647.1 1379.2,647.1 1380.2,647.2 1381.2,647.3 1382.2,647.4 1383.2,647.6 1384.2,647.8 1385.2,648.0 1386.2,648.2 1387.2,648.5 1388.2,648.9 1389.2,649.2 1390.2,649.6 1391.2,650.0 1392.2,650.4 1393.2,650.8 1394.2,651.3 1395.2,651.7 1396.2,652.2 1397.2,652.7 1398.2,653.2 1399.2,653.7 1400.2,654.2 1401.2,654.8 1402.2,655.3 1403.2,655.9 1404.2,656.4 1405.2,657.0 1406.2,657.5 1407.2,658.1 1408.2,658.7 1409.2,659.2 1410.2,659.8 1411.2,660.4 1412.2,661.0 1413.2,661.5 1414.2,662.1 1415.2,662.7 1416.2,663.3 1417.2,663.8 1418.2,664.4 1419.2,665.0 1420.2,665.5 1421.2,666.1 1422.2,666.7 1423.2,667.2 1424.2,667.7 1425.2,668.3 1426.2,668.8 1427.2,669.3 1428.2,669.8 1429.2,670.3 1430.2,670.8 1431.2,671.3 1432.2,671.8 1433.2,672.2 1434.2,672.7 1435.2,673.1 1436.2,673.6 1437.2,674.0 1438.2,674.4 1439.2,674.8 1440.2,675.2 1441.2,675.6 1442.2,676.0 1443.2,676.4 1444.2,676.8 1445.2,677.1 1446.2,677.5 1447.2,677.9 1448.2,678.2 1449.2,678.5 1450.2,678.9 1451.2,679.2 1452.2,679.5 1453.2,679.8 1454.2,680.1 1455.2,680.4 1456.2,680.7 1457.2,681.0 1458.2,681.3 1459.2,681.6 1460.2,681.9 1461.2,682.2 1462.2,682.4 1463.2,682.7 1464.2,683.0 1465.2,683.2 1466.2,683.5 1467.2,683.7 1468.2,684.0 1469.2,684.2 1470.2,684.5 1471.2,684.7 1472.2,685.0 1473.2,685.2 1474.2,685.4 1475.2,685.6 1476.2,685.8 1477.2,686.1 1478.2,686.3 1479.2,686.5 1480.2,686.6 1481.2,686.8 1482.2,687.0 1483.2,687.1 1484.2,687.3 1485.2,687.4 1486.2,687.5 1487.2,687.6 1488.2,687.7 1489.2,687.8 1490.2,687.8 1491.2,687.9 1492.2,688.0 1493.2,688.1 1494.2,688.2 1495.2,688.3 1496.2,688.4 1497.2,688.5 1498.2,688.6 1499.2,688.7 1500.2,688.8 1501.2,688.9 1502.2,689.0 1503.2,689.1 1504.2,689.2 1505.2,689.3 1506.2,689.4 1507.2,689.5 1508.2,689.6 1509.2,689.7 1510.2,689.8 1511.2,689.9 1512.2,690.0 1513.2,690.1 1514.2,690.1 1515.2,690.2 1516.2,690.3 1517.2,690.4 1518.2,690.5 1519.2,690.5 1520.2,690.6 1521.2,690.7 1522.2,690.7 1523.2,690.8 1524.2,690.9 1525.2,690.9 1526.2,691.0 1527.2,691.1 1528.2,691.1 1529.2,691.2 1530.2,691.2 1531.2,691.3 1532.2,691.4 1533.2,691.4 1534.2,691.5 1535.2,691.5 1536.2,691.6 1537.2,691.6 1538.2,691.7 1539.2,691.7 1540.2,691.8 1541.2,691.8 1542.2,691.9 1543.2,691.9 1544.2,692.0 1545.2,692.0 1546.2,692.0 1547.2,692.1 1548.2,692.1 1549.2,692.2 1550.2,692.2 1551.2,692.2 1552.2,692.3 1553.2,692.3 1554.2,692.3 1555.2,692.4 1556.2,692.4 1557.2,692.4 1558.2,692.5 1559.2,692.5 1560.2,692.5 1561.2,692.6 1562.2,692.6 1563.2,692.6 1564.2,692.7 1565.2,692.7 1566.2,692.7 1567.2,692.7 1568.2,692.8 1569.2,692.8 1570.2,692.8 1571.2,692.8 1572.2,692.9 1573.2,692.9 1574.2,692.9 1575.2,692.9 1576.2,693.0 1577.2,693.0 1578.2,693.0 1579.2,693.0 1580.2,693.0 1581.2,693.1 1582.2,693.1 1583.2,693.1 1584.2,693.1 1585.2,693.1 1586.2,693.2 1587.2,693.2 1588.2,693.2 1589.2,693.2 1590.2,693.2 1591.2,693.2 1592.2,693.3 1593.2,693.3 1594.2,693.3 1595.2,693.3 1596.2,693.3 1597.2,693.3 1598.2,693.3 1599.2,693.4 1600.2,693.4 1601.2,693.4 1602.2,693.4 1603.2,693.4 1604.2,693.4 1605.2,693.4 1606.2,693.4 1607.2,693.5 1608.2,693.5 1609.2,693.5 1610.2,693.5 1611.2,693.5 1612.2,693.5 1613.2,693.5 1614.2,693.5 1615.2,693.5 1616.2,693.5 1617.2,693.6 1618.2,693.6 1619.2,693.6 1620.2,693.6 1621.2,693.6 1622.2,693.6 1623.2,693.6 1624.2,693.6 1625.2,693.6 1626.2,693.6 1627.2,693.6 1628.2,693.6 1629.2,693.7 1630.2,693.7 1631.2,693.7 1632.2,693.7 1633.2,693.7 1634.2,693.7 1635.2,693.7 1636.2,693.7 1637.2,693.7 1638.2,693.7 1639.2,693.7 1640.2,693.7 1641.2,693.7 1642.2,693.7 1643.2,693.7 1644.2,693.7 1645.2,693.7 1646.2,693.7 1647.2,693.8 1648.2,693.8 1649.2,693.8 1650.2,693.8 1651.2,693.8 1652.2,693.8 1653.2,693.8 1654.2,693.8 1655.2,693.8 1656.2,693.8 1657.2,693.8 1658.2,693.8 1659.2,693.8 1660.2,693.8 1661.2,693.8 1662.2,693.8 1663.2,693.8 1664.2,693.8 1665.2,693.8 1666.2,693.8 1667.2,693.8 1668.2,693.8 1669.2,693.8 1670.2,693.8 1671.2,693.8 1672.2,693.8 1673.2,693.8 1674.2,693.8 1675.2,693.8 1676.2,693.8 1677.2,693.8 1678.2,693.8 1679.2,693.9 1680.2,693.9 1681.2,693.9 1682.2,693.9 1683.2,693.9 1684.2,693.9 1685.2,693.9 1686.2,693.9 1687.2,693.9 1688.2,693.9 1689.2,693.9 1690.2,693.9 1691.2,693.9 1692.2,693.9 1693.2,693.9 1694.2,693.9 1695.2,693.9 1696.2,693.9 1697.2,693.9 1698.2,693.9 1699.2,693.9 1700.2,693.9 1701.2,693.9 1702.2,693.9 1703.2,693.9 1704.2,693.9 1705.2,693.9 1706.2,693.9 1707.2,693.9 1708.2,693.9 1709.2,693.9 1710.2,693.9 1711.2,693.9 1712.2,693.9 1713.2,693.9 1714.2,693.9 1715.2,693.9 1716.2,693.9 1717.2,693.9 1718.2,693.9 1719.2,693.9 1720.2,693.9 1721.2,693.9 1722.2,693.9 1723.2,693.9 1724.2,693.9 1725.2,693.9 1726.2,693.9 1727.2,693.9 1728.2,693.9 1729.2,693.9 1730.2,693.9 1731.2,693.9 1732.2,693.9 1733.2,693.9 1734.2,693.9 1735.2,693.9 1736.2,693.9 1737.2,693.9 1738.2,693.9 1739.2,693.9 1740.2,693.9 1741.2,693.9 1742.2,693.9 1743.2,693.9 1744.2,693.9 1745.2,693.9 1746.2,693.9 1747.2,693.9 1748.2,693.9" fill="none" stroke="#000" stroke-width="3.3" stroke-linejoin="round" stroke-linecap="butt"/>
<polyline points="1009.2,694.1 1010.2,694.1 1011.2,694.1 1012.2,694.1 1013.2,694.1 1014.2,694.1 1015.2,694.1 1016.2,694.1 1017.2,694.1 1018.2,694.1 1019.2,694.1 1020.2,694.1 1021.2,694.1 1022.2,694.1 1023.2,694.1 1024.2,694.1 1025.2,694.1 1026.2,694.1 1027.2,694.1 1028.2,694.1 1029.2,694.1 1030.2,694.1 1031.2,694.1 1032.2,694.1 1033.2,694.1 1034.2,694.1 1035.2,694.1 1036.2,694.1 1037.2,694.1 1038.2,694.1 1039.2,694.1 1040.2,694.1 1041.2,694.1 1042.2,694.1 1043.2,694.1 1044.2,694.1 1045.2,694.1 1046.2,694.1 1047.2,694.2 1048.2,694.2 1049.2,694.2 1050.2,694.2 1051.2,694.2 1052.2,694.2 1053.2,694.2 1054.2,694.2 1055.2,694.2 1056.2,694.2 1057.2,694.2 1058.2,694.2 1059.2,694.2 1060.2,694.2 1061.2,694.2 1062.2,694.2 1063.2,694.2 1064.2,694.2 1065.2,694.2 1066.2,694.2 1067.2,694.2 1068.2,694.2 1069.2,694.2 1070.2,694.2 1071.2,694.2 1072.2,694.2 1073.2,694.2 1074.2,694.2 1075.2,694.2 1076.2,694.2 1077.2,694.2 1078.2,694.2 1079.2,694.2 1080.2,694.2 1081.2,694.2 1082.2,694.2 1083.2,694.2 1084.2,694.2 1085.2,694.2 1086.2,694.2 1087.2,694.2 1088.2,694.2 1089.2,694.2 1090.2,694.2 1091.2,694.2 1092.2,694.2 1093.2,694.2 1094.2,694.2 1095.2,694.2 1096.2,694.2 1097.2,694.2 1098.2,694.2 1099.2,694.2 1100.2,694.2 1101.2,694.1 1102.2,694.1 1103.2,694.1 1104.2,694.1 1105.2,694.1 1106.2,694.1 1107.2,694.1 1108.2,694.1 1109.2,694.1 1110.2,694.1 1111.2,694.1 1112.2,694.1 1113.2,694.1 1114.2,694.0 1115.2,694.0 1116.2,694.0 1117.2,694.0 1118.2,693.9 1119.2,693.9 1120.2,693.9 1121.2,693.9 1122.2,693.8 1123.2,693.8 1124.2,693.7 1125.2,693.7 1126.2,693.6 1127.2,693.5 1128.2,693.5 1129.2,693.4 1130.2,693.3 1131.2,693.2 1132.2,693.2 1133.2,693.1 1134.2,693.0 1135.2,692.9 1136.2,692.8 1137.2,692.6 1138.2,692.5 1139.2,692.4 1140.2,692.2 1141.2,692.0 1142.2,691.8 1143.2,691.6 1144.2,691.4 1145.2,691.1 1146.2,690.9 1147.2,690.5 1148.2,690.2 1149.2,689.9 1150.2,689.5 1151.2,689.1 1152.2,688.6 1153.2,688.2 1154.2,687.7 1155.2,687.2 1156.2,686.7 1157.2,686.2 1158.2,685.6 1159.2,685.1 1160.2,684.5 1161.2,683.8 1162.2,683.2 1163.2,682.5 1164.2,681.9 1165.2,681.2 1166.2,680.4 1167.2,679.7 1168.2,678.9 1169.2,678.1 1170.2,677.3 1171.2,676.4 1172.2,675.6 1173.2,674.7 1174.2,673.8 1175.2,672.9 1176.2,671.9 1177.2,671.0 1178.2,670.0 1179.2,669.1 1180.2,668.1 1181.2,667.1 1182.2,666.1 1183.2,665.2 1184.2,664.2 1185.2,663.2 1186.2,662.3 1187.2,661.4 1188.2,660.4 1189.2,659.5 1190.2,658.6 1191.2,657.7 1192.2,656.9 1193.2,656.1 1194.2,655.2 1195.2,654.5 1196.2,653.7 1197.2,653.0 1198.2,652.3 1199.2,651.6 1200.2,651.0 1201.2,650.5 1202.2,649.9 1203.2,649.5 1204.2,649.0 1205.2,648.6 1206.2,648.3 1207.2,648.0 1208.2,647.8 1209.2,647.6 1210.2,647.4 1211.2,647.3 1212.2,647.3 1213.2,647.3 1214.2,647.3 1215.2,647.3 1216.2,647.4 1217.2,647.6 1218.2,647.7 1219.2,647.9 1220.2,648.1 1221.2,648.4 1222.2,648.7 1223.2,649.0 1224.2,649.3 1225.2,649.7 1226.2,650.1 1227.2,650.5 1228.2,650.9 1229.2,651.3 1230.2,651.8 1231.2,652.3 1232.2,652.8 1233.2,653.2 1234.2,653.7 1235.2,654.3 1236.2,654.8 1237.2,655.3 1238.2,655.8 1239.2,656.3 1240.2,656.9 1241.2,657.4 1242.2,657.9 1243.2,658.5 1244.2,659.0 1245.2,659.5 1246.2,660.1 1247.2,660.6 1248.2,661.2 1249.2,661.7 1250.2,662.3 1251.2,662.8 1252.2,663.3 1253.2,663.9 1254.2,664.4 1255.2,665.0 1256.2,665.5 1257.2,666.0 1258.2,666.5 1259.2,667.0 1260.2,667.6 1261.2,668.1 1262.2,668.6 1263.2,669.1 1264.2,669.6 1265.2,670.1 1266.2,670.6 1267.2,671.0 1268.2,671.5 1269.2,672.0 1270.2,672.4 1271.2,672.9 1272.2,673.3 1273.2,673.7 1274.2,674.2 1275.2,674.6 1276.2,675.0 1277.2,675.4 1278.2,675.7 1279.2,676.1 1280.2,676.5 1281.2,676.8 1282.2,677.1 1283.2,677.5 1284.2,677.8 1285.2,678.1 1286.2,678.4 1287.2,678.7 1288.2,679.0 1289.2,679.2 1290.2,679.5 1291.2,679.8 1292.2,680.0 1293.2,680.3 1294.2,680.5 1295.2,680.7 1296.2,681.0 1297.2,681.2 1298.2,681.4 1299.2,681.6 1300.2,681.9 1301.2,682.1 1302.2,682.3 1303.2,682.5 1304.2,682.7 1305.2,682.9 1306.2,683.2 1307.2,683.4 1308.2,683.6 1309.2,683.8 1310.2,684.0 1311.2,684.2 1312.2,684.3 1313.2,684.5 1314.2,684.7 1315.2,684.9 1316.2,685.0 1317.2,685.2 1318.2,685.3 1319.2,685.5 1320.2,685.6 1321.2,685.7 1322.2,685.9 1323.2,686.0 1324.2,686.1 1325.2,686.2 1326.2,686.3 1327.2,686.4 1328.2,686.6 1329.2,686.7 1330.2,686.8 1331.2,686.9 1332.2,687.0 1333.2,687.0 1334.2,687.1 1335.2,687.2 1336.2,687.3 1337.2,687.4 1338.2,687.5 1339.2,687.6 1340.2,687.7 1341.2,687.8 1342.2,687.8 1343.2,687.9 1344.2,688.0 1345.2,688.1 1346.2,688.1 1347.2,688.2 1348.2,688.3 1349.2,688.4 1350.2,688.4 1351.2,688.5 1352.2,688.6 1353.2,688.6 1354.2,688.7 1355.2,688.8 1356.2,688.8 1357.2,688.9 1358.2,689.0 1359.2,689.0 1360.2,689.1 1361.2,689.2 1362.2,689.2 1363.2,689.3 1364.2,689.3 1365.2,689.4 1366.2,689.4 1367.2,689.5 1368.2,689.6 1369.2,689.6 1370.2,689.7 1371.2,689.7 1372.2,689.8 1373.2,689.8 1374.2,689.9 1375.2,689.9 1376.2,690.0 1377.2,690.0 1378.2,690.1 1379.2,690.1 1380.2,690.2 1381.2,690.2 1382.2,690.3 1383.2,690.3 1384.2,690.3 1385.2,690.4 1386.2,690.4 1387.2,690.5 1388.2,690.5 1389.2,690.6 1390.2,690.6 1391.2,690.6 1392.2,690.7 1393.2,690.7 1394.2,690.8 1395.2,690.8 1396.2,690.8 1397.2,690.9 1398.2,690.9 1399.2,691.0 1400.2,691.0 1401.2,691.0 1402.2,691.1 1403.2,691.1 1404.2,691.1 1405.2,691.2 1406.2,691.2 1407.2,691.2 1408.2,691.3 1409.2,691.3 1410.2,691.3 1411.2,691.4 1412.2,691.4 1413.2,691.4 1414.2,691.5 1415.2,691.5 1416.2,691.5 1417.2,691.6 1418.2,691.6 1419.2,691.6 1420.2,691.7 1421.2,691.7 1422.2,691.7 1423.2,691.7 1424.2,691.8 1425.2,691.8 1426.2,691.8 1427.2,691.8 1428.2,691.9 1429.2,691.9 1430.2,691.9 1431.2,692.0 1432.2,692.0 1433.2,692.0 1434.2,692.0 1435.2,692.1 1436.2,692.1 1437.2,692.1 1438.2,692.1 1439.2,692.2 1440.2,692.2 1441.2,692.2 1442.2,692.2 1443.2,692.2 1444.2,692.3 1445.2,692.3 1446.2,692.3 1447.2,692.3 1448.2,692.4 1449.2,692.4 1450.2,692.4 1451.2,692.4 1452.2,692.4 1453.2,692.5 1454.2,692.5 1455.2,692.5 1456.2,692.5 1457.2,692.5 1458.2,692.6 1459.2,692.6 1460.2,692.6 1461.2,692.6 1462.2,692.6 1463.2,692.7 1464.2,692.7 1465.2,692.7 1466.2,692.7 1467.2,692.7 1468.2,692.7 1469.2,692.8 1470.2,692.8 1471.2,692.8 1472.2,692.8 1473.2,692.8 1474.2,692.9 1475.2,692.9 1476.2,692.9 1477.2,692.9 1478.2,692.9 1479.2,692.9 1480.2,692.9 1481.2,693.0 1482.2,693.0 1483.2,693.0 1484.2,693.0 1485.2,693.0 1486.2,693.0 1487.2,693.1 1488.2,693.1 1489.2,693.1 1490.2,693.1 1491.2,693.1 1492.2,693.1 1493.2,693.1 1494.2,693.1 1495.2,693.2 1496.2,693.2 1497.2,693.2 1498.2,693.2 1499.2,693.2 1500.2,693.2 1501.2,693.2 1502.2,693.2 1503.2,693.3 1504.2,693.3 1505.2,693.3 1506.2,693.3 1507.2,693.3 1508.2,693.3 1509.2,693.3 1510.2,693.3 1511.2,693.4 1512.2,693.4 1513.2,693.4 1514.2,693.4 1515.2,693.4 1516.2,693.4 1517.2,693.4 1518.2,693.4 1519.2,693.4 1520.2,693.4 1521.2,693.5 1522.2,693.5 1523.2,693.5 1524.2,693.5 1525.2,693.5 1526.2,693.5 1527.2,693.5 1528.2,693.5 1529.2,693.5 1530.2,693.5 1531.2,693.6 1532.2,693.6 1533.2,693.6 1534.2,693.6 1535.2,693.6 1536.2,693.6 1537.2,693.6 1538.2,693.6 1539.2,693.6 1540.2,693.6 1541.2,693.6 1542.2,693.6 1543.2,693.7 1544.2,693.7 1545.2,693.7 1546.2,693.7 1547.2,693.7 1548.2,693.7 1549.2,693.7 1550.2,693.7 1551.2,693.7 1552.2,693.7 1553.2,693.7 1554.2,693.7 1555.2,693.7 1556.2,693.8 1557.2,693.8 1558.2,693.8 1559.2,693.8 1560.2,693.8 1561.2,693.8 1562.2,693.8 1563.2,693.8 1564.2,693.8 1565.2,693.8 1566.2,693.8 1567.2,693.8 1568.2,693.8 1569.2,693.8 1570.2,693.8 1571.2,693.8 1572.2,693.9 1573.2,693.9 1574.2,693.9 1575.2,693.9 1576.2,693.9 1577.2,693.9 1578.2,693.9 1579.2,693.9 1580.2,693.9 1581.2,693.9 1582.2,693.9 1583.2,693.9 1584.2,693.9 1585.2,693.9 1586.2,693.9 1587.2,693.9 1588.2,693.9 1589.2,693.9 1590.2,693.9 1591.2,694.0 1592.2,694.0 1593.2,694.0 1594.2,694.0 1595.2,694.0 1596.2,694.0 1597.2,694.0 1598.2,694.0 1599.2,694.0 1600.2,694.0 1601.2,694.0 1602.2,694.0 1603.2,694.0 1604.2,694.0 1605.2,694.0 1606.2,694.0 1607.2,694.0 1608.2,694.0 1609.2,694.0 1610.2,694.0 1611.2,694.0 1612.2,694.0 1613.2,694.1 1614.2,694.1 1615.2,694.1 1616.2,694.1 1617.2,694.1 1618.2,694.1 1619.2,694.1 1620.2,694.1 1621.2,694.1 1622.2,694.1 1623.2,694.1 1624.2,694.1 1625.2,694.1 1626.2,694.1 1627.2,694.1 1628.2,694.1 1629.2,694.1 1630.2,694.1 1631.2,694.1 1632.2,694.1 1633.2,694.1 1634.2,694.1 1635.2,694.1 1636.2,694.1 1637.2,694.1 1638.2,694.1 1639.2,694.1 1640.2,694.1 1641.2,694.1 1642.2,694.2 1643.2,694.2 1644.2,694.2 1645.2,694.2 1646.2,694.2 1647.2,694.2 1648.2,694.2 1649.2,694.2 1650.2,694.2 1651.2,694.2 1652.2,694.2 1653.2,694.2 1654.2,694.2 1655.2,694.2 1656.2,694.2 1657.2,694.2 1658.2,694.2 1659.2,694.2 1660.2,694.2 1661.2,694.2 1662.2,694.2 1663.2,694.2 1664.2,694.2 1665.2,694.2 1666.2,694.2 1667.2,694.2 1668.2,694.2 1669.2,694.2 1670.2,694.2 1671.2,694.2 1672.2,694.2 1673.2,694.2 1674.2,694.2 1675.2,694.2 1676.2,694.2 1677.2,694.2 1678.2,694.2 1679.2,694.2 1680.2,694.2 1681.2,694.2 1682.2,694.2 1683.2,694.3 1684.2,694.3 1685.2,694.3 1686.2,694.3 1687.2,694.3 1688.2,694.3 1689.2,694.3 1690.2,694.3 1691.2,694.3 1692.2,694.3 1693.2,694.3 1694.2,694.3 1695.2,694.3 1696.2,694.3 1697.2,694.3 1698.2,694.3 1699.2,694.3 1700.2,694.3 1701.2,694.3 1702.2,694.3 1703.2,694.3 1704.2,694.3 1705.2,694.3 1706.2,694.3 1707.2,694.3 1708.2,694.3 1709.2,694.3 1710.2,694.3 1711.2,694.3 1712.2,694.3 1713.2,694.3 1714.2,694.3 1715.2,694.3 1716.2,694.3 1717.2,694.3 1718.2,694.3 1719.2,694.3 1720.2,694.3 1721.2,694.3 1722.2,694.3 1723.2,694.3 1724.2,694.3 1725.2,694.3 1726.2,694.3 1727.2,694.3 1728.2,694.3 1729.2,694.3 1730.2,694.3 1731.2,694.3 1732.2,694.3 1733.2,694.3 1734.2,694.3 1735.2,694.3 1736.2,694.3 1737.2,694.3 1738.2,694.3 1739.2,694.3 1740.2,694.3 1741.2,694.3 1742.2,694.3 1743.2,694.3 1744.2,694.3 1745.2,694.4 1746.2,694.4 1747.2,694.4 1748.2,694.4" fill="none" stroke="#00AAEC" stroke-width="3.3" stroke-linejoin="round" stroke-linecap="butt"/>
<polyline points="1009.2,789.3 1010.2,789.3 1011.2,789.3 1012.2,789.3 1013.2,789.3 1014.2,789.3 1015.2,789.3 1016.2,789.3 1017.2,789.3 1018.2,789.3 1019.2,789.3 1020.2,789.3 1021.2,789.3 1022.2,789.3 1023.2,789.3 1024.2,789.3 1025.2,789.3 1026.2,789.3 1027.2,789.3 1028.2,789.3 1029.2,789.3 1030.2,789.3 1031.2,789.3 1032.2,789.3 1033.2,789.3 1034.2,789.3 1035.2,789.3 1036.2,789.3 1037.2,789.3 1038.2,789.3 1039.2,789.3 1040.2,789.3 1041.2,789.3 1042.2,789.3 1043.2,789.3 1044.2,789.3 1045.2,789.3 1046.2,789.3 1047.2,789.3 1048.2,789.3 1049.2,789.3 1050.2,789.3 1051.2,789.3 1052.2,789.3 1053.2,789.3 1054.2,789.3 1055.2,789.3 1056.2,789.3 1057.2,789.3 1058.2,789.3 1059.2,789.3 1060.2,789.3 1061.2,789.3 1062.2,789.3 1063.2,789.3 1064.2,789.3 1065.2,789.3 1066.2,789.3 1067.2,789.3 1068.2,789.3 1069.2,789.2 1070.2,789.2 1071.2,789.2 1072.2,789.2 1073.2,789.2 1074.2,789.2 1075.2,789.2 1076.2,789.2 1077.2,789.2 1078.2,789.2 1079.2,789.2 1080.2,789.2 1081.2,789.2 1082.2,789.2 1083.2,789.2 1084.2,789.2 1085.2,789.2 1086.2,789.2 1087.2,789.2 1088.2,789.2 1089.2,789.2 1090.2,789.2 1091.2,789.2 1092.2,789.2 1093.2,789.2 1094.2,789.2 1095.2,789.2 1096.2,789.2 1097.2,789.2 1098.2,789.2 1099.2,789.2 1100.2,789.2 1101.2,789.2 1102.2,789.2 1103.2,789.2 1104.2,789.2 1105.2,789.2 1106.2,789.2 1107.2,789.2 1108.2,789.2 1109.2,789.2 1110.2,789.2 1111.2,789.2 1112.2,789.2 1113.2,789.2 1114.2,789.2 1115.2,789.2 1116.2,789.2 1117.2,789.2 1118.2,789.2 1119.2,789.2 1120.2,789.2 1121.2,789.2 1122.2,789.2 1123.2,789.2 1124.2,789.2 1125.2,789.2 1126.2,789.2 1127.2,789.2 1128.2,789.2 1129.2,789.2 1130.2,789.2 1131.2,789.2 1132.2,789.2 1133.2,789.2 1134.2,789.2 1135.2,789.2 1136.2,789.2 1137.2,789.2 1138.2,789.2 1139.2,789.2 1140.2,789.2 1141.2,789.2 1142.2,789.2 1143.2,789.2 1144.2,789.2 1145.2,789.2 1146.2,789.2 1147.2,789.2 1148.2,789.2 1149.2,789.2 1150.2,789.2 1151.2,789.2 1152.2,789.2 1153.2,789.2 1154.2,789.2 1155.2,789.2 1156.2,789.2 1157.2,789.2 1158.2,789.2 1159.2,789.2 1160.2,789.2 1161.2,789.1 1162.2,789.1 1163.2,789.1 1164.2,789.1 1165.2,789.1 1166.2,789.1 1167.2,789.1 1168.2,789.1 1169.2,789.1 1170.2,789.1 1171.2,789.1 1172.2,789.1 1173.2,789.1 1174.2,789.1 1175.2,789.1 1176.2,789.1 1177.2,789.1 1178.2,789.1 1179.2,789.1 1180.2,789.1 1181.2,789.1 1182.2,789.1 1183.2,789.1 1184.2,789.1 1185.2,789.1 1186.2,789.1 1187.2,789.1 1188.2,789.1 1189.2,789.1 1190.2,789.1 1191.2,789.1 1192.2,789.1 1193.2,789.1 1194.2,789.1 1195.2,789.1 1196.2,789.1 1197.2,789.1 1198.2,789.1 1199.2,789.1 1200.2,789.1 1201.2,789.1 1202.2,789.1 1203.2,789.1 1204.2,789.1 1205.2,789.1 1206.2,789.1 1207.2,789.1 1208.2,789.1 1209.2,789.1 1210.2,789.1 1211.2,789.1 1212.2,789.1 1213.2,789.1 1214.2,789.1 1215.2,789.1 1216.2,789.1 1217.2,789.1 1218.2,789.1 1219.2,789.1 1220.2,789.1 1221.2,789.1 1222.2,789.1 1223.2,789.0 1224.2,789.0 1225.2,789.0 1226.2,789.0 1227.2,789.0 1228.2,789.0 1229.2,789.0 1230.2,789.0 1231.2,789.0 1232.2,789.0 1233.2,789.0 1234.2,789.0 1235.2,789.0 1236.2,789.0 1237.2,789.0 1238.2,788.9 1239.2,788.9 1240.2,788.9 1241.2,788.9 1242.2,788.9 1243.2,788.9 1244.2,788.9 1245.2,788.9 1246.2,788.8 1247.2,788.8 1248.2,788.8 1249.2,788.8 1250.2,788.8 1251.2,788.8 1252.2,788.7 1253.2,788.7 1254.2,788.7 1255.2,788.7 1256.2,788.6 1257.2,788.6 1258.2,788.6 1259.2,788.5 1260.2,788.5 1261.2,788.5 1262.2,788.4 1263.2,788.4 1264.2,788.3 1265.2,788.3 1266.2,788.2 1267.2,788.2 1268.2,788.1 1269.2,788.0 1270.2,788.0 1271.2,787.9 1272.2,787.8 1273.2,787.7 1274.2,787.6 1275.2,787.5 1276.2,787.4 1277.2,787.3 1278.2,787.2 1279.2,787.1 1280.2,787.0 1281.2,786.9 1282.2,786.8 1283.2,786.7 1284.2,786.6 1285.2,786.5 1286.2,786.4 1287.2,786.2 1288.2,786.1 1289.2,785.9 1290.2,785.7 1291.2,785.5 1292.2,785.3 1293.2,785.1 1294.2,784.8 1295.2,784.5 1296.2,784.2 1297.2,783.8 1298.2,783.4 1299.2,783.0 1300.2,782.5 1301.2,781.9 1302.2,781.4 1303.2,780.7 1304.2,780.0 1305.2,779.3 1306.2,778.5 1307.2,777.7 1308.2,776.8 1309.2,775.8 1310.2,774.7 1311.2,773.7 1312.2,772.5 1313.2,771.3 1314.2,770.0 1315.2,768.7 1316.2,767.4 1317.2,766.0 1318.2,764.6 1319.2,763.1 1320.2,761.7 1321.2,760.2 1322.2,758.8 1323.2,757.4 1324.2,756.0 1325.2,754.7 1326.2,753.4 1327.2,752.1 1328.2,751.0 1329.2,749.8 1330.2,748.8 1331.2,747.8 1332.2,746.9 1333.2,746.1 1334.2,745.3 1335.2,744.7 1336.2,744.0 1337.2,743.5 1338.2,743.0 1339.2,742.6 1340.2,742.2 1341.2,741.9 1342.2,741.7 1343.2,741.5 1344.2,741.4 1345.2,741.3 1346.2,741.2 1347.2,741.3 1348.2,741.3 1349.2,741.4 1350.2,741.5 1351.2,741.7 1352.2,741.8 1353.2,742.0 1354.2,742.2 1355.2,742.5 1356.2,742.7 1357.2,743.0 1358.2,743.3 1359.2,743.6 1360.2,743.9 1361.2,744.2 1362.2,744.6 1363.2,744.9 1364.2,745.3 1365.2,745.6 1366.2,746.0 1367.2,746.3 1368.2,746.7 1369.2,747.1 1370.2,747.5 1371.2,747.9 1372.2,748.3 1373.2,748.7 1374.2,749.1 1375.2,749.5 1376.2,749.9 1377.2,750.3 1378.2,750.8 1379.2,751.2 1380.2,751.6 1381.2,752.1 1382.2,752.5 1383.2,752.9 1384.2,753.4 1385.2,753.8 1386.2,754.3 1387.2,754.7 1388.2,755.2 1389.2,755.6 1390.2,756.0 1391.2,756.5 1392.2,756.9 1393.2,757.3 1394.2,757.8 1395.2,758.2 1396.2,758.6 1397.2,759.1 1398.2,759.5 1399.2,759.9 1400.2,760.4 1401.2,760.8 1402.2,761.2 1403.2,761.7 1404.2,762.1 1405.2,762.5 1406.2,763.0 1407.2,763.4 1408.2,763.8 1409.2,764.2 1410.2,764.7 1411.2,765.1 1412.2,765.5 1413.2,765.9 1414.2,766.3 1415.2,766.8 1416.2,767.2 1417.2,767.6 1418.2,768.0 1419.2,768.4 1420.2,768.8 1421.2,769.2 1422.2,769.6 1423.2,770.0 1424.2,770.3 1425.2,770.7 1426.2,771.1 1427.2,771.4 1428.2,771.8 1429.2,772.2 1430.2,772.5 1431.2,772.9 1432.2,773.2 1433.2,773.5 1434.2,773.9 1435.2,774.2 1436.2,774.5 1437.2,774.8 1438.2,775.1 1439.2,775.4 1440.2,775.7 1441.2,776.0 1442.2,776.3 1443.2,776.5 1444.2,776.8 1445.2,777.0 1446.2,777.3 1447.2,777.5 1448.2,777.8 1449.2,778.0 1450.2,778.2 1451.2,778.5 1452.2,778.7 1453.2,778.9 1454.2,779.1 1455.2,779.3 1456.2,779.5 1457.2,779.7 1458.2,779.9 1459.2,780.1 1460.2,780.3 1461.2,780.5 1462.2,780.6 1463.2,780.8 1464.2,781.0 1465.2,781.1 1466.2,781.3 1467.2,781.5 1468.2,781.6 1469.2,781.8 1470.2,781.9 1471.2,782.1 1472.2,782.2 1473.2,782.3 1474.2,782.5 1475.2,782.6 1476.2,782.7 1477.2,782.8 1478.2,782.9 1479.2,783.1 1480.2,783.2 1481.2,783.3 1482.2,783.4 1483.2,783.5 1484.2,783.6 1485.2,783.7 1486.2,783.8 1487.2,783.9 1488.2,784.0 1489.2,784.0 1490.2,784.1 1491.2,784.2 1492.2,784.3 1493.2,784.4 1494.2,784.5 1495.2,784.5 1496.2,784.6 1497.2,784.7 1498.2,784.7 1499.2,784.8 1500.2,784.9 1501.2,784.9 1502.2,785.0 1503.2,785.1 1504.2,785.1 1505.2,785.2 1506.2,785.2 1507.2,785.3 1508.2,785.4 1509.2,785.4 1510.2,785.5 1511.2,785.5 1512.2,785.6 1513.2,785.6 1514.2,785.7 1515.2,785.7 1516.2,785.8 1517.2,785.8 1518.2,785.9 1519.2,785.9 1520.2,785.9 1521.2,786.0 1522.2,786.0 1523.2,786.1 1524.2,786.1 1525.2,786.1 1526.2,786.2 1527.2,786.2 1528.2,786.3 1529.2,786.3 1530.2,786.3 1531.2,786.4 1532.2,786.4 1533.2,786.4 1534.2,786.5 1535.2,786.5 1536.2,786.5 1537.2,786.6 1538.2,786.6 1539.2,786.6 1540.2,786.7 1541.2,786.7 1542.2,786.7 1543.2,786.7 1544.2,786.8 1545.2,786.8 1546.2,786.8 1547.2,786.9 1548.2,786.9 1549.2,786.9 1550.2,786.9 1551.2,787.0 1552.2,787.0 1553.2,787.0 1554.2,787.0 1555.2,787.1 1556.2,787.1 1557.2,787.1 1558.2,787.1 1559.2,787.1 1560.2,787.2 1561.2,787.2 1562.2,787.2 1563.2,787.2 1564.2,787.3 1565.2,787.3 1566.2,787.3 1567.2,787.3 1568.2,787.3 1569.2,787.4 1570.2,787.4 1571.2,787.4 1572.2,787.4 1573.2,787.4 1574.2,787.4 1575.2,787.5 1576.2,787.5 1577.2,787.5 1578.2,787.5 1579.2,787.5 1580.2,787.5 1581.2,787.6 1582.2,787.6 1583.2,787.6 1584.2,787.6 1585.2,787.6 1586.2,787.6 1587.2,787.6 1588.2,787.7 1589.2,787.7 1590.2,787.7 1591.2,787.7 1592.2,787.7 1593.2,787.7 1594.2,787.7 1595.2,787.8 1596.2,787.8 1597.2,787.8 1598.2,787.8 1599.2,787.8 1600.2,787.8 1601.2,787.8 1602.2,787.8 1603.2,787.8 1604.2,787.9 1605.2,787.9 1606.2,787.9 1607.2,787.9 1608.2,787.9 1609.2,787.9 1610.2,787.9 1611.2,787.9 1612.2,787.9 1613.2,787.9 1614.2,788.0 1615.2,788.0 1616.2,788.0 1617.2,788.0 1618.2,788.0 1619.2,788.0 1620.2,788.0 1621.2,788.0 1622.2,788.0 1623.2,788.0 1624.2,788.0 1625.2,788.1 1626.2,788.1 1627.2,788.1 1628.2,788.1 1629.2,788.1 1630.2,788.1 1631.2,788.1 1632.2,788.1 1633.2,788.1 1634.2,788.1 1635.2,788.1 1636.2,788.1 1637.2,788.1 1638.2,788.1 1639.2,788.1 1640.2,788.2 1641.2,788.2 1642.2,788.2 1643.2,788.2 1644.2,788.2 1645.2,788.2 1646.2,788.2 1647.2,788.2 1648.2,788.2 1649.2,788.2 1650.2,788.2 1651.2,788.2 1652.2,788.2 1653.2,788.2 1654.2,788.2 1655.2,788.2 1656.2,788.2 1657.2,788.2 1658.2,788.2 1659.2,788.2 1660.2,788.3 1661.2,788.3 1662.2,788.3 1663.2,788.3 1664.2,788.3 1665.2,788.3 1666.2,788.3 1667.2,788.3 1668.2,788.3 1669.2,788.3 1670.2,788.3 1671.2,788.3 1672.2,788.3 1673.2,788.3 1674.2,788.3 1675.2,788.3 1676.2,788.3 1677.2,788.3 1678.2,788.3 1679.2,788.3 1680.2,788.3 1681.2,788.3 1682.2,788.3 1683.2,788.3 1684.2,788.3 1685.2,788.3 1686.2,788.3 1687.2,788.3 1688.2,788.3 1689.2,788.3 1690.2,788.3 1691.2,788.4 1692.2,788.4 1693.2,788.4 1694.2,788.4 1695.2,788.4 1696.2,788.4 1697.2,788.4 1698.2,788.4 1699.2,788.4 1700.2,788.4 1701.2,788.4 1702.2,788.4 1703.2,788.4 1704.2,788.4 1705.2,788.4 1706.2,788.4 1707.2,788.4 1708.2,788.4 1709.2,788.4 1710.2,788.4 1711.2,788.4 1712.2,788.4 1713.2,788.4 1714.2,788.4 1715.2,788.4 1716.2,788.4 1717.2,788.4 1718.2,788.4 1719.2,788.4 1720.2,788.4 1721.2,788.4 1722.2,788.4 1723.2,788.4 1724.2,788.4 1725.2,788.4 1726.2,788.4 1727.2,788.4 1728.2,788.4 1729.2,788.4 1730.2,788.4 1731.2,788.4 1732.2,788.4 1733.2,788.4 1734.2,788.4 1735.2,788.4 1736.2,788.4 1737.2,788.4 1738.2,788.4 1739.2,788.4 1740.2,788.4 1741.2,788.4 1742.2,788.4 1743.2,788.4 1744.2,788.4 1745.2,788.4 1746.2,788.4 1747.2,788.4 1748.2,788.4" fill="none" stroke="#000" stroke-width="3.3" stroke-linejoin="round" stroke-linecap="butt"/>
<polyline points="1009.2,788.4 1010.2,788.4 1011.2,788.4 1012.2,788.4 1013.2,788.4 1014.2,788.4 1015.2,788.4 1016.2,788.4 1017.2,788.4 1018.2,788.4 1019.2,788.4 1020.2,788.4 1021.2,788.4 1022.2,788.4 1023.2,788.4 1024.2,788.4 1025.2,788.4 1026.2,788.4 1027.2,788.4 1028.2,788.4 1029.2,788.4 1030.2,788.4 1031.2,788.4 1032.2,788.4 1033.2,788.4 1034.2,788.4 1035.2,788.4 1036.2,788.4 1037.2,788.4 1038.2,788.4 1039.2,788.4 1040.2,788.4 1041.2,788.4 1042.2,788.4 1043.2,788.4 1044.2,788.4 1045.2,788.4 1046.2,788.4 1047.2,788.4 1048.2,788.4 1049.2,788.4 1050.2,788.4 1051.2,788.4 1052.2,788.4 1053.2,788.4 1054.2,788.4 1055.2,788.4 1056.2,788.4 1057.2,788.4 1058.2,788.4 1059.2,788.4 1060.2,788.4 1061.2,788.4 1062.2,788.4 1063.2,788.4 1064.2,788.4 1065.2,788.4 1066.2,788.4 1067.2,788.4 1068.2,788.4 1069.2,788.4 1070.2,788.4 1071.2,788.4 1072.2,788.4 1073.2,788.4 1074.2,788.4 1075.2,788.4 1076.2,788.4 1077.2,788.4 1078.2,788.4 1079.2,788.4 1080.2,788.4 1081.2,788.4 1082.2,788.4 1083.2,788.4 1084.2,788.4 1085.2,788.4 1086.2,788.4 1087.2,788.4 1088.2,788.4 1089.2,788.4 1090.2,788.4 1091.2,788.4 1092.2,788.4 1093.2,788.4 1094.2,788.4 1095.2,788.4 1096.2,788.4 1097.2,788.4 1098.2,788.4 1099.2,788.4 1100.2,788.4 1101.2,788.4 1102.2,788.4 1103.2,788.4 1104.2,788.4 1105.2,788.4 1106.2,788.4 1107.2,788.4 1108.2,788.4 1109.2,788.4 1110.2,788.4 1111.2,788.4 1112.2,788.4 1113.2,788.4 1114.2,788.4 1115.2,788.4 1116.2,788.3 1117.2,788.3 1118.2,788.3 1119.2,788.3 1120.2,788.3 1121.2,788.2 1122.2,788.2 1123.2,788.2 1124.2,788.1 1125.2,788.1 1126.2,788.1 1127.2,788.0 1128.2,788.0 1129.2,787.9 1130.2,787.8 1131.2,787.8 1132.2,787.7 1133.2,787.6 1134.2,787.5 1135.2,787.4 1136.2,787.3 1137.2,787.1 1138.2,787.0 1139.2,786.8 1140.2,786.7 1141.2,786.5 1142.2,786.3 1143.2,786.1 1144.2,785.9 1145.2,785.6 1146.2,785.4 1147.2,785.1 1148.2,784.8 1149.2,784.4 1150.2,784.1 1151.2,783.7 1152.2,783.3 1153.2,782.8 1154.2,782.4 1155.2,781.9 1156.2,781.3 1157.2,780.8 1158.2,780.2 1159.2,779.6 1160.2,778.9 1161.2,778.2 1162.2,777.5 1163.2,776.7 1164.2,776.0 1165.2,775.2 1166.2,774.3 1167.2,773.5 1168.2,772.6 1169.2,771.7 1170.2,770.7 1171.2,769.7 1172.2,768.8 1173.2,767.7 1174.2,766.7 1175.2,765.6 1176.2,764.6 1177.2,763.5 1178.2,762.4 1179.2,761.2 1180.2,760.1 1181.2,759.0 1182.2,757.9 1183.2,756.8 1184.2,755.7 1185.2,754.6 1186.2,753.6 1187.2,752.6 1188.2,751.6 1189.2,750.6 1190.2,749.7 1191.2,748.8 1192.2,748.0 1193.2,747.2 1194.2,746.5 1195.2,745.8 1196.2,745.1 1197.2,744.5 1198.2,744.0 1199.2,743.5 1200.2,743.1 1201.2,742.7 1202.2,742.4 1203.2,742.2 1204.2,742.0 1205.2,741.8 1206.2,741.7 1207.2,741.7 1208.2,741.7 1209.2,741.8 1210.2,741.9 1211.2,742.1 1212.2,742.2 1213.2,742.5 1214.2,742.7 1215.2,743.0 1216.2,743.4 1217.2,743.7 1218.2,744.1 1219.2,744.5 1220.2,745.0 1221.2,745.4 1222.2,745.9 1223.2,746.4 1224.2,747.0 1225.2,747.5 1226.2,748.1 1227.2,748.6 1228.2,749.2 1229.2,749.8 1230.2,750.4 1231.2,751.0 1232.2,751.6 1233.2,752.3 1234.2,752.9 1235.2,753.5 1236.2,754.1 1237.2,754.7 1238.2,755.4 1239.2,756.0 1240.2,756.6 1241.2,757.2 1242.2,757.8 1243.2,758.5 1244.2,759.1 1245.2,759.7 1246.2,760.3 1247.2,760.9 1248.2,761.5 1249.2,762.1 1250.2,762.7 1251.2,763.3 1252.2,763.9 1253.2,764.4 1254.2,765.0 1255.2,765.5 1256.2,766.1 1257.2,766.6 1258.2,767.1 1259.2,767.6 1260.2,768.1 1261.2,768.6 1262.2,769.0 1263.2,769.5 1264.2,769.9 1265.2,770.4 1266.2,770.8 1267.2,771.2 1268.2,771.6 1269.2,772.0 1270.2,772.4 1271.2,772.8 1272.2,773.2 1273.2,773.6 1274.2,774.0 1275.2,774.4 1276.2,774.7 1277.2,775.1 1278.2,775.4 1279.2,775.7 1280.2,776.0 1281.2,776.3 1282.2,776.5 1283.2,776.7 1284.2,777.0 1285.2,777.1 1286.2,777.3 1287.2,777.5 1288.2,777.7 1289.2,777.9 1290.2,778.1 1291.2,778.3 1292.2,778.5 1293.2,778.7 1294.2,778.9 1295.2,779.2 1296.2,779.4 1297.2,779.6 1298.2,779.9 1299.2,780.1 1300.2,780.3 1301.2,780.5 1302.2,780.7 1303.2,780.9 1304.2,781.1 1305.2,781.3 1306.2,781.4 1307.2,781.6 1308.2,781.7 1309.2,781.9 1310.2,782.0 1311.2,782.1 1312.2,782.2 1313.2,782.3 1314.2,782.4 1315.2,782.5 1316.2,782.6 1317.2,782.7 1318.2,782.7 1319.2,782.8 1320.2,782.9 1321.2,783.0 1322.2,783.1 1323.2,783.2 1324.2,783.2 1325.2,783.3 1326.2,783.4 1327.2,783.5 1328.2,783.5 1329.2,783.6 1330.2,783.7 1331.2,783.8 1332.2,783.8 1333.2,783.9 1334.2,784.0 1335.2,784.0 1336.2,784.1 1337.2,784.1 1338.2,784.2 1339.2,784.3 1340.2,784.3 1341.2,784.4 1342.2,784.4 1343.2,784.5 1344.2,784.6 1345.2,784.6 1346.2,784.7 1347.2,784.7 1348.2,784.8 1349.2,784.8 1350.2,784.9 1351.2,784.9 1352.2,785.0 1353.2,785.0 1354.2,785.1 1355.2,785.1 1356.2,785.1 1357.2,785.2 1358.2,785.2 1359.2,785.3 1360.2,785.3 1361.2,785.4 1362.2,785.4 1363.2,785.4 1364.2,785.5 1365.2,785.5 1366.2,785.6 1367.2,785.6 1368.2,785.6 1369.2,785.7 1370.2,785.7 1371.2,785.7 1372.2,785.8 1373.2,785.8 1374.2,785.9 1375.2,785.9 1376.2,785.9 1377.2,786.0 1378.2,786.0 1379.2,786.0 1380.2,786.1 1381.2,786.1 1382.2,786.1 1383.2,786.1 1384.2,786.2 1385.2,786.2 1386.2,786.2 1387.2,786.3 1388.2,786.3 1389.2,786.3 1390.2,786.3 1391.2,786.4 1392.2,786.4 1393.2,786.4 1394.2,786.5 1395.2,786.5 1396.2,786.5 1397.2,786.5 1398.2,786.6 1399.2,786.6 1400.2,786.6 1401.2,786.6 1402.2,786.7 1403.2,786.7 1404.2,786.7 1405.2,786.7 1406.2,786.8 1407.2,786.8 1408.2,786.8 1409.2,786.8 1410.2,786.8 1411.2,786.9 1412.2,786.9 1413.2,786.9 1414.2,786.9 1415.2,786.9 1416.2,787.0 1417.2,787.0 1418.2,787.0 1419.2,787.0 1420.2,787.0 1421.2,787.1 1422.2,787.1 1423.2,787.1 1424.2,787.1 1425.2,787.1 1426.2,787.2 1427.2,787.2 1428.2,787.2 1429.2,787.2 1430.2,787.2 1431.2,787.2 1432.2,787.3 1433.2,787.3 1434.2,787.3 1435.2,787.3 1436.2,787.3 1437.2,787.3 1438.2,787.4 1439.2,787.4 1440.2,787.4 1441.2,787.4 1442.2,787.4 1443.2,787.4 1444.2,787.4 1445.2,787.5 1446.2,787.5 1447.2,787.5 1448.2,787.5 1449.2,787.5 1450.2,787.5 1451.2,787.5 1452.2,787.6 1453.2,787.6 1454.2,787.6 1455.2,787.6 1456.2,787.6 1457.2,787.6 1458.2,787.6 1459.2,787.6 1460.2,787.7 1461.2,787.7 1462.2,787.7 1463.2,787.7 1464.2,787.7 1465.2,787.7 1466.2,787.7 1467.2,787.7 1468.2,787.7 1469.2,787.8 1470.2,787.8 1471.2,787.8 1472.2,787.8 1473.2,787.8 1474.2,787.8 1475.2,787.8 1476.2,787.8 1477.2,787.8 1478.2,787.8 1479.2,787.9 1480.2,787.9 1481.2,787.9 1482.2,787.9 1483.2,787.9 1484.2,787.9 1485.2,787.9 1486.2,787.9 1487.2,787.9 1488.2,787.9 1489.2,787.9 1490.2,788.0 1491.2,788.0 1492.2,788.0 1493.2,788.0 1494.2,788.0 1495.2,788.0 1496.2,788.0 1497.2,788.0 1498.2,788.0 1499.2,788.0 1500.2,788.0 1501.2,788.0 1502.2,788.0 1503.2,788.1 1504.2,788.1 1505.2,788.1 1506.2,788.1 1507.2,788.1 1508.2,788.1 1509.2,788.1 1510.2,788.1 1511.2,788.1 1512.2,788.1 1513.2,788.1 1514.2,788.1 1515.2,788.1 1516.2,788.1 1517.2,788.1 1518.2,788.2 1519.2,788.2 1520.2,788.2 1521.2,788.2 1522.2,788.2 1523.2,788.2 1524.2,788.2 1525.2,788.2 1526.2,788.2 1527.2,788.2 1528.2,788.2 1529.2,788.2 1530.2,788.2 1531.2,788.2 1532.2,788.2 1533.2,788.2 1534.2,788.2 1535.2,788.3 1536.2,788.3 1537.2,788.3 1538.2,788.3 1539.2,788.3 1540.2,788.3 1541.2,788.3 1542.2,788.3 1543.2,788.3 1544.2,788.3 1545.2,788.3 1546.2,788.3 1547.2,788.3 1548.2,788.3 1549.2,788.3 1550.2,788.3 1551.2,788.3 1552.2,788.3 1553.2,788.3 1554.2,788.3 1555.2,788.3 1556.2,788.3 1557.2,788.4 1558.2,788.4 1559.2,788.4 1560.2,788.4 1561.2,788.4 1562.2,788.4 1563.2,788.4 1564.2,788.4 1565.2,788.4 1566.2,788.4 1567.2,788.4 1568.2,788.4 1569.2,788.4 1570.2,788.4 1571.2,788.4 1572.2,788.4 1573.2,788.4 1574.2,788.4 1575.2,788.4 1576.2,788.4 1577.2,788.4 1578.2,788.4 1579.2,788.4 1580.2,788.4 1581.2,788.4 1582.2,788.4 1583.2,788.4 1584.2,788.4 1585.2,788.4 1586.2,788.5 1587.2,788.5 1588.2,788.5 1589.2,788.5 1590.2,788.5 1591.2,788.5 1592.2,788.5 1593.2,788.5 1594.2,788.5 1595.2,788.5 1596.2,788.5 1597.2,788.5 1598.2,788.5 1599.2,788.5 1600.2,788.5 1601.2,788.5 1602.2,788.5 1603.2,788.5 1604.2,788.5 1605.2,788.5 1606.2,788.5 1607.2,788.5 1608.2,788.5 1609.2,788.5 1610.2,788.5 1611.2,788.5 1612.2,788.5 1613.2,788.5 1614.2,788.5 1615.2,788.5 1616.2,788.5 1617.2,788.5 1618.2,788.5 1619.2,788.5 1620.2,788.5 1621.2,788.5 1622.2,788.5 1623.2,788.5 1624.2,788.5 1625.2,788.5 1626.2,788.5 1627.2,788.6 1628.2,788.6 1629.2,788.6 1630.2,788.6 1631.2,788.6 1632.2,788.6 1633.2,788.6 1634.2,788.6 1635.2,788.6 1636.2,788.6 1637.2,788.6 1638.2,788.6 1639.2,788.6 1640.2,788.6 1641.2,788.6 1642.2,788.6 1643.2,788.6 1644.2,788.6 1645.2,788.6 1646.2,788.6 1647.2,788.6 1648.2,788.6 1649.2,788.6 1650.2,788.6 1651.2,788.6 1652.2,788.6 1653.2,788.6 1654.2,788.6 1655.2,788.6 1656.2,788.6 1657.2,788.6 1658.2,788.6 1659.2,788.6 1660.2,788.6 1661.2,788.6 1662.2,788.6 1663.2,788.6 1664.2,788.6 1665.2,788.6 1666.2,788.6 1667.2,788.6 1668.2,788.6 1669.2,788.6 1670.2,788.6 1671.2,788.6 1672.2,788.6 1673.2,788.6 1674.2,788.6 1675.2,788.6 1676.2,788.6 1677.2,788.6 1678.2,788.6 1679.2,788.6 1680.2,788.6 1681.2,788.6 1682.2,788.6 1683.2,788.6 1684.2,788.6 1685.2,788.6 1686.2,788.6 1687.2,788.6 1688.2,788.6 1689.2,788.6 1690.2,788.6 1691.2,788.6 1692.2,788.6 1693.2,788.7 1694.2,788.7 1695.2,788.7 1696.2,788.7 1697.2,788.7 1698.2,788.7 1699.2,788.7 1700.2,788.7 1701.2,788.7 1702.2,788.7 1703.2,788.7 1704.2,788.7 1705.2,788.7 1706.2,788.7 1707.2,788.7 1708.2,788.7 1709.2,788.7 1710.2,788.7 1711.2,788.7 1712.2,788.7 1713.2,788.7 1714.2,788.7 1715.2,788.7 1716.2,788.7 1717.2,788.7 1718.2,788.7 1719.2,788.7 1720.2,788.7 1721.2,788.7 1722.2,788.7 1723.2,788.7 1724.2,788.7 1725.2,788.7 1726.2,788.7 1727.2,788.7 1728.2,788.7 1729.2,788.7 1730.2,788.7 1731.2,788.7 1732.2,788.7 1733.2,788.7 1734.2,788.7 1735.2,788.7 1736.2,788.7 1737.2,788.7 1738.2,788.7 1739.2,788.7 1740.2,788.7 1741.2,788.7 1742.2,788.7 1743.2,788.7 1744.2,788.7 1745.2,788.7 1746.2,788.7 1747.2,788.7 1748.2,788.7" fill="none" stroke="#00AAEC" stroke-width="3.3" stroke-linejoin="round" stroke-linecap="butt"/>
<polyline points="1009.2,882.3 1010.2,882.3 1011.2,882.3 1012.2,882.3 1013.2,882.3 1014.2,882.3 1015.2,882.3 1016.2,882.3 1017.2,882.3 1018.2,882.3 1019.2,882.3 1020.2,882.3 1021.2,882.3 1022.2,882.3 1023.2,882.3 1024.2,882.3 1025.2,882.3 1026.2,882.3 1027.2,882.3 1028.2,882.3 1029.2,882.3 1030.2,882.3 1031.2,882.3 1032.2,882.3 1033.2,882.3 1034.2,882.3 1035.2,882.3 1036.2,882.3 1037.2,882.3 1038.2,882.3 1039.2,882.3 1040.2,882.3 1041.2,882.3 1042.2,882.3 1043.2,882.3 1044.2,882.3 1045.2,882.3 1046.2,882.3 1047.2,882.3 1048.2,882.3 1049.2,882.3 1050.2,882.3 1051.2,882.3 1052.2,882.3 1053.2,882.3 1054.2,882.3 1055.2,882.3 1056.2,882.3 1057.2,882.3 1058.2,882.3 1059.2,882.3 1060.2,882.3 1061.2,882.3 1062.2,882.3 1063.2,882.3 1064.2,882.3 1065.2,882.3 1066.2,882.3 1067.2,882.3 1068.2,882.3 1069.2,882.3 1070.2,882.4 1071.2,882.4 1072.2,882.4 1073.2,882.4 1074.2,882.4 1075.2,882.4 1076.2,882.4 1077.2,882.4 1078.2,882.4 1079.2,882.4 1080.2,882.4 1081.2,882.4 1082.2,882.4 1083.2,882.4 1084.2,882.4 1085.2,882.4 1086.2,882.4 1087.2,882.4 1088.2,882.4 1089.2,882.4 1090.2,882.4 1091.2,882.4 1092.2,882.4 1093.2,882.4 1094.2,882.4 1095.2,882.4 1096.2,882.4 1097.2,882.4 1098.2,882.4 1099.2,882.4 1100.2,882.4 1101.2,882.4 1102.2,882.4 1103.2,882.4 1104.2,882.4 1105.2,882.4 1106.2,882.4 1107.2,882.4 1108.2,882.4 1109.2,882.4 1110.2,882.4 1111.2,882.4 1112.2,882.4 1113.2,882.4 1114.2,882.4 1115.2,882.4 1116.2,882.4 1117.2,882.4 1118.2,882.4 1119.2,882.4 1120.2,882.4 1121.2,882.4 1122.2,882.4 1123.2,882.4 1124.2,882.4 1125.2,882.4 1126.2,882.4 1127.2,882.4 1128.2,882.4 1129.2,882.4 1130.2,882.4 1131.2,882.4 1132.2,882.4 1133.2,882.4 1134.2,882.4 1135.2,882.4 1136.2,882.4 1137.2,882.4 1138.2,882.4 1139.2,882.4 1140.2,882.4 1141.2,882.4 1142.2,882.4 1143.2,882.4 1144.2,882.4 1145.2,882.4 1146.2,882.4 1147.2,882.4 1148.2,882.4 1149.2,882.4 1150.2,882.4 1151.2,882.4 1152.2,882.4 1153.2,882.4 1154.2,882.4 1155.2,882.4 1156.2,882.4 1157.2,882.4 1158.2,882.4 1159.2,882.4 1160.2,882.4 1161.2,882.4 1162.2,882.4 1163.2,882.4 1164.2,882.4 1165.2,882.4 1166.2,882.4 1167.2,882.4 1168.2,882.4 1169.2,882.4 1170.2,882.4 1171.2,882.4 1172.2,882.4 1173.2,882.4 1174.2,882.4 1175.2,882.4 1176.2,882.4 1177.2,882.4 1178.2,882.4 1179.2,882.4 1180.2,882.4 1181.2,882.3 1182.2,882.3 1183.2,882.3 1184.2,882.3 1185.2,882.3 1186.2,882.3 1187.2,882.3 1188.2,882.3 1189.2,882.3 1190.2,882.3 1191.2,882.3 1192.2,882.3 1193.2,882.3 1194.2,882.3 1195.2,882.2 1196.2,882.2 1197.2,882.2 1198.2,882.2 1199.2,882.2 1200.2,882.2 1201.2,882.2 1202.2,882.2 1203.2,882.1 1204.2,882.1 1205.2,882.1 1206.2,882.1 1207.2,882.1 1208.2,882.0 1209.2,882.0 1210.2,882.0 1211.2,882.0 1212.2,881.9 1213.2,881.9 1214.2,881.9 1215.2,881.8 1216.2,881.8 1217.2,881.8 1218.2,881.7 1219.2,881.7 1220.2,881.6 1221.2,881.6 1222.2,881.5 1223.2,881.5 1224.2,881.4 1225.2,881.4 1226.2,881.3 1227.2,881.3 1228.2,881.2 1229.2,881.1 1230.2,881.1 1231.2,881.0 1232.2,880.9 1233.2,880.8 1234.2,880.7 1235.2,880.6 1236.2,880.5 1237.2,880.3 1238.2,880.2 1239.2,880.1 1240.2,879.9 1241.2,879.8 1242.2,879.6 1243.2,879.5 1244.2,879.3 1245.2,879.2 1246.2,879.1 1247.2,878.9 1248.2,878.8 1249.2,878.7 1250.2,878.5 1251.2,878.4 1252.2,878.2 1253.2,878.1 1254.2,877.9 1255.2,877.8 1256.2,877.6 1257.2,877.4 1258.2,877.2 1259.2,876.9 1260.2,876.6 1261.2,876.4 1262.2,876.0 1263.2,875.7 1264.2,875.3 1265.2,874.8 1266.2,874.4 1267.2,873.8 1268.2,873.3 1269.2,872.6 1270.2,871.9 1271.2,871.1 1272.2,870.3 1273.2,869.4 1274.2,868.4 1275.2,867.4 1276.2,866.2 1277.2,865.1 1278.2,863.8 1279.2,862.5 1280.2,861.1 1281.2,859.7 1282.2,858.3 1283.2,856.8 1284.2,855.4 1285.2,853.9 1286.2,852.5 1287.2,851.1 1288.2,849.7 1289.2,848.4 1290.2,847.2 1291.2,845.9 1292.2,844.8 1293.2,843.7 1294.2,842.7 1295.2,841.7 1296.2,840.8 1297.2,840.0 1298.2,839.2 1299.2,838.5 1300.2,837.8 1301.2,837.3 1302.2,836.8 1303.2,836.3 1304.2,836.0 1305.2,835.7 1306.2,835.4 1307.2,835.3 1308.2,835.1 1309.2,835.1 1310.2,835.0 1311.2,835.1 1312.2,835.1 1313.2,835.2 1314.2,835.3 1315.2,835.5 1316.2,835.7 1317.2,835.9 1318.2,836.1 1319.2,836.3 1320.2,836.6 1321.2,836.9 1322.2,837.1 1323.2,837.4 1324.2,837.7 1325.2,838.1 1326.2,838.4 1327.2,838.7 1328.2,839.1 1329.2,839.4 1330.2,839.8 1331.2,840.1 1332.2,840.5 1333.2,840.8 1334.2,841.2 1335.2,841.6 1336.2,842.0 1337.2,842.4 1338.2,842.8 1339.2,843.2 1340.2,843.6 1341.2,844.0 1342.2,844.4 1343.2,844.8 1344.2,845.2 1345.2,845.6 1346.2,846.0 1347.2,846.4 1348.2,846.8 1349.2,847.3 1350.2,847.7 1351.2,848.1 1352.2,848.5 1353.2,848.9 1354.2,849.4 1355.2,849.8 1356.2,850.2 1357.2,850.6 1358.2,851.0 1359.2,851.5 1360.2,851.9 1361.2,852.3 1362.2,852.7 1363.2,853.1 1364.2,853.5 1365.2,853.9 1366.2,854.3 1367.2,854.8 1368.2,855.2 1369.2,855.6 1370.2,856.0 1371.2,856.4 1372.2,856.8 1373.2,857.2 1374.2,857.6 1375.2,858.0 1376.2,858.4 1377.2,858.8 1378.2,859.1 1379.2,859.5 1380.2,859.9 1381.2,860.3 1382.2,860.6 1383.2,861.0 1384.2,861.3 1385.2,861.7 1386.2,862.0 1387.2,862.4 1388.2,862.7 1389.2,863.1 1390.2,863.4 1391.2,863.7 1392.2,864.0 1393.2,864.3 1394.2,864.6 1395.2,864.9 1396.2,865.2 1397.2,865.5 1398.2,865.8 1399.2,866.1 1400.2,866.4 1401.2,866.7 1402.2,866.9 1403.2,867.2 1404.2,867.5 1405.2,867.7 1406.2,868.0 1407.2,868.2 1408.2,868.5 1409.2,868.7 1410.2,869.0 1411.2,869.2 1412.2,869.4 1413.2,869.7 1414.2,869.9 1415.2,870.1 1416.2,870.3 1417.2,870.5 1418.2,870.8 1419.2,871.0 1420.2,871.2 1421.2,871.4 1422.2,871.6 1423.2,871.8 1424.2,872.0 1425.2,872.2 1426.2,872.3 1427.2,872.5 1428.2,872.7 1429.2,872.9 1430.2,873.0 1431.2,873.2 1432.2,873.4 1433.2,873.5 1434.2,873.7 1435.2,873.9 1436.2,874.0 1437.2,874.2 1438.2,874.3 1439.2,874.5 1440.2,874.6 1441.2,874.7 1442.2,874.9 1443.2,875.0 1444.2,875.1 1445.2,875.2 1446.2,875.4 1447.2,875.5 1448.2,875.6 1449.2,875.7 1450.2,875.8 1451.2,875.9 1452.2,876.1 1453.2,876.2 1454.2,876.3 1455.2,876.4 1456.2,876.5 1457.2,876.6 1458.2,876.7 1459.2,876.8 1460.2,876.8 1461.2,876.9 1462.2,877.0 1463.2,877.1 1464.2,877.2 1465.2,877.3 1466.2,877.4 1467.2,877.4 1468.2,877.5 1469.2,877.6 1470.2,877.7 1471.2,877.7 1472.2,877.8 1473.2,877.9 1474.2,878.0 1475.2,878.0 1476.2,878.1 1477.2,878.2 1478.2,878.2 1479.2,878.3 1480.2,878.3 1481.2,878.4 1482.2,878.5 1483.2,878.5 1484.2,878.6 1485.2,878.6 1486.2,878.7 1487.2,878.7 1488.2,878.8 1489.2,878.9 1490.2,878.9 1491.2,879.0 1492.2,879.0 1493.2,879.1 1494.2,879.1 1495.2,879.2 1496.2,879.2 1497.2,879.3 1498.2,879.3 1499.2,879.3 1500.2,879.4 1501.2,879.4 1502.2,879.5 1503.2,879.5 1504.2,879.6 1505.2,879.6 1506.2,879.6 1507.2,879.7 1508.2,879.7 1509.2,879.8 1510.2,879.8 1511.2,879.8 1512.2,879.9 1513.2,879.9 1514.2,879.9 1515.2,880.0 1516.2,880.0 1517.2,880.0 1518.2,880.1 1519.2,880.1 1520.2,880.1 1521.2,880.2 1522.2,880.2 1523.2,880.2 1524.2,880.3 1525.2,880.3 1526.2,880.3 1527.2,880.4 1528.2,880.4 1529.2,880.4 1530.2,880.5 1531.2,880.5 1532.2,880.5 1533.2,880.5 1534.2,880.6 1535.2,880.6 1536.2,880.6 1537.2,880.6 1538.2,880.7 1539.2,880.7 1540.2,880.7 1541.2,880.7 1542.2,880.8 1543.2,880.8 1544.2,880.8 1545.2,880.8 1546.2,880.9 1547.2,880.9 1548.2,880.9 1549.2,880.9 1550.2,881.0 1551.2,881.0 1552.2,881.0 1553.2,881.0 1554.2,881.0 1555.2,881.1 1556.2,881.1 1557.2,881.1 1558.2,881.1 1559.2,881.1 1560.2,881.2 1561.2,881.2 1562.2,881.2 1563.2,881.2 1564.2,881.2 1565.2,881.2 1566.2,881.3 1567.2,881.3 1568.2,881.3 1569.2,881.3 1570.2,881.3 1571.2,881.3 1572.2,881.4 1573.2,881.4 1574.2,881.4 1575.2,881.4 1576.2,881.4 1577.2,881.4 1578.2,881.5 1579.2,881.5 1580.2,881.5 1581.2,881.5 1582.2,881.5 1583.2,881.5 1584.2,881.5 1585.2,881.6 1586.2,881.6 1587.2,881.6 1588.2,881.6 1589.2,881.6 1590.2,881.6 1591.2,881.6 1592.2,881.7 1593.2,881.7 1594.2,881.7 1595.2,881.7 1596.2,881.7 1597.2,881.7 1598.2,881.7 1599.2,881.7 1600.2,881.8 1601.2,881.8 1602.2,881.8 1603.2,881.8 1604.2,881.8 1605.2,881.8 1606.2,881.8 1607.2,881.8 1608.2,881.8 1609.2,881.9 1610.2,881.9 1611.2,881.9 1612.2,881.9 1613.2,881.9 1614.2,881.9 1615.2,881.9 1616.2,881.9 1617.2,881.9 1618.2,881.9 1619.2,881.9 1620.2,882.0 1621.2,882.0 1622.2,882.0 1623.2,882.0 1624.2,882.0 1625.2,882.0 1626.2,882.0 1627.2,882.0 1628.2,882.0 1629.2,882.0 1630.2,882.0 1631.2,882.1 1632.2,882.1 1633.2,882.1 1634.2,882.1 1635.2,882.1 1636.2,882.1 1637.2,882.1 1638.2,882.1 1639.2,882.1 1640.2,882.1 1641.2,882.1 1642.2,882.1 1643.2,882.1 1644.2,882.1 1645.2,882.2 1646.2,882.2 1647.2,882.2 1648.2,882.2 1649.2,882.2 1650.2,882.2 1651.2,882.2 1652.2,882.2 1653.2,882.2 1654.2,882.2 1655.2,882.2 1656.2,882.2 1657.2,882.2 1658.2,882.2 1659.2,882.2 1660.2,882.2 1661.2,882.3 1662.2,882.3 1663.2,882.3 1664.2,882.3 1665.2,882.3 1666.2,882.3 1667.2,882.3 1668.2,882.3 1669.2,882.3 1670.2,882.3 1671.2,882.3 1672.2,882.3 1673.2,882.3 1674.2,882.3 1675.2,882.3 1676.2,882.3 1677.2,882.3 1678.2,882.3 1679.2,882.3 1680.2,882.3 1681.2,882.4 1682.2,882.4 1683.2,882.4 1684.2,882.4 1685.2,882.4 1686.2,882.4 1687.2,882.4 1688.2,882.4 1689.2,882.4 1690.2,882.4 1691.2,882.4 1692.2,882.4 1693.2,882.4 1694.2,882.4 1695.2,882.4 1696.2,882.4 1697.2,882.4 1698.2,882.4 1699.2,882.4 1700.2,882.4 1701.2,882.4 1702.2,882.4 1703.2,882.4 1704.2,882.4 1705.2,882.4 1706.2,882.4 1707.2,882.5 1708.2,882.5 1709.2,882.5 1710.2,882.5 1711.2,882.5 1712.2,882.5 1713.2,882.5 1714.2,882.5 1715.2,882.5 1716.2,882.5 1717.2,882.5 1718.2,882.5 1719.2,882.5 1720.2,882.5 1721.2,882.5 1722.2,882.5 1723.2,882.5 1724.2,882.5 1725.2,882.5 1726.2,882.5 1727.2,882.5 1728.2,882.5 1729.2,882.5 1730.2,882.5 1731.2,882.5 1732.2,882.5 1733.2,882.5 1734.2,882.5 1735.2,882.5 1736.2,882.5 1737.2,882.5 1738.2,882.5 1739.2,882.5 1740.2,882.5 1741.2,882.5 1742.2,882.5 1743.2,882.6 1744.2,882.6 1745.2,882.6 1746.2,882.6 1747.2,882.6 1748.2,882.6" fill="none" stroke="#000" stroke-width="3.3" stroke-linejoin="round" stroke-linecap="butt"/>
<polyline points="1009.2,880.5 1010.2,880.5 1011.2,880.5 1012.2,880.5 1013.2,880.5 1014.2,880.5 1015.2,880.5 1016.2,880.5 1017.2,880.5 1018.2,880.5 1019.2,880.5 1020.2,880.5 1021.2,880.5 1022.2,880.5 1023.2,880.5 1024.2,880.5 1025.2,880.5 1026.2,880.5 1027.2,880.5 1028.2,880.5 1029.2,880.5 1030.2,880.5 1031.2,880.5 1032.2,880.6 1033.2,880.6 1034.2,880.6 1035.2,880.6 1036.2,880.6 1037.2,880.6 1038.2,880.6 1039.2,880.6 1040.2,880.6 1041.2,880.6 1042.2,880.6 1043.2,880.6 1044.2,880.6 1045.2,880.6 1046.2,880.6 1047.2,880.6 1048.2,880.6 1049.2,880.6 1050.2,880.6 1051.2,880.6 1052.2,880.6 1053.2,880.6 1054.2,880.6 1055.2,880.6 1056.2,880.6 1057.2,880.6 1058.2,880.6 1059.2,880.6 1060.2,880.6 1061.2,880.6 1062.2,880.6 1063.2,880.6 1064.2,880.6 1065.2,880.6 1066.2,880.6 1067.2,880.6 1068.2,880.6 1069.2,880.6 1070.2,880.6 1071.2,880.6 1072.2,880.6 1073.2,880.7 1074.2,880.7 1075.2,880.7 1076.2,880.7 1077.2,880.7 1078.2,880.7 1079.2,880.7 1080.2,880.7 1081.2,880.7 1082.2,880.7 1083.2,880.7 1084.2,880.7 1085.2,880.7 1086.2,880.7 1087.2,880.7 1088.2,880.7 1089.2,880.7 1090.2,880.7 1091.2,880.7 1092.2,880.7 1093.2,880.7 1094.2,880.7 1095.2,880.7 1096.2,880.7 1097.2,880.7 1098.2,880.7 1099.2,880.7 1100.2,880.7 1101.2,880.7 1102.2,880.7 1103.2,880.7 1104.2,880.7 1105.2,880.7 1106.2,880.7 1107.2,880.7 1108.2,880.7 1109.2,880.7 1110.2,880.7 1111.2,880.7 1112.2,880.7 1113.2,880.7 1114.2,880.7 1115.2,880.7 1116.2,880.7 1117.2,880.7 1118.2,880.7 1119.2,880.7 1120.2,880.7 1121.2,880.7 1122.2,880.7 1123.2,880.6 1124.2,880.6 1125.2,880.6 1126.2,880.5 1127.2,880.5 1128.2,880.4 1129.2,880.4 1130.2,880.3 1131.2,880.2 1132.2,880.1 1133.2,880.0 1134.2,879.9 1135.2,879.8 1136.2,879.7 1137.2,879.6 1138.2,879.5 1139.2,879.3 1140.2,879.2 1141.2,879.0 1142.2,878.9 1143.2,878.7 1144.2,878.5 1145.2,878.3 1146.2,878.2 1147.2,877.9 1148.2,877.7 1149.2,877.4 1150.2,877.2 1151.2,876.8 1152.2,876.5 1153.2,876.1 1154.2,875.7 1155.2,875.2 1156.2,874.7 1157.2,874.2 1158.2,873.6 1159.2,873.0 1160.2,872.3 1161.2,871.6 1162.2,870.9 1163.2,870.1 1164.2,869.2 1165.2,868.4 1166.2,867.4 1167.2,866.5 1168.2,865.5 1169.2,864.5 1170.2,863.4 1171.2,862.4 1172.2,861.3 1173.2,860.1 1174.2,859.0 1175.2,857.8 1176.2,856.6 1177.2,855.5 1178.2,854.3 1179.2,853.1 1180.2,851.9 1181.2,850.7 1182.2,849.6 1183.2,848.5 1184.2,847.3 1185.2,846.3 1186.2,845.2 1187.2,844.2 1188.2,843.2 1189.2,842.3 1190.2,841.4 1191.2,840.6 1192.2,839.8 1193.2,839.0 1194.2,838.3 1195.2,837.7 1196.2,837.2 1197.2,836.7 1198.2,836.3 1199.2,835.9 1200.2,835.7 1201.2,835.5 1202.2,835.3 1203.2,835.3 1204.2,835.3 1205.2,835.4 1206.2,835.5 1207.2,835.7 1208.2,836.0 1209.2,836.3 1210.2,836.7 1211.2,837.1 1212.2,837.6 1213.2,838.1 1214.2,838.7 1215.2,839.3 1216.2,840.0 1217.2,840.6 1218.2,841.3 1219.2,842.1 1220.2,842.8 1221.2,843.6 1222.2,844.4 1223.2,845.2 1224.2,846.0 1225.2,846.9 1226.2,847.7 1227.2,848.5 1228.2,849.4 1229.2,850.2 1230.2,851.0 1231.2,851.8 1232.2,852.6 1233.2,853.5 1234.2,854.3 1235.2,855.1 1236.2,855.9 1237.2,856.7 1238.2,857.4 1239.2,858.2 1240.2,858.9 1241.2,859.7 1242.2,860.4 1243.2,861.1 1244.2,861.8 1245.2,862.5 1246.2,863.1 1247.2,863.7 1248.2,864.3 1249.2,864.9 1250.2,865.5 1251.2,866.0 1252.2,866.6 1253.2,867.1 1254.2,867.6 1255.2,868.0 1256.2,868.5 1257.2,868.9 1258.2,869.3 1259.2,869.7 1260.2,870.1 1261.2,870.5 1262.2,870.8 1263.2,871.2 1264.2,871.5 1265.2,871.8 1266.2,872.1 1267.2,872.4 1268.2,872.7 1269.2,873.0 1270.2,873.3 1271.2,873.5 1272.2,873.8 1273.2,874.0 1274.2,874.3 1275.2,874.5 1276.2,874.7 1277.2,874.9 1278.2,875.2 1279.2,875.3 1280.2,875.5 1281.2,875.7 1282.2,875.9 1283.2,876.0 1284.2,876.2 1285.2,876.3 1286.2,876.4 1287.2,876.5 1288.2,876.6 1289.2,876.7 1290.2,876.8 1291.2,876.9 1292.2,877.0 1293.2,877.1 1294.2,877.2 1295.2,877.4 1296.2,877.5 1297.2,877.6 1298.2,877.8 1299.2,877.9 1300.2,878.0 1301.2,878.2 1302.2,878.3 1303.2,878.4 1304.2,878.6 1305.2,878.7 1306.2,878.8 1307.2,878.9 1308.2,879.0 1309.2,879.1 1310.2,879.2 1311.2,879.3 1312.2,879.4 1313.2,879.5 1314.2,879.6 1315.2,879.6 1316.2,879.7 1317.2,879.8 1318.2,879.8 1319.2,879.9 1320.2,879.9 1321.2,880.0 1322.2,880.0 1323.2,880.1 1324.2,880.1 1325.2,880.2 1326.2,880.2 1327.2,880.2 1328.2,880.3 1329.2,880.3 1330.2,880.3 1331.2,880.4 1332.2,880.4 1333.2,880.4 1334.2,880.5 1335.2,880.5 1336.2,880.5 1337.2,880.6 1338.2,880.6 1339.2,880.6 1340.2,880.6 1341.2,880.7 1342.2,880.7 1343.2,880.7 1344.2,880.7 1345.2,880.8 1346.2,880.8 1347.2,880.8 1348.2,880.8 1349.2,880.8 1350.2,880.9 1351.2,880.9 1352.2,880.9 1353.2,880.9 1354.2,880.9 1355.2,881.0 1356.2,881.0 1357.2,881.0 1358.2,881.0 1359.2,881.0 1360.2,881.0 1361.2,881.0 1362.2,881.1 1363.2,881.1 1364.2,881.1 1365.2,881.1 1366.2,881.1 1367.2,881.1 1368.2,881.1 1369.2,881.1 1370.2,881.2 1371.2,881.2 1372.2,881.2 1373.2,881.2 1374.2,881.2 1375.2,881.2 1376.2,881.2 1377.2,881.2 1378.2,881.2 1379.2,881.2 1380.2,881.2 1381.2,881.3 1382.2,881.3 1383.2,881.3 1384.2,881.3 1385.2,881.3 1386.2,881.3 1387.2,881.3 1388.2,881.3 1389.2,881.3 1390.2,881.3 1391.2,881.3 1392.2,881.3 1393.2,881.3 1394.2,881.3 1395.2,881.3 1396.2,881.4 1397.2,881.4 1398.2,881.4 1399.2,881.4 1400.2,881.4 1401.2,881.4 1402.2,881.4 1403.2,881.4 1404.2,881.4 1405.2,881.4 1406.2,881.4 1407.2,881.4 1408.2,881.4 1409.2,881.4 1410.2,881.4 1411.2,881.4 1412.2,881.4 1413.2,881.4 1414.2,881.4 1415.2,881.4 1416.2,881.5 1417.2,881.5 1418.2,881.5 1419.2,881.5 1420.2,881.5 1421.2,881.5 1422.2,881.5 1423.2,881.5 1424.2,881.5 1425.2,881.5 1426.2,881.5 1427.2,881.5 1428.2,881.5 1429.2,881.5 1430.2,881.5 1431.2,881.5 1432.2,881.5 1433.2,881.5 1434.2,881.5 1435.2,881.5 1436.2,881.5 1437.2,881.5 1438.2,881.5 1439.2,881.5 1440.2,881.5 1441.2,881.5 1442.2,881.5 1443.2,881.5 1444.2,881.5 1445.2,881.6 1446.2,881.6 1447.2,881.6 1448.2,881.6 1449.2,881.6 1450.2,881.6 1451.2,881.6 1452.2,881.6 1453.2,881.6 1454.2,881.6 1455.2,881.6 1456.2,881.6 1457.2,881.6 1458.2,881.6 1459.2,881.6 1460.2,881.6 1461.2,881.6 1462.2,881.6 1463.2,881.6 1464.2,881.6 1465.2,881.6 1466.2,881.6 1467.2,881.6 1468.2,881.6 1469.2,881.6 1470.2,881.6 1471.2,881.6 1472.2,881.6 1473.2,881.6 1474.2,881.6 1475.2,881.6 1476.2,881.6 1477.2,881.6 1478.2,881.6 1479.2,881.6 1480.2,881.7 1481.2,881.7 1482.2,881.7 1483.2,881.7 1484.2,881.7 1485.2,881.7 1486.2,881.7 1487.2,881.7 1488.2,881.7 1489.2,881.7 1490.2,881.7 1491.2,881.7 1492.2,881.7 1493.2,881.7 1494.2,881.7 1495.2,881.7 1496.2,881.7 1497.2,881.7 1498.2,881.7 1499.2,881.7 1500.2,881.7 1501.2,881.7 1502.2,881.7 1503.2,881.7 1504.2,881.7 1505.2,881.7 1506.2,881.7 1507.2,881.7 1508.2,881.7 1509.2,881.7 1510.2,881.7 1511.2,881.7 1512.2,881.7 1513.2,881.7 1514.2,881.7 1515.2,881.7 1516.2,881.7 1517.2,881.7 1518.2,881.7 1519.2,881.8 1520.2,881.8 1521.2,881.8 1522.2,881.8 1523.2,881.8 1524.2,881.8 1525.2,881.8 1526.2,881.8 1527.2,881.8 1528.2,881.8 1529.2,881.8 1530.2,881.8 1531.2,881.8 1532.2,881.8 1533.2,881.8 1534.2,881.8 1535.2,881.8 1536.2,881.8 1537.2,881.8 1538.2,881.8 1539.2,881.8 1540.2,881.8 1541.2,881.8 1542.2,881.8 1543.2,881.8 1544.2,881.8 1545.2,881.8 1546.2,881.8 1547.2,881.8 1548.2,881.8 1549.2,881.8 1550.2,881.8 1551.2,881.8 1552.2,881.8 1553.2,881.8 1554.2,881.8 1555.2,881.8 1556.2,881.8 1557.2,881.8 1558.2,881.8 1559.2,881.9 1560.2,881.9 1561.2,881.9 1562.2,881.9 1563.2,881.9 1564.2,881.9 1565.2,881.9 1566.2,881.9 1567.2,881.9 1568.2,881.9 1569.2,881.9 1570.2,881.9 1571.2,881.9 1572.2,881.9 1573.2,881.9 1574.2,881.9 1575.2,881.9 1576.2,881.9 1577.2,881.9 1578.2,881.9 1579.2,881.9 1580.2,881.9 1581.2,881.9 1582.2,881.9 1583.2,881.9 1584.2,881.9 1585.2,881.9 1586.2,881.9 1587.2,881.9 1588.2,881.9 1589.2,881.9 1590.2,881.9 1591.2,881.9 1592.2,881.9 1593.2,881.9 1594.2,881.9 1595.2,881.9 1596.2,881.9 1597.2,881.9 1598.2,881.9 1599.2,882.0 1600.2,882.0 1601.2,882.0 1602.2,882.0 1603.2,882.0 1604.2,882.0 1605.2,882.0 1606.2,882.0 1607.2,882.0 1608.2,882.0 1609.2,882.0 1610.2,882.0 1611.2,882.0 1612.2,882.0 1613.2,882.0 1614.2,882.0 1615.2,882.0 1616.2,882.0 1617.2,882.0 1618.2,882.0 1619.2,882.0 1620.2,882.0 1621.2,882.0 1622.2,882.0 1623.2,882.0 1624.2,882.0 1625.2,882.0 1626.2,882.0 1627.2,882.0 1628.2,882.0 1629.2,882.0 1630.2,882.0 1631.2,882.0 1632.2,882.0 1633.2,882.0 1634.2,882.0 1635.2,882.0 1636.2,882.0 1637.2,882.0 1638.2,882.0 1639.2,882.0 1640.2,882.1 1641.2,882.1 1642.2,882.1 1643.2,882.1 1644.2,882.1 1645.2,882.1 1646.2,882.1 1647.2,882.1 1648.2,882.1 1649.2,882.1 1650.2,882.1 1651.2,882.1 1652.2,882.1 1653.2,882.1 1654.2,882.1 1655.2,882.1 1656.2,882.1 1657.2,882.1 1658.2,882.1 1659.2,882.1 1660.2,882.1 1661.2,882.1 1662.2,882.1 1663.2,882.1 1664.2,882.1 1665.2,882.1 1666.2,882.1 1667.2,882.1 1668.2,882.1 1669.2,882.1 1670.2,882.1 1671.2,882.1 1672.2,882.1 1673.2,882.1 1674.2,882.1 1675.2,882.1 1676.2,882.1 1677.2,882.1 1678.2,882.1 1679.2,882.1 1680.2,882.2 1681.2,882.2 1682.2,882.2 1683.2,882.2 1684.2,882.2 1685.2,882.2 1686.2,882.2 1687.2,882.2 1688.2,882.2 1689.2,882.2 1690.2,882.2 1691.2,882.2 1692.2,882.2 1693.2,882.2 1694.2,882.2 1695.2,882.2 1696.2,882.2 1697.2,882.2 1698.2,882.2 1699.2,882.2 1700.2,882.2 1701.2,882.2 1702.2,882.2 1703.2,882.2 1704.2,882.2 1705.2,882.2 1706.2,882.2 1707.2,882.2 1708.2,882.2 1709.2,882.2 1710.2,882.2 1711.2,882.2 1712.2,882.2 1713.2,882.2 1714.2,882.2 1715.2,882.2 1716.2,882.2 1717.2,882.2 1718.2,882.2 1719.2,882.2 1720.2,882.2 1721.2,882.3 1722.2,882.3 1723.2,882.3 1724.2,882.3 1725.2,882.3 1726.2,882.3 1727.2,882.3 1728.2,882.3 1729.2,882.3 1730.2,882.3 1731.2,882.3 1732.2,882.3 1733.2,882.3 1734.2,882.3 1735.2,882.3 1736.2,882.3 1737.2,882.3 1738.2,882.3 1739.2,882.3 1740.2,882.3 1741.2,882.3 1742.2,882.3 1743.2,882.3 1744.2,882.3 1745.2,882.3 1746.2,882.3 1747.2,882.3 1748.2,882.3" fill="none" stroke="#00AAEC" stroke-width="3.3" stroke-linejoin="round" stroke-linecap="butt"/>
<polyline points="1009.2,976.6 1010.2,976.6 1011.2,976.6 1012.2,976.6 1013.2,976.6 1014.2,976.6 1015.2,976.6 1016.2,976.6 1017.2,976.6 1018.2,976.6 1019.2,976.6 1020.2,976.6 1021.2,976.6 1022.2,976.6 1023.2,976.6 1024.2,976.6 1025.2,976.6 1026.2,976.6 1027.2,976.6 1028.2,976.6 1029.2,976.6 1030.2,976.6 1031.2,976.6 1032.2,976.7 1033.2,976.7 1034.2,976.7 1035.2,976.7 1036.2,976.7 1037.2,976.7 1038.2,976.7 1039.2,976.7 1040.2,976.7 1041.2,976.7 1042.2,976.7 1043.2,976.7 1044.2,976.7 1045.2,976.7 1046.2,976.7 1047.2,976.7 1048.2,976.7 1049.2,976.7 1050.2,976.7 1051.2,976.7 1052.2,976.7 1053.2,976.7 1054.2,976.7 1055.2,976.7 1056.2,976.7 1057.2,976.7 1058.2,976.7 1059.2,976.7 1060.2,976.7 1061.2,976.7 1062.2,976.7 1063.2,976.7 1064.2,976.7 1065.2,976.7 1066.2,976.7 1067.2,976.7 1068.2,976.7 1069.2,976.7 1070.2,976.7 1071.2,976.7 1072.2,976.7 1073.2,976.7 1074.2,976.7 1075.2,976.7 1076.2,976.7 1077.2,976.7 1078.2,976.7 1079.2,976.7 1080.2,976.7 1081.2,976.7 1082.2,976.7 1083.2,976.7 1084.2,976.7 1085.2,976.7 1086.2,976.7 1087.2,976.7 1088.2,976.7 1089.2,976.7 1090.2,976.7 1091.2,976.7 1092.2,976.7 1093.2,976.7 1094.2,976.7 1095.2,976.7 1096.2,976.7 1097.2,976.7 1098.2,976.7 1099.2,976.7 1100.2,976.7 1101.2,976.7 1102.2,976.7 1103.2,976.7 1104.2,976.7 1105.2,976.7 1106.2,976.7 1107.2,976.7 1108.2,976.7 1109.2,976.7 1110.2,976.7 1111.2,976.7 1112.2,976.7 1113.2,976.7 1114.2,976.7 1115.2,976.7 1116.2,976.7 1117.2,976.7 1118.2,976.7 1119.2,976.7 1120.2,976.7 1121.2,976.7 1122.2,976.7 1123.2,976.7 1124.2,976.7 1125.2,976.7 1126.2,976.7 1127.2,976.7 1128.2,976.7 1129.2,976.7 1130.2,976.7 1131.2,976.7 1132.2,976.7 1133.2,976.7 1134.2,976.7 1135.2,976.7 1136.2,976.7 1137.2,976.7 1138.2,976.7 1139.2,976.7 1140.2,976.7 1141.2,976.7 1142.2,976.7 1143.2,976.7 1144.2,976.7 1145.2,976.7 1146.2,976.7 1147.2,976.7 1148.2,976.7 1149.2,976.7 1150.2,976.7 1151.2,976.7 1152.2,976.7 1153.2,976.7 1154.2,976.7 1155.2,976.7 1156.2,976.7 1157.2,976.7 1158.2,976.7 1159.2,976.7 1160.2,976.7 1161.2,976.7 1162.2,976.7 1163.2,976.7 1164.2,976.7 1165.2,976.7 1166.2,976.7 1167.2,976.7 1168.2,976.7 1169.2,976.7 1170.2,976.7 1171.2,976.7 1172.2,976.7 1173.2,976.7 1174.2,976.7 1175.2,976.7 1176.2,976.7 1177.2,976.7 1178.2,976.7 1179.2,976.7 1180.2,976.7 1181.2,976.7 1182.2,976.7 1183.2,976.7 1184.2,976.7 1185.2,976.7 1186.2,976.7 1187.2,976.7 1188.2,976.7 1189.2,976.7 1190.2,976.7 1191.2,976.7 1192.2,976.7 1193.2,976.7 1194.2,976.7 1195.2,976.7 1196.2,976.7 1197.2,976.7 1198.2,976.7 1199.2,976.7 1200.2,976.7 1201.2,976.7 1202.2,976.7 1203.2,976.7 1204.2,976.7 1205.2,976.7 1206.2,976.7 1207.2,976.7 1208.2,976.7 1209.2,976.7 1210.2,976.7 1211.2,976.7 1212.2,976.7 1213.2,976.7 1214.2,976.7 1215.2,976.7 1216.2,976.7 1217.2,976.7 1218.2,976.7 1219.2,976.7 1220.2,976.7 1221.2,976.7 1222.2,976.7 1223.2,976.7 1224.2,976.7 1225.2,976.7 1226.2,976.6 1227.2,976.6 1228.2,976.6 1229.2,976.6 1230.2,976.6 1231.2,976.6 1232.2,976.6 1233.2,976.6 1234.2,976.6 1235.2,976.6 1236.2,976.6 1237.2,976.6 1238.2,976.6 1239.2,976.6 1240.2,976.5 1241.2,976.5 1242.2,976.5 1243.2,976.5 1244.2,976.5 1245.2,976.5 1246.2,976.5 1247.2,976.4 1248.2,976.4 1249.2,976.4 1250.2,976.4 1251.2,976.4 1252.2,976.3 1253.2,976.3 1254.2,976.3 1255.2,976.3 1256.2,976.2 1257.2,976.2 1258.2,976.2 1259.2,976.2 1260.2,976.1 1261.2,976.1 1262.2,976.0 1263.2,976.0 1264.2,976.0 1265.2,975.9 1266.2,975.9 1267.2,975.8 1268.2,975.8 1269.2,975.7 1270.2,975.7 1271.2,975.6 1272.2,975.6 1273.2,975.5 1274.2,975.4 1275.2,975.4 1276.2,975.3 1277.2,975.2 1278.2,975.1 1279.2,975.1 1280.2,975.0 1281.2,974.9 1282.2,974.8 1283.2,974.7 1284.2,974.6 1285.2,974.5 1286.2,974.4 1287.2,974.3 1288.2,974.2 1289.2,974.1 1290.2,973.9 1291.2,973.8 1292.2,973.6 1293.2,973.5 1294.2,973.3 1295.2,973.2 1296.2,973.0 1297.2,972.8 1298.2,972.6 1299.2,972.4 1300.2,972.1 1301.2,971.9 1302.2,971.6 1303.2,971.4 1304.2,971.1 1305.2,970.8 1306.2,970.4 1307.2,970.1 1308.2,969.7 1309.2,969.3 1310.2,968.9 1311.2,968.4 1312.2,967.9 1313.2,967.4 1314.2,966.8 1315.2,966.2 1316.2,965.6 1317.2,964.9 1318.2,964.1 1319.2,963.4 1320.2,962.6 1321.2,961.7 1322.2,960.8 1323.2,959.9 1324.2,958.9 1325.2,957.8 1326.2,956.8 1327.2,955.7 1328.2,954.5 1329.2,953.4 1330.2,952.2 1331.2,951.0 1332.2,949.8 1333.2,948.5 1334.2,947.3 1335.2,946.1 1336.2,944.9 1337.2,943.8 1338.2,942.6 1339.2,941.5 1340.2,940.5 1341.2,939.5 1342.2,938.5 1343.2,937.6 1344.2,936.7 1345.2,935.8 1346.2,935.1 1347.2,934.3 1348.2,933.7 1349.2,933.0 1350.2,932.5 1351.2,931.9 1352.2,931.5 1353.2,931.1 1354.2,930.7 1355.2,930.4 1356.2,930.1 1357.2,929.9 1358.2,929.7 1359.2,929.6 1360.2,929.5 1361.2,929.5 1362.2,929.5 1363.2,929.5 1364.2,929.6 1365.2,929.7 1366.2,929.8 1367.2,930.0 1368.2,930.1 1369.2,930.3 1370.2,930.6 1371.2,930.8 1372.2,931.1 1373.2,931.4 1374.2,931.7 1375.2,932.0 1376.2,932.3 1377.2,932.6 1378.2,933.0 1379.2,933.4 1380.2,933.7 1381.2,934.1 1382.2,934.5 1383.2,934.9 1384.2,935.3 1385.2,935.7 1386.2,936.2 1387.2,936.6 1388.2,937.0 1389.2,937.4 1390.2,937.9 1391.2,938.3 1392.2,938.8 1393.2,939.2 1394.2,939.7 1395.2,940.1 1396.2,940.6 1397.2,941.0 1398.2,941.5 1399.2,941.9 1400.2,942.4 1401.2,942.9 1402.2,943.3 1403.2,943.8 1404.2,944.2 1405.2,944.7 1406.2,945.1 1407.2,945.6 1408.2,946.0 1409.2,946.5 1410.2,947.0 1411.2,947.4 1412.2,947.9 1413.2,948.3 1414.2,948.8 1415.2,949.2 1416.2,949.7 1417.2,950.1 1418.2,950.6 1419.2,951.1 1420.2,951.5 1421.2,952.0 1422.2,952.4 1423.2,952.8 1424.2,953.3 1425.2,953.7 1426.2,954.2 1427.2,954.6 1428.2,955.0 1429.2,955.4 1430.2,955.9 1431.2,956.3 1432.2,956.7 1433.2,957.1 1434.2,957.5 1435.2,957.9 1436.2,958.3 1437.2,958.7 1438.2,959.1 1439.2,959.5 1440.2,959.9 1441.2,960.2 1442.2,960.6 1443.2,961.0 1444.2,961.3 1445.2,961.7 1446.2,962.0 1447.2,962.3 1448.2,962.7 1449.2,963.0 1450.2,963.3 1451.2,963.6 1452.2,964.0 1453.2,964.3 1454.2,964.6 1455.2,964.9 1456.2,965.1 1457.2,965.4 1458.2,965.7 1459.2,966.0 1460.2,966.3 1461.2,966.5 1462.2,966.8 1463.2,967.0 1464.2,967.3 1465.2,967.5 1466.2,967.7 1467.2,968.0 1468.2,968.2 1469.2,968.4 1470.2,968.6 1471.2,968.8 1472.2,969.0 1473.2,969.2 1474.2,969.4 1475.2,969.6 1476.2,969.8 1477.2,969.9 1478.2,970.1 1479.2,970.3 1480.2,970.4 1481.2,970.6 1482.2,970.8 1483.2,970.9 1484.2,971.1 1485.2,971.2 1486.2,971.3 1487.2,971.5 1488.2,971.6 1489.2,971.7 1490.2,971.8 1491.2,972.0 1492.2,972.1 1493.2,972.2 1494.2,972.3 1495.2,972.4 1496.2,972.5 1497.2,972.6 1498.2,972.7 1499.2,972.8 1500.2,972.9 1501.2,973.0 1502.2,973.1 1503.2,973.2 1504.2,973.2 1505.2,973.3 1506.2,973.4 1507.2,973.5 1508.2,973.5 1509.2,973.6 1510.2,973.7 1511.2,973.7 1512.2,973.8 1513.2,973.9 1514.2,973.9 1515.2,974.0 1516.2,974.0 1517.2,974.1 1518.2,974.2 1519.2,974.2 1520.2,974.3 1521.2,974.3 1522.2,974.4 1523.2,974.4 1524.2,974.5 1525.2,974.5 1526.2,974.5 1527.2,974.6 1528.2,974.6 1529.2,974.7 1530.2,974.7 1531.2,974.8 1532.2,974.8 1533.2,974.8 1534.2,974.9 1535.2,974.9 1536.2,974.9 1537.2,975.0 1538.2,975.0 1539.2,975.0 1540.2,975.1 1541.2,975.1 1542.2,975.1 1543.2,975.2 1544.2,975.2 1545.2,975.2 1546.2,975.2 1547.2,975.3 1548.2,975.3 1549.2,975.3 1550.2,975.4 1551.2,975.4 1552.2,975.4 1553.2,975.4 1554.2,975.5 1555.2,975.5 1556.2,975.5 1557.2,975.5 1558.2,975.5 1559.2,975.6 1560.2,975.6 1561.2,975.6 1562.2,975.6 1563.2,975.6 1564.2,975.7 1565.2,975.7 1566.2,975.7 1567.2,975.7 1568.2,975.7 1569.2,975.8 1570.2,975.8 1571.2,975.8 1572.2,975.8 1573.2,975.8 1574.2,975.8 1575.2,975.9 1576.2,975.9 1577.2,975.9 1578.2,975.9 1579.2,975.9 1580.2,975.9 1581.2,976.0 1582.2,976.0 1583.2,976.0 1584.2,976.0 1585.2,976.0 1586.2,976.0 1587.2,976.0 1588.2,976.1 1589.2,976.1 1590.2,976.1 1591.2,976.1 1592.2,976.1 1593.2,976.1 1594.2,976.1 1595.2,976.1 1596.2,976.2 1597.2,976.2 1598.2,976.2 1599.2,976.2 1600.2,976.2 1601.2,976.2 1602.2,976.2 1603.2,976.2 1604.2,976.2 1605.2,976.2 1606.2,976.3 1607.2,976.3 1608.2,976.3 1609.2,976.3 1610.2,976.3 1611.2,976.3 1612.2,976.3 1613.2,976.3 1614.2,976.3 1615.2,976.3 1616.2,976.3 1617.2,976.4 1618.2,976.4 1619.2,976.4 1620.2,976.4 1621.2,976.4 1622.2,976.4 1623.2,976.4 1624.2,976.4 1625.2,976.4 1626.2,976.4 1627.2,976.4 1628.2,976.4 1629.2,976.4 1630.2,976.5 1631.2,976.5 1632.2,976.5 1633.2,976.5 1634.2,976.5 1635.2,976.5 1636.2,976.5 1637.2,976.5 1638.2,976.5 1639.2,976.5 1640.2,976.5 1641.2,976.5 1642.2,976.5 1643.2,976.5 1644.2,976.5 1645.2,976.5 1646.2,976.5 1647.2,976.6 1648.2,976.6 1649.2,976.6 1650.2,976.6 1651.2,976.6 1652.2,976.6 1653.2,976.6 1654.2,976.6 1655.2,976.6 1656.2,976.6 1657.2,976.6 1658.2,976.6 1659.2,976.6 1660.2,976.6 1661.2,976.6 1662.2,976.6 1663.2,976.6 1664.2,976.6 1665.2,976.6 1666.2,976.6 1667.2,976.6 1668.2,976.6 1669.2,976.6 1670.2,976.7 1671.2,976.7 1672.2,976.7 1673.2,976.7 1674.2,976.7 1675.2,976.7 1676.2,976.7 1677.2,976.7 1678.2,976.7 1679.2,976.7 1680.2,976.7 1681.2,976.7 1682.2,976.7 1683.2,976.7 1684.2,976.7 1685.2,976.7 1686.2,976.7 1687.2,976.7 1688.2,976.7 1689.2,976.7 1690.2,976.7 1691.2,976.7 1692.2,976.7 1693.2,976.7 1694.2,976.7 1695.2,976.7 1696.2,976.7 1697.2,976.7 1698.2,976.7 1699.2,976.7 1700.2,976.7 1701.2,976.7 1702.2,976.7 1703.2,976.7 1704.2,976.7 1705.2,976.7 1706.2,976.8 1707.2,976.8 1708.2,976.8 1709.2,976.8 1710.2,976.8 1711.2,976.8 1712.2,976.8 1713.2,976.8 1714.2,976.8 1715.2,976.8 1716.2,976.8 1717.2,976.8 1718.2,976.8 1719.2,976.8 1720.2,976.8 1721.2,976.8 1722.2,976.8 1723.2,976.8 1724.2,976.8 1725.2,976.8 1726.2,976.8 1727.2,976.8 1728.2,976.8 1729.2,976.8 1730.2,976.8 1731.2,976.8 1732.2,976.8 1733.2,976.8 1734.2,976.8 1735.2,976.8 1736.2,976.8 1737.2,976.8 1738.2,976.8 1739.2,976.8 1740.2,976.8 1741.2,976.8 1742.2,976.8 1743.2,976.8 1744.2,976.8 1745.2,976.8 1746.2,976.8 1747.2,976.8 1748.2,976.8" fill="none" stroke="#000" stroke-width="3.3" stroke-linejoin="round" stroke-linecap="butt"/>
<polyline points="1009.2,975.7 1010.2,975.7 1011.2,975.7 1012.2,975.7 1013.2,975.7 1014.2,975.7 1015.2,975.7 1016.2,975.7 1017.2,975.7 1018.2,975.7 1019.2,975.7 1020.2,975.7 1021.2,975.7 1022.2,975.7 1023.2,975.7 1024.2,975.7 1025.2,975.7 1026.2,975.7 1027.2,975.7 1028.2,975.7 1029.2,975.7 1030.2,975.7 1031.2,975.7 1032.2,975.7 1033.2,975.8 1034.2,975.8 1035.2,975.8 1036.2,975.8 1037.2,975.8 1038.2,975.8 1039.2,975.8 1040.2,975.8 1041.2,975.8 1042.2,975.8 1043.2,975.8 1044.2,975.8 1045.2,975.8 1046.2,975.8 1047.2,975.8 1048.2,975.8 1049.2,975.8 1050.2,975.8 1051.2,975.8 1052.2,975.8 1053.2,975.8 1054.2,975.8 1055.2,975.8 1056.2,975.8 1057.2,975.8 1058.2,975.8 1059.2,975.8 1060.2,975.8 1061.2,975.8 1062.2,975.8 1063.2,975.8 1064.2,975.8 1065.2,975.8 1066.2,975.8 1067.2,975.8 1068.2,975.8 1069.2,975.8 1070.2,975.8 1071.2,975.8 1072.2,975.8 1073.2,975.8 1074.2,975.8 1075.2,975.8 1076.2,975.8 1077.2,975.8 1078.2,975.8 1079.2,975.8 1080.2,975.8 1081.2,975.8 1082.2,975.8 1083.2,975.8 1084.2,975.9 1085.2,975.9 1086.2,975.9 1087.2,975.9 1088.2,975.9 1089.2,975.9 1090.2,975.9 1091.2,975.9 1092.2,975.9 1093.2,975.9 1094.2,975.9 1095.2,975.9 1096.2,975.9 1097.2,975.9 1098.2,975.9 1099.2,975.9 1100.2,975.9 1101.2,975.9 1102.2,975.9 1103.2,975.9 1104.2,975.9 1105.2,975.9 1106.2,975.9 1107.2,975.9 1108.2,975.9 1109.2,975.9 1110.2,975.9 1111.2,975.9 1112.2,975.9 1113.2,975.9 1114.2,975.9 1115.2,975.9 1116.2,975.9 1117.2,975.9 1118.2,975.9 1119.2,975.9 1120.2,975.9 1121.2,975.9 1122.2,975.9 1123.2,975.9 1124.2,975.9 1125.2,975.9 1126.2,975.9 1127.2,975.9 1128.2,975.9 1129.2,975.9 1130.2,975.8 1131.2,975.8 1132.2,975.8 1133.2,975.7 1134.2,975.7 1135.2,975.6 1136.2,975.5 1137.2,975.4 1138.2,975.3 1139.2,975.1 1140.2,975.0 1141.2,974.8 1142.2,974.7 1143.2,974.5 1144.2,974.3 1145.2,974.2 1146.2,974.0 1147.2,973.8 1148.2,973.7 1149.2,973.6 1150.2,973.4 1151.2,973.3 1152.2,973.2 1153.2,973.0 1154.2,972.9 1155.2,972.7 1156.2,972.6 1157.2,972.4 1158.2,972.2 1159.2,971.9 1160.2,971.6 1161.2,971.3 1162.2,971.0 1163.2,970.6 1164.2,970.2 1165.2,969.7 1166.2,969.2 1167.2,968.7 1168.2,968.1 1169.2,967.5 1170.2,966.8 1171.2,966.1 1172.2,965.3 1173.2,964.4 1174.2,963.5 1175.2,962.6 1176.2,961.6 1177.2,960.5 1178.2,959.4 1179.2,958.2 1180.2,957.0 1181.2,955.8 1182.2,954.5 1183.2,953.2 1184.2,951.9 1185.2,950.6 1186.2,949.3 1187.2,948.0 1188.2,946.7 1189.2,945.4 1190.2,944.2 1191.2,943.0 1192.2,941.8 1193.2,940.6 1194.2,939.5 1195.2,938.4 1196.2,937.4 1197.2,936.5 1198.2,935.6 1199.2,934.7 1200.2,933.9 1201.2,933.2 1202.2,932.5 1203.2,931.9 1204.2,931.4 1205.2,931.0 1206.2,930.6 1207.2,930.2 1208.2,930.0 1209.2,929.8 1210.2,929.6 1211.2,929.5 1212.2,929.5 1213.2,929.5 1214.2,929.6 1215.2,929.7 1216.2,929.8 1217.2,930.1 1218.2,930.3 1219.2,930.6 1220.2,930.9 1221.2,931.3 1222.2,931.7 1223.2,932.1 1224.2,932.6 1225.2,933.1 1226.2,933.6 1227.2,934.2 1228.2,934.8 1229.2,935.3 1230.2,935.9 1231.2,936.6 1232.2,937.2 1233.2,937.8 1234.2,938.5 1235.2,939.1 1236.2,939.8 1237.2,940.4 1238.2,941.1 1239.2,941.7 1240.2,942.3 1241.2,943.0 1242.2,943.6 1243.2,944.2 1244.2,944.8 1245.2,945.4 1246.2,946.0 1247.2,946.6 1248.2,947.2 1249.2,947.8 1250.2,948.4 1251.2,948.9 1252.2,949.4 1253.2,950.0 1254.2,950.5 1255.2,951.0 1256.2,951.5 1257.2,952.0 1258.2,952.5 1259.2,953.0 1260.2,953.5 1261.2,954.0 1262.2,954.5 1263.2,954.9 1264.2,955.4 1265.2,955.9 1266.2,956.3 1267.2,956.8 1268.2,957.2 1269.2,957.6 1270.2,958.0 1271.2,958.5 1272.2,958.9 1273.2,959.2 1274.2,959.6 1275.2,960.0 1276.2,960.4 1277.2,960.7 1278.2,961.0 1279.2,961.4 1280.2,961.7 1281.2,962.0 1282.2,962.2 1283.2,962.5 1284.2,962.8 1285.2,963.1 1286.2,963.3 1287.2,963.6 1288.2,963.9 1289.2,964.1 1290.2,964.4 1291.2,964.7 1292.2,964.9 1293.2,965.2 1294.2,965.5 1295.2,965.7 1296.2,966.0 1297.2,966.2 1298.2,966.5 1299.2,966.7 1300.2,967.0 1301.2,967.2 1302.2,967.4 1303.2,967.6 1304.2,967.8 1305.2,968.0 1306.2,968.2 1307.2,968.4 1308.2,968.6 1309.2,968.8 1310.2,969.0 1311.2,969.1 1312.2,969.3 1313.2,969.4 1314.2,969.6 1315.2,969.7 1316.2,969.8 1317.2,969.9 1318.2,970.0 1319.2,970.1 1320.2,970.2 1321.2,970.3 1322.2,970.4 1323.2,970.5 1324.2,970.6 1325.2,970.7 1326.2,970.8 1327.2,970.9 1328.2,971.1 1329.2,971.2 1330.2,971.3 1331.2,971.4 1332.2,971.5 1333.2,971.6 1334.2,971.7 1335.2,971.8 1336.2,971.9 1337.2,972.0 1338.2,972.1 1339.2,972.2 1340.2,972.2 1341.2,972.3 1342.2,972.4 1343.2,972.5 1344.2,972.6 1345.2,972.7 1346.2,972.7 1347.2,972.8 1348.2,972.9 1349.2,973.0 1350.2,973.0 1351.2,973.1 1352.2,973.2 1353.2,973.3 1354.2,973.3 1355.2,973.4 1356.2,973.4 1357.2,973.5 1358.2,973.6 1359.2,973.6 1360.2,973.7 1361.2,973.7 1362.2,973.8 1363.2,973.9 1364.2,973.9 1365.2,974.0 1366.2,974.0 1367.2,974.1 1368.2,974.1 1369.2,974.2 1370.2,974.2 1371.2,974.3 1372.2,974.3 1373.2,974.4 1374.2,974.4 1375.2,974.4 1376.2,974.5 1377.2,974.5 1378.2,974.6 1379.2,974.6 1380.2,974.7 1381.2,974.7 1382.2,974.7 1383.2,974.8 1384.2,974.8 1385.2,974.8 1386.2,974.9 1387.2,974.9 1388.2,974.9 1389.2,975.0 1390.2,975.0 1391.2,975.0 1392.2,975.1 1393.2,975.1 1394.2,975.1 1395.2,975.2 1396.2,975.2 1397.2,975.2 1398.2,975.2 1399.2,975.3 1400.2,975.3 1401.2,975.3 1402.2,975.4 1403.2,975.4 1404.2,975.4 1405.2,975.4 1406.2,975.4 1407.2,975.5 1408.2,975.5 1409.2,975.5 1410.2,975.5 1411.2,975.6 1412.2,975.6 1413.2,975.6 1414.2,975.6 1415.2,975.6 1416.2,975.7 1417.2,975.7 1418.2,975.7 1419.2,975.7 1420.2,975.7 1421.2,975.8 1422.2,975.8 1423.2,975.8 1424.2,975.8 1425.2,975.8 1426.2,975.8 1427.2,975.9 1428.2,975.9 1429.2,975.9 1430.2,975.9 1431.2,975.9 1432.2,975.9 1433.2,975.9 1434.2,976.0 1435.2,976.0 1436.2,976.0 1437.2,976.0 1438.2,976.0 1439.2,976.0 1440.2,976.0 1441.2,976.1 1442.2,976.1 1443.2,976.1 1444.2,976.1 1445.2,976.1 1446.2,976.1 1447.2,976.1 1448.2,976.1 1449.2,976.1 1450.2,976.2 1451.2,976.2 1452.2,976.2 1453.2,976.2 1454.2,976.2 1455.2,976.2 1456.2,976.2 1457.2,976.2 1458.2,976.2 1459.2,976.2 1460.2,976.2 1461.2,976.3 1462.2,976.3 1463.2,976.3 1464.2,976.3 1465.2,976.3 1466.2,976.3 1467.2,976.3 1468.2,976.3 1469.2,976.3 1470.2,976.3 1471.2,976.3 1472.2,976.3 1473.2,976.4 1474.2,976.4 1475.2,976.4 1476.2,976.4 1477.2,976.4 1478.2,976.4 1479.2,976.4 1480.2,976.4 1481.2,976.4 1482.2,976.4 1483.2,976.4 1484.2,976.4 1485.2,976.4 1486.2,976.4 1487.2,976.4 1488.2,976.5 1489.2,976.5 1490.2,976.5 1491.2,976.5 1492.2,976.5 1493.2,976.5 1494.2,976.5 1495.2,976.5 1496.2,976.5 1497.2,976.5 1498.2,976.5 1499.2,976.5 1500.2,976.5 1501.2,976.5 1502.2,976.5 1503.2,976.5 1504.2,976.5 1505.2,976.5 1506.2,976.5 1507.2,976.5 1508.2,976.6 1509.2,976.6 1510.2,976.6 1511.2,976.6 1512.2,976.6 1513.2,976.6 1514.2,976.6 1515.2,976.6 1516.2,976.6 1517.2,976.6 1518.2,976.6 1519.2,976.6 1520.2,976.6 1521.2,976.6 1522.2,976.6 1523.2,976.6 1524.2,976.6 1525.2,976.6 1526.2,976.6 1527.2,976.6 1528.2,976.6 1529.2,976.6 1530.2,976.6 1531.2,976.6 1532.2,976.6 1533.2,976.7 1534.2,976.7 1535.2,976.7 1536.2,976.7 1537.2,976.7 1538.2,976.7 1539.2,976.7 1540.2,976.7 1541.2,976.7 1542.2,976.7 1543.2,976.7 1544.2,976.7 1545.2,976.7 1546.2,976.7 1547.2,976.7 1548.2,976.7 1549.2,976.7 1550.2,976.7 1551.2,976.7 1552.2,976.7 1553.2,976.7 1554.2,976.7 1555.2,976.7 1556.2,976.7 1557.2,976.7 1558.2,976.7 1559.2,976.7 1560.2,976.7 1561.2,976.7 1562.2,976.7 1563.2,976.7 1564.2,976.7 1565.2,976.7 1566.2,976.8 1567.2,976.8 1568.2,976.8 1569.2,976.8 1570.2,976.8 1571.2,976.8 1572.2,976.8 1573.2,976.8 1574.2,976.8 1575.2,976.8 1576.2,976.8 1577.2,976.8 1578.2,976.8 1579.2,976.8 1580.2,976.8 1581.2,976.8 1582.2,976.8 1583.2,976.8 1584.2,976.8 1585.2,976.8 1586.2,976.8 1587.2,976.8 1588.2,976.8 1589.2,976.8 1590.2,976.8 1591.2,976.8 1592.2,976.8 1593.2,976.8 1594.2,976.8 1595.2,976.8 1596.2,976.8 1597.2,976.8 1598.2,976.8 1599.2,976.8 1600.2,976.8 1601.2,976.8 1602.2,976.8 1603.2,976.8 1604.2,976.8 1605.2,976.8 1606.2,976.8 1607.2,976.9 1608.2,976.9 1609.2,976.9 1610.2,976.9 1611.2,976.9 1612.2,976.9 1613.2,976.9 1614.2,976.9 1615.2,976.9 1616.2,976.9 1617.2,976.9 1618.2,976.9 1619.2,976.9 1620.2,976.9 1621.2,976.9 1622.2,976.9 1623.2,976.9 1624.2,976.9 1625.2,976.9 1626.2,976.9 1627.2,976.9 1628.2,976.9 1629.2,976.9 1630.2,976.9 1631.2,976.9 1632.2,976.9 1633.2,976.9 1634.2,976.9 1635.2,976.9 1636.2,976.9 1637.2,976.9 1638.2,976.9 1639.2,976.9 1640.2,976.9 1641.2,976.9 1642.2,976.9 1643.2,976.9 1644.2,976.9 1645.2,976.9 1646.2,976.9 1647.2,976.9 1648.2,976.9 1649.2,976.9 1650.2,976.9 1651.2,976.9 1652.2,976.9 1653.2,977.0 1654.2,977.0 1655.2,977.0 1656.2,977.0 1657.2,977.0 1658.2,977.0 1659.2,977.0 1660.2,977.0 1661.2,977.0 1662.2,977.0 1663.2,977.0 1664.2,977.0 1665.2,977.0 1666.2,977.0 1667.2,977.0 1668.2,977.0 1669.2,977.0 1670.2,977.0 1671.2,977.0 1672.2,977.0 1673.2,977.0 1674.2,977.0 1675.2,977.0 1676.2,977.0 1677.2,977.0 1678.2,977.0 1679.2,977.0 1680.2,977.0 1681.2,977.0 1682.2,977.0 1683.2,977.0 1684.2,977.0 1685.2,977.0 1686.2,977.0 1687.2,977.0 1688.2,977.0 1689.2,977.0 1690.2,977.0 1691.2,977.0 1692.2,977.0 1693.2,977.0 1694.2,977.0 1695.2,977.0 1696.2,977.0 1697.2,977.0 1698.2,977.0 1699.2,977.0 1700.2,977.0 1701.2,977.0 1702.2,977.0 1703.2,977.1 1704.2,977.1 1705.2,977.1 1706.2,977.1 1707.2,977.1 1708.2,977.1 1709.2,977.1 1710.2,977.1 1711.2,977.1 1712.2,977.1 1713.2,977.1 1714.2,977.1 1715.2,977.1 1716.2,977.1 1717.2,977.1 1718.2,977.1 1719.2,977.1 1720.2,977.1 1721.2,977.1 1722.2,977.1 1723.2,977.1 1724.2,977.1 1725.2,977.1 1726.2,977.1 1727.2,977.1 1728.2,977.1 1729.2,977.1 1730.2,977.1 1731.2,977.1 1732.2,977.1 1733.2,977.1 1734.2,977.1 1735.2,977.1 1736.2,977.1 1737.2,977.1 1738.2,977.1 1739.2,977.1 1740.2,977.1 1741.2,977.1 1742.2,977.1 1743.2,977.1 1744.2,977.1 1745.2,977.1 1746.2,977.1 1747.2,977.1 1748.2,977.1" fill="none" stroke="#00AAEC" stroke-width="3.3" stroke-linejoin="round" stroke-linecap="butt"/>
<polyline points="1009.2,1070.5 1010.2,1070.5 1011.2,1070.5 1012.2,1070.5 1013.2,1070.5 1014.2,1070.5 1015.2,1070.5 1016.2,1070.5 1017.2,1070.5 1018.2,1070.5 1019.2,1070.5 1020.2,1070.5 1021.2,1070.5 1022.2,1070.5 1023.2,1070.5 1024.2,1070.5 1025.2,1070.5 1026.2,1070.5 1027.2,1070.5 1028.2,1070.5 1029.2,1070.5 1030.2,1070.5 1031.2,1070.5 1032.2,1070.5 1033.2,1070.5 1034.2,1070.5 1035.2,1070.5 1036.2,1070.5 1037.2,1070.5 1038.2,1070.5 1039.2,1070.5 1040.2,1070.5 1041.2,1070.5 1042.2,1070.5 1043.2,1070.5 1044.2,1070.5 1045.2,1070.5 1046.2,1070.5 1047.2,1070.5 1048.2,1070.5 1049.2,1070.5 1050.2,1070.5 1051.2,1070.5 1052.2,1070.5 1053.2,1070.5 1054.2,1070.5 1055.2,1070.5 1056.2,1070.5 1057.2,1070.5 1058.2,1070.5 1059.2,1070.5 1060.2,1070.5 1061.2,1070.5 1062.2,1070.5 1063.2,1070.5 1064.2,1070.5 1065.2,1070.5 1066.2,1070.5 1067.2,1070.5 1068.2,1070.5 1069.2,1070.5 1070.2,1070.5 1071.2,1070.5 1072.2,1070.5 1073.2,1070.5 1074.2,1070.6 1075.2,1070.6 1076.2,1070.6 1077.2,1070.6 1078.2,1070.6 1079.2,1070.6 1080.2,1070.6 1081.2,1070.6 1082.2,1070.6 1083.2,1070.6 1084.2,1070.6 1085.2,1070.6 1086.2,1070.6 1087.2,1070.6 1088.2,1070.6 1089.2,1070.6 1090.2,1070.6 1091.2,1070.6 1092.2,1070.6 1093.2,1070.6 1094.2,1070.6 1095.2,1070.6 1096.2,1070.6 1097.2,1070.6 1098.2,1070.6 1099.2,1070.6 1100.2,1070.6 1101.2,1070.6 1102.2,1070.6 1103.2,1070.6 1104.2,1070.6 1105.2,1070.6 1106.2,1070.6 1107.2,1070.6 1108.2,1070.6 1109.2,1070.6 1110.2,1070.6 1111.2,1070.6 1112.2,1070.6 1113.2,1070.6 1114.2,1070.6 1115.2,1070.6 1116.2,1070.6 1117.2,1070.6 1118.2,1070.6 1119.2,1070.6 1120.2,1070.6 1121.2,1070.6 1122.2,1070.6 1123.2,1070.6 1124.2,1070.6 1125.2,1070.6 1126.2,1070.6 1127.2,1070.6 1128.2,1070.6 1129.2,1070.6 1130.2,1070.6 1131.2,1070.6 1132.2,1070.6 1133.2,1070.6 1134.2,1070.6 1135.2,1070.6 1136.2,1070.6 1137.2,1070.6 1138.2,1070.6 1139.2,1070.6 1140.2,1070.6 1141.2,1070.6 1142.2,1070.6 1143.2,1070.6 1144.2,1070.6 1145.2,1070.6 1146.2,1070.6 1147.2,1070.6 1148.2,1070.6 1149.2,1070.6 1150.2,1070.6 1151.2,1070.6 1152.2,1070.6 1153.2,1070.6 1154.2,1070.6 1155.2,1070.6 1156.2,1070.6 1157.2,1070.6 1158.2,1070.6 1159.2,1070.6 1160.2,1070.6 1161.2,1070.6 1162.2,1070.6 1163.2,1070.6 1164.2,1070.6 1165.2,1070.6 1166.2,1070.6 1167.2,1070.6 1168.2,1070.6 1169.2,1070.6 1170.2,1070.6 1171.2,1070.6 1172.2,1070.6 1173.2,1070.6 1174.2,1070.6 1175.2,1070.6 1176.2,1070.6 1177.2,1070.6 1178.2,1070.6 1179.2,1070.6 1180.2,1070.6 1181.2,1070.6 1182.2,1070.6 1183.2,1070.7 1184.2,1070.7 1185.2,1070.7 1186.2,1070.7 1187.2,1070.7 1188.2,1070.7 1189.2,1070.7 1190.2,1070.7 1191.2,1070.7 1192.2,1070.7 1193.2,1070.7 1194.2,1070.7 1195.2,1070.7 1196.2,1070.7 1197.2,1070.7 1198.2,1070.7 1199.2,1070.7 1200.2,1070.7 1201.2,1070.7 1202.2,1070.7 1203.2,1070.7 1204.2,1070.7 1205.2,1070.7 1206.2,1070.7 1207.2,1070.7 1208.2,1070.7 1209.2,1070.7 1210.2,1070.7 1211.2,1070.7 1212.2,1070.7 1213.2,1070.7 1214.2,1070.7 1215.2,1070.7 1216.2,1070.7 1217.2,1070.7 1218.2,1070.7 1219.2,1070.7 1220.2,1070.7 1221.2,1070.7 1222.2,1070.7 1223.2,1070.7 1224.2,1070.7 1225.2,1070.6 1226.2,1070.6 1227.2,1070.6 1228.2,1070.6 1229.2,1070.6 1230.2,1070.6 1231.2,1070.5 1232.2,1070.5 1233.2,1070.4 1234.2,1070.4 1235.2,1070.3 1236.2,1070.2 1237.2,1070.1 1238.2,1069.9 1239.2,1069.8 1240.2,1069.6 1241.2,1069.5 1242.2,1069.3 1243.2,1069.1 1244.2,1068.9 1245.2,1068.7 1246.2,1068.5 1247.2,1068.3 1248.2,1068.2 1249.2,1068.0 1250.2,1067.9 1251.2,1067.7 1252.2,1067.6 1253.2,1067.5 1254.2,1067.4 1255.2,1067.2 1256.2,1067.1 1257.2,1067.0 1258.2,1066.8 1259.2,1066.7 1260.2,1066.5 1261.2,1066.3 1262.2,1066.1 1263.2,1065.9 1264.2,1065.6 1265.2,1065.3 1266.2,1064.9 1267.2,1064.5 1268.2,1064.1 1269.2,1063.6 1270.2,1063.0 1271.2,1062.4 1272.2,1061.7 1273.2,1060.9 1274.2,1060.0 1275.2,1059.1 1276.2,1058.1 1277.2,1057.1 1278.2,1056.0 1279.2,1054.8 1280.2,1053.6 1281.2,1052.4 1282.2,1051.1 1283.2,1049.8 1284.2,1048.5 1285.2,1047.1 1286.2,1045.8 1287.2,1044.4 1288.2,1043.0 1289.2,1041.7 1290.2,1040.3 1291.2,1038.9 1292.2,1037.6 1293.2,1036.3 1294.2,1035.1 1295.2,1033.8 1296.2,1032.7 1297.2,1031.6 1298.2,1030.6 1299.2,1029.7 1300.2,1028.8 1301.2,1028.0 1302.2,1027.3 1303.2,1026.6 1304.2,1026.1 1305.2,1025.6 1306.2,1025.1 1307.2,1024.7 1308.2,1024.4 1309.2,1024.1 1310.2,1023.9 1311.2,1023.8 1312.2,1023.6 1313.2,1023.6 1314.2,1023.5 1315.2,1023.5 1316.2,1023.6 1317.2,1023.7 1318.2,1023.8 1319.2,1023.9 1320.2,1024.1 1321.2,1024.3 1322.2,1024.6 1323.2,1024.8 1324.2,1025.1 1325.2,1025.4 1326.2,1025.8 1327.2,1026.1 1328.2,1026.5 1329.2,1026.9 1330.2,1027.3 1331.2,1027.7 1332.2,1028.1 1333.2,1028.6 1334.2,1029.0 1335.2,1029.5 1336.2,1029.9 1337.2,1030.4 1338.2,1030.8 1339.2,1031.3 1340.2,1031.7 1341.2,1032.1 1342.2,1032.6 1343.2,1033.0 1344.2,1033.5 1345.2,1033.9 1346.2,1034.3 1347.2,1034.7 1348.2,1035.2 1349.2,1035.6 1350.2,1036.0 1351.2,1036.4 1352.2,1036.8 1353.2,1037.3 1354.2,1037.7 1355.2,1038.2 1356.2,1038.6 1357.2,1039.1 1358.2,1039.5 1359.2,1040.0 1360.2,1040.5 1361.2,1041.0 1362.2,1041.4 1363.2,1041.9 1364.2,1042.4 1365.2,1042.8 1366.2,1043.3 1367.2,1043.8 1368.2,1044.2 1369.2,1044.7 1370.2,1045.1 1371.2,1045.5 1372.2,1046.0 1373.2,1046.4 1374.2,1046.8 1375.2,1047.2 1376.2,1047.6 1377.2,1048.0 1378.2,1048.4 1379.2,1048.8 1380.2,1049.2 1381.2,1049.5 1382.2,1049.9 1383.2,1050.2 1384.2,1050.6 1385.2,1050.9 1386.2,1051.2 1387.2,1051.5 1388.2,1051.9 1389.2,1052.2 1390.2,1052.5 1391.2,1052.8 1392.2,1053.0 1393.2,1053.3 1394.2,1053.6 1395.2,1053.9 1396.2,1054.2 1397.2,1054.4 1398.2,1054.7 1399.2,1055.0 1400.2,1055.2 1401.2,1055.5 1402.2,1055.7 1403.2,1056.0 1404.2,1056.2 1405.2,1056.5 1406.2,1056.7 1407.2,1057.0 1408.2,1057.3 1409.2,1057.5 1410.2,1057.8 1411.2,1058.0 1412.2,1058.3 1413.2,1058.5 1414.2,1058.8 1415.2,1059.0 1416.2,1059.3 1417.2,1059.5 1418.2,1059.8 1419.2,1060.0 1420.2,1060.2 1421.2,1060.4 1422.2,1060.6 1423.2,1060.8 1424.2,1061.0 1425.2,1061.2 1426.2,1061.3 1427.2,1061.5 1428.2,1061.7 1429.2,1061.8 1430.2,1061.9 1431.2,1062.1 1432.2,1062.2 1433.2,1062.4 1434.2,1062.5 1435.2,1062.6 1436.2,1062.8 1437.2,1062.9 1438.2,1063.0 1439.2,1063.1 1440.2,1063.3 1441.2,1063.4 1442.2,1063.5 1443.2,1063.6 1444.2,1063.7 1445.2,1063.8 1446.2,1063.9 1447.2,1064.0 1448.2,1064.2 1449.2,1064.3 1450.2,1064.4 1451.2,1064.5 1452.2,1064.6 1453.2,1064.7 1454.2,1064.8 1455.2,1064.9 1456.2,1065.0 1457.2,1065.0 1458.2,1065.1 1459.2,1065.2 1460.2,1065.3 1461.2,1065.4 1462.2,1065.5 1463.2,1065.6 1464.2,1065.7 1465.2,1065.7 1466.2,1065.8 1467.2,1065.9 1468.2,1066.0 1469.2,1066.1 1470.2,1066.1 1471.2,1066.2 1472.2,1066.3 1473.2,1066.4 1474.2,1066.4 1475.2,1066.5 1476.2,1066.6 1477.2,1066.6 1478.2,1066.7 1479.2,1066.8 1480.2,1066.8 1481.2,1066.9 1482.2,1067.0 1483.2,1067.0 1484.2,1067.1 1485.2,1067.1 1486.2,1067.2 1487.2,1067.3 1488.2,1067.3 1489.2,1067.4 1490.2,1067.4 1491.2,1067.5 1492.2,1067.5 1493.2,1067.6 1494.2,1067.6 1495.2,1067.7 1496.2,1067.8 1497.2,1067.8 1498.2,1067.9 1499.2,1067.9 1500.2,1067.9 1501.2,1068.0 1502.2,1068.0 1503.2,1068.1 1504.2,1068.1 1505.2,1068.2 1506.2,1068.2 1507.2,1068.3 1508.2,1068.3 1509.2,1068.3 1510.2,1068.4 1511.2,1068.4 1512.2,1068.5 1513.2,1068.5 1514.2,1068.5 1515.2,1068.6 1516.2,1068.6 1517.2,1068.7 1518.2,1068.7 1519.2,1068.7 1520.2,1068.8 1521.2,1068.8 1522.2,1068.8 1523.2,1068.9 1524.2,1068.9 1525.2,1068.9 1526.2,1069.0 1527.2,1069.0 1528.2,1069.0 1529.2,1069.1 1530.2,1069.1 1531.2,1069.1 1532.2,1069.2 1533.2,1069.2 1534.2,1069.2 1535.2,1069.2 1536.2,1069.3 1537.2,1069.3 1538.2,1069.3 1539.2,1069.3 1540.2,1069.4 1541.2,1069.4 1542.2,1069.4 1543.2,1069.5 1544.2,1069.5 1545.2,1069.5 1546.2,1069.5 1547.2,1069.5 1548.2,1069.6 1549.2,1069.6 1550.2,1069.6 1551.2,1069.6 1552.2,1069.7 1553.2,1069.7 1554.2,1069.7 1555.2,1069.7 1556.2,1069.7 1557.2,1069.8 1558.2,1069.8 1559.2,1069.8 1560.2,1069.8 1561.2,1069.8 1562.2,1069.9 1563.2,1069.9 1564.2,1069.9 1565.2,1069.9 1566.2,1069.9 1567.2,1070.0 1568.2,1070.0 1569.2,1070.0 1570.2,1070.0 1571.2,1070.0 1572.2,1070.0 1573.2,1070.1 1574.2,1070.1 1575.2,1070.1 1576.2,1070.1 1577.2,1070.1 1578.2,1070.1 1579.2,1070.1 1580.2,1070.2 1581.2,1070.2 1582.2,1070.2 1583.2,1070.2 1584.2,1070.2 1585.2,1070.2 1586.2,1070.2 1587.2,1070.3 1588.2,1070.3 1589.2,1070.3 1590.2,1070.3 1591.2,1070.3 1592.2,1070.3 1593.2,1070.3 1594.2,1070.3 1595.2,1070.4 1596.2,1070.4 1597.2,1070.4 1598.2,1070.4 1599.2,1070.4 1600.2,1070.4 1601.2,1070.4 1602.2,1070.4 1603.2,1070.4 1604.2,1070.4 1605.2,1070.5 1606.2,1070.5 1607.2,1070.5 1608.2,1070.5 1609.2,1070.5 1610.2,1070.5 1611.2,1070.5 1612.2,1070.5 1613.2,1070.5 1614.2,1070.5 1615.2,1070.6 1616.2,1070.6 1617.2,1070.6 1618.2,1070.6 1619.2,1070.6 1620.2,1070.6 1621.2,1070.6 1622.2,1070.6 1623.2,1070.6 1624.2,1070.6 1625.2,1070.6 1626.2,1070.6 1627.2,1070.6 1628.2,1070.7 1629.2,1070.7 1630.2,1070.7 1631.2,1070.7 1632.2,1070.7 1633.2,1070.7 1634.2,1070.7 1635.2,1070.7 1636.2,1070.7 1637.2,1070.7 1638.2,1070.7 1639.2,1070.7 1640.2,1070.7 1641.2,1070.7 1642.2,1070.7 1643.2,1070.8 1644.2,1070.8 1645.2,1070.8 1646.2,1070.8 1647.2,1070.8 1648.2,1070.8 1649.2,1070.8 1650.2,1070.8 1651.2,1070.8 1652.2,1070.8 1653.2,1070.8 1654.2,1070.8 1655.2,1070.8 1656.2,1070.8 1657.2,1070.8 1658.2,1070.8 1659.2,1070.8 1660.2,1070.8 1661.2,1070.8 1662.2,1070.9 1663.2,1070.9 1664.2,1070.9 1665.2,1070.9 1666.2,1070.9 1667.2,1070.9 1668.2,1070.9 1669.2,1070.9 1670.2,1070.9 1671.2,1070.9 1672.2,1070.9 1673.2,1070.9 1674.2,1070.9 1675.2,1070.9 1676.2,1070.9 1677.2,1070.9 1678.2,1070.9 1679.2,1070.9 1680.2,1070.9 1681.2,1070.9 1682.2,1070.9 1683.2,1070.9 1684.2,1070.9 1685.2,1070.9 1686.2,1071.0 1687.2,1071.0 1688.2,1071.0 1689.2,1071.0 1690.2,1071.0 1691.2,1071.0 1692.2,1071.0 1693.2,1071.0 1694.2,1071.0 1695.2,1071.0 1696.2,1071.0 1697.2,1071.0 1698.2,1071.0 1699.2,1071.0 1700.2,1071.0 1701.2,1071.0 1702.2,1071.0 1703.2,1071.0 1704.2,1071.0 1705.2,1071.0 1706.2,1071.0 1707.2,1071.0 1708.2,1071.0 1709.2,1071.0 1710.2,1071.0 1711.2,1071.0 1712.2,1071.0 1713.2,1071.0 1714.2,1071.0 1715.2,1071.0 1716.2,1071.0 1717.2,1071.0 1718.2,1071.0 1719.2,1071.0 1720.2,1071.1 1721.2,1071.1 1722.2,1071.1 1723.2,1071.1 1724.2,1071.1 1725.2,1071.1 1726.2,1071.1 1727.2,1071.1 1728.2,1071.1 1729.2,1071.1 1730.2,1071.1 1731.2,1071.1 1732.2,1071.1 1733.2,1071.1 1734.2,1071.1 1735.2,1071.1 1736.2,1071.1 1737.2,1071.1 1738.2,1071.1 1739.2,1071.1 1740.2,1071.1 1741.2,1071.1 1742.2,1071.1 1743.2,1071.1 1744.2,1071.1 1745.2,1071.1 1746.2,1071.1 1747.2,1071.1 1748.2,1071.1" fill="none" stroke="#000" stroke-width="3.3" stroke-linejoin="round" stroke-linecap="butt"/>
<polyline points="1009.2,1069.9 1010.2,1069.9 1011.2,1069.9 1012.2,1069.9 1013.2,1069.9 1014.2,1069.9 1015.2,1069.9 1016.2,1069.9 1017.2,1069.9 1018.2,1069.9 1019.2,1069.9 1020.2,1069.9 1021.2,1069.9 1022.2,1069.9 1023.2,1069.9 1024.2,1069.9 1025.2,1069.9 1026.2,1069.9 1027.2,1069.9 1028.2,1069.9 1029.2,1069.9 1030.2,1069.9 1031.2,1069.9 1032.2,1069.9 1033.2,1069.9 1034.2,1069.9 1035.2,1069.9 1036.2,1069.9 1037.2,1069.9 1038.2,1069.9 1039.2,1069.9 1040.2,1069.9 1041.2,1069.9 1042.2,1069.9 1043.2,1069.9 1044.2,1069.9 1045.2,1069.9 1046.2,1069.9 1047.2,1069.9 1048.2,1069.9 1049.2,1069.9 1050.2,1069.9 1051.2,1069.9 1052.2,1069.9 1053.2,1069.9 1054.2,1069.9 1055.2,1069.9 1056.2,1069.9 1057.2,1069.9 1058.2,1069.9 1059.2,1070.0 1060.2,1070.0 1061.2,1070.0 1062.2,1070.0 1063.2,1070.0 1064.2,1070.0 1065.2,1070.0 1066.2,1070.0 1067.2,1070.0 1068.2,1070.0 1069.2,1070.0 1070.2,1070.0 1071.2,1070.0 1072.2,1070.0 1073.2,1070.0 1074.2,1070.0 1075.2,1070.0 1076.2,1070.0 1077.2,1070.0 1078.2,1070.0 1079.2,1070.0 1080.2,1070.0 1081.2,1070.0 1082.2,1070.0 1083.2,1070.0 1084.2,1070.0 1085.2,1070.0 1086.2,1070.0 1087.2,1070.0 1088.2,1070.0 1089.2,1070.0 1090.2,1070.0 1091.2,1070.0 1092.2,1070.0 1093.2,1070.0 1094.2,1070.0 1095.2,1070.0 1096.2,1070.0 1097.2,1070.0 1098.2,1070.0 1099.2,1070.0 1100.2,1070.0 1101.2,1070.0 1102.2,1070.0 1103.2,1070.0 1104.2,1070.0 1105.2,1070.0 1106.2,1070.0 1107.2,1070.0 1108.2,1070.0 1109.2,1070.0 1110.2,1070.0 1111.2,1069.9 1112.2,1069.9 1113.2,1069.9 1114.2,1069.9 1115.2,1069.9 1116.2,1069.9 1117.2,1069.9 1118.2,1069.8 1119.2,1069.8 1120.2,1069.8 1121.2,1069.7 1122.2,1069.7 1123.2,1069.6 1124.2,1069.6 1125.2,1069.5 1126.2,1069.4 1127.2,1069.3 1128.2,1069.2 1129.2,1069.1 1130.2,1069.0 1131.2,1068.9 1132.2,1068.7 1133.2,1068.6 1134.2,1068.4 1135.2,1068.2 1136.2,1068.0 1137.2,1067.8 1138.2,1067.6 1139.2,1067.3 1140.2,1067.1 1141.2,1066.8 1142.2,1066.5 1143.2,1066.2 1144.2,1065.9 1145.2,1065.5 1146.2,1065.2 1147.2,1064.8 1148.2,1064.4 1149.2,1063.9 1150.2,1063.5 1151.2,1062.9 1152.2,1062.4 1153.2,1061.8 1154.2,1061.1 1155.2,1060.4 1156.2,1059.7 1157.2,1058.9 1158.2,1058.0 1159.2,1057.1 1160.2,1056.2 1161.2,1055.2 1162.2,1054.2 1163.2,1053.1 1164.2,1052.0 1165.2,1050.8 1166.2,1049.7 1167.2,1048.4 1168.2,1047.2 1169.2,1045.9 1170.2,1044.7 1171.2,1043.4 1172.2,1042.1 1173.2,1040.8 1174.2,1039.6 1175.2,1038.3 1176.2,1037.1 1177.2,1035.9 1178.2,1034.8 1179.2,1033.7 1180.2,1032.6 1181.2,1031.6 1182.2,1030.7 1183.2,1029.8 1184.2,1028.9 1185.2,1028.1 1186.2,1027.4 1187.2,1026.7 1188.2,1026.1 1189.2,1025.5 1190.2,1025.1 1191.2,1024.6 1192.2,1024.3 1193.2,1024.0 1194.2,1023.7 1195.2,1023.6 1196.2,1023.5 1197.2,1023.4 1198.2,1023.4 1199.2,1023.5 1200.2,1023.6 1201.2,1023.8 1202.2,1024.1 1203.2,1024.3 1204.2,1024.7 1205.2,1025.1 1206.2,1025.5 1207.2,1026.0 1208.2,1026.5 1209.2,1027.0 1210.2,1027.6 1211.2,1028.2 1212.2,1028.9 1213.2,1029.6 1214.2,1030.3 1215.2,1031.0 1216.2,1031.7 1217.2,1032.5 1218.2,1033.2 1219.2,1034.0 1220.2,1034.7 1221.2,1035.5 1222.2,1036.3 1223.2,1037.1 1224.2,1037.9 1225.2,1038.7 1226.2,1039.5 1227.2,1040.3 1228.2,1041.1 1229.2,1041.9 1230.2,1042.7 1231.2,1043.5 1232.2,1044.3 1233.2,1045.1 1234.2,1045.8 1235.2,1046.6 1236.2,1047.4 1237.2,1048.1 1238.2,1048.8 1239.2,1049.5 1240.2,1050.2 1241.2,1050.9 1242.2,1051.5 1243.2,1052.1 1244.2,1052.7 1245.2,1053.3 1246.2,1053.8 1247.2,1054.3 1248.2,1054.8 1249.2,1055.3 1250.2,1055.8 1251.2,1056.2 1252.2,1056.7 1253.2,1057.1 1254.2,1057.5 1255.2,1057.9 1256.2,1058.3 1257.2,1058.8 1258.2,1059.2 1259.2,1059.6 1260.2,1060.0 1261.2,1060.4 1262.2,1060.7 1263.2,1061.1 1264.2,1061.4 1265.2,1061.8 1266.2,1062.1 1267.2,1062.4 1268.2,1062.6 1269.2,1062.9 1270.2,1063.1 1271.2,1063.3 1272.2,1063.5 1273.2,1063.7 1274.2,1063.9 1275.2,1064.1 1276.2,1064.3 1277.2,1064.5 1278.2,1064.6 1279.2,1064.8 1280.2,1065.0 1281.2,1065.1 1282.2,1065.3 1283.2,1065.5 1284.2,1065.6 1285.2,1065.8 1286.2,1065.9 1287.2,1066.1 1288.2,1066.2 1289.2,1066.4 1290.2,1066.5 1291.2,1066.7 1292.2,1066.8 1293.2,1066.9 1294.2,1067.0 1295.2,1067.1 1296.2,1067.2 1297.2,1067.3 1298.2,1067.4 1299.2,1067.5 1300.2,1067.6 1301.2,1067.7 1302.2,1067.7 1303.2,1067.8 1304.2,1067.9 1305.2,1068.0 1306.2,1068.0 1307.2,1068.1 1308.2,1068.2 1309.2,1068.3 1310.2,1068.3 1311.2,1068.4 1312.2,1068.4 1313.2,1068.5 1314.2,1068.6 1315.2,1068.6 1316.2,1068.7 1317.2,1068.7 1318.2,1068.8 1319.2,1068.8 1320.2,1068.9 1321.2,1068.9 1322.2,1068.9 1323.2,1069.0 1324.2,1069.0 1325.2,1069.1 1326.2,1069.1 1327.2,1069.1 1328.2,1069.2 1329.2,1069.2 1330.2,1069.3 1331.2,1069.3 1332.2,1069.3 1333.2,1069.4 1334.2,1069.4 1335.2,1069.4 1336.2,1069.4 1337.2,1069.5 1338.2,1069.5 1339.2,1069.5 1340.2,1069.5 1341.2,1069.6 1342.2,1069.6 1343.2,1069.6 1344.2,1069.6 1345.2,1069.7 1346.2,1069.7 1347.2,1069.7 1348.2,1069.7 1349.2,1069.7 1350.2,1069.8 1351.2,1069.8 1352.2,1069.8 1353.2,1069.8 1354.2,1069.8 1355.2,1069.8 1356.2,1069.9 1357.2,1069.9 1358.2,1069.9 1359.2,1069.9 1360.2,1069.9 1361.2,1069.9 1362.2,1069.9 1363.2,1070.0 1364.2,1070.0 1365.2,1070.0 1366.2,1070.0 1367.2,1070.0 1368.2,1070.0 1369.2,1070.0 1370.2,1070.0 1371.2,1070.0 1372.2,1070.0 1373.2,1070.1 1374.2,1070.1 1375.2,1070.1 1376.2,1070.1 1377.2,1070.1 1378.2,1070.1 1379.2,1070.1 1380.2,1070.1 1381.2,1070.1 1382.2,1070.1 1383.2,1070.1 1384.2,1070.1 1385.2,1070.2 1386.2,1070.2 1387.2,1070.2 1388.2,1070.2 1389.2,1070.2 1390.2,1070.2 1391.2,1070.2 1392.2,1070.2 1393.2,1070.2 1394.2,1070.2 1395.2,1070.2 1396.2,1070.2 1397.2,1070.2 1398.2,1070.2 1399.2,1070.2 1400.2,1070.2 1401.2,1070.2 1402.2,1070.2 1403.2,1070.2 1404.2,1070.2 1405.2,1070.3 1406.2,1070.3 1407.2,1070.3 1408.2,1070.3 1409.2,1070.3 1410.2,1070.3 1411.2,1070.3 1412.2,1070.3 1413.2,1070.3 1414.2,1070.3 1415.2,1070.3 1416.2,1070.3 1417.2,1070.3 1418.2,1070.3 1419.2,1070.3 1420.2,1070.3 1421.2,1070.3 1422.2,1070.3 1423.2,1070.3 1424.2,1070.3 1425.2,1070.3 1426.2,1070.3 1427.2,1070.3 1428.2,1070.3 1429.2,1070.3 1430.2,1070.3 1431.2,1070.3 1432.2,1070.3 1433.2,1070.3 1434.2,1070.3 1435.2,1070.3 1436.2,1070.3 1437.2,1070.3 1438.2,1070.3 1439.2,1070.3 1440.2,1070.4 1441.2,1070.4 1442.2,1070.4 1443.2,1070.4 1444.2,1070.4 1445.2,1070.4 1446.2,1070.4 1447.2,1070.4 1448.2,1070.4 1449.2,1070.4 1450.2,1070.4 1451.2,1070.4 1452.2,1070.4 1453.2,1070.4 1454.2,1070.4 1455.2,1070.4 1456.2,1070.4 1457.2,1070.4 1458.2,1070.4 1459.2,1070.4 1460.2,1070.4 1461.2,1070.4 1462.2,1070.4 1463.2,1070.4 1464.2,1070.4 1465.2,1070.4 1466.2,1070.4 1467.2,1070.4 1468.2,1070.4 1469.2,1070.4 1470.2,1070.4 1471.2,1070.4 1472.2,1070.4 1473.2,1070.4 1474.2,1070.4 1475.2,1070.4 1476.2,1070.4 1477.2,1070.4 1478.2,1070.4 1479.2,1070.4 1480.2,1070.4 1481.2,1070.4 1482.2,1070.4 1483.2,1070.4 1484.2,1070.4 1485.2,1070.4 1486.2,1070.4 1487.2,1070.4 1488.2,1070.4 1489.2,1070.4 1490.2,1070.4 1491.2,1070.4 1492.2,1070.4 1493.2,1070.4 1494.2,1070.4 1495.2,1070.4 1496.2,1070.4 1497.2,1070.4 1498.2,1070.4 1499.2,1070.4 1500.2,1070.4 1501.2,1070.4 1502.2,1070.4 1503.2,1070.4 1504.2,1070.4 1505.2,1070.4 1506.2,1070.5 1507.2,1070.5 1508.2,1070.5 1509.2,1070.5 1510.2,1070.5 1511.2,1070.5 1512.2,1070.5 1513.2,1070.5 1514.2,1070.5 1515.2,1070.5 1516.2,1070.5 1517.2,1070.5 1518.2,1070.5 1519.2,1070.5 1520.2,1070.5 1521.2,1070.5 1522.2,1070.5 1523.2,1070.5 1524.2,1070.5 1525.2,1070.5 1526.2,1070.5 1527.2,1070.5 1528.2,1070.5 1529.2,1070.5 1530.2,1070.5 1531.2,1070.5 1532.2,1070.5 1533.2,1070.5 1534.2,1070.5 1535.2,1070.5 1536.2,1070.5 1537.2,1070.5 1538.2,1070.5 1539.2,1070.5 1540.2,1070.5 1541.2,1070.5 1542.2,1070.5 1543.2,1070.5 1544.2,1070.5 1545.2,1070.5 1546.2,1070.5 1547.2,1070.5 1548.2,1070.5 1549.2,1070.5 1550.2,1070.5 1551.2,1070.5 1552.2,1070.5 1553.2,1070.5 1554.2,1070.5 1555.2,1070.5 1556.2,1070.5 1557.2,1070.5 1558.2,1070.5 1559.2,1070.5 1560.2,1070.5 1561.2,1070.5 1562.2,1070.5 1563.2,1070.5 1564.2,1070.5 1565.2,1070.5 1566.2,1070.5 1567.2,1070.5 1568.2,1070.5 1569.2,1070.5 1570.2,1070.5 1571.2,1070.5 1572.2,1070.5 1573.2,1070.5 1574.2,1070.5 1575.2,1070.5 1576.2,1070.5 1577.2,1070.5 1578.2,1070.5 1579.2,1070.5 1580.2,1070.5 1581.2,1070.5 1582.2,1070.5 1583.2,1070.5 1584.2,1070.5 1585.2,1070.5 1586.2,1070.5 1587.2,1070.5 1588.2,1070.5 1589.2,1070.5 1590.2,1070.5 1591.2,1070.5 1592.2,1070.5 1593.2,1070.6 1594.2,1070.6 1595.2,1070.6 1596.2,1070.6 1597.2,1070.6 1598.2,1070.6 1599.2,1070.6 1600.2,1070.6 1601.2,1070.6 1602.2,1070.6 1603.2,1070.6 1604.2,1070.6 1605.2,1070.6 1606.2,1070.6 1607.2,1070.6 1608.2,1070.6 1609.2,1070.6 1610.2,1070.6 1611.2,1070.6 1612.2,1070.6 1613.2,1070.6 1614.2,1070.6 1615.2,1070.6 1616.2,1070.6 1617.2,1070.6 1618.2,1070.6 1619.2,1070.6 1620.2,1070.6 1621.2,1070.6 1622.2,1070.6 1623.2,1070.6 1624.2,1070.6 1625.2,1070.6 1626.2,1070.6 1627.2,1070.6 1628.2,1070.6 1629.2,1070.6 1630.2,1070.6 1631.2,1070.6 1632.2,1070.6 1633.2,1070.6 1634.2,1070.6 1635.2,1070.6 1636.2,1070.6 1637.2,1070.6 1638.2,1070.6 1639.2,1070.6 1640.2,1070.6 1641.2,1070.6 1642.2,1070.6 1643.2,1070.6 1644.2,1070.6 1645.2,1070.6 1646.2,1070.6 1647.2,1070.6 1648.2,1070.6 1649.2,1070.6 1650.2,1070.6 1651.2,1070.6 1652.2,1070.6 1653.2,1070.6 1654.2,1070.6 1655.2,1070.6 1656.2,1070.6 1657.2,1070.6 1658.2,1070.6 1659.2,1070.6 1660.2,1070.6 1661.2,1070.6 1662.2,1070.6 1663.2,1070.6 1664.2,1070.6 1665.2,1070.6 1666.2,1070.6 1667.2,1070.6 1668.2,1070.6 1669.2,1070.6 1670.2,1070.6 1671.2,1070.6 1672.2,1070.6 1673.2,1070.6 1674.2,1070.6 1675.2,1070.6 1676.2,1070.6 1677.2,1070.6 1678.2,1070.6 1679.2,1070.6 1680.2,1070.6 1681.2,1070.7 1682.2,1070.7 1683.2,1070.7 1684.2,1070.7 1685.2,1070.7 1686.2,1070.7 1687.2,1070.7 1688.2,1070.7 1689.2,1070.7 1690.2,1070.7 1691.2,1070.7 1692.2,1070.7 1693.2,1070.7 1694.2,1070.7 1695.2,1070.7 1696.2,1070.7 1697.2,1070.7 1698.2,1070.7 1699.2,1070.7 1700.2,1070.7 1701.2,1070.7 1702.2,1070.7 1703.2,1070.7 1704.2,1070.7 1705.2,1070.7 1706.2,1070.7 1707.2,1070.7 1708.2,1070.7 1709.2,1070.7 1710.2,1070.7 1711.2,1070.7 1712.2,1070.7 1713.2,1070.7 1714.2,1070.7 1715.2,1070.7 1716.2,1070.7 1717.2,1070.7 1718.2,1070.7 1719.2,1070.7 1720.2,1070.7 1721.2,1070.7 1722.2,1070.7 1723.2,1070.7 1724.2,1070.7 1725.2,1070.7 1726.2,1070.7 1727.2,1070.7 1728.2,1070.7 1729.2,1070.7 1730.2,1070.7 1731.2,1070.7 1732.2,1070.7 1733.2,1070.7 1734.2,1070.7 1735.2,1070.7 1736.2,1070.7 1737.2,1070.7 1738.2,1070.7 1739.2,1070.7 1740.2,1070.7 1741.2,1070.7 1742.2,1070.7 1743.2,1070.7 1744.2,1070.7 1745.2,1070.7 1746.2,1070.7 1747.2,1070.7 1748.2,1070.7" fill="none" stroke="#00AAEC" stroke-width="3.3" stroke-linejoin="round" stroke-linecap="butt"/>
<line x1="1210.90" y1="638.70" x2="1210.90" y2="1070.80" stroke="#00AAEC" stroke-width="3.3" stroke-dasharray="11.1 17.5" stroke-dashoffset="1.9" stroke-linecap="round"/>
<line x1="1378.20" y1="638.70" x2="1378.20" y2="1070.80" stroke="#000" stroke-width="3.3" stroke-dasharray="11.1 17.5" stroke-dashoffset="1.9" stroke-linecap="round"/>
<text x="0" y="0" transform="translate(850.85,685.10) scale(1.0000,1.0500)" font-size="44" font-weight="bold">PZ</text>
<text x="0" y="0" transform="translate(812.88,782.00) scale(1.0000,1.0500)" font-size="44" font-weight="bold">L201A</text>
<text x="0" y="0" transform="translate(812.88,878.70) scale(1.0000,1.0500)" font-size="44" font-weight="bold">L208A</text>
<text x="0" y="0" transform="translate(812.88,974.30) scale(1.0000,1.0500)" font-size="44" font-weight="bold">L212A</text>
<text x="0" y="0" transform="translate(826.50,1070.50) scale(1.0000,1.0500)" font-size="44" font-weight="bold">triple</text>
<text x="0" y="0" transform="translate(59.80,1281.00) scale(1.0390,1.0200)" font-size="44.5" font-weight="bold">(e)</text>
<text x="0" y="0" transform="translate(1175.92,1281.00) scale(1.0269,1.0200)" font-size="44.5" font-weight="bold">(f)</text>
<rect x="235.3" y="1300.4" width="810.0" height="575.9" fill="none" stroke="#000" stroke-width="2"/>
<line x1="351.01" y1="1876.30" x2="351.01" y2="1867.70" stroke="#000" stroke-width="2"/>
<line x1="466.73" y1="1876.30" x2="466.73" y2="1867.70" stroke="#000" stroke-width="2"/>
<line x1="582.44" y1="1876.30" x2="582.44" y2="1867.70" stroke="#000" stroke-width="2"/>
<line x1="698.16" y1="1876.30" x2="698.16" y2="1867.70" stroke="#000" stroke-width="2"/>
<line x1="813.87" y1="1876.30" x2="813.87" y2="1867.70" stroke="#000" stroke-width="2"/>
<line x1="929.59" y1="1876.30" x2="929.59" y2="1867.70" stroke="#000" stroke-width="2"/>
<text x="0" y="0" transform="translate(226.01,1917.80) scale(1.0000,1.0500)" font-size="33.5" font-weight="bold">0</text>
<text x="0" y="0" transform="translate(322.70,1917.80) scale(1.0000,1.0500)" font-size="33.5" font-weight="bold">100</text>
<text x="0" y="0" transform="translate(438.89,1917.80) scale(1.0000,1.0500)" font-size="33.5" font-weight="bold">200</text>
<text x="0" y="0" transform="translate(554.80,1917.80) scale(1.0000,1.0500)" font-size="33.5" font-weight="bold">300</text>
<text x="0" y="0" transform="translate(670.64,1917.80) scale(1.0000,1.0500)" font-size="33.5" font-weight="bold">400</text>
<text x="0" y="0" transform="translate(786.10,1917.80) scale(1.0000,1.0500)" font-size="33.5" font-weight="bold">500</text>
<text x="0" y="0" transform="translate(901.71,1917.80) scale(1.0000,1.0500)" font-size="33.5" font-weight="bold">600</text>
<text x="0" y="0" transform="translate(1017.32,1917.80) scale(1.0000,1.0500)" font-size="33.5" font-weight="bold">700</text>
<rect x="236.30" y="1337.50" width="485.00" height="14.00" fill="#FF0000"/>
<line x1="663.44" y1="1344.50" x2="779.16" y2="1344.50" stroke="#555555" stroke-width="1.6"/>
<line x1="663.44" y1="1338.50" x2="663.44" y2="1350.50" stroke="#555555" stroke-width="1.6"/>
<line x1="779.16" y1="1338.50" x2="779.16" y2="1350.50" stroke="#555555" stroke-width="1.6"/>
<rect x="236.30" y="1366.10" width="461.86" height="14.00" fill="#00B050"/>
<line x1="594.01" y1="1373.10" x2="802.30" y2="1373.10" stroke="#555555" stroke-width="1.6"/>
<line x1="594.01" y1="1367.10" x2="594.01" y2="1379.10" stroke="#555555" stroke-width="1.6"/>
<line x1="802.30" y1="1367.10" x2="802.30" y2="1379.10" stroke="#555555" stroke-width="1.6"/>
<rect x="236.30" y="1451.90" width="186.46" height="14.00" fill="#FF0000"/>
<line x1="325.56" y1="1458.90" x2="519.96" y2="1458.90" stroke="#555555" stroke-width="1.6"/>
<line x1="325.56" y1="1452.90" x2="325.56" y2="1464.90" stroke="#555555" stroke-width="1.6"/>
<line x1="519.96" y1="1452.90" x2="519.96" y2="1464.90" stroke="#555555" stroke-width="1.6"/>
<rect x="236.30" y="1480.50" width="115.87" height="14.00" fill="#00B050"/>
<line x1="327.87" y1="1487.50" x2="376.47" y2="1487.50" stroke="#555555" stroke-width="1.6"/>
<line x1="327.87" y1="1481.50" x2="327.87" y2="1493.50" stroke="#555555" stroke-width="1.6"/>
<line x1="376.47" y1="1481.50" x2="376.47" y2="1493.50" stroke="#555555" stroke-width="1.6"/>
<rect x="236.30" y="1567.10" width="118.19" height="14.00" fill="#FF0000"/>
<line x1="319.77" y1="1574.10" x2="389.20" y2="1574.10" stroke="#555555" stroke-width="1.6"/>
<line x1="319.77" y1="1568.10" x2="319.77" y2="1580.10" stroke="#555555" stroke-width="1.6"/>
<line x1="389.20" y1="1568.10" x2="389.20" y2="1580.10" stroke="#555555" stroke-width="1.6"/>
<rect x="236.30" y="1595.70" width="157.53" height="14.00" fill="#00B050"/>
<line x1="377.63" y1="1602.70" x2="410.03" y2="1602.70" stroke="#555555" stroke-width="1.6"/>
<line x1="377.63" y1="1596.70" x2="377.63" y2="1608.70" stroke="#555555" stroke-width="1.6"/>
<line x1="410.03" y1="1596.70" x2="410.03" y2="1608.70" stroke="#555555" stroke-width="1.6"/>
<rect x="236.30" y="1682.10" width="505.83" height="14.00" fill="#FF0000"/>
<line x1="665.76" y1="1689.10" x2="818.50" y2="1689.10" stroke="#555555" stroke-width="1.6"/>
<line x1="665.76" y1="1683.10" x2="665.76" y2="1695.10" stroke="#555555" stroke-width="1.6"/>
<line x1="818.50" y1="1683.10" x2="818.50" y2="1695.10" stroke="#555555" stroke-width="1.6"/>
<rect x="236.30" y="1710.70" width="475.74" height="14.00" fill="#00B050"/>
<line x1="646.09" y1="1717.70" x2="778.00" y2="1717.70" stroke="#555555" stroke-width="1.6"/>
<line x1="646.09" y1="1711.70" x2="646.09" y2="1723.70" stroke="#555555" stroke-width="1.6"/>
<line x1="778.00" y1="1711.70" x2="778.00" y2="1723.70" stroke="#555555" stroke-width="1.6"/>
<rect x="236.30" y="1797.50" width="214.23" height="14.00" fill="#FF0000"/>
<line x1="437.80" y1="1804.50" x2="463.26" y2="1804.50" stroke="#555555" stroke-width="1.6"/>
<line x1="437.80" y1="1798.50" x2="437.80" y2="1810.50" stroke="#555555" stroke-width="1.6"/>
<line x1="463.26" y1="1798.50" x2="463.26" y2="1810.50" stroke="#555555" stroke-width="1.6"/>
<rect x="236.30" y="1826.10" width="129.76" height="14.00" fill="#00B050"/>
<line x1="324.40" y1="1833.10" x2="407.71" y2="1833.10" stroke="#555555" stroke-width="1.6"/>
<line x1="324.40" y1="1827.10" x2="324.40" y2="1839.10" stroke="#555555" stroke-width="1.6"/>
<line x1="407.71" y1="1827.10" x2="407.71" y2="1839.10" stroke="#555555" stroke-width="1.6"/>
<text x="0" y="0" transform="translate(115.83,1369.00) scale(1.0000,1.0500)" font-size="38" font-weight="bold">wtPZ</text>
<text x="0" y="0" transform="translate(92.45,1483.60) scale(1.0000,1.0500)" font-size="38" font-weight="bold">L201A</text>
<text x="0" y="0" transform="translate(92.45,1599.40) scale(1.0000,1.0500)" font-size="38" font-weight="bold">L208A</text>
<text x="0" y="0" transform="translate(92.45,1714.00) scale(1.0000,1.0500)" font-size="38" font-weight="bold">L212A</text>
<text x="0" y="0" transform="translate(113.90,1828.30) scale(1.0000,1.0500)" font-size="38" font-weight="bold">triple</text>
<text x="0" y="0" transform="translate(492.45,1962.40) scale(0.9528,1.0500)" font-size="39" font-style="italic" font-weight="bold">EC</text>
<text x="0" y="0" transform="translate(543.54,1970.20) scale(0.9310,1.0500)" font-size="28.7" font-style="italic" font-weight="bold">50</text>
<text x="0" y="0" transform="translate(583.25,1962.40) scale(1.0006,1.0500)" font-size="37.5" font-weight="bold">values (nM)</text>
<rect x="1315.5" y="1300.5" width="346.5" height="571.5" fill="none" stroke="#000" stroke-width="2"/>
<line x1="1431.00" y1="1872.00" x2="1431.00" y2="1863.40" stroke="#000" stroke-width="2"/>
<line x1="1546.50" y1="1872.00" x2="1546.50" y2="1863.40" stroke="#000" stroke-width="2"/>
<text x="0" y="0" transform="translate(1306.21,1914.00) scale(1.0000,1.0500)" font-size="33.5" font-weight="bold">0</text>
<text x="0" y="0" transform="translate(1402.69,1914.00) scale(1.0000,1.0500)" font-size="33.5" font-weight="bold">100</text>
<text x="0" y="0" transform="translate(1518.66,1914.00) scale(1.0000,1.0500)" font-size="33.5" font-weight="bold">200</text>
<text x="0" y="0" transform="translate(1634.36,1914.00) scale(1.0000,1.0500)" font-size="33.5" font-weight="bold">300</text>
<rect x="1316.50" y="1336.80" width="44.05" height="13.60" fill="#FF0000"/>
<line x1="1359.39" y1="1343.60" x2="1361.70" y2="1343.60" stroke="#555555" stroke-width="1.6"/>
<line x1="1359.39" y1="1337.60" x2="1359.39" y2="1349.60" stroke="#555555" stroke-width="1.6"/>
<line x1="1361.70" y1="1337.60" x2="1361.70" y2="1349.60" stroke="#555555" stroke-width="1.6"/>
<rect x="1316.50" y="1365.60" width="56.75" height="13.60" fill="#00B050"/>
<line x1="1367.47" y1="1372.40" x2="1379.03" y2="1372.40" stroke="#555555" stroke-width="1.6"/>
<line x1="1367.47" y1="1366.40" x2="1367.47" y2="1378.40" stroke="#555555" stroke-width="1.6"/>
<line x1="1379.03" y1="1366.40" x2="1379.03" y2="1378.40" stroke="#555555" stroke-width="1.6"/>
<rect x="1316.50" y="1451.20" width="27.88" height="13.60" fill="#FF0000"/>
<line x1="1339.76" y1="1458.00" x2="1348.99" y2="1458.00" stroke="#555555" stroke-width="1.6"/>
<line x1="1339.76" y1="1452.00" x2="1339.76" y2="1464.00" stroke="#555555" stroke-width="1.6"/>
<line x1="1348.99" y1="1452.00" x2="1348.99" y2="1464.00" stroke="#555555" stroke-width="1.6"/>
<rect x="1316.50" y="1479.60" width="17.48" height="13.60" fill="#00B050"/>
<line x1="1331.67" y1="1486.40" x2="1336.29" y2="1486.40" stroke="#555555" stroke-width="1.6"/>
<line x1="1331.67" y1="1480.40" x2="1331.67" y2="1492.40" stroke="#555555" stroke-width="1.6"/>
<line x1="1336.29" y1="1480.40" x2="1336.29" y2="1492.40" stroke="#555555" stroke-width="1.6"/>
<rect x="1316.50" y="1565.40" width="22.10" height="13.60" fill="#FF0000"/>
<line x1="1321.28" y1="1572.20" x2="1355.92" y2="1572.20" stroke="#555555" stroke-width="1.6"/>
<line x1="1321.28" y1="1566.20" x2="1321.28" y2="1578.20" stroke="#555555" stroke-width="1.6"/>
<line x1="1355.92" y1="1566.20" x2="1355.92" y2="1578.20" stroke="#555555" stroke-width="1.6"/>
<rect x="1316.50" y="1593.90" width="22.10" height="13.60" fill="#00B050"/>
<line x1="1329.36" y1="1600.70" x2="1347.84" y2="1600.70" stroke="#555555" stroke-width="1.6"/>
<line x1="1329.36" y1="1594.70" x2="1329.36" y2="1606.70" stroke="#555555" stroke-width="1.6"/>
<line x1="1347.84" y1="1594.70" x2="1347.84" y2="1606.70" stroke="#555555" stroke-width="1.6"/>
<rect x="1316.50" y="1679.80" width="42.89" height="13.60" fill="#FF0000"/>
<line x1="1345.53" y1="1686.60" x2="1373.25" y2="1686.60" stroke="#555555" stroke-width="1.6"/>
<line x1="1345.53" y1="1680.60" x2="1345.53" y2="1692.60" stroke="#555555" stroke-width="1.6"/>
<line x1="1373.25" y1="1680.60" x2="1373.25" y2="1692.60" stroke="#555555" stroke-width="1.6"/>
<rect x="1316.50" y="1708.00" width="41.73" height="13.60" fill="#00B050"/>
<line x1="1355.92" y1="1714.80" x2="1360.55" y2="1714.80" stroke="#555555" stroke-width="1.6"/>
<line x1="1355.92" y1="1708.80" x2="1355.92" y2="1720.80" stroke="#555555" stroke-width="1.6"/>
<line x1="1360.55" y1="1708.80" x2="1360.55" y2="1720.80" stroke="#555555" stroke-width="1.6"/>
<rect x="1316.50" y="1793.40" width="44.05" height="13.60" fill="#FF0000"/>
<line x1="1344.38" y1="1800.20" x2="1376.71" y2="1800.20" stroke="#555555" stroke-width="1.6"/>
<line x1="1344.38" y1="1794.20" x2="1344.38" y2="1806.20" stroke="#555555" stroke-width="1.6"/>
<line x1="1376.71" y1="1794.20" x2="1376.71" y2="1806.20" stroke="#555555" stroke-width="1.6"/>
<rect x="1316.50" y="1822.50" width="49.82" height="13.60" fill="#00B050"/>
<line x1="1346.68" y1="1829.30" x2="1385.95" y2="1829.30" stroke="#555555" stroke-width="1.6"/>
<line x1="1346.68" y1="1823.30" x2="1346.68" y2="1835.30" stroke="#555555" stroke-width="1.6"/>
<line x1="1385.95" y1="1823.30" x2="1385.95" y2="1835.30" stroke="#555555" stroke-width="1.6"/>
<text x="0" y="0" transform="translate(1196.93,1367.60) scale(1.0000,1.0500)" font-size="38" font-weight="bold">wtPZ</text>
<text x="0" y="0" transform="translate(1173.55,1481.60) scale(1.0000,1.0500)" font-size="38" font-weight="bold">L201A</text>
<text x="0" y="0" transform="translate(1173.55,1596.30) scale(1.0000,1.0500)" font-size="38" font-weight="bold">L208A</text>
<text x="0" y="0" transform="translate(1173.55,1710.30) scale(1.0000,1.0500)" font-size="38" font-weight="bold">L212A</text>
<text x="0" y="0" transform="translate(1195.00,1825.00) scale(1.0000,1.0500)" font-size="38" font-weight="bold">triple</text>
<text x="0" y="0" transform="translate(1341.75,1958.30) scale(0.9528,1.0500)" font-size="39" font-style="italic" font-weight="bold">EC</text>
<text x="0" y="0" transform="translate(1392.84,1966.10) scale(0.9310,1.0500)" font-size="28.7" font-style="italic" font-weight="bold">50</text>
<text x="0" y="0" transform="translate(1432.55,1958.30) scale(1.0006,1.0500)" font-size="37.5" font-weight="bold">values (nM)</text>
<text x="0" y="0" transform="translate(880.54,1341.20) scale(1,1.05)" font-size="33" font-weight="bold">420</text>
<text x="938.44" y="1337.92" style="font-family:'Noto Sans CJK JP', 'Liberation Sans', sans-serif" font-size="27">±</text>
<text x="0" y="0" transform="translate(968.60,1341.20) scale(1,1.05)" font-size="33" font-weight="bold">50*</text>
<text x="0" y="0" transform="translate(880.54,1380.80) scale(1,1.05)" font-size="33" font-weight="bold">400</text>
<text x="938.44" y="1377.52" style="font-family:'Noto Sans CJK JP', 'Liberation Sans', sans-serif" font-size="27">±</text>
<text x="0" y="0" transform="translate(968.60,1380.80) scale(1,1.05)" font-size="33" font-weight="bold">90*</text>
<text x="0" y="0" transform="translate(886.94,1463.80) scale(1,1.05)" font-size="33" font-weight="bold">162</text>
<text x="944.84" y="1460.52" style="font-family:'Noto Sans CJK JP', 'Liberation Sans', sans-serif" font-size="27">±</text>
<text x="0" y="0" transform="translate(975.00,1463.80) scale(1,1.05)" font-size="33" font-weight="bold">84</text>
<text x="0" y="0" transform="translate(886.94,1503.40) scale(1,1.05)" font-size="33" font-weight="bold">101</text>
<text x="944.84" y="1500.12" style="font-family:'Noto Sans CJK JP', 'Liberation Sans', sans-serif" font-size="27">±</text>
<text x="0" y="0" transform="translate(975.00,1503.40) scale(1,1.05)" font-size="33" font-weight="bold">21</text>
<text x="0" y="0" transform="translate(886.94,1576.20) scale(1,1.05)" font-size="33" font-weight="bold">103</text>
<text x="944.84" y="1572.92" style="font-family:'Noto Sans CJK JP', 'Liberation Sans', sans-serif" font-size="27">±</text>
<text x="0" y="0" transform="translate(975.00,1576.20) scale(1,1.05)" font-size="33" font-weight="bold">30</text>
<text x="0" y="0" transform="translate(886.94,1615.50) scale(1,1.05)" font-size="33" font-weight="bold">137</text>
<text x="944.84" y="1612.22" style="font-family:'Noto Sans CJK JP', 'Liberation Sans', sans-serif" font-size="27">±</text>
<text x="0" y="0" transform="translate(975.00,1615.50) scale(1,1.05)" font-size="33" font-weight="bold">14</text>
<text x="0" y="0" transform="translate(886.94,1701.40) scale(1,1.05)" font-size="33" font-weight="bold">438</text>
<text x="944.84" y="1698.12" style="font-family:'Noto Sans CJK JP', 'Liberation Sans', sans-serif" font-size="27">±</text>
<text x="0" y="0" transform="translate(975.00,1701.40) scale(1,1.05)" font-size="33" font-weight="bold">66</text>
<text x="0" y="0" transform="translate(886.94,1741.00) scale(1,1.05)" font-size="33" font-weight="bold">412</text>
<text x="944.84" y="1737.72" style="font-family:'Noto Sans CJK JP', 'Liberation Sans', sans-serif" font-size="27">±</text>
<text x="0" y="0" transform="translate(975.00,1741.00) scale(1,1.05)" font-size="33" font-weight="bold">57</text>
<text x="0" y="0" transform="translate(896.64,1812.90) scale(1,1.05)" font-size="33" font-weight="bold">186</text>
<text x="954.54" y="1809.62" style="font-family:'Noto Sans CJK JP', 'Liberation Sans', sans-serif" font-size="27">±</text>
<text x="0" y="0" transform="translate(984.70,1812.90) scale(1,1.05)" font-size="33" font-weight="bold">11</text>
<text x="0" y="0" transform="translate(894.84,1852.40) scale(1,1.05)" font-size="33" font-weight="bold">113</text>
<text x="952.74" y="1849.12" style="font-family:'Noto Sans CJK JP', 'Liberation Sans', sans-serif" font-size="27">±</text>
<text x="0" y="0" transform="translate(982.90,1852.40) scale(1,1.05)" font-size="33" font-weight="bold">36</text>
<text x="0" y="0" transform="translate(1527.59,1341.40) scale(1,1.05)" font-size="33" font-weight="bold" fill="#00AAEC">39</text>
<text x="1567.14" y="1338.12" style="font-family:'Noto Sans CJK JP', 'Liberation Sans', sans-serif" font-size="27" fill="#00AAEC">±</text>
<text x="0" y="0" transform="translate(1597.30,1341.40) scale(1,1.05)" font-size="33" font-weight="bold" fill="#00AAEC">1*</text>
<text x="0" y="0" transform="translate(1527.59,1380.80) scale(1,1.05)" font-size="33" font-weight="bold" fill="#00AAEC">50</text>
<text x="1567.14" y="1377.52" style="font-family:'Noto Sans CJK JP', 'Liberation Sans', sans-serif" font-size="27" fill="#00AAEC">±</text>
<text x="0" y="0" transform="translate(1597.30,1380.80) scale(1,1.05)" font-size="33" font-weight="bold" fill="#00AAEC">5*</text>
<text x="0" y="0" transform="translate(1533.79,1463.70) scale(1,1.05)" font-size="33" font-weight="bold" fill="#00AAEC">25</text>
<text x="1573.34" y="1460.42" style="font-family:'Noto Sans CJK JP', 'Liberation Sans', sans-serif" font-size="27" fill="#00AAEC">±</text>
<text x="0" y="0" transform="translate(1603.50,1463.70) scale(1,1.05)" font-size="33" font-weight="bold" fill="#00AAEC">4</text>
<text x="0" y="0" transform="translate(1533.79,1502.70) scale(1,1.05)" font-size="33" font-weight="bold" fill="#00AAEC">16</text>
<text x="1573.34" y="1499.42" style="font-family:'Noto Sans CJK JP', 'Liberation Sans', sans-serif" font-size="27" fill="#00AAEC">±</text>
<text x="0" y="0" transform="translate(1603.50,1502.70) scale(1,1.05)" font-size="33" font-weight="bold" fill="#00AAEC">2</text>
<text x="0" y="0" transform="translate(1524.79,1575.90) scale(1,1.05)" font-size="33" font-weight="bold" fill="#00AAEC">20</text>
<text x="1564.34" y="1572.62" style="font-family:'Noto Sans CJK JP', 'Liberation Sans', sans-serif" font-size="27" fill="#00AAEC">±</text>
<text x="0" y="0" transform="translate(1594.50,1575.90) scale(1,1.05)" font-size="33" font-weight="bold" fill="#00AAEC">15</text>
<text x="0" y="0" transform="translate(1533.79,1615.20) scale(1,1.05)" font-size="33" font-weight="bold" fill="#00AAEC">20</text>
<text x="1573.34" y="1611.92" style="font-family:'Noto Sans CJK JP', 'Liberation Sans', sans-serif" font-size="27" fill="#00AAEC">±</text>
<text x="0" y="0" transform="translate(1603.50,1615.20) scale(1,1.05)" font-size="33" font-weight="bold" fill="#00AAEC">8</text>
<text x="0" y="0" transform="translate(1524.79,1701.00) scale(1,1.05)" font-size="33" font-weight="bold" fill="#00AAEC">38</text>
<text x="1564.34" y="1697.72" style="font-family:'Noto Sans CJK JP', 'Liberation Sans', sans-serif" font-size="27" fill="#00AAEC">±</text>
<text x="0" y="0" transform="translate(1594.50,1701.00) scale(1,1.05)" font-size="33" font-weight="bold" fill="#00AAEC">12</text>
<text x="0" y="0" transform="translate(1533.79,1740.00) scale(1,1.05)" font-size="33" font-weight="bold" fill="#00AAEC">37</text>
<text x="1573.34" y="1736.72" style="font-family:'Noto Sans CJK JP', 'Liberation Sans', sans-serif" font-size="27" fill="#00AAEC">±</text>
<text x="0" y="0" transform="translate(1603.50,1740.00) scale(1,1.05)" font-size="33" font-weight="bold" fill="#00AAEC">2</text>
<text x="0" y="0" transform="translate(1534.29,1812.50) scale(1,1.05)" font-size="33" font-weight="bold" fill="#00AAEC">39</text>
<text x="1573.84" y="1809.22" style="font-family:'Noto Sans CJK JP', 'Liberation Sans', sans-serif" font-size="27" fill="#00AAEC">±</text>
<text x="0" y="0" transform="translate(1604.00,1812.50) scale(1,1.05)" font-size="33" font-weight="bold" fill="#00AAEC">14</text>
<text x="0" y="0" transform="translate(1534.29,1851.50) scale(1,1.05)" font-size="33" font-weight="bold" fill="#00AAEC">44</text>
<text x="1573.84" y="1848.22" style="font-family:'Noto Sans CJK JP', 'Liberation Sans', sans-serif" font-size="27" fill="#00AAEC">±</text>
<text x="0" y="0" transform="translate(1604.00,1851.50) scale(1,1.05)" font-size="33" font-weight="bold" fill="#00AAEC">17</text>
</svg></body></html>
